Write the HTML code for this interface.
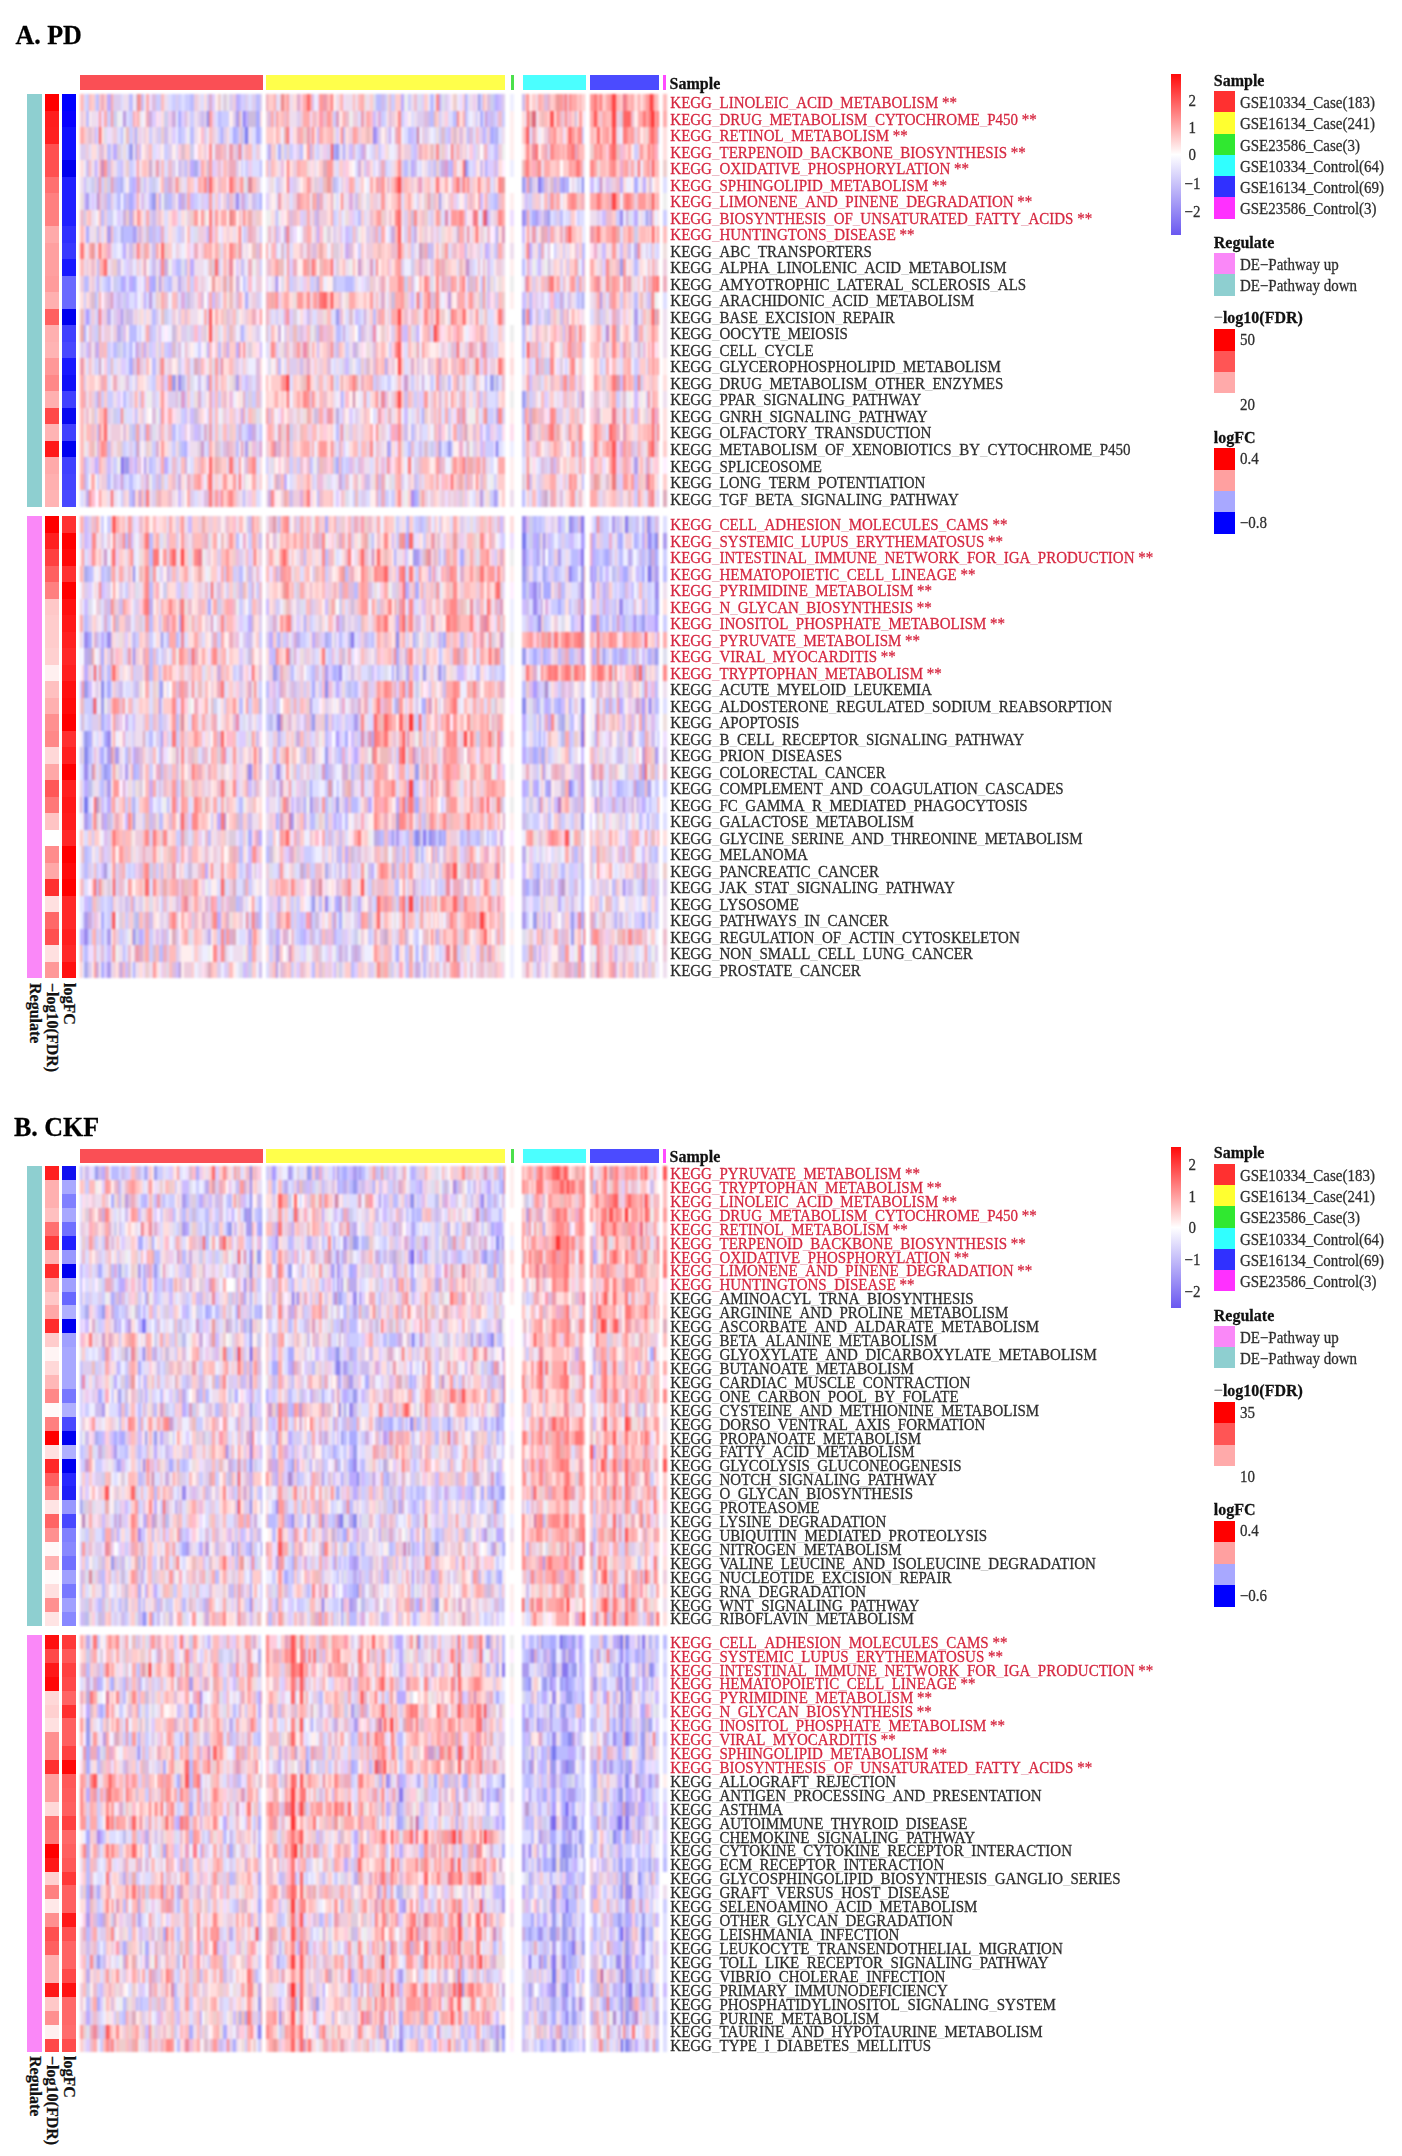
<!DOCTYPE html><html><head><meta charset="utf-8"><style>
html,body{margin:0;padding:0;background:#fff}
body{width:1402px;height:2156px;position:relative;overflow:hidden;font-family:"Liberation Serif", serif}
.a{position:absolute}
.t{position:absolute;white-space:nowrap;font-size:15px;line-height:15px;color:#2e2e2e;-webkit-text-stroke:0.25px currentColor;transform:scaleY(1.06);transform-origin:0 12.6px}
s{text-decoration:none;color:#c8c8c8;-webkit-text-stroke:0}
.r{color:#d62841}
.r s{color:#eab0bc}
.b{font-weight:bold;color:#111;font-size:16px;line-height:16px;transform-origin:0 13.4px}
.m{color:#888}
.h{position:absolute;left:80.3px;width:587px}
</style></head><body>
<div class="t" style="left:15.4px;top:22.8px;font-size:26px;line-height:26px;font-weight:bold;color:#000;transform:scaleY(1.06);transform-origin:0 21.8px">A. PD</div>
<div class="a" style="left:80.3px;top:75.3px;width:182.4px;height:15.2px;background:#fa4f55"></div>
<div class="a" style="left:266.4px;top:75.3px;width:239.1px;height:15.2px;background:#ffff4b"></div>
<div class="a" style="left:510.5px;top:75.3px;width:3.5px;height:15.2px;background:#4be04b"></div>
<div class="a" style="left:522.5px;top:75.3px;width:63.3px;height:15.2px;background:#4bffff"></div>
<div class="a" style="left:590.2px;top:75.3px;width:69.0px;height:15.2px;background:#4b4bff"></div>
<div class="a" style="left:663.4px;top:75.3px;width:3.0px;height:15.2px;background:#ff4bff"></div>
<div class="t b" style="left:669.6px;top:76.3px">Sample</div>
<div class="a" style="left:80.3px;top:94.00px;width:587px;height:413.00px;filter:blur(1.00px)">
<div class="a" style="left:0;width:587px;top:0.00px;height:16.92px;background:linear-gradient(90deg,#fbb 0 4px,#ddf 0 6px,#ccf 0 9px,#fbb 0 11px,#fcc 0 15px,#ccf 0 17px,#bbf 0 19px,#fcc 0 21px,#eab 0 24px,#fcc 0 27px,#baf 0 31px,#faa 0 33px,#dce 0 41px,#ddf 0 43px,#ede 0 49px,#bbf 0 53px,#fee 0 55px,#ddf 0 57px,#e88 0 59px,#f99 0 61px,#cbe 0 64px,#eef 0 66px,#faa 0 69px,#edf 0 72px,#dbd 0 76px,#ccf 0 81px,#fbb 0 84px,#ede 0 88px,#ddf 0 92px,#ccf 0 96px,#dce 0 98px,#ccf 0 101px,#ddf 0 105px,#ccf 0 110px,#bbf 0 114px,#ecd 0 118px,#ede 0 121px,#ddf 0 124px,#fdd 0 127px,#ccf 0 129px,#dac 0 132px,#dcf 0 135px,#fee 0 138px,#ecc 0 141px,#eef 0 143px,#dcd 0 147px,#eee 0 149px,#dce 0 153px,#ecd 0 156px,#baf 0 159px,#bbf 0 161px,#dcf 0 163px,#ccf 0 165px,#dce 0 168px,#ddf 0 172px,#dce 0 176px,#bbf 0 180px,#dce 0 182px,#fff 0 186px,#eab 0 188px,#fcc 0 194px,#faa 0 196px,#ddf 0 198px,#ede 0 201px,#e88 0 204px,#fbb 0 207px,#f99 0 209px,#ede 0 213px,#fdd 0 217px,#dac 0 220px,#fcd 0 223px,#faa 0 227px,#f66 0 230px,#faa 0 232px,#dbe 0 234px,#eef 0 237px,#edf 0 239px,#f99 0 243px,#e9a 0 247px,#fbb 0 251px,#f77 0 253px,#fee 0 256px,#ede 0 259px,#fcc 0 261px,#faa 0 263px,#edf 0 265px,#ede 0 273px,#fbb 0 275px,#ede 0 278px,#fbb 0 281px,#faa 0 284px,#edd 0 286px,#ede 0 290px,#fcc 0 293px,#dde 0 296px,#bbf 0 301px,#cbe 0 305px,#ccf 0 307px,#edd 0 309px,#ebc 0 311px,#ccf 0 315px,#fcc 0 321px,#baf 0 324px,#eee 0 328px,#ccf 0 331px,#ede 0 334px,#ebc 0 337px,#ddf 0 339px,#dde 0 342px,#dcf 0 344px,#fcc 0 348px,#eef 0 350px,#bbf 0 354px,#eef 0 356px,#f88 0 359px,#baf 0 361px,#dde 0 365px,#dce 0 368px,#edf 0 371px,#fee 0 373px,#ecc 0 377px,#eef 0 379px,#edf 0 383px,#fcc 0 385px,#aaf 0 387px,#ddf 0 389px,#ede 0 393px,#ece 0 396px,#ede 0 398px,#99e 0 400px,#ccf 0 403px,#fbb 0 405px,#fdd 0 407px,#dbd 0 410px,#cce 0 414px,#bbf 0 416px,#baf 0 418px,#cbf 0 422px,#dce 0 425px,#fff 0 430px,#eef 0 434px,#fff 0 442px,#cbe 0 445px,#fbb 0 447px,#f88 0 449px,#fee 0 452px,#fcc 0 456px,#ede 0 458px,#faa 0 461px,#fbb 0 464px,#dbd 0 468px,#eab 0 470px,#fcc 0 474px,#fbb 0 476px,#e99 0 480px,#f99 0 483px,#eab 0 485px,#f77 0 487px,#ecd 0 489px,#f88 0 491px,#faa 0 497px,#fcc 0 499px,#fbb 0 502px,#fdd 0 504px,#fbb 0 505px,#fff 0 510px,#f99 0 514px,#f77 0 517px,#faa 0 520px,#f77 0 522px,#fcc 0 526px,#faa 0 529px,#f99 0 532px,#f44 0 536px,#fbb 0 540px,#fcc 0 543px,#e78 0 546px,#f99 0 548px,#fbb 0 551px,#faa 0 554px,#fdd 0 558px,#faa 0 560px,#fdd 0 563px,#fbb 0 566px,#f99 0 570px,#f33 0 572px,#f66 0 574px,#fbb 0 578px,#fdd 0 579px,#fff 0 583px,#fbb 0 586px)"></div>
<div class="a" style="left:0;width:587px;top:16.52px;height:16.92px;background:linear-gradient(90deg,#ecd 0 4px,#fdd 0 6px,#bbf 0 9px,#fee 0 11px,#ede 0 17px,#edf 0 19px,#f99 0 21px,#edf 0 24px,#faa 0 27px,#ccf 0 31px,#f99 0 33px,#cce 0 37px,#eee 0 41px,#eef 0 43px,#b9d 0 46px,#ddf 0 49px,#ccf 0 53px,#faa 0 55px,#fcd 0 57px,#faa 0 59px,#edd 0 61px,#eef 0 64px,#fee 0 66px,#eab 0 69px,#cad 0 72px,#dcf 0 76px,#fde 0 79px,#edf 0 81px,#fdd 0 84px,#cce 0 88px,#ece 0 92px,#cad 0 96px,#eef 0 98px,#aaf 0 101px,#dcf 0 105px,#dbd 0 107px,#ede 0 110px,#ccf 0 114px,#ede 0 118px,#dce 0 121px,#cbe 0 124px,#dce 0 127px,#88e 0 129px,#f99 0 132px,#ece 0 135px,#ddf 0 138px,#bbf 0 141px,#ccf 0 149px,#fee 0 153px,#dce 0 156px,#a9e 0 159px,#ebb 0 161px,#ddf 0 163px,#87e 0 165px,#baf 0 168px,#cbd 0 176px,#aaf 0 180px,#fdd 0 182px,#fff 0 186px,#ecd 0 188px,#dbd 0 191px,#faa 0 194px,#ddf 0 196px,#f99 0 198px,#fcc 0 201px,#fbb 0 204px,#ebc 0 207px,#faa 0 209px,#ede 0 217px,#dce 0 220px,#ecd 0 223px,#faa 0 230px,#edf 0 232px,#fbb 0 234px,#ebc 0 237px,#fdd 0 239px,#f9a 0 243px,#ebc 0 247px,#f99 0 251px,#fbb 0 253px,#ccf 0 256px,#d9b 0 259px,#fee 0 261px,#fdd 0 263px,#faa 0 265px,#ebc 0 269px,#eee 0 273px,#ecd 0 278px,#ddf 0 281px,#e9a 0 284px,#ede 0 286px,#faa 0 290px,#fbc 0 293px,#cbf 0 296px,#ede 0 298px,#dad 0 301px,#ccf 0 305px,#ddf 0 307px,#fdd 0 309px,#dbd 0 311px,#ecd 0 315px,#fdd 0 318px,#f88 0 321px,#ccf 0 324px,#edf 0 328px,#fee 0 331px,#ddf 0 334px,#ede 0 337px,#dce 0 344px,#dbd 0 348px,#cbe 0 350px,#bbf 0 354px,#ebb 0 356px,#fcc 0 359px,#ccf 0 361px,#ede 0 365px,#fcd 0 368px,#ddf 0 373px,#bbf 0 377px,#f88 0 379px,#fdd 0 383px,#faa 0 385px,#bbf 0 387px,#ddf 0 389px,#eef 0 393px,#ede 0 396px,#ccf 0 398px,#fee 0 400px,#aaf 0 403px,#ddf 0 405px,#c9c 0 407px,#cbf 0 410px,#cbe 0 414px,#ccf 0 416px,#dcf 0 418px,#ebc 0 422px,#ccf 0 425px,#fff 0 430px,#fee 0 434px,#fff 0 442px,#fdd 0 445px,#ede 0 447px,#f66 0 449px,#ebb 0 452px,#d67 0 456px,#eef 0 458px,#fcc 0 461px,#ebb 0 464px,#fbb 0 468px,#fdd 0 470px,#f55 0 474px,#fee 0 476px,#f99 0 480px,#ebc 0 483px,#ecd 0 485px,#f88 0 487px,#ecd 0 489px,#fab 0 491px,#fcc 0 495px,#cbd 0 497px,#fee 0 499px,#f99 0 502px,#fee 0 504px,#edf 0 505px,#fff 0 510px,#faa 0 514px,#f55 0 517px,#fbb 0 520px,#ecd 0 522px,#faa 0 526px,#fbb 0 532px,#f44 0 536px,#ecd 0 540px,#dcd 0 543px,#f66 0 551px,#ebc 0 554px,#fee 0 558px,#faa 0 563px,#f77 0 566px,#faa 0 568px,#f88 0 570px,#f66 0 572px,#f22 0 574px,#f99 0 578px,#f66 0 579px,#fff 0 583px,#faa 0 586px)"></div>
<div class="a" style="left:0;width:587px;top:33.04px;height:16.92px;background:linear-gradient(90deg,#faa 0 4px,#fcc 0 6px,#ecd 0 9px,#dbc 0 11px,#ecd 0 15px,#cbf 0 17px,#ddf 0 19px,#f55 0 21px,#fdd 0 24px,#dde 0 27px,#edf 0 31px,#ede 0 33px,#ecd 0 37px,#ddf 0 41px,#bbf 0 43px,#eee 0 46px,#ebb 0 49px,#ccf 0 53px,#ecd 0 55px,#aaf 0 57px,#edd 0 59px,#ece 0 61px,#ede 0 64px,#ecd 0 66px,#fdd 0 69px,#ccf 0 72px,#ede 0 76px,#dce 0 79px,#ccf 0 81px,#ecc 0 84px,#cbe 0 88px,#ede 0 92px,#dcf 0 96px,#eef 0 98px,#bbf 0 101px,#ccf 0 105px,#edf 0 107px,#eee 0 110px,#bbf 0 114px,#ede 0 118px,#fee 0 121px,#fbc 0 124px,#dce 0 127px,#eef 0 129px,#fbb 0 132px,#ecd 0 135px,#ede 0 138px,#ccf 0 141px,#aaf 0 143px,#dce 0 147px,#fdd 0 149px,#ddf 0 153px,#aaf 0 156px,#bbf 0 159px,#ecd 0 161px,#cbd 0 163px,#ccf 0 165px,#77e 0 168px,#ede 0 172px,#ddf 0 176px,#aaf 0 180px,#ccf 0 182px,#fff 0 186px,#fcc 0 194px,#fee 0 196px,#faa 0 198px,#fcc 0 201px,#eef 0 204px,#eaa 0 207px,#f66 0 209px,#edf 0 213px,#fdd 0 217px,#eab 0 220px,#faa 0 223px,#ecc 0 227px,#e9a 0 230px,#ecd 0 232px,#f88 0 234px,#fdd 0 237px,#cbf 0 239px,#faa 0 243px,#fcc 0 247px,#fbb 0 251px,#faa 0 253px,#edd 0 256px,#dcf 0 259px,#fdd 0 261px,#f88 0 263px,#bbf 0 265px,#fdd 0 269px,#ecd 0 273px,#f99 0 275px,#faa 0 278px,#ecd 0 281px,#fcc 0 286px,#ebb 0 290px,#fcc 0 293px,#98e 0 296px,#baf 0 298px,#dce 0 301px,#fee 0 305px,#ecd 0 307px,#ddf 0 309px,#cae 0 311px,#eef 0 315px,#eab 0 318px,#f99 0 321px,#eef 0 324px,#ddf 0 328px,#bbf 0 331px,#cbf 0 334px,#ccf 0 337px,#c79 0 339px,#eef 0 342px,#ecd 0 344px,#dce 0 348px,#ede 0 350px,#eef 0 354px,#ddf 0 356px,#edd 0 359px,#ccf 0 361px,#dbc 0 365px,#ccf 0 368px,#cbf 0 371px,#fcc 0 373px,#dbc 0 377px,#fdd 0 379px,#dbd 0 383px,#fdd 0 385px,#ede 0 387px,#bbf 0 389px,#dbd 0 393px,#ddf 0 396px,#fbb 0 398px,#ece 0 400px,#dce 0 403px,#baf 0 405px,#ccf 0 407px,#ecd 0 410px,#aaf 0 414px,#bbf 0 416px,#aae 0 418px,#ddf 0 422px,#ede 0 425px,#fff 0 430px,#fee 0 434px,#fff 0 442px,#fcc 0 445px,#f99 0 447px,#f44 0 449px,#ddf 0 452px,#eab 0 456px,#fdd 0 458px,#eef 0 461px,#fee 0 464px,#ecd 0 468px,#eab 0 470px,#faa 0 474px,#f88 0 476px,#fcc 0 480px,#fbb 0 483px,#edf 0 485px,#fdd 0 487px,#faa 0 489px,#f55 0 491px,#f99 0 495px,#fcc 0 497px,#f99 0 499px,#f88 0 502px,#ccf 0 504px,#fff 0 505px,#fff 0 510px,#fbb 0 514px,#fcc 0 517px,#f66 0 520px,#fdd 0 522px,#faa 0 526px,#f99 0 529px,#fcc 0 532px,#f55 0 536px,#ede 0 540px,#eef 0 543px,#f77 0 546px,#f88 0 548px,#faa 0 551px,#f99 0 554px,#ecd 0 558px,#faa 0 560px,#fee 0 563px,#fcc 0 566px,#edd 0 568px,#faa 0 570px,#f77 0 572px,#f66 0 574px,#f99 0 578px,#ccf 0 579px,#fff 0 583px,#fdd 0 586px)"></div>
<div class="a" style="left:0;width:587px;top:49.56px;height:16.92px;background:linear-gradient(90deg,#dce 0 6px,#ecd 0 9px,#ddf 0 11px,#fdd 0 17px,#ddf 0 19px,#ebc 0 21px,#dbd 0 24px,#fdd 0 27px,#bbf 0 31px,#ede 0 33px,#baf 0 37px,#dcd 0 41px,#ddf 0 43px,#edd 0 46px,#ddf 0 49px,#99e 0 53px,#fee 0 55px,#aaf 0 57px,#fbb 0 59px,#cbf 0 61px,#fee 0 64px,#fdd 0 66px,#ecd 0 69px,#fbb 0 72px,#ddf 0 76px,#edf 0 79px,#ede 0 81px,#fee 0 84px,#ccf 0 88px,#dce 0 92px,#fee 0 96px,#ddf 0 98px,#fcd 0 101px,#dbc 0 105px,#fcc 0 110px,#cce 0 114px,#fef 0 118px,#fcc 0 121px,#fdd 0 124px,#ecd 0 127px,#fef 0 129px,#f88 0 132px,#eef 0 135px,#eab 0 141px,#fbb 0 143px,#ebc 0 147px,#eef 0 149px,#e9a 0 153px,#ecd 0 156px,#dbd 0 159px,#f77 0 161px,#ccf 0 163px,#fdd 0 165px,#ebc 0 168px,#fbb 0 172px,#ddf 0 176px,#ecd 0 180px,#eef 0 182px,#fff 0 186px,#ddf 0 188px,#bae 0 191px,#fcc 0 194px,#ecc 0 196px,#eef 0 198px,#aaf 0 201px,#edd 0 204px,#ccf 0 207px,#ecc 0 209px,#ccf 0 213px,#edf 0 217px,#dce 0 220px,#bbf 0 223px,#fee 0 227px,#f99 0 230px,#bbf 0 232px,#fbb 0 234px,#ddf 0 237px,#ccf 0 239px,#ede 0 243px,#ece 0 247px,#dce 0 251px,#f55 0 253px,#aaf 0 256px,#99e 0 259px,#ddf 0 261px,#ede 0 263px,#aaf 0 265px,#ede 0 269px,#cbf 0 273px,#ebc 0 275px,#ddf 0 278px,#ccf 0 281px,#cae 0 284px,#dac 0 286px,#eef 0 290px,#ddf 0 293px,#dce 0 296px,#fcc 0 298px,#ccf 0 301px,#edf 0 305px,#fdd 0 307px,#edd 0 309px,#eef 0 315px,#ede 0 318px,#eab 0 321px,#fdd 0 324px,#ecd 0 331px,#ccf 0 334px,#cbf 0 337px,#ecd 0 339px,#eab 0 342px,#fcc 0 344px,#fbb 0 348px,#fdd 0 350px,#ebb 0 354px,#ede 0 356px,#f88 0 359px,#dde 0 361px,#ecc 0 365px,#ece 0 368px,#eef 0 371px,#f77 0 373px,#ecd 0 377px,#faa 0 379px,#ecd 0 383px,#fdd 0 385px,#ecd 0 387px,#eef 0 389px,#fcd 0 393px,#dcf 0 396px,#dde 0 398px,#ecd 0 400px,#fff 0 403px,#ecd 0 405px,#faa 0 407px,#dcf 0 410px,#ddf 0 414px,#cbf 0 416px,#bbf 0 418px,#ecd 0 422px,#eee 0 425px,#fff 0 430px,#fee 0 434px,#fff 0 442px,#fee 0 445px,#fbb 0 447px,#f77 0 449px,#fcc 0 452px,#e89 0 456px,#f66 0 458px,#fee 0 461px,#fbb 0 464px,#eab 0 468px,#ddf 0 470px,#f88 0 474px,#faa 0 480px,#fbb 0 483px,#faa 0 485px,#fcc 0 487px,#f88 0 489px,#f99 0 491px,#f77 0 495px,#dac 0 497px,#f99 0 499px,#fbb 0 504px,#fdd 0 505px,#fff 0 510px,#ecc 0 514px,#f99 0 517px,#faa 0 520px,#f88 0 522px,#fbb 0 526px,#fcd 0 529px,#f88 0 532px,#f66 0 536px,#ebb 0 540px,#ebd 0 543px,#fbc 0 546px,#fdd 0 548px,#faa 0 551px,#fee 0 554px,#ccf 0 558px,#ecd 0 560px,#f99 0 563px,#fcc 0 568px,#f77 0 570px,#fbb 0 572px,#f88 0 574px,#fab 0 578px,#eef 0 579px,#fff 0 583px,#fdd 0 586px)"></div>
<div class="a" style="left:0;width:587px;top:66.08px;height:16.92px;background:linear-gradient(90deg,#fdd 0 4px,#eef 0 6px,#cbe 0 9px,#fbb 0 11px,#ede 0 15px,#baf 0 17px,#edf 0 19px,#fbb 0 21px,#c8b 0 24px,#f99 0 27px,#cbe 0 31px,#fcc 0 33px,#ede 0 37px,#ccf 0 41px,#cbf 0 43px,#ede 0 46px,#ecc 0 49px,#ccf 0 53px,#ddf 0 55px,#edf 0 57px,#f99 0 59px,#eef 0 61px,#fcc 0 64px,#fbb 0 66px,#fcc 0 69px,#cac 0 72px,#ede 0 76px,#e9a 0 79px,#ddf 0 81px,#fbb 0 84px,#ddf 0 88px,#ebc 0 92px,#dce 0 96px,#fff 0 98px,#cbe 0 101px,#dce 0 105px,#bbf 0 107px,#ecd 0 110px,#baf 0 114px,#aae 0 118px,#dcf 0 121px,#faa 0 124px,#fcc 0 127px,#cbd 0 129px,#f99 0 132px,#dcf 0 135px,#ece 0 138px,#ebc 0 141px,#edf 0 143px,#fbb 0 147px,#ecd 0 149px,#eab 0 156px,#dce 0 159px,#fee 0 161px,#ccf 0 163px,#eef 0 165px,#ccf 0 168px,#ece 0 172px,#ddf 0 180px,#bbf 0 182px,#fff 0 186px,#fbb 0 188px,#dce 0 191px,#fbb 0 194px,#fcc 0 196px,#fdd 0 198px,#ede 0 201px,#ebd 0 204px,#fee 0 207px,#f77 0 209px,#fdd 0 213px,#ecd 0 217px,#faa 0 220px,#fbb 0 227px,#edd 0 230px,#fde 0 232px,#fdd 0 234px,#ede 0 237px,#fee 0 239px,#fcc 0 243px,#dab 0 247px,#f99 0 253px,#ede 0 256px,#ddf 0 259px,#fcc 0 263px,#ece 0 265px,#fcd 0 269px,#fee 0 273px,#fff 0 275px,#ddf 0 278px,#cad 0 281px,#fdd 0 284px,#ccf 0 286px,#ebd 0 290px,#fdd 0 293px,#ddf 0 296px,#fef 0 298px,#dce 0 301px,#eab 0 305px,#ccf 0 307px,#ddf 0 311px,#ede 0 315px,#fcc 0 318px,#f88 0 321px,#dce 0 324px,#bbf 0 328px,#dde 0 331px,#baf 0 334px,#cbe 0 337px,#eef 0 339px,#ddf 0 342px,#fee 0 344px,#ede 0 348px,#ccf 0 350px,#dce 0 354px,#bbf 0 356px,#ecc 0 359px,#ccf 0 361px,#cad 0 365px,#d9c 0 368px,#bbf 0 371px,#baf 0 373px,#fbb 0 377px,#eef 0 379px,#fdd 0 383px,#f66 0 385px,#88e 0 387px,#bbf 0 389px,#ddf 0 393px,#dcf 0 396px,#fdd 0 398px,#fee 0 400px,#cbe 0 403px,#fde 0 405px,#aaf 0 407px,#dcf 0 414px,#dbd 0 416px,#cbf 0 418px,#fdd 0 422px,#fef 0 425px,#fff 0 430px,#eef 0 434px,#fff 0 442px,#ebb 0 445px,#f88 0 447px,#f77 0 449px,#fbb 0 452px,#fab 0 456px,#eaa 0 458px,#f88 0 461px,#ede 0 464px,#faa 0 470px,#fcc 0 476px,#fbb 0 480px,#fff 0 483px,#fcc 0 489px,#f99 0 491px,#faa 0 495px,#f99 0 497px,#f66 0 499px,#f99 0 502px,#ecd 0 504px,#eef 0 505px,#fff 0 510px,#f88 0 514px,#faa 0 517px,#edd 0 520px,#fbb 0 526px,#fcc 0 529px,#f99 0 532px,#f88 0 536px,#fcc 0 540px,#eac 0 543px,#faa 0 546px,#f99 0 548px,#ecd 0 551px,#faa 0 554px,#ede 0 558px,#f66 0 560px,#eef 0 563px,#fbb 0 566px,#faa 0 568px,#f99 0 570px,#ecd 0 572px,#f55 0 574px,#fbb 0 579px,#fff 0 583px,#ecc 0 586px)"></div>
<div class="a" style="left:0;width:587px;top:82.60px;height:16.92px;background:linear-gradient(90deg,#ede 0 4px,#cbf 0 6px,#dde 0 9px,#ddf 0 11px,#cce 0 15px,#ecd 0 17px,#bbf 0 19px,#f99 0 21px,#ccf 0 24px,#ecc 0 27px,#cce 0 31px,#e9a 0 33px,#cbe 0 37px,#bbf 0 41px,#aae 0 43px,#ddf 0 46px,#fee 0 49px,#bbf 0 53px,#baf 0 55px,#cbf 0 57px,#e9a 0 59px,#dbd 0 61px,#dde 0 64px,#cbf 0 66px,#ede 0 69px,#ccf 0 72px,#cce 0 76px,#ddf 0 79px,#fee 0 81px,#fbb 0 84px,#cbe 0 88px,#dac 0 92px,#ecd 0 96px,#f88 0 98px,#ecc 0 101px,#ede 0 105px,#ddf 0 107px,#fbb 0 110px,#fcc 0 114px,#edf 0 118px,#faa 0 121px,#fbb 0 124px,#f88 0 127px,#cbe 0 129px,#f66 0 132px,#fbb 0 135px,#fdd 0 138px,#ebc 0 141px,#fbb 0 147px,#fef 0 149px,#f77 0 153px,#faa 0 156px,#ecd 0 159px,#fbb 0 161px,#f88 0 163px,#edd 0 165px,#dde 0 168px,#d89 0 172px,#fbb 0 176px,#ecd 0 180px,#eef 0 182px,#fff 0 186px,#eef 0 188px,#ede 0 191px,#edd 0 194px,#eef 0 196px,#ccf 0 198px,#dce 0 201px,#ede 0 204px,#fee 0 207px,#f77 0 209px,#dcf 0 213px,#dce 0 217px,#ede 0 220px,#fee 0 223px,#fcc 0 227px,#f99 0 230px,#ebc 0 232px,#fdd 0 234px,#dcd 0 237px,#ecd 0 239px,#dce 0 243px,#ebb 0 247px,#e99 0 251px,#ebc 0 253px,#bbe 0 256px,#ccf 0 259px,#eef 0 261px,#dce 0 263px,#fdd 0 265px,#ece 0 269px,#faa 0 273px,#fbb 0 275px,#ddf 0 278px,#ede 0 281px,#fcc 0 284px,#fff 0 286px,#eef 0 290px,#faa 0 293px,#fdd 0 296px,#f99 0 298px,#eab 0 301px,#f99 0 305px,#fee 0 307px,#eab 0 309px,#ede 0 311px,#fbb 0 315px,#f88 0 318px,#f44 0 321px,#ebc 0 324px,#fbb 0 328px,#fcc 0 331px,#ecd 0 334px,#fdd 0 337px,#ebc 0 339px,#e9b 0 342px,#ede 0 344px,#fcc 0 348px,#fbb 0 350px,#ede 0 354px,#fdd 0 356px,#f77 0 359px,#fcd 0 361px,#fdd 0 365px,#faa 0 368px,#fee 0 371px,#ece 0 373px,#faa 0 377px,#f66 0 379px,#ebc 0 383px,#f77 0 385px,#fcc 0 387px,#f88 0 389px,#ecd 0 393px,#fcc 0 396px,#fdd 0 398px,#f77 0 400px,#fcc 0 403px,#fdd 0 405px,#ecd 0 407px,#faa 0 410px,#ddf 0 414px,#ecd 0 416px,#fee 0 418px,#f88 0 422px,#e99 0 425px,#fff 0 434px,#fff 0 442px,#99e 0 445px,#cbf 0 447px,#f99 0 449px,#aae 0 452px,#dce 0 456px,#ede 0 458px,#87e 0 461px,#aaf 0 464px,#dbd 0 468px,#ede 0 470px,#dbc 0 474px,#baf 0 476px,#dbd 0 480px,#aaf 0 483px,#a9e 0 485px,#bbf 0 487px,#aaf 0 489px,#fff 0 491px,#ede 0 495px,#eef 0 497px,#cce 0 499px,#ddf 0 502px,#88e 0 504px,#fff 0 505px,#fff 0 510px,#cbf 0 514px,#eef 0 517px,#ccf 0 520px,#c8b 0 522px,#ede 0 526px,#dbe 0 529px,#dce 0 532px,#ecd 0 536px,#ebc 0 540px,#baf 0 543px,#fdd 0 546px,#eef 0 551px,#fee 0 554px,#aaf 0 558px,#eef 0 560px,#ede 0 563px,#baf 0 566px,#fee 0 568px,#ecc 0 570px,#cbe 0 572px,#fff 0 574px,#fdd 0 578px,#fbb 0 579px,#fff 0 583px,#ddf 0 586px)"></div>
<div class="a" style="left:0;width:587px;top:99.12px;height:16.92px;background:linear-gradient(90deg,#edd 0 4px,#cbf 0 6px,#a9e 0 9px,#ddf 0 11px,#dcf 0 15px,#ddf 0 17px,#b8c 0 19px,#ebc 0 21px,#dce 0 24px,#dbd 0 27px,#bbf 0 31px,#ecd 0 33px,#ddf 0 37px,#bbf 0 41px,#fff 0 43px,#bbf 0 46px,#cbe 0 49px,#aaf 0 53px,#cbf 0 55px,#dcf 0 57px,#faa 0 59px,#eef 0 61px,#dbe 0 64px,#dde 0 66px,#edf 0 69px,#bbf 0 72px,#99e 0 76px,#fcc 0 79px,#baf 0 81px,#eee 0 84px,#bbe 0 88px,#bbf 0 92px,#dce 0 96px,#fee 0 98px,#baf 0 101px,#cad 0 105px,#ccf 0 107px,#faa 0 110px,#cbf 0 114px,#ccf 0 118px,#ddf 0 121px,#dce 0 124px,#dcf 0 127px,#ccf 0 129px,#f99 0 132px,#ddf 0 135px,#fcc 0 138px,#dcf 0 141px,#fee 0 143px,#ecd 0 147px,#bbf 0 149px,#ebc 0 153px,#dce 0 156px,#98e 0 159px,#ddf 0 161px,#dad 0 163px,#cad 0 165px,#ccf 0 168px,#ede 0 172px,#cbe 0 176px,#ccf 0 180px,#aaf 0 182px,#fff 0 186px,#dcf 0 188px,#ede 0 191px,#fee 0 196px,#ddf 0 198px,#e9a 0 201px,#fdd 0 204px,#ede 0 207px,#fcc 0 209px,#ddf 0 213px,#ecd 0 217px,#e9a 0 220px,#faa 0 223px,#fbb 0 227px,#faa 0 230px,#eef 0 232px,#eaa 0 234px,#faa 0 237px,#bae 0 239px,#eab 0 243px,#ede 0 247px,#fdd 0 251px,#eab 0 253px,#eee 0 256px,#ddf 0 259px,#fee 0 261px,#f88 0 263px,#ede 0 269px,#dad 0 273px,#ede 0 275px,#cbe 0 278px,#ecc 0 281px,#ede 0 284px,#fee 0 286px,#dde 0 290px,#fcc 0 293px,#ecd 0 298px,#ede 0 301px,#f99 0 305px,#ede 0 307px,#fdd 0 309px,#fee 0 311px,#fcc 0 315px,#fbb 0 318px,#f88 0 321px,#ddf 0 324px,#fcc 0 328px,#faa 0 331px,#fdd 0 334px,#eef 0 337px,#dce 0 339px,#fdd 0 342px,#eef 0 344px,#ecc 0 348px,#e9a 0 350px,#dcd 0 354px,#ebc 0 356px,#fcc 0 359px,#99e 0 361px,#ede 0 365px,#fee 0 368px,#ecd 0 371px,#fbb 0 373px,#ece 0 377px,#ddf 0 379px,#fee 0 383px,#fde 0 385px,#ccf 0 387px,#fcc 0 389px,#ebc 0 393px,#fcc 0 396px,#fff 0 398px,#f99 0 400px,#cbf 0 403px,#fde 0 405px,#faa 0 407px,#dce 0 410px,#ccf 0 414px,#bbf 0 418px,#ebc 0 422px,#fbb 0 425px,#fff 0 430px,#fee 0 434px,#fff 0 442px,#ede 0 445px,#cbf 0 447px,#dce 0 449px,#ccf 0 452px,#ecd 0 456px,#fcc 0 458px,#ecd 0 461px,#eef 0 464px,#fbb 0 468px,#ccf 0 470px,#f99 0 474px,#ecd 0 476px,#faa 0 480px,#eef 0 483px,#fdd 0 485px,#fee 0 487px,#faa 0 489px,#f99 0 491px,#f88 0 495px,#f99 0 497px,#ecc 0 499px,#fbb 0 502px,#eab 0 504px,#fcc 0 505px,#fff 0 510px,#faa 0 517px,#f77 0 520px,#f99 0 522px,#fbb 0 526px,#faa 0 529px,#eab 0 532px,#f44 0 536px,#faa 0 540px,#eef 0 543px,#f99 0 546px,#f77 0 548px,#f88 0 551px,#faa 0 554px,#ecd 0 558px,#f99 0 566px,#fcc 0 568px,#faa 0 570px,#ebb 0 572px,#f55 0 574px,#fbb 0 578px,#f99 0 579px,#fff 0 583px,#eee 0 586px)"></div>
<div class="a" style="left:0;width:587px;top:115.64px;height:16.92px;background:linear-gradient(90deg,#ebc 0 4px,#cce 0 6px,#fcc 0 9px,#fbb 0 11px,#ede 0 15px,#eef 0 17px,#fee 0 19px,#fbb 0 21px,#bbf 0 24px,#ecd 0 27px,#ccf 0 31px,#cce 0 33px,#eef 0 37px,#dcf 0 41px,#ddf 0 43px,#cad 0 46px,#ecc 0 49px,#bae 0 53px,#fbb 0 55px,#fee 0 57px,#f88 0 59px,#faa 0 61px,#fdd 0 64px,#ddf 0 66px,#faa 0 69px,#dce 0 72px,#cbe 0 76px,#ecd 0 79px,#ebc 0 81px,#fdd 0 84px,#ddf 0 88px,#fdd 0 92px,#fbc 0 96px,#fcd 0 98px,#ddf 0 101px,#fdd 0 105px,#eee 0 107px,#ecd 0 110px,#ecc 0 114px,#f99 0 118px,#fee 0 121px,#f99 0 124px,#edd 0 127px,#fff 0 129px,#f77 0 132px,#ede 0 135px,#f99 0 138px,#fdd 0 141px,#faa 0 147px,#fff 0 149px,#e88 0 153px,#f99 0 156px,#fee 0 159px,#fbb 0 161px,#ede 0 163px,#f88 0 165px,#fcc 0 168px,#eaa 0 172px,#ecd 0 176px,#ecc 0 180px,#fcc 0 182px,#fff 0 186px,#eee 0 191px,#fdd 0 194px,#ede 0 196px,#bbf 0 198px,#eee 0 201px,#fde 0 204px,#fee 0 207px,#fbb 0 209px,#dbd 0 213px,#ebc 0 217px,#fcc 0 220px,#dcf 0 223px,#dce 0 227px,#faa 0 230px,#ddf 0 232px,#fcc 0 234px,#cbe 0 237px,#cad 0 239px,#ecd 0 247px,#fdd 0 251px,#faa 0 253px,#ccf 0 256px,#ddf 0 259px,#fcc 0 261px,#ddf 0 263px,#eef 0 265px,#edd 0 269px,#ece 0 273px,#dcf 0 275px,#ddf 0 278px,#bbf 0 281px,#fcc 0 284px,#ddf 0 286px,#ede 0 290px,#ebc 0 293px,#fcc 0 296px,#faa 0 298px,#f99 0 301px,#ecc 0 305px,#ecd 0 307px,#fee 0 309px,#ebc 0 311px,#fdd 0 315px,#f88 0 318px,#f66 0 321px,#ede 0 324px,#dce 0 328px,#fbb 0 331px,#cbd 0 334px,#f88 0 337px,#ede 0 339px,#fcc 0 342px,#ebc 0 344px,#ecc 0 348px,#ddf 0 350px,#dce 0 354px,#fdd 0 356px,#f99 0 359px,#ebb 0 361px,#ddf 0 365px,#d8a 0 368px,#edf 0 371px,#f99 0 377px,#faa 0 379px,#f88 0 383px,#faa 0 385px,#dcf 0 387px,#fee 0 389px,#fde 0 393px,#e78 0 396px,#f77 0 398px,#eef 0 400px,#ddf 0 403px,#f66 0 405px,#c58 0 407px,#cbf 0 410px,#ede 0 414px,#ecd 0 418px,#f88 0 422px,#faa 0 425px,#fff 0 430px,#edf 0 434px,#fff 0 442px,#98e 0 445px,#aaf 0 447px,#faa 0 449px,#ccf 0 452px,#aaf 0 456px,#a9e 0 458px,#cbf 0 461px,#dce 0 464px,#bae 0 468px,#99e 0 470px,#ddf 0 474px,#ccf 0 476px,#dce 0 480px,#bbf 0 483px,#eef 0 485px,#ddf 0 489px,#dce 0 491px,#fcc 0 495px,#fef 0 497px,#ccf 0 499px,#ddf 0 504px,#eef 0 505px,#fff 0 510px,#ede 0 517px,#dce 0 520px,#edf 0 522px,#cbf 0 526px,#ebc 0 532px,#fcc 0 536px,#ccf 0 540px,#98e 0 543px,#eef 0 546px,#cad 0 548px,#dde 0 551px,#ddf 0 554px,#baf 0 558px,#eee 0 560px,#ede 0 563px,#ddf 0 566px,#99e 0 568px,#dce 0 570px,#a9e 0 572px,#fbb 0 574px,#eef 0 578px,#fdd 0 579px,#fff 0 583px,#ccf 0 586px)"></div>
<div class="a" style="left:0;width:587px;top:132.16px;height:16.92px;background:linear-gradient(90deg,#fbb 0 4px,#fde 0 6px,#aaf 0 9px,#ede 0 15px,#edd 0 17px,#bbf 0 19px,#fcc 0 21px,#ddf 0 24px,#fdd 0 27px,#a9e 0 31px,#fbb 0 33px,#ccf 0 37px,#ddf 0 41px,#aae 0 43px,#bbf 0 53px,#a9e 0 55px,#aaf 0 57px,#ecd 0 59px,#cad 0 61px,#ecd 0 64px,#ddf 0 66px,#dbc 0 69px,#bbf 0 72px,#cbe 0 76px,#ccf 0 79px,#cbf 0 81px,#eab 0 84px,#ddf 0 88px,#fdd 0 92px,#ede 0 96px,#ddf 0 98px,#ccf 0 101px,#dce 0 105px,#fff 0 107px,#fbb 0 110px,#ddf 0 114px,#dde 0 118px,#ecd 0 124px,#ece 0 127px,#bbf 0 129px,#f88 0 132px,#ece 0 135px,#fbb 0 138px,#eef 0 141px,#edf 0 143px,#fdd 0 147px,#ecd 0 149px,#fdd 0 153px,#ede 0 156px,#fdd 0 159px,#f77 0 161px,#eef 0 163px,#ccf 0 165px,#dce 0 168px,#eab 0 172px,#ebc 0 176px,#ede 0 180px,#ccf 0 182px,#fff 0 186px,#eee 0 188px,#ebc 0 191px,#ede 0 194px,#fbb 0 196px,#bbf 0 198px,#ece 0 201px,#eef 0 204px,#cad 0 207px,#f77 0 209px,#dce 0 213px,#edf 0 217px,#fff 0 220px,#eef 0 223px,#ebc 0 227px,#faa 0 230px,#fbb 0 232px,#eef 0 234px,#ecd 0 237px,#baf 0 239px,#fbc 0 243px,#eee 0 247px,#dcd 0 251px,#fee 0 253px,#dce 0 256px,#ede 0 259px,#ecd 0 261px,#dcf 0 263px,#eef 0 265px,#cbf 0 269px,#ccf 0 273px,#fbb 0 275px,#dce 0 278px,#eee 0 281px,#fdd 0 284px,#fee 0 286px,#dce 0 290px,#ecd 0 293px,#dbd 0 296px,#faa 0 298px,#ccf 0 301px,#faa 0 305px,#fef 0 307px,#eef 0 309px,#ddf 0 311px,#cad 0 315px,#fbb 0 318px,#f55 0 321px,#eef 0 324px,#dce 0 328px,#faa 0 331px,#ccf 0 334px,#cad 0 337px,#fee 0 339px,#fcc 0 342px,#edd 0 344px,#ecd 0 348px,#fee 0 350px,#ecd 0 354px,#edf 0 356px,#ecd 0 359px,#ddf 0 361px,#edd 0 365px,#fdd 0 368px,#fcc 0 371px,#fdd 0 373px,#ede 0 377px,#cac 0 379px,#faa 0 383px,#ebc 0 385px,#eef 0 387px,#e89 0 389px,#ede 0 393px,#fcc 0 396px,#f66 0 398px,#fdd 0 400px,#ecd 0 403px,#edd 0 405px,#eef 0 407px,#ebc 0 410px,#fef 0 414px,#edf 0 416px,#aae 0 418px,#fdd 0 422px,#d9b 0 425px,#fff 0 430px,#fee 0 434px,#fff 0 442px,#cbf 0 445px,#fee 0 447px,#f99 0 449px,#ede 0 452px,#e9a 0 456px,#ddf 0 458px,#fdd 0 461px,#dab 0 464px,#eab 0 468px,#cbf 0 470px,#faa 0 474px,#ecd 0 476px,#fdd 0 480px,#eab 0 483px,#ede 0 485px,#e9a 0 487px,#f99 0 489px,#f55 0 491px,#fbb 0 495px,#fcc 0 497px,#fdd 0 499px,#fcc 0 502px,#eef 0 504px,#ddf 0 505px,#fff 0 510px,#e9a 0 514px,#faa 0 517px,#f77 0 520px,#fbb 0 522px,#fcc 0 526px,#faa 0 532px,#f88 0 536px,#eaa 0 540px,#ddf 0 543px,#fbb 0 546px,#fcc 0 548px,#f99 0 551px,#fbb 0 554px,#cce 0 558px,#fcc 0 560px,#fbb 0 566px,#fcc 0 568px,#fbb 0 570px,#fdd 0 572px,#f55 0 574px,#fcc 0 578px,#f77 0 579px,#fff 0 583px,#fbb 0 586px)"></div>
<div class="a" style="left:0;width:587px;top:148.68px;height:16.92px;background:linear-gradient(90deg,#f77 0 4px,#fdd 0 6px,#ede 0 9px,#faa 0 11px,#e99 0 15px,#edf 0 17px,#fcc 0 19px,#f66 0 21px,#fcc 0 24px,#fbb 0 27px,#eac 0 31px,#ede 0 33px,#ddf 0 37px,#eef 0 41px,#ddf 0 43px,#baf 0 46px,#ede 0 49px,#cbe 0 53px,#ecc 0 55px,#ece 0 57px,#f77 0 59px,#fbb 0 61px,#ecd 0 64px,#eaa 0 66px,#faa 0 69px,#ede 0 72px,#cbe 0 76px,#faa 0 79px,#fee 0 81px,#f66 0 84px,#ecc 0 88px,#fcc 0 92px,#eef 0 96px,#ecd 0 98px,#ede 0 101px,#eef 0 105px,#fee 0 107px,#fcd 0 110px,#edf 0 114px,#eab 0 118px,#fde 0 121px,#ecd 0 124px,#faa 0 127px,#fbb 0 129px,#faa 0 132px,#fdd 0 135px,#faa 0 138px,#ecc 0 141px,#ddf 0 143px,#fbb 0 147px,#fee 0 149px,#f88 0 153px,#faa 0 156px,#ecc 0 159px,#f88 0 161px,#dce 0 163px,#fee 0 165px,#ede 0 168px,#fee 0 172px,#ebb 0 176px,#dbd 0 180px,#faa 0 182px,#fff 0 186px,#faa 0 188px,#eef 0 191px,#fbb 0 194px,#fab 0 196px,#ddf 0 198px,#eef 0 201px,#dbc 0 204px,#ddf 0 207px,#f99 0 209px,#ddf 0 213px,#fdd 0 220px,#ebc 0 223px,#ede 0 227px,#eab 0 230px,#ecd 0 232px,#dbd 0 237px,#fcc 0 239px,#eaa 0 243px,#fcc 0 247px,#eef 0 251px,#fbb 0 253px,#dcd 0 259px,#ede 0 261px,#fcc 0 263px,#eef 0 265px,#cae 0 269px,#dbd 0 273px,#fdd 0 275px,#fef 0 278px,#ccf 0 281px,#fcc 0 284px,#fef 0 286px,#ecd 0 293px,#fcc 0 298px,#ebb 0 301px,#fcc 0 305px,#fdd 0 307px,#fcc 0 311px,#ebc 0 318px,#f66 0 321px,#fbb 0 324px,#ede 0 328px,#fcc 0 331px,#ccf 0 334px,#ede 0 337px,#eef 0 339px,#c9b 0 342px,#dbc 0 344px,#eab 0 348px,#bbf 0 350px,#cbe 0 354px,#fee 0 356px,#fbb 0 359px,#eef 0 361px,#ecc 0 365px,#f99 0 368px,#ddf 0 371px,#ecd 0 373px,#ebc 0 377px,#fdd 0 379px,#fbc 0 385px,#bbf 0 387px,#fdd 0 389px,#ecd 0 393px,#fde 0 396px,#ede 0 398px,#ecd 0 400px,#ddf 0 403px,#fdd 0 405px,#baf 0 407px,#cbf 0 410px,#ede 0 414px,#ccf 0 416px,#cbe 0 418px,#faa 0 422px,#ecd 0 425px,#fff 0 430px,#ede 0 434px,#fff 0 442px,#ddf 0 445px,#fcc 0 447px,#f77 0 449px,#baf 0 452px,#ede 0 456px,#fdd 0 458px,#bbf 0 461px,#eab 0 464px,#eef 0 468px,#dbd 0 470px,#fff 0 474px,#ccf 0 476px,#ede 0 480px,#fdd 0 483px,#ccf 0 485px,#fdd 0 487px,#ddf 0 489px,#fdd 0 491px,#fee 0 495px,#ebc 0 497px,#dcf 0 499px,#fcc 0 502px,#bbf 0 505px,#fff 0 510px,#fde 0 514px,#eac 0 517px,#ede 0 522px,#cbf 0 526px,#fdd 0 529px,#ede 0 532px,#f99 0 536px,#ede 0 540px,#cbf 0 543px,#fcc 0 546px,#ecd 0 548px,#cbe 0 551px,#eef 0 554px,#bae 0 558px,#f88 0 560px,#ede 0 563px,#eef 0 566px,#dce 0 568px,#eef 0 570px,#ccf 0 572px,#fcc 0 574px,#ddf 0 578px,#cbf 0 579px,#fff 0 583px,#edd 0 586px)"></div>
<div class="a" style="left:0;width:587px;top:165.20px;height:16.92px;background:linear-gradient(90deg,#fbb 0 4px,#ede 0 6px,#ecd 0 9px,#fdd 0 11px,#ebc 0 15px,#fdd 0 17px,#bbf 0 19px,#fbb 0 21px,#faa 0 24px,#f66 0 27px,#ede 0 31px,#ecd 0 33px,#ecc 0 37px,#cbe 0 41px,#fee 0 43px,#ddf 0 46px,#dcf 0 49px,#dce 0 53px,#eef 0 55px,#ddf 0 57px,#fcc 0 59px,#ddf 0 61px,#fdd 0 64px,#d9b 0 66px,#fee 0 69px,#ddf 0 72px,#cbe 0 76px,#ede 0 79px,#cbf 0 81px,#f88 0 84px,#cad 0 88px,#eee 0 92px,#dcf 0 96px,#bbf 0 101px,#dde 0 105px,#bbf 0 107px,#fcc 0 110px,#baf 0 114px,#ede 0 124px,#eef 0 127px,#ede 0 129px,#ebb 0 132px,#dcd 0 135px,#f66 0 138px,#dce 0 141px,#eef 0 143px,#fbb 0 147px,#ede 0 149px,#e89 0 153px,#fee 0 156px,#dcf 0 159px,#fdd 0 161px,#bbf 0 163px,#dce 0 165px,#eef 0 168px,#eab 0 172px,#eee 0 176px,#ecd 0 180px,#ccf 0 182px,#fff 0 186px,#ecd 0 188px,#ebc 0 191px,#fcc 0 194px,#fbb 0 196px,#f99 0 198px,#ebb 0 204px,#eef 0 207px,#f99 0 209px,#dcf 0 213px,#eab 0 217px,#fee 0 223px,#f99 0 227px,#eaa 0 230px,#ecd 0 232px,#f66 0 234px,#faa 0 237px,#fff 0 239px,#ebb 0 243px,#faa 0 247px,#fbb 0 251px,#f66 0 253px,#edf 0 256px,#dcd 0 259px,#fdd 0 263px,#fbb 0 265px,#ede 0 269px,#eee 0 273px,#fbb 0 275px,#fee 0 278px,#c9c 0 281px,#ecd 0 284px,#fee 0 286px,#ede 0 290px,#d9b 0 293px,#ddf 0 296px,#f88 0 298px,#fee 0 301px,#fcc 0 305px,#fdd 0 307px,#fbb 0 309px,#ece 0 311px,#fdd 0 315px,#faa 0 318px,#f99 0 321px,#dce 0 324px,#eef 0 331px,#cce 0 334px,#ecd 0 337px,#fcc 0 339px,#dac 0 342px,#ece 0 344px,#ecd 0 348px,#fee 0 350px,#dce 0 354px,#fcc 0 356px,#f99 0 359px,#ebb 0 361px,#eab 0 365px,#ecc 0 368px,#fcc 0 371px,#fdd 0 377px,#ddf 0 379px,#ebb 0 383px,#fdd 0 385px,#dac 0 387px,#b8c 0 389px,#dce 0 393px,#ddf 0 396px,#eef 0 398px,#ebc 0 400px,#eef 0 403px,#ebc 0 405px,#eee 0 407px,#dbe 0 410px,#ddf 0 414px,#fee 0 416px,#ecd 0 422px,#ede 0 425px,#fff 0 430px,#fee 0 434px,#fff 0 442px,#bbf 0 445px,#eef 0 447px,#eab 0 449px,#dcf 0 452px,#eee 0 456px,#ddf 0 458px,#cbf 0 461px,#ede 0 464px,#eee 0 468px,#cbd 0 470px,#ede 0 474px,#fcc 0 476px,#fdd 0 480px,#dce 0 483px,#fee 0 485px,#fcc 0 487px,#ccf 0 489px,#fcc 0 495px,#f99 0 497px,#dcd 0 499px,#eef 0 502px,#baf 0 504px,#fbb 0 505px,#fff 0 510px,#faa 0 514px,#fdd 0 517px,#ede 0 520px,#ecc 0 522px,#dcf 0 526px,#f88 0 529px,#ecc 0 532px,#fcc 0 536px,#ebc 0 540px,#99e 0 543px,#f99 0 546px,#eef 0 548px,#fdd 0 551px,#ede 0 554px,#bbf 0 558px,#ede 0 560px,#fdd 0 563px,#fee 0 566px,#eef 0 568px,#fbb 0 570px,#eef 0 572px,#faa 0 574px,#ecd 0 578px,#fee 0 579px,#fff 0 583px,#ecd 0 586px)"></div>
<div class="a" style="left:0;width:587px;top:181.72px;height:16.92px;background:linear-gradient(90deg,#ecd 0 4px,#bbf 0 9px,#fdd 0 11px,#ecd 0 15px,#ddf 0 17px,#baf 0 19px,#edd 0 21px,#ddf 0 24px,#ccf 0 27px,#bbf 0 31px,#fef 0 33px,#cce 0 37px,#ccf 0 41px,#aaf 0 43px,#baf 0 46px,#ddf 0 49px,#baf 0 53px,#aaf 0 55px,#bbf 0 57px,#eef 0 59px,#edf 0 61px,#eef 0 64px,#cbf 0 66px,#fbb 0 69px,#baf 0 72px,#aaf 0 76px,#edd 0 79px,#a9e 0 81px,#ecd 0 84px,#ccf 0 88px,#bbf 0 92px,#ede 0 98px,#bae 0 101px,#dce 0 105px,#ddf 0 107px,#fbb 0 110px,#ccf 0 114px,#fbc 0 118px,#ede 0 121px,#ecd 0 124px,#ede 0 127px,#eef 0 129px,#fee 0 132px,#e99 0 135px,#fdd 0 138px,#fcc 0 141px,#ede 0 143px,#eaa 0 147px,#ddf 0 149px,#eaa 0 153px,#fee 0 156px,#cad 0 159px,#ede 0 161px,#fff 0 163px,#bbf 0 165px,#ddf 0 168px,#fbc 0 172px,#eef 0 176px,#ecd 0 182px,#fff 0 186px,#ece 0 188px,#eef 0 191px,#ede 0 194px,#dce 0 196px,#98e 0 198px,#fef 0 201px,#dde 0 204px,#fdd 0 207px,#faa 0 209px,#ccf 0 213px,#dce 0 217px,#ede 0 220px,#ddf 0 223px,#ece 0 227px,#fcc 0 230px,#ccf 0 234px,#dce 0 237px,#aae 0 239px,#fbb 0 243px,#eef 0 247px,#fee 0 253px,#bbe 0 256px,#ccf 0 265px,#bbf 0 273px,#ccf 0 275px,#ede 0 278px,#eef 0 281px,#edf 0 284px,#ddf 0 286px,#dce 0 290px,#ecc 0 293px,#ecd 0 296px,#fee 0 298px,#ecd 0 301px,#eab 0 305px,#fdd 0 307px,#eef 0 309px,#fbb 0 318px,#f88 0 321px,#f99 0 324px,#cce 0 328px,#fbb 0 331px,#dbd 0 334px,#eef 0 337px,#fff 0 339px,#fbb 0 342px,#fee 0 344px,#f88 0 348px,#fab 0 350px,#dde 0 354px,#fee 0 356px,#f88 0 359px,#eef 0 361px,#eab 0 365px,#ebc 0 368px,#dbd 0 371px,#f99 0 373px,#faa 0 377px,#eef 0 379px,#faa 0 383px,#f77 0 385px,#fef 0 387px,#cbe 0 389px,#dbc 0 393px,#dbd 0 396px,#faa 0 398px,#fee 0 400px,#ccf 0 403px,#f88 0 405px,#eee 0 407px,#cbe 0 410px,#edd 0 414px,#ddf 0 416px,#fee 0 418px,#edd 0 422px,#fdd 0 425px,#fff 0 430px,#eee 0 434px,#fff 0 442px,#eef 0 445px,#d9b 0 447px,#f88 0 449px,#fcc 0 452px,#dce 0 456px,#fcc 0 458px,#ede 0 461px,#fbb 0 464px,#ebc 0 468px,#e99 0 470px,#f77 0 474px,#fdd 0 476px,#faa 0 480px,#ddf 0 483px,#ebc 0 485px,#fdd 0 487px,#eef 0 489px,#fbb 0 491px,#f99 0 495px,#ecd 0 497px,#bbf 0 499px,#faa 0 502px,#ddf 0 504px,#f99 0 505px,#fff 0 510px,#fbb 0 514px,#f99 0 517px,#e89 0 520px,#fcc 0 522px,#ede 0 526px,#f88 0 529px,#ebb 0 532px,#f99 0 536px,#faa 0 540px,#eef 0 543px,#f99 0 546px,#ebc 0 548px,#e9a 0 551px,#edd 0 554px,#ede 0 558px,#fcc 0 560px,#eef 0 563px,#faa 0 566px,#ddf 0 568px,#faa 0 570px,#ebc 0 572px,#f88 0 578px,#f44 0 579px,#fff 0 583px,#eab 0 586px)"></div>
<div class="a" style="left:0;width:587px;top:198.24px;height:16.92px;background:linear-gradient(90deg,#fdd 0 4px,#ccf 0 6px,#fdd 0 9px,#ecd 0 11px,#dbc 0 15px,#bbf 0 17px,#dde 0 19px,#faa 0 21px,#fef 0 24px,#ecd 0 27px,#dbd 0 31px,#d9b 0 33px,#dcf 0 37px,#cbe 0 41px,#dcf 0 43px,#cce 0 46px,#cbf 0 49px,#ddf 0 55px,#cbf 0 57px,#eef 0 61px,#ede 0 64px,#baf 0 66px,#ddf 0 69px,#b9d 0 72px,#ddf 0 76px,#ecc 0 79px,#edd 0 81px,#faa 0 84px,#ebc 0 88px,#eef 0 92px,#fbb 0 96px,#ebc 0 98px,#ddf 0 101px,#dad 0 105px,#ccf 0 107px,#cbd 0 110px,#dce 0 114px,#ede 0 118px,#fbc 0 121px,#dbd 0 124px,#fff 0 127px,#dcf 0 129px,#faa 0 132px,#cbf 0 135px,#ebc 0 138px,#dce 0 141px,#eef 0 143px,#fbb 0 147px,#eee 0 149px,#ebb 0 153px,#ede 0 156px,#dbd 0 159px,#faa 0 161px,#fcd 0 163px,#fee 0 165px,#aaf 0 168px,#ede 0 172px,#ecd 0 176px,#dce 0 180px,#ddf 0 182px,#fff 0 186px,#eab 0 188px,#faa 0 191px,#eaa 0 194px,#faa 0 196px,#f88 0 198px,#ece 0 201px,#fcc 0 204px,#faa 0 209px,#fdd 0 213px,#edd 0 217px,#f99 0 223px,#fcc 0 227px,#f88 0 230px,#ede 0 232px,#fbb 0 234px,#f99 0 237px,#ebc 0 239px,#f77 0 243px,#f66 0 247px,#fbb 0 251px,#f44 0 253px,#fcc 0 259px,#ebc 0 261px,#ede 0 263px,#fee 0 265px,#edd 0 269px,#faa 0 275px,#fcc 0 278px,#fdd 0 284px,#fbb 0 286px,#fdd 0 290px,#f99 0 293px,#ede 0 296px,#fbb 0 298px,#ede 0 301px,#dac 0 305px,#fee 0 307px,#ddf 0 309px,#fcc 0 311px,#cbd 0 315px,#faa 0 321px,#f99 0 324px,#ecc 0 328px,#ece 0 331px,#cbf 0 334px,#ede 0 337px,#f66 0 339px,#ccf 0 342px,#fdd 0 344px,#faa 0 348px,#f77 0 350px,#dbd 0 354px,#dbc 0 356px,#f88 0 359px,#ede 0 361px,#eef 0 365px,#fde 0 368px,#b9d 0 371px,#fdd 0 373px,#fee 0 377px,#eab 0 379px,#faa 0 385px,#edf 0 387px,#fcc 0 389px,#f99 0 393px,#ecd 0 396px,#fdd 0 398px,#ecc 0 400px,#cce 0 403px,#f99 0 405px,#dde 0 407px,#dbe 0 410px,#fde 0 414px,#ecd 0 416px,#ccf 0 418px,#fbb 0 422px,#ecc 0 425px,#fff 0 430px,#fee 0 434px,#fff 0 442px,#cbf 0 445px,#ccf 0 447px,#fcc 0 449px,#bbf 0 452px,#ece 0 456px,#dce 0 458px,#edf 0 461px,#dce 0 464px,#eef 0 468px,#dcf 0 470px,#fbc 0 474px,#cbf 0 476px,#ccf 0 480px,#cad 0 483px,#ccf 0 485px,#fee 0 487px,#ccf 0 489px,#dbd 0 491px,#ede 0 495px,#ddf 0 497px,#bbf 0 499px,#ccf 0 502px,#aae 0 504px,#ddf 0 505px,#fff 0 510px,#ede 0 514px,#ecd 0 517px,#faa 0 520px,#a9e 0 522px,#ecd 0 526px,#ddf 0 529px,#eab 0 532px,#f99 0 536px,#fcc 0 540px,#ccf 0 543px,#fbb 0 546px,#fdd 0 548px,#ecd 0 551px,#ede 0 554px,#bbf 0 558px,#fdd 0 560px,#ebb 0 563px,#ede 0 566px,#dce 0 568px,#cbf 0 570px,#dbc 0 572px,#f77 0 574px,#eee 0 578px,#fff 0 579px,#fff 0 583px,#ddf 0 586px)"></div>
<div class="a" style="left:0;width:587px;top:214.76px;height:16.92px;background:linear-gradient(90deg,#ebb 0 4px,#dcf 0 6px,#a9f 0 9px,#ccf 0 11px,#ecd 0 15px,#ddf 0 17px,#cbe 0 19px,#f77 0 21px,#ece 0 24px,#ecd 0 27px,#bae 0 31px,#eef 0 33px,#dce 0 37px,#dbe 0 41px,#a9e 0 43px,#dce 0 46px,#cbd 0 49px,#cbe 0 53px,#ede 0 55px,#ecd 0 57px,#ede 0 59px,#edd 0 61px,#fdd 0 64px,#ddf 0 66px,#fdd 0 69px,#ede 0 72px,#bbf 0 76px,#dce 0 79px,#eef 0 81px,#ebb 0 84px,#cce 0 88px,#ddf 0 92px,#ecd 0 96px,#fee 0 98px,#dce 0 101px,#fcc 0 105px,#dbd 0 107px,#fcc 0 110px,#ede 0 118px,#fee 0 121px,#eef 0 124px,#faa 0 127px,#ddf 0 129px,#f55 0 132px,#fee 0 135px,#faa 0 138px,#fdd 0 141px,#fbb 0 143px,#ecc 0 147px,#dbd 0 149px,#ecd 0 153px,#fbb 0 156px,#dde 0 159px,#fee 0 161px,#fdd 0 163px,#ede 0 165px,#ecd 0 168px,#fcc 0 172px,#eab 0 176px,#fde 0 180px,#f99 0 182px,#fff 0 186px,#eab 0 188px,#ecd 0 191px,#ddf 0 194px,#ede 0 196px,#ccf 0 198px,#ede 0 201px,#ddf 0 204px,#eac 0 207px,#f88 0 209px,#dcf 0 213px,#dcd 0 217px,#eef 0 220px,#fdd 0 223px,#edf 0 227px,#cbe 0 230px,#ecd 0 232px,#ddf 0 237px,#ecd 0 243px,#edd 0 247px,#fbb 0 251px,#ddf 0 256px,#99e 0 259px,#dbe 0 261px,#ebc 0 263px,#fee 0 265px,#ddf 0 269px,#dbc 0 273px,#eef 0 275px,#cbf 0 278px,#ccf 0 281px,#ddf 0 284px,#cad 0 286px,#ede 0 290px,#fcc 0 293px,#bbf 0 296px,#fcc 0 298px,#eab 0 301px,#faa 0 305px,#eef 0 307px,#fcc 0 309px,#ddf 0 311px,#faa 0 318px,#f44 0 321px,#fcc 0 324px,#ebc 0 328px,#fde 0 331px,#ebc 0 334px,#fbb 0 337px,#ecc 0 339px,#ede 0 342px,#fde 0 344px,#f88 0 348px,#fcc 0 350px,#ebc 0 354px,#fdd 0 356px,#f66 0 359px,#fcc 0 361px,#ecc 0 365px,#fee 0 368px,#dde 0 371px,#f77 0 373px,#f99 0 377px,#fcc 0 379px,#fbb 0 383px,#f55 0 385px,#fbb 0 387px,#fee 0 389px,#ecd 0 393px,#fdd 0 396px,#f88 0 398px,#ede 0 400px,#dde 0 403px,#fdd 0 405px,#ebb 0 407px,#ddf 0 414px,#fde 0 416px,#fdd 0 418px,#f77 0 422px,#ebc 0 425px,#fff 0 434px,#fff 0 442px,#99e 0 445px,#ebc 0 447px,#f77 0 449px,#aaf 0 452px,#edf 0 456px,#dbc 0 458px,#ccf 0 461px,#edf 0 464px,#cce 0 468px,#bbf 0 470px,#ecd 0 474px,#fbb 0 476px,#edd 0 480px,#cbe 0 483px,#ebc 0 485px,#fcc 0 487px,#dac 0 489px,#fff 0 491px,#fbb 0 495px,#fee 0 497px,#fcc 0 499px,#fde 0 502px,#ede 0 504px,#fee 0 505px,#fff 0 510px,#ddf 0 514px,#ecd 0 517px,#dbc 0 520px,#ccf 0 522px,#dce 0 526px,#edd 0 529px,#edf 0 532px,#eab 0 536px,#dbd 0 540px,#edf 0 543px,#fcc 0 546px,#edf 0 548px,#fdd 0 551px,#eee 0 554px,#a9e 0 558px,#eef 0 560px,#dce 0 563px,#fbb 0 566px,#edd 0 568px,#ecc 0 570px,#fbb 0 572px,#f55 0 574px,#dab 0 578px,#f88 0 579px,#fff 0 583px,#ede 0 586px)"></div>
<div class="a" style="left:0;width:587px;top:231.28px;height:16.92px;background:linear-gradient(90deg,#eaa 0 4px,#aaf 0 6px,#eef 0 9px,#ebc 0 11px,#dce 0 15px,#ccf 0 17px,#cce 0 19px,#eaa 0 21px,#edf 0 24px,#ecd 0 31px,#eef 0 33px,#ecd 0 37px,#bae 0 41px,#cce 0 43px,#dbe 0 46px,#fee 0 49px,#bbf 0 57px,#eef 0 59px,#ccf 0 61px,#eef 0 64px,#ede 0 66px,#faa 0 69px,#cbe 0 72px,#ccf 0 76px,#ede 0 79px,#dbe 0 81px,#eef 0 84px,#fef 0 88px,#eef 0 92px,#cbd 0 96px,#ecd 0 98px,#fdd 0 101px,#dce 0 107px,#dde 0 110px,#dce 0 114px,#fbc 0 118px,#dcf 0 121px,#ecd 0 124px,#dcd 0 127px,#fee 0 129px,#f55 0 132px,#ede 0 135px,#fcc 0 138px,#dde 0 141px,#eef 0 143px,#fcc 0 147px,#ccf 0 149px,#ebb 0 153px,#ecd 0 156px,#eef 0 159px,#ede 0 161px,#aaf 0 163px,#ccf 0 165px,#ede 0 168px,#fdd 0 172px,#ede 0 176px,#dce 0 180px,#eef 0 182px,#fff 0 186px,#dbc 0 188px,#ddf 0 191px,#fbb 0 194px,#fdd 0 196px,#fee 0 198px,#cad 0 201px,#fff 0 204px,#dce 0 207px,#fcc 0 209px,#dce 0 213px,#ebb 0 217px,#dce 0 220px,#dbd 0 223px,#ece 0 227px,#fbb 0 230px,#dde 0 232px,#eee 0 234px,#dcd 0 237px,#bbf 0 239px,#eab 0 243px,#ebd 0 247px,#ebc 0 251px,#fbb 0 253px,#ede 0 256px,#bbf 0 261px,#ddf 0 263px,#cad 0 265px,#ddf 0 269px,#ede 0 273px,#fdd 0 275px,#fff 0 278px,#bbf 0 281px,#dbd 0 284px,#dce 0 286px,#ede 0 290px,#dce 0 293px,#e8a 0 296px,#eef 0 298px,#fee 0 301px,#ecc 0 305px,#ede 0 307px,#fcc 0 309px,#fef 0 311px,#dce 0 315px,#fbb 0 318px,#f77 0 321px,#dbe 0 324px,#cbf 0 328px,#fbb 0 331px,#dde 0 334px,#dce 0 337px,#baf 0 339px,#fef 0 342px,#fcc 0 344px,#fbb 0 348px,#eab 0 350px,#dce 0 354px,#f33 0 356px,#f88 0 359px,#fcd 0 361px,#fde 0 365px,#fdd 0 368px,#fbb 0 371px,#fdd 0 373px,#fbc 0 377px,#f99 0 379px,#fbb 0 383px,#fee 0 385px,#eef 0 389px,#fde 0 393px,#fcd 0 396px,#fbb 0 398px,#fcc 0 400px,#eab 0 403px,#fbb 0 405px,#fdd 0 407px,#dce 0 410px,#ddf 0 414px,#ede 0 416px,#ddf 0 418px,#fcc 0 422px,#ede 0 425px,#fff 0 430px,#eee 0 434px,#fff 0 442px,#bbf 0 445px,#ecd 0 447px,#fee 0 449px,#ddf 0 452px,#fdd 0 456px,#dac 0 458px,#fcd 0 461px,#fdd 0 464px,#ecc 0 468px,#fef 0 470px,#fcc 0 474px,#faa 0 476px,#fcd 0 480px,#ecc 0 483px,#cbf 0 485px,#fbb 0 487px,#ecd 0 489px,#e78 0 491px,#faa 0 495px,#dbd 0 497px,#fdd 0 499px,#f88 0 502px,#ede 0 504px,#f88 0 505px,#fff 0 510px,#fdd 0 514px,#fcc 0 517px,#faa 0 520px,#fcc 0 522px,#ddf 0 526px,#b8c 0 529px,#fdd 0 532px,#f88 0 536px,#cbd 0 540px,#fee 0 543px,#fcc 0 546px,#faa 0 548px,#fdd 0 551px,#eef 0 554px,#bae 0 558px,#ebc 0 560px,#faa 0 563px,#ede 0 566px,#edd 0 568px,#fcc 0 572px,#f88 0 574px,#fbb 0 578px,#fdd 0 579px,#fff 0 583px,#ede 0 586px)"></div>
<div class="a" style="left:0;width:587px;top:247.80px;height:16.92px;background:linear-gradient(90deg,#dce 0 4px,#ede 0 6px,#cbf 0 9px,#dac 0 11px,#ede 0 15px,#cad 0 17px,#baf 0 19px,#fbb 0 21px,#ebc 0 24px,#fbb 0 27px,#ccf 0 31px,#edf 0 33px,#bbf 0 37px,#cce 0 41px,#dde 0 43px,#bbf 0 46px,#ddf 0 49px,#bbf 0 53px,#fff 0 55px,#baf 0 57px,#dac 0 59px,#ccf 0 61px,#ebc 0 64px,#baf 0 66px,#ecd 0 69px,#ccf 0 72px,#dcf 0 76px,#edd 0 79px,#ccf 0 81px,#fcc 0 84px,#ccf 0 88px,#cbf 0 92px,#dbc 0 96px,#ddf 0 98px,#dbd 0 101px,#eef 0 105px,#ebc 0 107px,#ede 0 110px,#fee 0 114px,#eef 0 118px,#ccf 0 121px,#fef 0 124px,#eee 0 127px,#baf 0 129px,#fbb 0 132px,#fef 0 135px,#fcc 0 138px,#bbf 0 141px,#fdd 0 143px,#ebc 0 147px,#baf 0 149px,#fcc 0 156px,#baf 0 159px,#f99 0 161px,#fef 0 163px,#f88 0 165px,#ede 0 168px,#dcd 0 172px,#fdd 0 176px,#fde 0 180px,#cbf 0 182px,#fff 0 186px,#ddf 0 188px,#ede 0 191px,#f88 0 194px,#faa 0 196px,#dcf 0 198px,#ede 0 201px,#edd 0 204px,#dbd 0 207px,#fbb 0 209px,#ede 0 213px,#ebc 0 217px,#f99 0 220px,#ecd 0 223px,#e8a 0 227px,#ebb 0 230px,#eef 0 232px,#faa 0 234px,#fdd 0 237px,#cbf 0 239px,#fdd 0 243px,#fcc 0 247px,#ebc 0 251px,#f88 0 253px,#dce 0 256px,#cbe 0 259px,#fbb 0 261px,#fcc 0 263px,#fdd 0 265px,#ccf 0 269px,#ede 0 273px,#cae 0 275px,#cbd 0 278px,#ede 0 281px,#fde 0 284px,#fef 0 286px,#edd 0 290px,#ede 0 293px,#dbd 0 296px,#fbb 0 298px,#fdd 0 301px,#fbb 0 305px,#fdd 0 307px,#fee 0 309px,#ccf 0 311px,#fcd 0 315px,#f88 0 318px,#f55 0 321px,#fde 0 324px,#ddf 0 328px,#fbb 0 331px,#fdd 0 334px,#edd 0 337px,#e9a 0 339px,#eef 0 342px,#f99 0 344px,#fcc 0 348px,#fdd 0 350px,#fee 0 356px,#fdd 0 359px,#eef 0 361px,#ecd 0 365px,#fde 0 368px,#dde 0 371px,#ebc 0 373px,#dbd 0 377px,#f66 0 379px,#ede 0 383px,#fdd 0 385px,#dce 0 387px,#ecd 0 389px,#e9a 0 393px,#ebc 0 396px,#ecd 0 398px,#fee 0 400px,#dad 0 403px,#f88 0 405px,#dac 0 407px,#dce 0 414px,#ddf 0 416px,#ccf 0 418px,#fdd 0 425px,#fff 0 430px,#fee 0 434px,#fff 0 442px,#bbf 0 445px,#eef 0 447px,#f44 0 449px,#ebc 0 456px,#faa 0 458px,#ccf 0 461px,#fcc 0 464px,#ede 0 468px,#eef 0 470px,#f99 0 474px,#fdd 0 476px,#fee 0 480px,#dde 0 483px,#fbb 0 485px,#ece 0 487px,#faa 0 489px,#f88 0 491px,#eab 0 495px,#ebc 0 497px,#fbb 0 499px,#faa 0 502px,#ccf 0 504px,#dcf 0 505px,#fff 0 510px,#fcc 0 514px,#fbb 0 520px,#eef 0 522px,#dbd 0 526px,#fcc 0 529px,#ede 0 532px,#f88 0 536px,#fcc 0 540px,#dcf 0 543px,#e9a 0 546px,#fcc 0 548px,#ebb 0 551px,#ddf 0 554px,#ede 0 558px,#dac 0 560px,#dde 0 563px,#ebd 0 566px,#fee 0 568px,#faa 0 570px,#fde 0 572px,#f88 0 574px,#fde 0 578px,#fdd 0 579px,#fff 0 583px,#ede 0 586px)"></div>
<div class="a" style="left:0;width:587px;top:264.32px;height:16.92px;background:linear-gradient(90deg,#e9a 0 4px,#fdd 0 6px,#ddf 0 9px,#fbb 0 11px,#ede 0 15px,#ccf 0 17px,#ddf 0 19px,#c9b 0 21px,#eef 0 24px,#fcd 0 27px,#ccf 0 31px,#ebb 0 33px,#ddf 0 37px,#ede 0 41px,#dcf 0 46px,#ddf 0 49px,#aaf 0 53px,#ebc 0 55px,#ccf 0 57px,#f88 0 59px,#dbd 0 61px,#ecd 0 64px,#ddf 0 66px,#fbb 0 69px,#fee 0 72px,#bbf 0 76px,#ede 0 79px,#dbc 0 81px,#f88 0 84px,#ede 0 88px,#ecd 0 92px,#fee 0 96px,#fdd 0 98px,#cce 0 101px,#edf 0 105px,#fcc 0 107px,#ebc 0 110px,#ddf 0 114px,#dab 0 118px,#dbd 0 121px,#fbb 0 124px,#fde 0 127px,#eee 0 129px,#fbb 0 132px,#dde 0 135px,#f99 0 138px,#dce 0 141px,#e89 0 143px,#fdd 0 149px,#fbb 0 153px,#ecd 0 156px,#dce 0 159px,#fde 0 161px,#ddf 0 163px,#fcc 0 165px,#ede 0 168px,#eef 0 176px,#dbd 0 180px,#fdd 0 182px,#fff 0 186px,#fef 0 188px,#dde 0 191px,#fee 0 194px,#eef 0 196px,#fbb 0 198px,#bbf 0 201px,#fee 0 204px,#ddf 0 207px,#fbb 0 209px,#dce 0 217px,#ecd 0 220px,#cbe 0 223px,#ecd 0 227px,#dac 0 230px,#fdd 0 232px,#edf 0 234px,#fcc 0 237px,#ede 0 239px,#ecd 0 243px,#fcc 0 247px,#dbd 0 251px,#eef 0 253px,#ddf 0 256px,#ede 0 259px,#ddf 0 261px,#dde 0 263px,#dce 0 265px,#cbf 0 269px,#dde 0 273px,#fee 0 275px,#ddf 0 278px,#ccf 0 281px,#ecc 0 284px,#dcf 0 286px,#dbc 0 290px,#fdd 0 293px,#dbd 0 296px,#faa 0 298px,#fcc 0 301px,#fbb 0 305px,#aaf 0 307px,#ebc 0 309px,#fde 0 311px,#ecd 0 315px,#fee 0 318px,#f44 0 321px,#fcc 0 324px,#ddf 0 328px,#ede 0 331px,#dac 0 334px,#fdd 0 337px,#dbd 0 339px,#ede 0 342px,#ecd 0 344px,#fee 0 348px,#dbd 0 350px,#ecd 0 354px,#fdd 0 356px,#faa 0 359px,#c9c 0 361px,#fcc 0 365px,#fbb 0 368px,#fee 0 371px,#fbb 0 373px,#ebc 0 377px,#fcc 0 379px,#faa 0 383px,#f88 0 385px,#dce 0 387px,#fbb 0 389px,#ede 0 393px,#ecc 0 396px,#f66 0 398px,#fbb 0 400px,#dcf 0 403px,#fbb 0 405px,#e9a 0 407px,#edf 0 410px,#ecd 0 416px,#fee 0 418px,#f77 0 422px,#fbb 0 425px,#fff 0 430px,#fdd 0 434px,#fff 0 442px,#ddf 0 445px,#fee 0 447px,#fbb 0 449px,#dcf 0 452px,#ddf 0 456px,#f88 0 458px,#dbd 0 461px,#ebc 0 464px,#cce 0 468px,#ccf 0 470px,#f88 0 474px,#fee 0 476px,#edf 0 480px,#dcd 0 483px,#fef 0 485px,#ccf 0 487px,#eef 0 489px,#fbb 0 491px,#f88 0 495px,#eef 0 497px,#fee 0 499px,#fcc 0 502px,#dde 0 504px,#eef 0 505px,#fff 0 510px,#fee 0 514px,#fbb 0 517px,#fdd 0 520px,#ccf 0 522px,#ddf 0 526px,#faa 0 529px,#fef 0 532px,#fbb 0 536px,#ede 0 540px,#ddf 0 543px,#fbb 0 548px,#faa 0 551px,#eef 0 554px,#ccf 0 558px,#ece 0 560px,#fcc 0 566px,#ddf 0 568px,#faa 0 570px,#fcc 0 572px,#f99 0 574px,#fbb 0 578px,#f99 0 579px,#fff 0 583px,#fee 0 586px)"></div>
<div class="a" style="left:0;width:587px;top:280.84px;height:16.92px;background:linear-gradient(90deg,#faa 0 4px,#dce 0 6px,#fdd 0 9px,#fcc 0 15px,#fee 0 17px,#fdd 0 19px,#fcc 0 21px,#eab 0 24px,#faa 0 27px,#ddf 0 31px,#fee 0 33px,#eab 0 37px,#ede 0 41px,#eee 0 43px,#ede 0 46px,#dbd 0 49px,#ddf 0 53px,#fee 0 55px,#ccf 0 57px,#fcc 0 59px,#fdd 0 64px,#fee 0 66px,#ede 0 69px,#ddf 0 72px,#ccf 0 76px,#fcc 0 79px,#fcd 0 81px,#eab 0 84px,#dcf 0 88px,#f99 0 92px,#99e 0 96px,#fdd 0 98px,#98e 0 101px,#bbe 0 105px,#ddf 0 107px,#ebc 0 110px,#dde 0 114px,#eef 0 118px,#cbe 0 121px,#eef 0 124px,#ede 0 127px,#aaf 0 129px,#f99 0 132px,#ddf 0 135px,#faa 0 138px,#ede 0 141px,#fbb 0 143px,#fcc 0 147px,#eef 0 149px,#edd 0 153px,#dcd 0 156px,#a9e 0 159px,#fcc 0 161px,#dcf 0 163px,#ddf 0 165px,#cbf 0 168px,#dce 0 172px,#ddf 0 176px,#dbd 0 180px,#fcd 0 182px,#fff 0 186px,#fbb 0 188px,#fee 0 191px,#fcc 0 201px,#f99 0 204px,#f88 0 207px,#f22 0 209px,#ddf 0 213px,#fcc 0 217px,#fdd 0 220px,#ecc 0 223px,#ebb 0 227px,#f77 0 230px,#fcc 0 232px,#fdd 0 234px,#ede 0 237px,#dcd 0 239px,#fbb 0 243px,#ede 0 247px,#fcc 0 251px,#f88 0 253px,#dde 0 256px,#ccf 0 259px,#fdd 0 261px,#eaa 0 263px,#fdd 0 265px,#fcc 0 269px,#faa 0 273px,#f77 0 275px,#eaa 0 278px,#ede 0 281px,#eab 0 284px,#fcc 0 286px,#fbb 0 290px,#faa 0 293px,#ccf 0 296px,#dbd 0 298px,#dce 0 301px,#ddf 0 305px,#eef 0 307px,#ccf 0 311px,#eef 0 315px,#ede 0 318px,#fbb 0 321px,#edf 0 324px,#c9c 0 328px,#ede 0 331px,#ccf 0 334px,#ede 0 337px,#ecd 0 339px,#eef 0 342px,#cad 0 344px,#eef 0 348px,#fee 0 350px,#ccf 0 354px,#eef 0 356px,#f99 0 359px,#cbf 0 361px,#dcd 0 365px,#ede 0 368px,#bbf 0 371px,#fef 0 373px,#fbb 0 377px,#cac 0 379px,#ede 0 383px,#fbb 0 385px,#dde 0 387px,#eef 0 389px,#ddf 0 393px,#cbd 0 396px,#fcc 0 398px,#fdd 0 400px,#eef 0 403px,#fee 0 405px,#aaf 0 407px,#eef 0 410px,#99e 0 414px,#dde 0 416px,#aae 0 418px,#ddf 0 422px,#ebc 0 425px,#fff 0 430px,#fee 0 434px,#fff 0 442px,#ede 0 445px,#fdd 0 447px,#f99 0 449px,#cbf 0 452px,#ecd 0 458px,#dcd 0 461px,#ddf 0 464px,#fcc 0 468px,#eee 0 470px,#ebc 0 474px,#fcc 0 480px,#dbd 0 483px,#f99 0 485px,#f88 0 487px,#ccf 0 489px,#faa 0 495px,#dcf 0 497px,#fdd 0 499px,#ebc 0 502px,#edf 0 504px,#fcc 0 505px,#fff 0 510px,#fee 0 514px,#f99 0 517px,#fbb 0 520px,#fdd 0 522px,#dcd 0 526px,#fcc 0 529px,#fbb 0 532px,#f77 0 536px,#d9a 0 540px,#cbf 0 543px,#f88 0 546px,#fcc 0 548px,#faa 0 551px,#fbb 0 554px,#bbf 0 558px,#f77 0 560px,#cce 0 563px,#fcd 0 566px,#fdd 0 568px,#fcc 0 570px,#ecd 0 572px,#fbb 0 574px,#fcc 0 578px,#eef 0 579px,#fff 0 583px,#fdd 0 586px)"></div>
<div class="a" style="left:0;width:587px;top:297.36px;height:16.92px;background:linear-gradient(90deg,#faa 0 4px,#eab 0 6px,#ede 0 9px,#fbb 0 11px,#ecd 0 15px,#ccf 0 17px,#cad 0 19px,#faa 0 21px,#ccf 0 24px,#fcc 0 27px,#ccf 0 33px,#ede 0 37px,#dcf 0 41px,#fef 0 43px,#bbf 0 46px,#ddf 0 49px,#dce 0 53px,#ede 0 55px,#faa 0 57px,#fdd 0 59px,#ccf 0 61px,#faa 0 64px,#edf 0 66px,#eee 0 72px,#dce 0 76px,#ddf 0 79px,#fdd 0 81px,#f99 0 84px,#fde 0 88px,#dce 0 96px,#dbd 0 98px,#dde 0 101px,#d9c 0 105px,#ccf 0 107px,#fcc 0 110px,#ddf 0 114px,#edd 0 118px,#dac 0 121px,#ddf 0 124px,#ede 0 127px,#fee 0 129px,#eab 0 132px,#dcf 0 135px,#fbb 0 138px,#ccf 0 141px,#fcc 0 143px,#ebc 0 147px,#fee 0 149px,#ebd 0 153px,#eef 0 156px,#fee 0 159px,#fdd 0 161px,#eee 0 163px,#eab 0 165px,#ccf 0 168px,#dcd 0 172px,#ccf 0 176px,#ebc 0 180px,#dce 0 182px,#fff 0 186px,#fcc 0 188px,#fdd 0 194px,#fbb 0 196px,#faa 0 198px,#fdd 0 201px,#fcc 0 204px,#fdd 0 207px,#f66 0 209px,#eef 0 213px,#fcc 0 217px,#faa 0 220px,#fcc 0 223px,#f88 0 227px,#f99 0 230px,#dce 0 232px,#f88 0 234px,#fcc 0 237px,#eef 0 239px,#fbb 0 243px,#ebc 0 247px,#fdd 0 251px,#fcc 0 253px,#ede 0 256px,#eef 0 259px,#fde 0 261px,#aaf 0 263px,#ddf 0 265px,#fbc 0 269px,#fee 0 273px,#c8a 0 275px,#fee 0 278px,#eef 0 281px,#ede 0 284px,#f99 0 286px,#ddf 0 290px,#fdd 0 293px,#fcc 0 296px,#f88 0 298px,#ede 0 301px,#e89 0 305px,#dbe 0 307px,#fcc 0 309px,#eef 0 311px,#ecd 0 315px,#faa 0 318px,#f44 0 321px,#fcc 0 324px,#cbe 0 328px,#fbb 0 331px,#ecd 0 334px,#ccf 0 337px,#ecd 0 339px,#dcf 0 344px,#f99 0 348px,#eef 0 350px,#ecd 0 354px,#faa 0 356px,#fdd 0 359px,#dac 0 361px,#ede 0 365px,#fbb 0 368px,#eef 0 371px,#f99 0 373px,#fcc 0 377px,#eef 0 379px,#ebc 0 383px,#f99 0 385px,#ede 0 387px,#ddf 0 389px,#fdd 0 393px,#ddf 0 396px,#fcc 0 398px,#eac 0 400px,#ccf 0 403px,#fcc 0 405px,#dbd 0 407px,#ddf 0 416px,#ccf 0 418px,#fdd 0 422px,#fcc 0 425px,#fff 0 430px,#eee 0 434px,#fff 0 442px,#99e 0 445px,#bbf 0 447px,#ebb 0 449px,#ccf 0 452px,#dce 0 456px,#fdd 0 458px,#eef 0 461px,#fbb 0 464px,#dcf 0 468px,#ede 0 470px,#fcc 0 474px,#eef 0 476px,#ede 0 480px,#edf 0 483px,#ebc 0 485px,#fbb 0 487px,#dce 0 489px,#fcc 0 491px,#ecd 0 495px,#fee 0 497px,#ccf 0 499px,#ebc 0 502px,#a9e 0 504px,#fdd 0 505px,#fff 0 510px,#ede 0 514px,#ebc 0 517px,#ecd 0 520px,#fef 0 522px,#ede 0 526px,#dcd 0 529px,#fcc 0 532px,#faa 0 536px,#ccf 0 540px,#ede 0 543px,#dbc 0 546px,#eef 0 548px,#eee 0 551px,#fee 0 554px,#cbf 0 558px,#fde 0 560px,#eee 0 563px,#fee 0 566px,#ccf 0 568px,#f88 0 570px,#eef 0 572px,#faa 0 574px,#fbb 0 578px,#fee 0 579px,#fff 0 583px,#ede 0 586px)"></div>
<div class="a" style="left:0;width:587px;top:313.88px;height:16.92px;background:linear-gradient(90deg,#fbb 0 4px,#ede 0 6px,#ebc 0 9px,#fee 0 11px,#ecc 0 15px,#ccf 0 17px,#fdd 0 19px,#fbb 0 24px,#f77 0 27px,#dce 0 31px,#ede 0 33px,#cce 0 37px,#ccf 0 41px,#f88 0 43px,#dde 0 46px,#ddf 0 53px,#fde 0 55px,#bbf 0 57px,#ede 0 59px,#fdd 0 61px,#ecd 0 64px,#ddf 0 66px,#fee 0 69px,#fff 0 72px,#dbd 0 76px,#eee 0 79px,#ccf 0 81px,#f99 0 84px,#fde 0 88px,#faa 0 92px,#fde 0 96px,#ede 0 101px,#ccf 0 105px,#cbf 0 107px,#ede 0 110px,#cbf 0 114px,#cbd 0 118px,#ecd 0 121px,#fdd 0 124px,#fef 0 127px,#ddf 0 129px,#faa 0 132px,#ddf 0 135px,#fbb 0 138px,#eef 0 141px,#eee 0 143px,#ecd 0 147px,#edf 0 149px,#fcc 0 153px,#ecd 0 156px,#edf 0 159px,#fcc 0 161px,#baf 0 163px,#faa 0 165px,#ddf 0 168px,#fbb 0 172px,#ecc 0 176px,#dde 0 180px,#edd 0 182px,#fff 0 186px,#f99 0 188px,#dbd 0 191px,#fbb 0 194px,#eef 0 196px,#fee 0 198px,#edf 0 201px,#fbc 0 204px,#fee 0 207px,#fcc 0 209px,#ecd 0 213px,#ede 0 217px,#ecc 0 220px,#ede 0 223px,#edd 0 227px,#eaa 0 230px,#fbb 0 232px,#ede 0 234px,#cbd 0 237px,#dbd 0 239px,#faa 0 243px,#ece 0 247px,#e9a 0 251px,#f99 0 253px,#ede 0 256px,#bad 0 259px,#ddf 0 261px,#dcf 0 263px,#ecd 0 265px,#fee 0 269px,#dcf 0 273px,#eef 0 275px,#dce 0 278px,#ede 0 281px,#fdd 0 284px,#ebc 0 286px,#fcc 0 290px,#fff 0 293px,#ddf 0 296px,#ede 0 298px,#e9a 0 301px,#fcd 0 305px,#ddf 0 307px,#fcc 0 309px,#dab 0 311px,#ede 0 315px,#fdd 0 318px,#f99 0 321px,#eef 0 324px,#cbf 0 328px,#eee 0 331px,#ddf 0 334px,#ede 0 337px,#ebc 0 339px,#ddf 0 342px,#aaf 0 344px,#ecc 0 348px,#fee 0 350px,#ecd 0 354px,#fbb 0 356px,#ecd 0 359px,#faa 0 361px,#ddf 0 365px,#faa 0 368px,#ccf 0 371px,#fdd 0 373px,#edf 0 377px,#f99 0 379px,#dac 0 383px,#f88 0 385px,#dce 0 387px,#fee 0 389px,#eee 0 396px,#faa 0 398px,#ede 0 400px,#ddf 0 403px,#faa 0 405px,#e88 0 407px,#ccf 0 414px,#ede 0 416px,#aaf 0 418px,#f88 0 422px,#dce 0 425px,#fff 0 430px,#fee 0 434px,#fff 0 442px,#bbf 0 445px,#f99 0 447px,#fbb 0 449px,#cad 0 452px,#eaa 0 456px,#fbb 0 458px,#ebc 0 464px,#fde 0 468px,#edf 0 470px,#f88 0 474px,#f99 0 476px,#dce 0 483px,#fdd 0 485px,#ede 0 487px,#ddf 0 489px,#fcc 0 491px,#fbb 0 495px,#dcd 0 497px,#fbb 0 499px,#ede 0 502px,#ddf 0 504px,#faa 0 505px,#fff 0 510px,#fcd 0 514px,#ebc 0 517px,#dac 0 520px,#eee 0 522px,#fdd 0 532px,#e78 0 536px,#ecd 0 540px,#ede 0 543px,#f99 0 546px,#ddf 0 548px,#ede 0 551px,#fbb 0 554px,#cbf 0 558px,#fbb 0 560px,#fee 0 563px,#edd 0 566px,#dce 0 568px,#fcc 0 570px,#ecd 0 572px,#f66 0 574px,#eac 0 578px,#faa 0 579px,#fff 0 583px,#fdd 0 586px)"></div>
<div class="a" style="left:0;width:587px;top:330.40px;height:16.92px;background:linear-gradient(90deg,#fbb 0 4px,#eee 0 6px,#fbb 0 11px,#ebc 0 15px,#fcc 0 17px,#bbf 0 19px,#f88 0 21px,#fcc 0 24px,#f66 0 27px,#ede 0 31px,#ecd 0 41px,#fee 0 43px,#dbd 0 46px,#fdd 0 49px,#cce 0 53px,#bbf 0 55px,#dbc 0 57px,#f99 0 59px,#ccf 0 61px,#ede 0 64px,#bbf 0 66px,#f99 0 69px,#dbd 0 72px,#dde 0 76px,#ede 0 79px,#dbd 0 81px,#fbb 0 84px,#ede 0 88px,#ebc 0 92px,#bbf 0 96px,#eef 0 98px,#ccf 0 101px,#dcf 0 105px,#ecd 0 107px,#fef 0 110px,#dce 0 114px,#cbf 0 118px,#cbe 0 121px,#ddf 0 124px,#dac 0 127px,#dde 0 129px,#e9a 0 132px,#ddf 0 135px,#fbb 0 138px,#dde 0 141px,#ede 0 143px,#fbb 0 147px,#dcf 0 149px,#ecc 0 153px,#fcc 0 156px,#ccf 0 159px,#dac 0 161px,#ccf 0 163px,#ddf 0 165px,#ccf 0 168px,#baf 0 172px,#cad 0 176px,#ddf 0 180px,#bbf 0 182px,#fff 0 186px,#fcd 0 188px,#faa 0 191px,#fbb 0 194px,#ede 0 196px,#eef 0 198px,#e9a 0 201px,#ecc 0 204px,#ecd 0 207px,#f77 0 209px,#cce 0 213px,#ecd 0 217px,#ede 0 220px,#ebb 0 223px,#fbb 0 227px,#ecd 0 230px,#ece 0 232px,#fbb 0 237px,#eef 0 239px,#fcc 0 243px,#fcd 0 247px,#fdd 0 251px,#fcc 0 253px,#eef 0 256px,#bbf 0 259px,#ecd 0 261px,#e89 0 263px,#ddf 0 265px,#edd 0 269px,#dce 0 273px,#fcc 0 275px,#ecd 0 278px,#ede 0 281px,#ecd 0 284px,#fcc 0 290px,#faa 0 293px,#fef 0 296px,#f88 0 298px,#edd 0 301px,#ecd 0 305px,#ede 0 307px,#eef 0 309px,#dcf 0 311px,#fab 0 315px,#eac 0 318px,#f88 0 321px,#ecd 0 324px,#cbe 0 328px,#fee 0 331px,#bbf 0 334px,#dce 0 337px,#fee 0 339px,#dce 0 342px,#ddf 0 348px,#fdd 0 350px,#eef 0 354px,#ebb 0 356px,#fbc 0 359px,#cad 0 361px,#fcd 0 365px,#fee 0 368px,#cce 0 371px,#fef 0 373px,#faa 0 377px,#ccf 0 379px,#dbd 0 383px,#fbb 0 385px,#c9b 0 387px,#edd 0 389px,#fdd 0 393px,#dbd 0 396px,#fcc 0 400px,#cbf 0 403px,#fef 0 405px,#ccf 0 407px,#bbf 0 410px,#ece 0 414px,#ede 0 416px,#dcf 0 418px,#ccf 0 422px,#fde 0 425px,#fff 0 430px,#fde 0 434px,#fff 0 442px,#ccf 0 445px,#fdd 0 447px,#f66 0 449px,#cad 0 452px,#ecd 0 456px,#fdd 0 458px,#dcd 0 461px,#fbb 0 464px,#ebc 0 468px,#f99 0 470px,#f77 0 474px,#ebc 0 476px,#eaa 0 480px,#fdd 0 483px,#eef 0 485px,#ecd 0 487px,#dcd 0 489px,#f88 0 491px,#fcc 0 497px,#dbc 0 499px,#f88 0 502px,#fdd 0 504px,#fff 0 505px,#fff 0 510px,#fcc 0 514px,#f88 0 517px,#faa 0 520px,#fbb 0 522px,#ecd 0 526px,#ddf 0 529px,#f66 0 532px,#f88 0 536px,#eab 0 540px,#fee 0 543px,#d9b 0 546px,#fbb 0 548px,#fcc 0 551px,#fdd 0 554px,#ede 0 558px,#fbb 0 560px,#fcc 0 563px,#fbb 0 568px,#faa 0 570px,#fbb 0 572px,#f66 0 574px,#ebc 0 578px,#f44 0 579px,#fff 0 583px,#fdd 0 586px)"></div>
<div class="a" style="left:0;width:587px;top:346.92px;height:16.92px;background:linear-gradient(90deg,#fbb 0 4px,#eee 0 6px,#ede 0 9px,#fbb 0 11px,#ebb 0 15px,#eee 0 17px,#dad 0 19px,#fbb 0 21px,#f88 0 24px,#f99 0 27px,#cbe 0 31px,#fcc 0 33px,#ede 0 37px,#ecc 0 41px,#dcd 0 43px,#ccf 0 46px,#ddf 0 49px,#dce 0 53px,#ddf 0 55px,#bbf 0 57px,#d9a 0 59px,#ddf 0 61px,#fee 0 64px,#ddf 0 66px,#ecc 0 69px,#edd 0 72px,#ccf 0 76px,#dac 0 79px,#fee 0 81px,#f99 0 84px,#fdd 0 88px,#ede 0 92px,#ccf 0 96px,#fdd 0 98px,#cce 0 101px,#bbf 0 105px,#aaf 0 107px,#edf 0 110px,#ede 0 118px,#dcd 0 121px,#c9c 0 124px,#ddf 0 127px,#ccf 0 129px,#faa 0 132px,#fdd 0 135px,#dbc 0 138px,#dcd 0 141px,#ddf 0 143px,#dbd 0 147px,#dac 0 149px,#ebc 0 153px,#ecd 0 156px,#bbf 0 159px,#fee 0 161px,#d9b 0 163px,#ede 0 165px,#a9e 0 168px,#edd 0 172px,#ebd 0 176px,#dce 0 180px,#d9c 0 182px,#fff 0 186px,#ecd 0 188px,#fcc 0 191px,#f99 0 194px,#d8a 0 196px,#dbd 0 198px,#dac 0 201px,#fcc 0 204px,#ecd 0 207px,#f88 0 209px,#dce 0 213px,#fcc 0 217px,#fdd 0 220px,#fbb 0 223px,#faa 0 230px,#ede 0 232px,#faa 0 234px,#eef 0 237px,#fcc 0 239px,#f99 0 247px,#fdd 0 251px,#f88 0 253px,#ecd 0 256px,#ddf 0 259px,#dac 0 261px,#fcc 0 263px,#dcf 0 265px,#eef 0 269px,#fdd 0 273px,#fbb 0 278px,#ddf 0 281px,#fbb 0 286px,#ecd 0 290px,#f88 0 293px,#eef 0 296px,#ebc 0 298px,#ecd 0 301px,#ede 0 305px,#fee 0 307px,#a9e 0 309px,#aaf 0 311px,#fdd 0 315px,#edf 0 318px,#f99 0 321px,#edd 0 324px,#ddf 0 328px,#bbf 0 331px,#ebc 0 334px,#ddf 0 339px,#cbe 0 342px,#ddf 0 344px,#dbc 0 348px,#ddf 0 350px,#cce 0 354px,#dcf 0 356px,#ebc 0 359px,#99e 0 361px,#ddf 0 365px,#ccf 0 368px,#99e 0 371px,#ccf 0 373px,#fee 0 379px,#eac 0 383px,#fee 0 385px,#ddf 0 387px,#dab 0 389px,#eee 0 393px,#dce 0 396px,#ecd 0 398px,#fdd 0 400px,#cbf 0 403px,#ebd 0 405px,#ccf 0 414px,#edf 0 416px,#77e 0 418px,#ddf 0 422px,#eef 0 425px,#fff 0 430px,#eef 0 434px,#fff 0 442px,#ccf 0 445px,#ecd 0 447px,#faa 0 449px,#ede 0 452px,#ece 0 456px,#eab 0 458px,#fbb 0 461px,#fee 0 464px,#ede 0 468px,#ecd 0 470px,#fcc 0 474px,#f99 0 476px,#fbb 0 480px,#ecd 0 483px,#fee 0 487px,#ddf 0 489px,#fee 0 491px,#f99 0 495px,#dce 0 497px,#ecd 0 499px,#f99 0 502px,#ccf 0 505px,#fff 0 510px,#ecd 0 514px,#f77 0 517px,#fbb 0 520px,#eef 0 522px,#fbb 0 526px,#f99 0 529px,#faa 0 532px,#f55 0 536px,#ece 0 540px,#dad 0 543px,#f99 0 546px,#ebc 0 548px,#faa 0 551px,#dbd 0 554px,#dce 0 558px,#faa 0 560px,#ecd 0 563px,#ede 0 566px,#edd 0 568px,#f88 0 572px,#f55 0 574px,#ebc 0 578px,#fcc 0 579px,#fff 0 583px,#fcc 0 586px)"></div>
<div class="a" style="left:0;width:587px;top:363.44px;height:16.92px;background:linear-gradient(90deg,#fbb 0 4px,#cae 0 6px,#ccf 0 9px,#ede 0 11px,#ece 0 15px,#baf 0 17px,#cbf 0 19px,#faa 0 21px,#fcc 0 24px,#ecd 0 27px,#cbf 0 31px,#ede 0 33px,#ccf 0 37px,#eee 0 41px,#76e 0 43px,#a9e 0 46px,#99e 0 49px,#dbe 0 53px,#dcf 0 55px,#baf 0 57px,#ecd 0 59px,#dbd 0 61px,#fef 0 64px,#a9e 0 66px,#ede 0 69px,#bbf 0 72px,#ccf 0 76px,#ede 0 79px,#dcf 0 81px,#faa 0 84px,#baf 0 88px,#ddf 0 92px,#ebc 0 96px,#dce 0 98px,#ddf 0 101px,#fbb 0 105px,#cad 0 107px,#eef 0 110px,#ddf 0 114px,#fcc 0 118px,#ebc 0 121px,#faa 0 124px,#fcc 0 127px,#fef 0 129px,#f66 0 132px,#fcc 0 135px,#eaa 0 138px,#ebb 0 141px,#fcc 0 147px,#ddf 0 149px,#f77 0 153px,#ecd 0 156px,#ddf 0 159px,#f99 0 161px,#fff 0 163px,#ede 0 165px,#dbd 0 168px,#faa 0 172px,#f88 0 176px,#ddf 0 180px,#fdd 0 182px,#fff 0 186px,#ccf 0 188px,#ede 0 191px,#dde 0 194px,#fdd 0 196px,#fff 0 198px,#fcd 0 201px,#fee 0 204px,#ecd 0 207px,#fbb 0 209px,#ccf 0 213px,#ecd 0 217px,#ccf 0 220px,#ebc 0 223px,#fde 0 227px,#ebc 0 230px,#bbf 0 232px,#ddf 0 234px,#eee 0 237px,#cbe 0 239px,#ebb 0 243px,#ebc 0 247px,#fcd 0 251px,#fbb 0 253px,#cce 0 256px,#aaf 0 259px,#fbb 0 261px,#bbf 0 263px,#ddf 0 265px,#ccf 0 269px,#dbe 0 273px,#ecd 0 275px,#ddf 0 278px,#dbd 0 281px,#ebd 0 284px,#ede 0 290px,#ddf 0 293px,#ede 0 296px,#faa 0 298px,#ede 0 301px,#ebd 0 305px,#ddf 0 307px,#f88 0 309px,#ebd 0 311px,#fde 0 315px,#fbb 0 318px,#f99 0 321px,#fdd 0 324px,#eef 0 328px,#f77 0 331px,#eef 0 334px,#dce 0 337px,#dcd 0 339px,#ebc 0 342px,#fbb 0 348px,#fcc 0 350px,#fee 0 354px,#fdd 0 356px,#f99 0 359px,#dac 0 361px,#ebc 0 365px,#eef 0 371px,#ecc 0 373px,#f99 0 377px,#fcc 0 379px,#faa 0 383px,#f77 0 385px,#dbd 0 387px,#faa 0 389px,#eaa 0 393px,#ebc 0 396px,#faa 0 398px,#f99 0 400px,#ecd 0 403px,#f99 0 405px,#dce 0 407px,#ede 0 410px,#ddf 0 414px,#fff 0 416px,#eef 0 418px,#faa 0 425px,#fff 0 430px,#fee 0 434px,#fff 0 442px,#ddf 0 445px,#ede 0 447px,#f88 0 449px,#eee 0 452px,#fde 0 456px,#eef 0 458px,#ddf 0 461px,#dbd 0 464px,#dce 0 468px,#ddf 0 470px,#dac 0 474px,#cbf 0 476px,#ebc 0 480px,#fee 0 483px,#fcc 0 487px,#eee 0 489px,#fcc 0 495px,#ede 0 499px,#faa 0 502px,#ddf 0 504px,#f88 0 505px,#fff 0 510px,#fab 0 514px,#ecd 0 517px,#fcc 0 520px,#fbb 0 522px,#edf 0 526px,#fee 0 529px,#faa 0 532px,#f66 0 536px,#ece 0 540px,#ecd 0 543px,#faa 0 546px,#eab 0 548px,#fbc 0 551px,#ede 0 554px,#a9e 0 558px,#fdd 0 560px,#fbb 0 563px,#ede 0 566px,#cad 0 568px,#faa 0 570px,#ddf 0 572px,#fdd 0 574px,#fcd 0 578px,#fcc 0 579px,#fff 0 583px,#fef 0 586px)"></div>
<div class="a" style="left:0;width:587px;top:379.96px;height:16.92px;background:linear-gradient(90deg,#faa 0 4px,#cad 0 6px,#ccf 0 9px,#fff 0 11px,#faa 0 15px,#fff 0 17px,#ccf 0 19px,#fdd 0 21px,#ecd 0 27px,#bbf 0 31px,#eef 0 33px,#cbe 0 37px,#dcf 0 41px,#c9c 0 43px,#ccf 0 46px,#ddf 0 49px,#bbf 0 53px,#ddf 0 57px,#eef 0 59px,#ddf 0 61px,#ecd 0 64px,#dcf 0 66px,#dac 0 69px,#eee 0 72px,#ccf 0 76px,#dbd 0 79px,#bbf 0 81px,#ecc 0 84px,#ddf 0 88px,#fcc 0 92px,#ebc 0 96px,#ddf 0 98px,#cad 0 101px,#fdd 0 105px,#eef 0 107px,#eab 0 110px,#ecd 0 114px,#faa 0 118px,#f99 0 121px,#fcd 0 124px,#eef 0 127px,#faa 0 129px,#f66 0 132px,#ede 0 135px,#fcc 0 138px,#ede 0 141px,#fdd 0 143px,#f99 0 147px,#fdd 0 153px,#f99 0 156px,#ede 0 159px,#f66 0 161px,#fef 0 163px,#ecd 0 165px,#eee 0 168px,#fee 0 172px,#faa 0 176px,#ede 0 180px,#fcc 0 182px,#fff 0 186px,#fdd 0 188px,#ddf 0 191px,#eef 0 194px,#fbb 0 196px,#cac 0 198px,#dbd 0 201px,#fbb 0 204px,#baf 0 207px,#fff 0 209px,#ddf 0 213px,#ede 0 217px,#fcc 0 220px,#ecd 0 223px,#fcc 0 227px,#faa 0 230px,#fdd 0 232px,#dce 0 234px,#ddf 0 237px,#ebc 0 239px,#ebd 0 243px,#ede 0 247px,#dde 0 251px,#edf 0 253px,#eef 0 256px,#ede 0 259px,#c9c 0 261px,#cbe 0 263px,#ccf 0 265px,#ebc 0 269px,#eef 0 273px,#fcc 0 275px,#ebc 0 278px,#eee 0 281px,#fcd 0 284px,#dbd 0 286px,#cbe 0 290px,#ede 0 293px,#edd 0 296px,#f99 0 298px,#cbe 0 301px,#eab 0 305px,#eee 0 307px,#eef 0 309px,#edd 0 311px,#dde 0 315px,#fbb 0 318px,#faa 0 321px,#dce 0 324px,#eef 0 328px,#ecd 0 331px,#fdd 0 334px,#cbe 0 337px,#ccf 0 339px,#ecd 0 342px,#ddf 0 344px,#fcc 0 350px,#fbb 0 354px,#ede 0 356px,#faa 0 359px,#eef 0 361px,#fbc 0 365px,#fbb 0 368px,#fcd 0 371px,#f66 0 373px,#fcc 0 377px,#ebc 0 379px,#eaa 0 383px,#fcc 0 385px,#cbe 0 387px,#faa 0 389px,#ebc 0 393px,#fee 0 396px,#f88 0 398px,#fdd 0 400px,#dbd 0 403px,#fbb 0 405px,#ecc 0 407px,#eef 0 410px,#eee 0 414px,#ccf 0 416px,#ede 0 418px,#fcc 0 425px,#fff 0 430px,#fee 0 434px,#fff 0 442px,#dcd 0 445px,#ede 0 447px,#f77 0 449px,#cbe 0 452px,#fdd 0 456px,#ddf 0 458px,#dce 0 461px,#ecd 0 464px,#fcc 0 470px,#faa 0 476px,#ede 0 480px,#edf 0 483px,#fcc 0 485px,#dce 0 487px,#ede 0 489px,#f88 0 491px,#faa 0 495px,#f99 0 497px,#eef 0 499px,#fdd 0 502px,#bbf 0 504px,#fff 0 505px,#fff 0 510px,#ebc 0 514px,#e99 0 517px,#eaa 0 520px,#edd 0 522px,#ede 0 526px,#dbc 0 529px,#fcc 0 532px,#e77 0 536px,#dce 0 540px,#dcf 0 543px,#f99 0 548px,#fcc 0 551px,#f99 0 554px,#cbf 0 558px,#fbb 0 560px,#ecc 0 563px,#fcc 0 566px,#c8b 0 568px,#f77 0 570px,#fbb 0 572px,#f99 0 574px,#fdd 0 578px,#ddf 0 579px,#fff 0 583px,#fcc 0 586px)"></div>
<div class="a" style="left:0;width:587px;top:396.48px;height:16.52px;background:linear-gradient(90deg,#ddf 0 4px,#ede 0 6px,#bae 0 9px,#f88 0 11px,#fbc 0 15px,#fef 0 19px,#f99 0 21px,#fdd 0 27px,#ede 0 31px,#f66 0 33px,#ede 0 37px,#eef 0 41px,#ccf 0 43px,#ecd 0 46px,#fdd 0 49px,#bbf 0 53px,#a9e 0 55px,#fdd 0 57px,#fcc 0 59px,#b9d 0 61px,#fbb 0 64px,#ccf 0 66px,#f77 0 69px,#ede 0 72px,#dce 0 76px,#ebb 0 79px,#eab 0 81px,#fcc 0 88px,#ebc 0 92px,#ede 0 96px,#fee 0 98px,#cbf 0 101px,#ede 0 105px,#fff 0 107px,#faa 0 110px,#dce 0 114px,#ddf 0 118px,#ede 0 121px,#edf 0 124px,#dbd 0 129px,#f77 0 132px,#ecd 0 135px,#f99 0 138px,#ebd 0 141px,#f88 0 143px,#fcc 0 147px,#faa 0 149px,#f88 0 153px,#fbb 0 156px,#ecd 0 159px,#ede 0 163px,#bbf 0 165px,#ede 0 168px,#ece 0 172px,#fcc 0 176px,#ddf 0 180px,#eef 0 182px,#fff 0 186px,#ede 0 188px,#cad 0 191px,#f88 0 194px,#fde 0 196px,#fee 0 201px,#ecd 0 204px,#eaa 0 207px,#fbb 0 209px,#cbe 0 213px,#ecd 0 220px,#dad 0 223px,#fbb 0 227px,#f77 0 230px,#edf 0 232px,#fdd 0 234px,#fee 0 237px,#bbf 0 239px,#ebc 0 243px,#fcc 0 251px,#fbb 0 253px,#eef 0 256px,#dcf 0 259px,#fef 0 261px,#ebc 0 263px,#fcc 0 265px,#dde 0 269px,#eef 0 273px,#ccf 0 275px,#ebb 0 278px,#ddf 0 281px,#dce 0 286px,#ddf 0 290px,#fee 0 296px,#eab 0 298px,#ccf 0 301px,#eab 0 305px,#ccf 0 309px,#eef 0 311px,#ccf 0 315px,#fcc 0 318px,#f88 0 321px,#ede 0 324px,#eee 0 328px,#fcc 0 331px,#a8e 0 334px,#aaf 0 337px,#bbf 0 339px,#ecc 0 342px,#f99 0 344px,#ecd 0 348px,#eef 0 350px,#ecd 0 354px,#fcc 0 356px,#fdd 0 359px,#ede 0 361px,#ecd 0 365px,#edf 0 368px,#ecd 0 371px,#ede 0 373px,#ecd 0 377px,#ece 0 379px,#dcd 0 383px,#fcc 0 385px,#dcf 0 387px,#fdd 0 389px,#eef 0 393px,#ddf 0 396px,#fcc 0 398px,#ede 0 400px,#b9d 0 403px,#ddf 0 405px,#fdd 0 407px,#edd 0 410px,#ccf 0 414px,#a9e 0 416px,#aaf 0 418px,#fee 0 422px,#fcc 0 425px,#fff 0 430px,#ede 0 434px,#fff 0 442px,#bbf 0 445px,#eef 0 447px,#fcc 0 449px,#ddf 0 452px,#fbb 0 456px,#edf 0 458px,#ccf 0 461px,#dbd 0 464px,#cac 0 468px,#eef 0 470px,#eab 0 474px,#faa 0 476px,#ede 0 480px,#dbd 0 483px,#eef 0 485px,#fdd 0 489px,#fbb 0 491px,#f99 0 495px,#ddf 0 497px,#edd 0 499px,#ebc 0 502px,#fee 0 504px,#eef 0 505px,#fff 0 510px,#faa 0 517px,#ecd 0 520px,#ddf 0 522px,#ecd 0 526px,#fdd 0 529px,#fcc 0 532px,#fbb 0 536px,#ecd 0 540px,#dce 0 543px,#fdd 0 546px,#ede 0 548px,#ebb 0 551px,#fcd 0 554px,#ccf 0 558px,#f99 0 560px,#fcc 0 563px,#ede 0 566px,#ddf 0 568px,#f99 0 570px,#e9a 0 572px,#f77 0 574px,#ede 0 578px,#cbf 0 579px,#fff 0 583px,#dab 0 586px)"></div>
</div>
<div class="a" style="left:27.4px;top:94.00px;width:14.3px;height:16.82px;background:#8ecfd0"></div>
<div class="a" style="left:44.5px;top:94.00px;width:14.4px;height:16.82px;background:#ff0000"></div>
<div class="a" style="left:61.8px;top:94.00px;width:14.5px;height:16.82px;background:#0000ff"></div>
<div class="t r" style="left:670.3px;top:96.06px">KEGG<s>_</s>LINOLEIC<s>_</s>ACID<s>_</s>METABOLISM **</div>
<div class="a" style="left:27.4px;top:110.52px;width:14.3px;height:16.82px;background:#8ecfd0"></div>
<div class="a" style="left:44.5px;top:110.52px;width:14.4px;height:16.82px;background:#ff1e1e"></div>
<div class="a" style="left:61.8px;top:110.52px;width:14.5px;height:16.82px;background:#0800ff"></div>
<div class="t r" style="left:670.3px;top:112.58px">KEGG<s>_</s>DRUG<s>_</s>METABOLISM<s>_</s>CYTOCHROME<s>_</s>P450 **</div>
<div class="a" style="left:27.4px;top:127.04px;width:14.3px;height:16.82px;background:#8ecfd0"></div>
<div class="a" style="left:44.5px;top:127.04px;width:14.4px;height:16.82px;background:#ff2020"></div>
<div class="a" style="left:61.8px;top:127.04px;width:14.5px;height:16.82px;background:#1010ff"></div>
<div class="t r" style="left:670.3px;top:129.10px">KEGG<s>_</s>RETINOL<s>_</s>METABOLISM **</div>
<div class="a" style="left:27.4px;top:143.56px;width:14.3px;height:16.82px;background:#8ecfd0"></div>
<div class="a" style="left:44.5px;top:143.56px;width:14.4px;height:16.82px;background:#ff5050"></div>
<div class="a" style="left:61.8px;top:143.56px;width:14.5px;height:16.82px;background:#1010ff"></div>
<div class="t r" style="left:670.3px;top:145.62px">KEGG<s>_</s>TERPENOID<s>_</s>BACKBONE<s>_</s>BIOSYNTHESIS **</div>
<div class="a" style="left:27.4px;top:160.08px;width:14.3px;height:16.82px;background:#8ecfd0"></div>
<div class="a" style="left:44.5px;top:160.08px;width:14.4px;height:16.82px;background:#ff5050"></div>
<div class="a" style="left:61.8px;top:160.08px;width:14.5px;height:16.82px;background:#0000ee"></div>
<div class="t r" style="left:670.3px;top:162.14px">KEGG<s>_</s>OXIDATIVE<s>_</s>PHOSPHORYLATION **</div>
<div class="a" style="left:27.4px;top:176.60px;width:14.3px;height:16.82px;background:#8ecfd0"></div>
<div class="a" style="left:44.5px;top:176.60px;width:14.4px;height:16.82px;background:#ff7070"></div>
<div class="a" style="left:61.8px;top:176.60px;width:14.5px;height:16.82px;background:#2020ff"></div>
<div class="t r" style="left:670.3px;top:178.66px">KEGG<s>_</s>SPHINGOLIPID<s>_</s>METABOLISM **</div>
<div class="a" style="left:27.4px;top:193.12px;width:14.3px;height:16.82px;background:#8ecfd0"></div>
<div class="a" style="left:44.5px;top:193.12px;width:14.4px;height:16.82px;background:#ff8080"></div>
<div class="a" style="left:61.8px;top:193.12px;width:14.5px;height:16.82px;background:#2020ff"></div>
<div class="t r" style="left:670.3px;top:195.18px">KEGG<s>_</s>LIMONENE<s>_</s>AND<s>_</s>PINENE<s>_</s>DEGRADATION **</div>
<div class="a" style="left:27.4px;top:209.64px;width:14.3px;height:16.82px;background:#8ecfd0"></div>
<div class="a" style="left:44.5px;top:209.64px;width:14.4px;height:16.82px;background:#ff8080"></div>
<div class="a" style="left:61.8px;top:209.64px;width:14.5px;height:16.82px;background:#2020ff"></div>
<div class="t r" style="left:670.3px;top:211.70px">KEGG<s>_</s>BIOSYNTHESIS<s>_</s>OF<s>_</s>UNSATURATED<s>_</s>FATTY<s>_</s>ACIDS **</div>
<div class="a" style="left:27.4px;top:226.16px;width:14.3px;height:16.82px;background:#8ecfd0"></div>
<div class="a" style="left:44.5px;top:226.16px;width:14.4px;height:16.82px;background:#ffaaaa"></div>
<div class="a" style="left:61.8px;top:226.16px;width:14.5px;height:16.82px;background:#3030ff"></div>
<div class="t r" style="left:670.3px;top:228.22px">KEGG<s>_</s>HUNTINGTONS<s>_</s>DISEASE **</div>
<div class="a" style="left:27.4px;top:242.68px;width:14.3px;height:16.82px;background:#8ecfd0"></div>
<div class="a" style="left:44.5px;top:242.68px;width:14.4px;height:16.82px;background:#ffa0a0"></div>
<div class="a" style="left:61.8px;top:242.68px;width:14.5px;height:16.82px;background:#3838ff"></div>
<div class="t" style="left:670.3px;top:244.74px">KEGG<s>_</s>ABC<s>_</s>TRANSPORTERS</div>
<div class="a" style="left:27.4px;top:259.20px;width:14.3px;height:16.82px;background:#8ecfd0"></div>
<div class="a" style="left:44.5px;top:259.20px;width:14.4px;height:16.82px;background:#ffa0a0"></div>
<div class="a" style="left:61.8px;top:259.20px;width:14.5px;height:16.82px;background:#1818ff"></div>
<div class="t" style="left:670.3px;top:261.26px">KEGG<s>_</s>ALPHA<s>_</s>LINOLENIC<s>_</s>ACID<s>_</s>METABOLISM</div>
<div class="a" style="left:27.4px;top:275.72px;width:14.3px;height:16.82px;background:#8ecfd0"></div>
<div class="a" style="left:44.5px;top:275.72px;width:14.4px;height:16.82px;background:#ff9c9c"></div>
<div class="a" style="left:61.8px;top:275.72px;width:14.5px;height:16.82px;background:#6a6aff"></div>
<div class="t" style="left:670.3px;top:277.78px">KEGG<s>_</s>AMYOTROPHIC<s>_</s>LATERAL<s>_</s>SCLEROSIS<s>_</s>ALS</div>
<div class="a" style="left:27.4px;top:292.24px;width:14.3px;height:16.82px;background:#8ecfd0"></div>
<div class="a" style="left:44.5px;top:292.24px;width:14.4px;height:16.82px;background:#ffb0b0"></div>
<div class="a" style="left:61.8px;top:292.24px;width:14.5px;height:16.82px;background:#6a6aff"></div>
<div class="t" style="left:670.3px;top:294.30px">KEGG<s>_</s>ARACHIDONIC<s>_</s>ACID<s>_</s>METABOLISM</div>
<div class="a" style="left:27.4px;top:308.76px;width:14.3px;height:16.82px;background:#8ecfd0"></div>
<div class="a" style="left:44.5px;top:308.76px;width:14.4px;height:16.82px;background:#ff6060"></div>
<div class="a" style="left:61.8px;top:308.76px;width:14.5px;height:16.82px;background:#0000ee"></div>
<div class="t" style="left:670.3px;top:310.82px">KEGG<s>_</s>BASE<s>_</s>EXCISION<s>_</s>REPAIR</div>
<div class="a" style="left:27.4px;top:325.28px;width:14.3px;height:16.82px;background:#8ecfd0"></div>
<div class="a" style="left:44.5px;top:325.28px;width:14.4px;height:16.82px;background:#ffb0b0"></div>
<div class="a" style="left:61.8px;top:325.28px;width:14.5px;height:16.82px;background:#4040ff"></div>
<div class="t" style="left:670.3px;top:327.34px">KEGG<s>_</s>OOCYTE<s>_</s>MEIOSIS</div>
<div class="a" style="left:27.4px;top:341.80px;width:14.3px;height:16.82px;background:#8ecfd0"></div>
<div class="a" style="left:44.5px;top:341.80px;width:14.4px;height:16.82px;background:#ffb4b4"></div>
<div class="a" style="left:61.8px;top:341.80px;width:14.5px;height:16.82px;background:#4848ff"></div>
<div class="t" style="left:670.3px;top:343.86px">KEGG<s>_</s>CELL<s>_</s>CYCLE</div>
<div class="a" style="left:27.4px;top:358.32px;width:14.3px;height:16.82px;background:#8ecfd0"></div>
<div class="a" style="left:44.5px;top:358.32px;width:14.4px;height:16.82px;background:#ff9898"></div>
<div class="a" style="left:61.8px;top:358.32px;width:14.5px;height:16.82px;background:#1818ff"></div>
<div class="t" style="left:670.3px;top:360.38px">KEGG<s>_</s>GLYCEROPHOSPHOLIPID<s>_</s>METABOLISM</div>
<div class="a" style="left:27.4px;top:374.84px;width:14.3px;height:16.82px;background:#8ecfd0"></div>
<div class="a" style="left:44.5px;top:374.84px;width:14.4px;height:16.82px;background:#ff8888"></div>
<div class="a" style="left:61.8px;top:374.84px;width:14.5px;height:16.82px;background:#1010f8"></div>
<div class="t" style="left:670.3px;top:376.90px">KEGG<s>_</s>DRUG<s>_</s>METABOLISM<s>_</s>OTHER<s>_</s>ENZYMES</div>
<div class="a" style="left:27.4px;top:391.36px;width:14.3px;height:16.82px;background:#8ecfd0"></div>
<div class="a" style="left:44.5px;top:391.36px;width:14.4px;height:16.82px;background:#ffb0b0"></div>
<div class="a" style="left:61.8px;top:391.36px;width:14.5px;height:16.82px;background:#4040ff"></div>
<div class="t" style="left:670.3px;top:393.42px">KEGG<s>_</s>PPAR<s>_</s>SIGNALING<s>_</s>PATHWAY</div>
<div class="a" style="left:27.4px;top:407.88px;width:14.3px;height:16.82px;background:#8ecfd0"></div>
<div class="a" style="left:44.5px;top:407.88px;width:14.4px;height:16.82px;background:#ff4848"></div>
<div class="a" style="left:61.8px;top:407.88px;width:14.5px;height:16.82px;background:#0808f0"></div>
<div class="t" style="left:670.3px;top:409.94px">KEGG<s>_</s>GNRH<s>_</s>SIGNALING<s>_</s>PATHWAY</div>
<div class="a" style="left:27.4px;top:424.40px;width:14.3px;height:16.82px;background:#8ecfd0"></div>
<div class="a" style="left:44.5px;top:424.40px;width:14.4px;height:16.82px;background:#ffb4b4"></div>
<div class="a" style="left:61.8px;top:424.40px;width:14.5px;height:16.82px;background:#4040ff"></div>
<div class="t" style="left:670.3px;top:426.46px">KEGG<s>_</s>OLFACTORY<s>_</s>TRANSDUCTION</div>
<div class="a" style="left:27.4px;top:440.92px;width:14.3px;height:16.82px;background:#8ecfd0"></div>
<div class="a" style="left:44.5px;top:440.92px;width:14.4px;height:16.82px;background:#ff1818"></div>
<div class="a" style="left:61.8px;top:440.92px;width:14.5px;height:16.82px;background:#0000f0"></div>
<div class="t" style="left:670.3px;top:442.98px">KEGG<s>_</s>METABOLISM<s>_</s>OF<s>_</s>XENOBIOTICS<s>_</s>BY<s>_</s>CYTOCHROME<s>_</s>P450</div>
<div class="a" style="left:27.4px;top:457.44px;width:14.3px;height:16.82px;background:#8ecfd0"></div>
<div class="a" style="left:44.5px;top:457.44px;width:14.4px;height:16.82px;background:#ffaaaa"></div>
<div class="a" style="left:61.8px;top:457.44px;width:14.5px;height:16.82px;background:#4040ff"></div>
<div class="t" style="left:670.3px;top:459.50px">KEGG<s>_</s>SPLICEOSOME</div>
<div class="a" style="left:27.4px;top:473.96px;width:14.3px;height:16.82px;background:#8ecfd0"></div>
<div class="a" style="left:44.5px;top:473.96px;width:14.4px;height:16.82px;background:#ffb0b0"></div>
<div class="a" style="left:61.8px;top:473.96px;width:14.5px;height:16.82px;background:#4444ff"></div>
<div class="t" style="left:670.3px;top:476.02px">KEGG<s>_</s>LONG<s>_</s>TERM<s>_</s>POTENTIATION</div>
<div class="a" style="left:27.4px;top:490.48px;width:14.3px;height:16.52px;background:#8ecfd0"></div>
<div class="a" style="left:44.5px;top:490.48px;width:14.4px;height:16.52px;background:#ffb4b4"></div>
<div class="a" style="left:61.8px;top:490.48px;width:14.5px;height:16.52px;background:#4848ff"></div>
<div class="t" style="left:670.3px;top:492.54px">KEGG<s>_</s>TGF<s>_</s>BETA<s>_</s>SIGNALING<s>_</s>PATHWAY</div>
<div class="a" style="left:80.3px;top:516.40px;width:587px;height:462.00px;filter:blur(1.00px)">
<div class="a" style="left:0;width:587px;top:0.00px;height:16.90px;background:linear-gradient(90deg,#faa 0 2px,#fbb 0 4px,#cbf 0 8px,#dce 0 12px,#fbb 0 14px,#dbd 0 16px,#faa 0 19px,#fee 0 21px,#ccf 0 24px,#fff 0 27px,#ccf 0 31px,#fbb 0 33px,#f33 0 35px,#faa 0 39px,#fcc 0 43px,#fbb 0 45px,#ede 0 48px,#f99 0 51px,#ebc 0 53px,#ddf 0 55px,#edf 0 59px,#ebc 0 63px,#fdd 0 65px,#faa 0 69px,#fee 0 73px,#fbb 0 76px,#fde 0 79px,#fdd 0 83px,#fcc 0 87px,#ddf 0 89px,#faa 0 92px,#fdd 0 96px,#dce 0 99px,#fcc 0 101px,#f99 0 104px,#ede 0 108px,#cbf 0 112px,#fcc 0 118px,#ecd 0 122px,#eaa 0 125px,#fcc 0 128px,#ecd 0 133px,#fcc 0 137px,#ecd 0 141px,#fee 0 144px,#ede 0 146px,#ebc 0 149px,#fcc 0 153px,#fbc 0 156px,#ede 0 159px,#fbb 0 163px,#fee 0 166px,#dde 0 168px,#cbe 0 172px,#f99 0 174px,#fcc 0 176px,#fbb 0 179px,#edd 0 182px,#fff 0 186px,#ede 0 189px,#ebc 0 193px,#d9a 0 196px,#ecd 0 198px,#bbf 0 200px,#fbb 0 203px,#f99 0 206px,#f88 0 209px,#ddf 0 211px,#fee 0 214px,#ebc 0 216px,#dce 0 220px,#faa 0 224px,#ede 0 226px,#fbb 0 230px,#ece 0 232px,#eee 0 235px,#faa 0 239px,#ecd 0 242px,#fcc 0 245px,#aaf 0 248px,#fcc 0 252px,#fdd 0 254px,#faa 0 256px,#dce 0 259px,#ecd 0 262px,#ecc 0 265px,#fde 0 268px,#fbb 0 271px,#dce 0 274px,#eab 0 278px,#ecd 0 281px,#f9a 0 284px,#ecc 0 288px,#ebc 0 292px,#fdd 0 294px,#ede 0 297px,#faa 0 300px,#eef 0 304px,#fbb 0 308px,#fcc 0 314px,#eee 0 316px,#ccf 0 319px,#ede 0 323px,#fdd 0 325px,#ddf 0 327px,#aaf 0 329px,#fcc 0 333px,#ddf 0 335px,#ccf 0 339px,#cbe 0 341px,#bbf 0 343px,#ccf 0 346px,#dcd 0 349px,#fbc 0 351px,#eef 0 353px,#ddf 0 355px,#fcc 0 357px,#fee 0 359px,#ccf 0 361px,#fcc 0 363px,#fee 0 366px,#fdd 0 370px,#ddf 0 373px,#faa 0 377px,#fdd 0 380px,#dce 0 384px,#ede 0 387px,#ddf 0 390px,#edd 0 393px,#ddf 0 396px,#ecd 0 400px,#fbb 0 404px,#ecc 0 407px,#fcd 0 409px,#faa 0 411px,#ecd 0 415px,#ddf 0 417px,#ebc 0 420px,#cbf 0 423px,#ecd 0 425px,#fff 0 430px,#fdd 0 434px,#fff 0 442px,#98e 0 446px,#dbe 0 449px,#cce 0 453px,#bbf 0 457px,#ccf 0 459px,#bbf 0 461px,#ccf 0 465px,#ede 0 468px,#edf 0 471px,#dce 0 474px,#ede 0 478px,#baf 0 481px,#ccf 0 485px,#eee 0 489px,#88e 0 491px,#a9e 0 494px,#bbf 0 498px,#dbd 0 501px,#87e 0 504px,#ddf 0 505px,#fff 0 510px,#fef 0 512px,#ddf 0 515px,#bbf 0 517px,#f88 0 519px,#cbe 0 523px,#ccf 0 529px,#eef 0 532px,#a9e 0 535px,#dce 0 537px,#bbf 0 539px,#dce 0 543px,#eee 0 545px,#87e 0 548px,#cce 0 552px,#ccf 0 556px,#cbe 0 559px,#eef 0 562px,#bbf 0 565px,#fcc 0 567px,#88e 0 569px,#a9e 0 571px,#ccf 0 575px,#dbd 0 578px,#cbf 0 579px,#fff 0 583px,#ddf 0 586px)"></div>
<div class="a" style="left:0;width:587px;top:16.50px;height:16.90px;background:linear-gradient(90deg,#ccf 0 2px,#fcc 0 4px,#cbf 0 8px,#dcf 0 12px,#f88 0 16px,#ede 0 19px,#fdd 0 21px,#dce 0 24px,#eef 0 27px,#ecd 0 31px,#fff 0 33px,#f77 0 35px,#ecd 0 39px,#ebc 0 43px,#f88 0 45px,#bbf 0 48px,#e9a 0 51px,#cbf 0 53px,#ede 0 55px,#eef 0 59px,#ecd 0 63px,#fbb 0 65px,#f77 0 69px,#bbf 0 73px,#fcc 0 76px,#faa 0 79px,#dde 0 81px,#ddf 0 83px,#edd 0 87px,#dbe 0 89px,#fbb 0 96px,#dce 0 99px,#fee 0 101px,#f99 0 104px,#ecd 0 108px,#ede 0 112px,#ebc 0 114px,#fbb 0 122px,#ebc 0 125px,#eab 0 128px,#dde 0 131px,#fdd 0 133px,#faa 0 137px,#eef 0 141px,#ebb 0 144px,#fee 0 146px,#ecd 0 149px,#f99 0 153px,#fcc 0 156px,#bbf 0 159px,#eef 0 163px,#eac 0 166px,#fee 0 168px,#ccf 0 172px,#faa 0 176px,#ecd 0 179px,#cbe 0 182px,#fff 0 186px,#eab 0 189px,#fee 0 193px,#dbd 0 196px,#ede 0 198px,#eee 0 200px,#fbb 0 203px,#fcc 0 206px,#faa 0 209px,#fcc 0 214px,#f99 0 216px,#fcc 0 220px,#faa 0 224px,#dce 0 226px,#faa 0 230px,#eef 0 232px,#ebc 0 235px,#eab 0 239px,#dbd 0 242px,#f88 0 245px,#eee 0 248px,#fde 0 252px,#fcc 0 254px,#edf 0 256px,#ecc 0 259px,#dac 0 262px,#faa 0 265px,#ede 0 268px,#f99 0 271px,#dce 0 274px,#fdd 0 278px,#eee 0 281px,#fbb 0 284px,#eaa 0 288px,#dde 0 292px,#bbf 0 294px,#fee 0 297px,#ebc 0 300px,#fdd 0 304px,#f88 0 308px,#fdd 0 312px,#cbf 0 314px,#fdd 0 316px,#ccf 0 319px,#e99 0 323px,#f88 0 325px,#baf 0 327px,#aaf 0 329px,#f66 0 333px,#ddf 0 335px,#edf 0 339px,#fdd 0 341px,#fee 0 343px,#ccf 0 346px,#fcc 0 349px,#ede 0 351px,#f99 0 353px,#d9b 0 355px,#fdd 0 357px,#dbc 0 359px,#ecd 0 361px,#eef 0 363px,#ece 0 366px,#fcc 0 370px,#ecd 0 373px,#e99 0 377px,#ecd 0 380px,#ece 0 384px,#ede 0 387px,#fbb 0 393px,#ecc 0 396px,#edd 0 400px,#f88 0 404px,#fcd 0 407px,#fee 0 409px,#faa 0 411px,#ebc 0 415px,#fee 0 417px,#eef 0 420px,#dcf 0 423px,#ccf 0 425px,#fff 0 430px,#edf 0 434px,#fff 0 442px,#77e 0 446px,#ccf 0 449px,#cce 0 453px,#baf 0 457px,#aaf 0 459px,#cbd 0 461px,#ede 0 463px,#98e 0 465px,#dce 0 468px,#cbf 0 471px,#ccf 0 474px,#eef 0 478px,#ccf 0 481px,#dce 0 485px,#ccf 0 489px,#cbf 0 494px,#ddf 0 498px,#eef 0 501px,#a9f 0 504px,#bbf 0 505px,#fff 0 510px,#eab 0 512px,#baf 0 515px,#ccf 0 517px,#fcc 0 519px,#dce 0 523px,#ccf 0 529px,#eac 0 532px,#ddf 0 535px,#fdd 0 537px,#bbf 0 539px,#aaf 0 543px,#eef 0 545px,#ecd 0 552px,#eef 0 554px,#aaf 0 556px,#bbf 0 559px,#ddf 0 562px,#baf 0 565px,#fcc 0 567px,#aaf 0 569px,#87e 0 571px,#bbf 0 575px,#88e 0 578px,#fbb 0 579px,#fff 0 583px,#a9e 0 586px)"></div>
<div class="a" style="left:0;width:587px;top:33.00px;height:16.90px;background:linear-gradient(90deg,#fdd 0 2px,#f99 0 4px,#ddf 0 8px,#ece 0 12px,#f88 0 14px,#faa 0 16px,#fdd 0 19px,#fbb 0 21px,#ede 0 24px,#c9c 0 27px,#eef 0 31px,#faa 0 33px,#f55 0 35px,#ece 0 39px,#fcc 0 43px,#fdd 0 45px,#ede 0 48px,#fbb 0 51px,#f88 0 53px,#ddf 0 55px,#eef 0 59px,#edd 0 63px,#fcc 0 65px,#faa 0 69px,#bbf 0 73px,#f77 0 79px,#eef 0 81px,#fee 0 83px,#f99 0 87px,#ddf 0 89px,#f99 0 92px,#f66 0 96px,#ede 0 99px,#fdd 0 101px,#f44 0 104px,#fcc 0 108px,#dde 0 112px,#fcc 0 114px,#f88 0 118px,#e78 0 122px,#eee 0 125px,#ede 0 128px,#ecd 0 131px,#fee 0 133px,#fcc 0 137px,#dce 0 141px,#fbb 0 146px,#f99 0 149px,#fcc 0 153px,#ecc 0 156px,#ebd 0 159px,#dce 0 163px,#ede 0 166px,#fbb 0 168px,#dcf 0 172px,#ecd 0 174px,#f77 0 176px,#fdd 0 179px,#ecd 0 182px,#fff 0 186px,#ecd 0 189px,#faa 0 193px,#fdd 0 196px,#eee 0 198px,#fdd 0 200px,#f99 0 203px,#f66 0 206px,#faa 0 209px,#eef 0 211px,#fcc 0 214px,#fee 0 216px,#ede 0 220px,#ebc 0 224px,#bbf 0 226px,#fcc 0 232px,#ede 0 235px,#fdd 0 239px,#ede 0 242px,#f88 0 245px,#bbf 0 248px,#ebc 0 252px,#fbb 0 254px,#eee 0 256px,#ddf 0 259px,#eef 0 262px,#fdd 0 265px,#ebc 0 268px,#f77 0 271px,#fef 0 274px,#ede 0 278px,#fbb 0 281px,#f66 0 284px,#ebc 0 288px,#ede 0 292px,#c8b 0 294px,#fdd 0 297px,#f66 0 300px,#fcc 0 304px,#ebb 0 308px,#fcc 0 312px,#fee 0 314px,#aaf 0 316px,#ede 0 323px,#fcd 0 325px,#cbf 0 327px,#ddf 0 329px,#fee 0 333px,#99e 0 335px,#a9e 0 339px,#cbf 0 341px,#dce 0 343px,#dbc 0 346px,#e99 0 349px,#d8a 0 351px,#fdd 0 353px,#dbd 0 355px,#ebb 0 357px,#ecd 0 359px,#bbf 0 361px,#eef 0 363px,#cbe 0 366px,#faa 0 370px,#ecc 0 373px,#faa 0 377px,#edf 0 380px,#aaf 0 384px,#ecd 0 387px,#edd 0 390px,#faa 0 393px,#ecd 0 396px,#dde 0 400px,#faa 0 407px,#f88 0 409px,#fdd 0 411px,#ece 0 415px,#ccf 0 417px,#fcc 0 420px,#dac 0 423px,#fbb 0 425px,#fff 0 430px,#eee 0 434px,#fff 0 442px,#98e 0 446px,#bbf 0 449px,#dcf 0 453px,#bbf 0 457px,#a9e 0 459px,#ccf 0 461px,#ede 0 463px,#a9e 0 465px,#fff 0 468px,#bbf 0 471px,#ccf 0 474px,#ecd 0 478px,#a9e 0 481px,#ddf 0 485px,#ede 0 489px,#ddf 0 491px,#bbf 0 498px,#cbf 0 501px,#87e 0 504px,#fff 0 505px,#fff 0 510px,#eac 0 512px,#baf 0 515px,#bbf 0 519px,#ccf 0 523px,#bbf 0 525px,#aaf 0 529px,#cbe 0 532px,#ddf 0 535px,#ecd 0 537px,#ddf 0 539px,#bbf 0 543px,#eef 0 548px,#bae 0 552px,#ddf 0 554px,#fff 0 556px,#ddf 0 559px,#cbe 0 562px,#bbf 0 565px,#dce 0 567px,#ccf 0 569px,#99e 0 571px,#cad 0 575px,#aaf 0 578px,#ddf 0 579px,#fff 0 583px,#ccf 0 586px)"></div>
<div class="a" style="left:0;width:587px;top:49.50px;height:16.90px;background:linear-gradient(90deg,#faa 0 2px,#fcc 0 4px,#aae 0 8px,#bbf 0 12px,#ccf 0 14px,#fee 0 16px,#eef 0 19px,#fdd 0 21px,#bbf 0 24px,#ccf 0 27px,#bbe 0 31px,#fbb 0 33px,#f99 0 35px,#ede 0 39px,#faa 0 43px,#ecd 0 45px,#ede 0 48px,#ebc 0 51px,#fdd 0 53px,#88e 0 55px,#eef 0 59px,#ebb 0 63px,#fcc 0 65px,#f88 0 69px,#cce 0 73px,#f99 0 76px,#eef 0 79px,#dde 0 81px,#dcf 0 83px,#fee 0 87px,#cad 0 89px,#dce 0 92px,#fbb 0 96px,#dce 0 99px,#fdd 0 101px,#fcc 0 104px,#faa 0 108px,#ede 0 112px,#fee 0 114px,#fcc 0 118px,#eaa 0 122px,#fdd 0 125px,#eef 0 128px,#eee 0 131px,#fcc 0 137px,#edf 0 141px,#faa 0 144px,#ccf 0 146px,#f99 0 149px,#fbb 0 153px,#ccf 0 156px,#dce 0 159px,#bbf 0 163px,#eef 0 166px,#ecc 0 168px,#cbe 0 172px,#ecd 0 174px,#eef 0 176px,#ebc 0 179px,#edf 0 182px,#fff 0 186px,#fbb 0 189px,#edf 0 193px,#fbb 0 196px,#cad 0 198px,#dce 0 200px,#e9a 0 203px,#f99 0 206px,#faa 0 209px,#f99 0 211px,#ede 0 214px,#ecc 0 216px,#fcc 0 220px,#ddf 0 224px,#fcc 0 226px,#fbb 0 230px,#fff 0 232px,#dce 0 235px,#ebb 0 239px,#fcc 0 242px,#faa 0 245px,#ccf 0 248px,#ecd 0 252px,#fee 0 256px,#fdd 0 259px,#faa 0 262px,#e99 0 265px,#bbf 0 268px,#ebc 0 271px,#eab 0 274px,#fdd 0 278px,#fee 0 281px,#f88 0 284px,#faa 0 288px,#ecc 0 292px,#fdd 0 294px,#f88 0 297px,#f99 0 304px,#f66 0 308px,#ecd 0 312px,#fdd 0 314px,#fcc 0 316px,#dcf 0 319px,#f88 0 323px,#f66 0 325px,#ccf 0 327px,#ddf 0 329px,#f77 0 333px,#fdd 0 335px,#ccf 0 339px,#f99 0 341px,#fdd 0 346px,#fcd 0 349px,#aaf 0 351px,#fcc 0 353px,#e9b 0 355px,#dce 0 357px,#ede 0 359px,#eef 0 361px,#fab 0 363px,#fbb 0 366px,#eab 0 370px,#f88 0 373px,#f99 0 377px,#eef 0 380px,#dac 0 384px,#fcc 0 390px,#f99 0 393px,#fcc 0 396px,#ebb 0 400px,#f77 0 404px,#fcc 0 407px,#faa 0 409px,#f99 0 415px,#edf 0 417px,#f88 0 420px,#fcc 0 423px,#ebc 0 425px,#fff 0 430px,#fee 0 434px,#fff 0 442px,#99e 0 446px,#cbe 0 449px,#ede 0 453px,#bbf 0 457px,#ddf 0 459px,#edf 0 461px,#ddf 0 463px,#99e 0 465px,#bbf 0 468px,#dcf 0 471px,#dce 0 474px,#bbf 0 478px,#ccf 0 481px,#ddf 0 485px,#ecd 0 489px,#87e 0 491px,#aaf 0 494px,#bbf 0 498px,#eef 0 501px,#99e 0 504px,#faa 0 505px,#fff 0 510px,#a9e 0 512px,#baf 0 515px,#aaf 0 517px,#edd 0 519px,#bbf 0 523px,#eef 0 525px,#cbf 0 529px,#eef 0 532px,#bbe 0 535px,#ccf 0 537px,#dcd 0 539px,#cbf 0 543px,#aaf 0 548px,#dce 0 552px,#fee 0 554px,#eef 0 556px,#cbf 0 559px,#ccf 0 562px,#aaf 0 565px,#fff 0 567px,#a9e 0 569px,#66e 0 571px,#cbe 0 575px,#a9e 0 578px,#baf 0 579px,#fff 0 583px,#bbf 0 586px)"></div>
<div class="a" style="left:0;width:587px;top:66.00px;height:16.90px;background:linear-gradient(90deg,#eef 0 2px,#fcc 0 4px,#dce 0 8px,#dcf 0 12px,#eef 0 14px,#fdd 0 16px,#ede 0 19px,#f88 0 21px,#cbf 0 24px,#dcf 0 27px,#dce 0 31px,#fff 0 33px,#f99 0 35px,#fee 0 39px,#dce 0 43px,#eef 0 45px,#ccf 0 48px,#ecd 0 51px,#fde 0 53px,#ecd 0 55px,#dde 0 59px,#ede 0 63px,#fbb 0 65px,#f88 0 69px,#bbf 0 73px,#fcc 0 76px,#fab 0 79px,#eee 0 81px,#fef 0 83px,#cce 0 87px,#fcc 0 89px,#fdd 0 96px,#dcf 0 99px,#ccf 0 101px,#ecc 0 104px,#ece 0 108px,#ddf 0 112px,#ede 0 114px,#fdd 0 118px,#ecd 0 122px,#ede 0 125px,#ebc 0 128px,#ddf 0 131px,#f66 0 133px,#ede 0 137px,#dbd 0 141px,#fcc 0 144px,#eef 0 146px,#dce 0 149px,#fcc 0 153px,#dde 0 156px,#ecd 0 159px,#cbe 0 163px,#ebb 0 166px,#fdd 0 168px,#ccf 0 172px,#dac 0 174px,#fee 0 176px,#ccf 0 179px,#ebc 0 182px,#fff 0 186px,#ede 0 189px,#fdd 0 193px,#fcc 0 198px,#fee 0 200px,#fcc 0 203px,#e99 0 206px,#f88 0 209px,#fcc 0 211px,#fbb 0 214px,#ddf 0 216px,#dcd 0 220px,#faa 0 224px,#ecd 0 226px,#fdd 0 230px,#ebc 0 232px,#fdd 0 235px,#fcc 0 239px,#fdd 0 242px,#fbb 0 245px,#ece 0 248px,#ecd 0 252px,#fcc 0 254px,#eab 0 256px,#fcc 0 259px,#cbe 0 262px,#eab 0 265px,#faa 0 268px,#dbd 0 274px,#bbf 0 278px,#fbb 0 281px,#f99 0 284px,#faa 0 288px,#dbd 0 292px,#ddf 0 294px,#edd 0 297px,#eef 0 300px,#fcd 0 304px,#faa 0 308px,#eee 0 312px,#dce 0 316px,#dcd 0 319px,#fbc 0 323px,#f66 0 325px,#aaf 0 327px,#baf 0 329px,#ecd 0 333px,#fbb 0 335px,#aaf 0 339px,#fdd 0 341px,#faa 0 343px,#dce 0 346px,#fcc 0 349px,#ecd 0 351px,#fbb 0 353px,#ecd 0 355px,#dbc 0 357px,#f88 0 359px,#ddf 0 361px,#eee 0 363px,#fdd 0 366px,#fbb 0 370px,#ecc 0 373px,#f88 0 377px,#fdd 0 380px,#ecd 0 384px,#fbb 0 390px,#fcc 0 396px,#ecd 0 400px,#faa 0 404px,#fee 0 407px,#f99 0 409px,#fcc 0 411px,#fdd 0 415px,#f88 0 417px,#f66 0 420px,#dcd 0 423px,#edf 0 425px,#fff 0 430px,#fef 0 434px,#fff 0 442px,#aaf 0 446px,#cce 0 449px,#baf 0 453px,#98e 0 457px,#ccf 0 459px,#a9e 0 461px,#fee 0 463px,#aaf 0 471px,#fdd 0 474px,#dce 0 478px,#dac 0 481px,#bbf 0 485px,#ede 0 491px,#ddf 0 498px,#cbe 0 501px,#98e 0 504px,#fcc 0 505px,#fff 0 510px,#ddf 0 512px,#a9e 0 515px,#edf 0 517px,#fbb 0 519px,#dce 0 523px,#baf 0 525px,#cbe 0 529px,#fcc 0 532px,#ddf 0 535px,#ccf 0 537px,#edf 0 539px,#ccf 0 543px,#bbf 0 545px,#dbd 0 548px,#dcf 0 552px,#bbf 0 554px,#fff 0 556px,#ddf 0 559px,#fbb 0 562px,#ccf 0 565px,#ede 0 567px,#ccf 0 571px,#ddf 0 575px,#98e 0 578px,#a9e 0 579px,#fff 0 583px,#ede 0 586px)"></div>
<div class="a" style="left:0;width:587px;top:82.50px;height:16.90px;background:linear-gradient(90deg,#ecd 0 2px,#eef 0 4px,#cbf 0 8px,#dde 0 12px,#eef 0 14px,#fff 0 16px,#ecd 0 19px,#dcd 0 21px,#ddf 0 24px,#dbd 0 27px,#cbe 0 31px,#f88 0 33px,#ebb 0 35px,#ecd 0 39px,#cbe 0 43px,#f99 0 45px,#fbb 0 48px,#fcd 0 51px,#fee 0 53px,#ddf 0 55px,#dce 0 59px,#fcd 0 63px,#f99 0 65px,#f77 0 69px,#bae 0 73px,#fee 0 76px,#fcc 0 79px,#ddf 0 81px,#faa 0 83px,#fcc 0 87px,#fbb 0 89px,#f88 0 92px,#fbb 0 96px,#fdd 0 99px,#dab 0 101px,#f77 0 104px,#edd 0 108px,#ebc 0 112px,#fee 0 114px,#fdd 0 118px,#ebc 0 122px,#fbb 0 125px,#ecd 0 128px,#aaf 0 131px,#fee 0 133px,#faa 0 137px,#cce 0 141px,#ecd 0 144px,#fbb 0 146px,#faa 0 149px,#fab 0 153px,#ebc 0 156px,#eee 0 159px,#ccf 0 163px,#ede 0 166px,#fff 0 168px,#ccf 0 172px,#fbb 0 176px,#ecd 0 179px,#dbd 0 182px,#fff 0 186px,#cbf 0 189px,#fdd 0 193px,#ecd 0 196px,#ccf 0 198px,#dce 0 200px,#eef 0 203px,#edd 0 206px,#ebb 0 209px,#ebc 0 211px,#ede 0 214px,#fee 0 216px,#dce 0 220px,#dde 0 224px,#ddf 0 226px,#fbb 0 230px,#dbd 0 232px,#dce 0 235px,#ecd 0 239px,#fcc 0 242px,#fee 0 245px,#cbf 0 248px,#ecc 0 252px,#f99 0 254px,#ecc 0 256px,#fff 0 259px,#cce 0 262px,#fcc 0 265px,#ddf 0 268px,#ecd 0 271px,#cbd 0 274px,#ecd 0 278px,#fbb 0 281px,#f99 0 288px,#eef 0 292px,#f99 0 294px,#fcc 0 297px,#cce 0 300px,#ebc 0 304px,#fcc 0 308px,#f88 0 312px,#fff 0 314px,#faa 0 316px,#dcd 0 319px,#e9a 0 323px,#f77 0 325px,#eef 0 327px,#dcf 0 329px,#f88 0 333px,#dcf 0 335px,#ddf 0 339px,#fdd 0 341px,#dcf 0 343px,#dbe 0 346px,#fcc 0 349px,#ebc 0 351px,#fcc 0 353px,#eef 0 355px,#fcc 0 357px,#fbb 0 359px,#ecd 0 361px,#fee 0 363px,#eab 0 366px,#faa 0 370px,#f88 0 377px,#ebc 0 380px,#ebb 0 384px,#ecc 0 387px,#eee 0 390px,#e89 0 393px,#ede 0 396px,#dbd 0 400px,#fbb 0 404px,#eef 0 407px,#f66 0 409px,#f99 0 411px,#ede 0 415px,#eab 0 417px,#dbd 0 420px,#d9b 0 423px,#fee 0 425px,#fff 0 430px,#eef 0 434px,#fff 0 442px,#cbf 0 446px,#cbe 0 449px,#ddf 0 453px,#98e 0 457px,#cbf 0 459px,#ccf 0 461px,#cad 0 463px,#fff 0 465px,#dad 0 468px,#edf 0 471px,#ccf 0 478px,#aaf 0 481px,#ccf 0 485px,#fdd 0 489px,#bbf 0 491px,#ddf 0 494px,#dce 0 498px,#dac 0 501px,#aaf 0 504px,#f77 0 505px,#fff 0 510px,#ecc 0 512px,#dcf 0 517px,#fcc 0 519px,#ccf 0 523px,#dac 0 525px,#cbf 0 529px,#dce 0 532px,#ccf 0 535px,#cbe 0 537px,#fee 0 539px,#98e 0 543px,#ddf 0 545px,#ccf 0 548px,#ddf 0 552px,#ccf 0 554px,#ebc 0 556px,#eef 0 559px,#fde 0 562px,#bbf 0 565px,#fcc 0 567px,#ccf 0 571px,#ddf 0 575px,#99e 0 578px,#a9f 0 579px,#fff 0 583px,#fdd 0 586px)"></div>
<div class="a" style="left:0;width:587px;top:99.00px;height:16.90px;background:linear-gradient(90deg,#f99 0 2px,#ecd 0 4px,#bbf 0 8px,#dce 0 12px,#fdd 0 14px,#fcc 0 16px,#ede 0 19px,#fee 0 21px,#ddf 0 24px,#dac 0 27px,#ccf 0 31px,#fee 0 33px,#f99 0 35px,#cbd 0 39px,#fcc 0 45px,#dbd 0 51px,#eef 0 53px,#ddf 0 55px,#ecd 0 59px,#dcd 0 63px,#ddf 0 65px,#f99 0 69px,#bbf 0 73px,#fcc 0 76px,#fdd 0 79px,#cbf 0 81px,#edd 0 83px,#faa 0 87px,#d9b 0 89px,#fbc 0 92px,#f99 0 96px,#fdd 0 99px,#aaf 0 101px,#f66 0 104px,#fcc 0 108px,#edd 0 112px,#faa 0 114px,#ecd 0 118px,#fbb 0 122px,#fee 0 125px,#ecd 0 128px,#ede 0 131px,#d9b 0 133px,#eef 0 137px,#ecd 0 141px,#f88 0 144px,#dce 0 146px,#fbb 0 153px,#fcd 0 156px,#ede 0 159px,#dcf 0 163px,#ddf 0 168px,#baf 0 172px,#dbc 0 174px,#fdd 0 179px,#dce 0 182px,#fff 0 186px,#ede 0 189px,#dce 0 193px,#dac 0 196px,#dce 0 198px,#fee 0 200px,#f99 0 203px,#fbb 0 206px,#f88 0 209px,#f77 0 211px,#dce 0 214px,#fee 0 216px,#dcf 0 220px,#ede 0 224px,#aaf 0 226px,#ecd 0 230px,#ccf 0 232px,#ddf 0 235px,#ede 0 239px,#dcd 0 242px,#fdd 0 245px,#eef 0 248px,#fbb 0 252px,#fcd 0 254px,#eef 0 256px,#d9c 0 259px,#cbf 0 262px,#cbd 0 265px,#ede 0 268px,#dce 0 271px,#ede 0 274px,#dce 0 278px,#ccf 0 281px,#ebb 0 284px,#fcc 0 288px,#ede 0 292px,#ecd 0 294px,#fbb 0 297px,#f88 0 300px,#faa 0 304px,#f77 0 308px,#fdd 0 314px,#ecd 0 316px,#baf 0 319px,#f99 0 323px,#f55 0 325px,#cce 0 327px,#fbb 0 329px,#f88 0 333px,#ede 0 335px,#dbd 0 339px,#dbe 0 341px,#fee 0 343px,#ddf 0 346px,#fcc 0 349px,#ede 0 351px,#f88 0 353px,#cad 0 355px,#fdd 0 359px,#ede 0 361px,#fdd 0 363px,#fee 0 366px,#f77 0 370px,#f99 0 373px,#f88 0 377px,#eaa 0 380px,#fbb 0 390px,#f77 0 393px,#fcd 0 396px,#ede 0 400px,#e9a 0 404px,#d8a 0 407px,#f88 0 409px,#fcc 0 411px,#fde 0 415px,#ddf 0 417px,#faa 0 420px,#dcd 0 423px,#fbb 0 425px,#fff 0 430px,#eef 0 434px,#fff 0 442px,#ddf 0 446px,#dce 0 449px,#cbf 0 453px,#ccf 0 457px,#aae 0 459px,#87e 0 461px,#fcc 0 463px,#cce 0 465px,#ccf 0 468px,#ddf 0 471px,#fee 0 474px,#ecd 0 478px,#eef 0 481px,#dde 0 485px,#fee 0 489px,#eef 0 491px,#bbf 0 494px,#dcf 0 498px,#ece 0 501px,#87e 0 504px,#fee 0 505px,#fff 0 510px,#cbe 0 512px,#a9f 0 515px,#a9e 0 517px,#f99 0 519px,#bbf 0 523px,#ddf 0 525px,#bbf 0 529px,#ede 0 532px,#bbf 0 535px,#ccf 0 537px,#d9b 0 539px,#cbf 0 543px,#aaf 0 545px,#cce 0 548px,#ccf 0 552px,#cbf 0 554px,#98e 0 556px,#ccf 0 559px,#bbf 0 562px,#99e 0 565px,#dcf 0 567px,#cbf 0 575px,#a9f 0 578px,#ddf 0 579px,#fff 0 583px,#ccf 0 586px)"></div>
<div class="a" style="left:0;width:587px;top:115.50px;height:16.90px;background:linear-gradient(90deg,#ecd 0 2px,#eef 0 4px,#98e 0 8px,#aaf 0 12px,#fee 0 14px,#dac 0 16px,#cbe 0 19px,#ddf 0 21px,#baf 0 24px,#ccf 0 27px,#98e 0 31px,#ecd 0 33px,#fdd 0 35px,#ede 0 39px,#edd 0 43px,#ecd 0 45px,#dcf 0 48px,#fdd 0 51px,#ddf 0 53px,#bae 0 55px,#ccf 0 59px,#fcc 0 63px,#fdd 0 65px,#ebc 0 69px,#ccf 0 73px,#eef 0 76px,#fdd 0 79px,#ede 0 81px,#99e 0 83px,#ddf 0 87px,#bbf 0 89px,#faa 0 96px,#bbf 0 99px,#ddf 0 101px,#e89 0 104px,#ddf 0 108px,#fdd 0 114px,#faa 0 118px,#ecd 0 122px,#ddf 0 125px,#fdd 0 128px,#fee 0 131px,#dce 0 133px,#eab 0 137px,#ccf 0 141px,#faa 0 144px,#fee 0 149px,#eab 0 153px,#ecd 0 156px,#ebd 0 159px,#eef 0 163px,#dce 0 166px,#cbf 0 168px,#cbe 0 172px,#ede 0 174px,#fee 0 176px,#fcc 0 179px,#ccf 0 182px,#fff 0 186px,#dce 0 189px,#baf 0 193px,#fcc 0 196px,#ccf 0 198px,#aaf 0 200px,#ecd 0 203px,#ccf 0 206px,#dbe 0 209px,#eee 0 211px,#dcf 0 214px,#dac 0 216px,#bae 0 220px,#ccf 0 226px,#ddf 0 230px,#fdd 0 232px,#baf 0 235px,#dbd 0 239px,#dce 0 242px,#dcf 0 245px,#aae 0 248px,#bbf 0 252px,#fee 0 254px,#cce 0 256px,#edf 0 259px,#bbf 0 262px,#ddf 0 265px,#edf 0 268px,#bbe 0 271px,#87e 0 274px,#ddf 0 278px,#dcf 0 281px,#ecd 0 284px,#cbe 0 288px,#ccf 0 292px,#bbf 0 294px,#ede 0 297px,#faa 0 300px,#fcc 0 304px,#ebc 0 308px,#fcc 0 312px,#fee 0 314px,#fcc 0 316px,#88e 0 319px,#fcc 0 323px,#faa 0 325px,#ddf 0 327px,#dce 0 329px,#fdd 0 333px,#aaf 0 335px,#cce 0 339px,#fee 0 341px,#fdd 0 343px,#dde 0 346px,#dce 0 349px,#ccf 0 351px,#eee 0 353px,#ede 0 355px,#ddf 0 357px,#ecd 0 359px,#baf 0 361px,#cce 0 363px,#aaf 0 366px,#fbb 0 370px,#ecd 0 373px,#fbb 0 377px,#fcd 0 380px,#bbf 0 384px,#ecc 0 387px,#ece 0 390px,#ede 0 393px,#faa 0 396px,#fcd 0 400px,#e9a 0 404px,#fdd 0 407px,#ddf 0 409px,#f88 0 411px,#dcd 0 415px,#ede 0 417px,#fdd 0 420px,#c9c 0 423px,#dce 0 425px,#fff 0 430px,#eee 0 434px,#fff 0 442px,#fbb 0 446px,#faa 0 449px,#f99 0 453px,#fcd 0 457px,#f99 0 459px,#ecd 0 461px,#f99 0 465px,#eaa 0 468px,#f88 0 471px,#ecd 0 474px,#f77 0 478px,#fcc 0 481px,#f99 0 485px,#f77 0 489px,#f99 0 491px,#faa 0 494px,#f88 0 498px,#f77 0 501px,#d89 0 504px,#fbb 0 505px,#fff 0 510px,#faa 0 512px,#fbb 0 515px,#ede 0 517px,#f66 0 519px,#ebc 0 523px,#faa 0 525px,#fbb 0 529px,#f88 0 532px,#f99 0 537px,#fdd 0 539px,#fde 0 543px,#f88 0 545px,#faa 0 548px,#fbb 0 552px,#f99 0 556px,#faa 0 559px,#fbb 0 562px,#ece 0 565px,#f44 0 567px,#fdd 0 571px,#fcc 0 575px,#dcf 0 578px,#f66 0 579px,#fff 0 583px,#faa 0 586px)"></div>
<div class="a" style="left:0;width:587px;top:132.00px;height:16.90px;background:linear-gradient(90deg,#eef 0 2px,#fff 0 4px,#bae 0 8px,#bad 0 12px,#eaa 0 14px,#fee 0 16px,#eef 0 19px,#ecd 0 21px,#aaf 0 24px,#fdd 0 27px,#dce 0 31px,#d9a 0 33px,#ede 0 35px,#fbc 0 39px,#fcc 0 43px,#ddf 0 45px,#dce 0 48px,#e9a 0 51px,#ede 0 53px,#98e 0 55px,#ecd 0 59px,#fdd 0 63px,#dac 0 65px,#faa 0 69px,#bbf 0 73px,#ebc 0 76px,#ccf 0 79px,#eef 0 81px,#ccf 0 83px,#dce 0 87px,#fee 0 89px,#ddf 0 92px,#faa 0 96px,#eee 0 99px,#f88 0 101px,#f99 0 104px,#fbb 0 108px,#dbd 0 112px,#f66 0 114px,#eab 0 118px,#fdd 0 122px,#faa 0 125px,#fdd 0 128px,#edf 0 131px,#faa 0 133px,#f88 0 137px,#ecd 0 141px,#fbb 0 144px,#faa 0 146px,#eef 0 149px,#fcc 0 153px,#fdd 0 159px,#dcf 0 163px,#ede 0 166px,#ddf 0 168px,#cbd 0 172px,#fbb 0 174px,#fee 0 179px,#ecd 0 182px,#fff 0 186px,#fdd 0 189px,#cbf 0 193px,#bbf 0 196px,#f88 0 198px,#fbb 0 200px,#fcc 0 203px,#fdd 0 206px,#f77 0 209px,#cad 0 211px,#dde 0 214px,#dac 0 216px,#edf 0 220px,#edd 0 224px,#dce 0 226px,#ecd 0 230px,#ede 0 232px,#dce 0 235px,#ddf 0 239px,#fdd 0 242px,#f77 0 245px,#ddf 0 248px,#ccf 0 252px,#ebd 0 254px,#ede 0 256px,#ddf 0 259px,#ebc 0 262px,#cbd 0 265px,#ede 0 268px,#eab 0 271px,#ddf 0 274px,#fef 0 278px,#ede 0 281px,#fbb 0 284px,#ecd 0 288px,#ede 0 292px,#fee 0 294px,#dce 0 297px,#fbb 0 300px,#fcd 0 304px,#fcc 0 308px,#fbb 0 312px,#dce 0 314px,#f88 0 316px,#aaf 0 319px,#ecd 0 323px,#ede 0 325px,#cad 0 327px,#faa 0 329px,#f88 0 333px,#fef 0 335px,#ecd 0 339px,#fcc 0 341px,#edd 0 343px,#ccf 0 346px,#fbb 0 349px,#fdd 0 353px,#fcc 0 357px,#fef 0 359px,#bbf 0 361px,#ddf 0 363px,#fdd 0 366px,#fcc 0 370px,#dce 0 373px,#f99 0 377px,#d9a 0 380px,#dbd 0 384px,#faa 0 387px,#fdd 0 390px,#eef 0 393px,#faa 0 396px,#ddf 0 400px,#faa 0 404px,#fcc 0 409px,#f66 0 411px,#fbb 0 415px,#d89 0 417px,#f99 0 420px,#ccf 0 423px,#dcd 0 425px,#fff 0 430px,#eef 0 434px,#fff 0 442px,#99e 0 446px,#edf 0 449px,#ccf 0 453px,#aaf 0 457px,#ccf 0 459px,#cbf 0 461px,#ecd 0 463px,#aaf 0 465px,#bbf 0 468px,#cbf 0 471px,#ede 0 474px,#ecd 0 478px,#bbf 0 481px,#dbd 0 485px,#eab 0 489px,#bbf 0 494px,#dce 0 498px,#ebd 0 501px,#a9e 0 504px,#dcf 0 505px,#fff 0 510px,#fcc 0 512px,#baf 0 515px,#bbe 0 517px,#f88 0 519px,#dce 0 523px,#99e 0 525px,#ccf 0 529px,#ede 0 532px,#bbf 0 535px,#aaf 0 537px,#ccf 0 539px,#bae 0 543px,#baf 0 545px,#bbf 0 548px,#dde 0 552px,#baf 0 554px,#ccf 0 556px,#dbd 0 559px,#eef 0 562px,#cbf 0 565px,#ede 0 567px,#bbf 0 569px,#aaf 0 571px,#cbe 0 575px,#99e 0 578px,#ccf 0 579px,#fff 0 583px,#dde 0 586px)"></div>
<div class="a" style="left:0;width:587px;top:148.50px;height:16.90px;background:linear-gradient(90deg,#fef 0 2px,#fdd 0 4px,#baf 0 8px,#ecd 0 12px,#ddf 0 14px,#f55 0 16px,#ddf 0 19px,#f99 0 21px,#bbf 0 24px,#ede 0 27px,#bbf 0 31px,#faa 0 33px,#f55 0 35px,#fbb 0 39px,#ede 0 43px,#fdd 0 45px,#fee 0 48px,#ede 0 51px,#fbb 0 53px,#ccf 0 55px,#dce 0 63px,#fdd 0 65px,#e9a 0 69px,#bbf 0 73px,#fbb 0 76px,#fcc 0 79px,#bbf 0 81px,#ede 0 83px,#faa 0 87px,#fcc 0 89px,#faa 0 92px,#fdd 0 96px,#fde 0 99px,#ecc 0 101px,#fbb 0 104px,#ede 0 108px,#ecd 0 112px,#faa 0 114px,#fcc 0 118px,#fbb 0 122px,#ddf 0 125px,#edd 0 128px,#fcc 0 131px,#ddf 0 133px,#fdd 0 137px,#cad 0 141px,#fbb 0 144px,#ecd 0 146px,#fbb 0 149px,#fdd 0 153px,#ccf 0 156px,#ddf 0 159px,#cbe 0 163px,#fde 0 166px,#fcc 0 168px,#edf 0 172px,#f66 0 174px,#fcc 0 176px,#fdd 0 179px,#dbd 0 182px,#fff 0 186px,#ede 0 189px,#ecd 0 193px,#99e 0 196px,#bae 0 198px,#ccf 0 200px,#eab 0 203px,#ecc 0 206px,#ecd 0 209px,#dce 0 211px,#bbf 0 214px,#eef 0 216px,#ede 0 220px,#ecd 0 224px,#fff 0 226px,#ddf 0 230px,#ccf 0 232px,#bbf 0 235px,#dbd 0 239px,#ddf 0 242px,#ebc 0 245px,#a9e 0 248px,#dcf 0 252px,#bbf 0 254px,#aaf 0 256px,#bbf 0 259px,#98e 0 262px,#eef 0 265px,#ddf 0 268px,#ede 0 271px,#cbe 0 274px,#ede 0 278px,#ecd 0 281px,#ddf 0 288px,#cce 0 292px,#cbf 0 294px,#edf 0 297px,#ccf 0 300px,#ddf 0 304px,#dde 0 308px,#eef 0 312px,#aaf 0 314px,#fee 0 316px,#aae 0 319px,#dce 0 323px,#eee 0 325px,#ccf 0 327px,#a9e 0 329px,#fbb 0 333px,#ccf 0 335px,#cbf 0 339px,#eef 0 341px,#edd 0 343px,#99e 0 346px,#ede 0 351px,#fcc 0 353px,#ede 0 355px,#eef 0 357px,#dbd 0 359px,#88e 0 361px,#dcf 0 363px,#bbe 0 366px,#fdd 0 370px,#edd 0 373px,#ede 0 377px,#cbf 0 384px,#ece 0 387px,#eef 0 390px,#ede 0 393px,#eef 0 396px,#bbf 0 400px,#fdd 0 404px,#edf 0 407px,#eef 0 409px,#ccf 0 411px,#dce 0 415px,#ccf 0 417px,#ddf 0 420px,#ccf 0 423px,#bbf 0 425px,#fff 0 430px,#fee 0 434px,#fff 0 442px,#ede 0 446px,#f77 0 449px,#fbb 0 453px,#dac 0 457px,#eef 0 461px,#f88 0 463px,#fcc 0 465px,#faa 0 468px,#f77 0 471px,#f88 0 474px,#f77 0 478px,#fcc 0 481px,#f99 0 485px,#f77 0 489px,#f88 0 491px,#ecc 0 494px,#f77 0 498px,#f99 0 501px,#faa 0 504px,#f33 0 505px,#fff 0 510px,#fcc 0 512px,#f99 0 515px,#fbb 0 517px,#f77 0 523px,#f99 0 525px,#fcc 0 529px,#f77 0 532px,#dcd 0 535px,#f88 0 537px,#fff 0 539px,#fcd 0 543px,#eef 0 545px,#fbb 0 548px,#fbc 0 552px,#fbb 0 554px,#f88 0 556px,#cac 0 559px,#f66 0 562px,#bbf 0 565px,#fbb 0 567px,#eee 0 569px,#ecd 0 571px,#fdd 0 575px,#dce 0 578px,#ddf 0 579px,#fff 0 583px,#f88 0 586px)"></div>
<div class="a" style="left:0;width:587px;top:165.00px;height:16.90px;background:linear-gradient(90deg,#cbf 0 2px,#f99 0 4px,#99e 0 8px,#cbf 0 12px,#fef 0 14px,#ede 0 16px,#dce 0 19px,#fee 0 21px,#88e 0 24px,#ddf 0 27px,#aaf 0 31px,#ddf 0 33px,#fcc 0 35px,#dce 0 39px,#cbe 0 43px,#eef 0 45px,#ddf 0 51px,#ede 0 53px,#ccf 0 55px,#cbe 0 59px,#edd 0 63px,#fff 0 65px,#faa 0 69px,#ddf 0 73px,#ecc 0 76px,#edd 0 79px,#aaf 0 81px,#99e 0 83px,#fee 0 87px,#ddf 0 89px,#fff 0 92px,#faa 0 96px,#dbd 0 99px,#e9a 0 101px,#f99 0 104px,#eab 0 108px,#ede 0 112px,#f88 0 114px,#ede 0 118px,#ebb 0 122px,#ede 0 125px,#fbb 0 128px,#fee 0 131px,#ecd 0 133px,#fdd 0 137px,#eab 0 141px,#f77 0 144px,#ddf 0 146px,#ede 0 149px,#fcc 0 153px,#ede 0 156px,#fcd 0 159px,#dce 0 163px,#ede 0 166px,#fcc 0 168px,#dac 0 172px,#eee 0 174px,#f88 0 176px,#ede 0 179px,#ccf 0 182px,#fff 0 186px,#bbf 0 189px,#ece 0 193px,#dbe 0 196px,#ddf 0 198px,#cbf 0 200px,#dac 0 203px,#ebc 0 206px,#ede 0 209px,#dce 0 211px,#dbd 0 214px,#cbe 0 216px,#dce 0 220px,#ecd 0 224px,#ccf 0 226px,#ecd 0 230px,#ddf 0 232px,#aaf 0 235px,#ede 0 239px,#ccf 0 242px,#fbc 0 245px,#88e 0 248px,#ebd 0 252px,#ede 0 254px,#ddf 0 256px,#baf 0 259px,#dcf 0 262px,#edd 0 265px,#ccf 0 268px,#bbe 0 271px,#ccf 0 274px,#bbf 0 278px,#edf 0 281px,#ecd 0 284px,#eab 0 288px,#dce 0 292px,#dcf 0 294px,#ecd 0 297px,#f99 0 300px,#fbb 0 304px,#f88 0 308px,#f99 0 312px,#ecd 0 314px,#eab 0 316px,#dcf 0 319px,#faa 0 323px,#f77 0 325px,#ccf 0 327px,#dbd 0 329px,#f88 0 333px,#eef 0 335px,#cce 0 339px,#eee 0 341px,#fcc 0 343px,#fef 0 346px,#fde 0 349px,#ccf 0 351px,#fcc 0 355px,#edd 0 357px,#fef 0 359px,#fdd 0 361px,#ecd 0 363px,#cbe 0 366px,#faa 0 373px,#f88 0 377px,#f99 0 380px,#eef 0 387px,#faa 0 390px,#ebb 0 393px,#f88 0 396px,#ebc 0 400px,#fee 0 404px,#fbb 0 409px,#faa 0 411px,#fbb 0 415px,#ede 0 417px,#fbb 0 420px,#dac 0 423px,#ebc 0 425px,#fff 0 430px,#fee 0 434px,#fff 0 442px,#bbf 0 446px,#ecc 0 449px,#dbe 0 453px,#a9f 0 457px,#cbe 0 459px,#ccf 0 461px,#dcf 0 463px,#cce 0 465px,#a8c 0 468px,#ddf 0 471px,#fdd 0 474px,#ece 0 478px,#ccf 0 481px,#dbd 0 485px,#ece 0 489px,#dbd 0 491px,#dce 0 494px,#fee 0 498px,#ede 0 501px,#ccf 0 504px,#fdd 0 505px,#fff 0 510px,#ede 0 512px,#bbf 0 515px,#eef 0 517px,#dbc 0 519px,#ebc 0 523px,#fef 0 525px,#ecd 0 529px,#dbd 0 532px,#eee 0 535px,#fdd 0 537px,#cac 0 539px,#dcf 0 543px,#ede 0 545px,#edd 0 548px,#dbd 0 552px,#fcc 0 554px,#fee 0 556px,#fcc 0 559px,#eee 0 562px,#ccf 0 565px,#f88 0 567px,#dcf 0 571px,#ebd 0 575px,#bbf 0 578px,#fee 0 579px,#fff 0 583px,#ede 0 586px)"></div>
<div class="a" style="left:0;width:587px;top:181.50px;height:16.90px;background:linear-gradient(90deg,#ebc 0 2px,#ebb 0 4px,#ccf 0 12px,#cad 0 14px,#f44 0 16px,#ddf 0 19px,#fee 0 21px,#99e 0 24px,#eee 0 27px,#dce 0 31px,#fbb 0 33px,#f88 0 35px,#f99 0 39px,#ebc 0 43px,#f99 0 45px,#eef 0 48px,#fbb 0 51px,#ebc 0 53px,#ddf 0 55px,#ede 0 59px,#fcc 0 63px,#fdd 0 65px,#fcc 0 69px,#ddf 0 73px,#ecc 0 76px,#fcc 0 79px,#a9e 0 81px,#ddf 0 83px,#fcc 0 92px,#f88 0 96px,#dcf 0 99px,#edf 0 101px,#f88 0 104px,#fcd 0 108px,#eee 0 112px,#fff 0 114px,#eab 0 118px,#fde 0 122px,#fdd 0 125px,#faa 0 128px,#eef 0 131px,#ebb 0 133px,#cce 0 137px,#eef 0 141px,#fdd 0 144px,#ccf 0 146px,#fbb 0 149px,#fcc 0 153px,#f99 0 156px,#fdd 0 159px,#bbf 0 163px,#fee 0 166px,#f99 0 168px,#ccf 0 172px,#fcc 0 174px,#fbb 0 179px,#bbe 0 182px,#fff 0 186px,#dce 0 189px,#dcf 0 193px,#dbd 0 196px,#ccf 0 200px,#fff 0 203px,#fcc 0 206px,#fbb 0 209px,#ecc 0 211px,#dce 0 214px,#faa 0 216px,#dce 0 220px,#fbb 0 224px,#fcd 0 226px,#ecc 0 230px,#a9e 0 232px,#ddf 0 239px,#fef 0 242px,#fdd 0 245px,#dce 0 248px,#ede 0 252px,#fee 0 254px,#eef 0 256px,#fee 0 259px,#dce 0 262px,#eac 0 265px,#eef 0 268px,#ede 0 271px,#dbd 0 274px,#dce 0 278px,#dac 0 281px,#fdd 0 284px,#eab 0 288px,#ddf 0 292px,#fdd 0 294px,#fbb 0 297px,#f77 0 300px,#ebd 0 304px,#eab 0 308px,#faa 0 312px,#eef 0 314px,#bbf 0 316px,#bad 0 319px,#f99 0 323px,#fee 0 325px,#dce 0 327px,#fde 0 329px,#fbb 0 333px,#eef 0 335px,#dce 0 339px,#fff 0 341px,#bbf 0 343px,#aaf 0 346px,#fbb 0 349px,#c8b 0 351px,#ecd 0 353px,#fee 0 355px,#f99 0 357px,#eee 0 359px,#dce 0 361px,#fff 0 363px,#ebc 0 366px,#fbb 0 370px,#f99 0 373px,#f77 0 377px,#ede 0 380px,#eef 0 384px,#fbb 0 387px,#fdd 0 390px,#ede 0 393px,#faa 0 396px,#ecd 0 400px,#fbb 0 404px,#ddf 0 407px,#fbb 0 411px,#dde 0 415px,#dbc 0 417px,#fdd 0 420px,#edd 0 423px,#ede 0 425px,#fff 0 430px,#fef 0 434px,#fff 0 442px,#88e 0 446px,#ede 0 449px,#dde 0 453px,#cbe 0 457px,#aaf 0 459px,#ccf 0 461px,#eee 0 463px,#ccf 0 465px,#baf 0 468px,#bbf 0 471px,#ede 0 474px,#bbf 0 478px,#aaf 0 481px,#cbf 0 485px,#fdd 0 489px,#aaf 0 491px,#ddf 0 494px,#ecd 0 498px,#eef 0 501px,#98e 0 504px,#99e 0 505px,#fff 0 510px,#fee 0 512px,#eef 0 515px,#ddf 0 517px,#e99 0 519px,#ddf 0 523px,#fbb 0 525px,#bbf 0 529px,#dac 0 532px,#ccf 0 535px,#ddf 0 537px,#f99 0 539px,#baf 0 543px,#ddf 0 545px,#fee 0 548px,#ece 0 552px,#ede 0 554px,#dce 0 556px,#c9c 0 559px,#dbd 0 562px,#a9f 0 565px,#fcc 0 567px,#ddf 0 569px,#87e 0 571px,#dce 0 575px,#bbf 0 579px,#fff 0 583px,#ddf 0 586px)"></div>
<div class="a" style="left:0;width:587px;top:198.00px;height:16.90px;background:linear-gradient(90deg,#ccf 0 2px,#dbc 0 4px,#ddf 0 8px,#ccf 0 12px,#dce 0 19px,#ecc 0 21px,#aaf 0 24px,#ccf 0 27px,#cbf 0 31px,#fee 0 33px,#f99 0 35px,#dbd 0 39px,#ece 0 43px,#fff 0 45px,#cae 0 48px,#ddf 0 53px,#cbf 0 55px,#ede 0 63px,#dce 0 65px,#fbb 0 69px,#ccf 0 73px,#ebc 0 76px,#ecd 0 79px,#bbf 0 81px,#ccf 0 83px,#dce 0 87px,#edf 0 89px,#fdd 0 92px,#f99 0 96px,#bbf 0 99px,#ecc 0 101px,#d89 0 104px,#fdd 0 108px,#ddf 0 112px,#f88 0 114px,#faa 0 118px,#ede 0 122px,#faa 0 125px,#ecd 0 128px,#ede 0 131px,#fbb 0 133px,#eab 0 137px,#eef 0 141px,#fdd 0 144px,#ecd 0 146px,#fbb 0 149px,#fdd 0 153px,#dbd 0 156px,#e8a 0 159px,#ddf 0 163px,#dde 0 166px,#eef 0 168px,#dce 0 172px,#eef 0 174px,#fdd 0 176px,#ddf 0 179px,#dcf 0 182px,#fff 0 186px,#ccf 0 189px,#bbe 0 193px,#ddf 0 196px,#bae 0 198px,#77e 0 200px,#d9b 0 203px,#edd 0 206px,#ecd 0 209px,#dac 0 211px,#ede 0 214px,#fdd 0 216px,#dce 0 220px,#edf 0 224px,#cbe 0 226px,#ebc 0 230px,#cbe 0 232px,#99e 0 235px,#ecd 0 242px,#ecc 0 245px,#aaf 0 248px,#ecd 0 252px,#cbf 0 254px,#ddf 0 256px,#ccf 0 259px,#dcf 0 262px,#ede 0 265px,#ccf 0 268px,#dcf 0 271px,#ccf 0 274px,#a9e 0 278px,#dce 0 281px,#f88 0 284px,#ede 0 288px,#ddf 0 292px,#dcf 0 294px,#f66 0 297px,#faa 0 300px,#ebb 0 304px,#f66 0 308px,#f99 0 312px,#fbb 0 314px,#faa 0 316px,#fee 0 319px,#f66 0 323px,#fcc 0 325px,#eab 0 327px,#ede 0 329px,#f33 0 333px,#ecd 0 335px,#ccf 0 339px,#f55 0 341px,#ece 0 343px,#ccf 0 346px,#fbb 0 349px,#fcc 0 351px,#fee 0 353px,#fde 0 355px,#faa 0 357px,#ecd 0 359px,#ece 0 361px,#faa 0 363px,#fbb 0 366px,#f88 0 370px,#fef 0 373px,#f99 0 377px,#fdd 0 380px,#fbb 0 384px,#fee 0 387px,#f88 0 390px,#ecc 0 393px,#fbb 0 396px,#fcc 0 400px,#faa 0 404px,#fbb 0 407px,#f99 0 409px,#eee 0 411px,#ebc 0 415px,#ecc 0 417px,#eab 0 420px,#faa 0 423px,#fee 0 425px,#fff 0 430px,#fee 0 434px,#fff 0 442px,#baf 0 446px,#ddf 0 449px,#dde 0 453px,#ccf 0 457px,#fdd 0 459px,#aaf 0 461px,#eee 0 463px,#dcf 0 465px,#eab 0 468px,#baf 0 471px,#f88 0 474px,#ede 0 478px,#bbe 0 481px,#aae 0 485px,#edd 0 489px,#ccf 0 491px,#bbf 0 494px,#fef 0 498px,#dde 0 501px,#98e 0 504px,#f99 0 505px,#fff 0 510px,#eef 0 512px,#fee 0 515px,#bae 0 517px,#f88 0 519px,#ecd 0 523px,#eab 0 525px,#ede 0 529px,#fcc 0 532px,#ebb 0 535px,#fdd 0 537px,#fbb 0 539px,#ece 0 543px,#bbf 0 545px,#fdd 0 548px,#ebc 0 552px,#cbf 0 554px,#fcc 0 556px,#eef 0 559px,#faa 0 562px,#aaf 0 565px,#fbb 0 567px,#ddf 0 569px,#ede 0 571px,#dbe 0 575px,#ddf 0 579px,#fff 0 583px,#edd 0 586px)"></div>
<div class="a" style="left:0;width:587px;top:214.50px;height:16.90px;background:linear-gradient(90deg,#fee 0 2px,#ddf 0 4px,#99e 0 8px,#aaf 0 12px,#ede 0 14px,#eef 0 16px,#ddf 0 19px,#fde 0 21px,#ddf 0 24px,#aaf 0 27px,#98e 0 31px,#fee 0 33px,#faa 0 35px,#eef 0 39px,#fee 0 43px,#eac 0 45px,#ddf 0 48px,#ede 0 51px,#ddf 0 53px,#dce 0 55px,#ede 0 63px,#dab 0 65px,#ddf 0 69px,#bbf 0 73px,#eef 0 76px,#dce 0 79px,#ccf 0 81px,#a9e 0 83px,#fcd 0 87px,#dce 0 89px,#ddf 0 92px,#f77 0 96px,#ccf 0 99px,#ecd 0 101px,#faa 0 104px,#ecd 0 108px,#fcc 0 114px,#f99 0 118px,#fbb 0 122px,#edf 0 125px,#fdd 0 128px,#ede 0 131px,#fff 0 133px,#faa 0 137px,#dbd 0 141px,#f66 0 144px,#fee 0 146px,#fbc 0 153px,#fbb 0 156px,#ddf 0 159px,#dcf 0 166px,#edd 0 168px,#dde 0 172px,#f99 0 174px,#fcc 0 176px,#cbe 0 179px,#fde 0 182px,#fff 0 186px,#ede 0 189px,#ddf 0 193px,#ecd 0 198px,#aaf 0 200px,#dce 0 203px,#ddf 0 206px,#fcc 0 209px,#ede 0 211px,#fcc 0 214px,#dde 0 216px,#cad 0 220px,#fbb 0 224px,#ccf 0 226px,#ecd 0 230px,#dcf 0 232px,#ddf 0 235px,#ecd 0 239px,#eee 0 242px,#fdd 0 245px,#bbf 0 248px,#dcf 0 252px,#fff 0 254px,#eef 0 256px,#a9f 0 259px,#dcf 0 262px,#ddf 0 265px,#aaf 0 268px,#fef 0 271px,#cbf 0 274px,#dce 0 278px,#ccf 0 281px,#d8a 0 284px,#dce 0 288px,#d9b 0 292px,#aaf 0 294px,#f77 0 297px,#f88 0 300px,#faa 0 304px,#f77 0 308px,#fcc 0 312px,#ecd 0 314px,#ebc 0 316px,#ede 0 319px,#faa 0 323px,#f44 0 325px,#ede 0 327px,#d8a 0 329px,#fcc 0 333px,#ecd 0 335px,#eee 0 339px,#eaa 0 341px,#fcc 0 343px,#ccf 0 346px,#fcc 0 349px,#ddf 0 351px,#fbb 0 353px,#ccf 0 355px,#faa 0 357px,#edd 0 359px,#fee 0 361px,#eef 0 363px,#fcc 0 366px,#f88 0 370px,#f99 0 373px,#f88 0 377px,#ede 0 380px,#ecd 0 384px,#f44 0 387px,#fdd 0 390px,#f77 0 393px,#fbb 0 396px,#cce 0 400px,#faa 0 404px,#fbb 0 407px,#faa 0 409px,#f66 0 411px,#ebb 0 415px,#eef 0 417px,#f88 0 420px,#dad 0 423px,#eef 0 425px,#fff 0 430px,#fdd 0 434px,#fff 0 442px,#bbf 0 446px,#eef 0 449px,#ede 0 453px,#ccf 0 457px,#ddf 0 459px,#aaf 0 461px,#eef 0 463px,#bbf 0 465px,#edf 0 468px,#ebb 0 471px,#fdd 0 478px,#ddf 0 481px,#bbe 0 485px,#faa 0 489px,#cbf 0 491px,#ccf 0 494px,#ecc 0 498px,#ede 0 501px,#87e 0 504px,#f99 0 505px,#fff 0 510px,#eef 0 512px,#dde 0 515px,#baf 0 517px,#faa 0 519px,#ede 0 523px,#eef 0 525px,#edf 0 529px,#dbd 0 532px,#fee 0 537px,#ccf 0 539px,#dcd 0 543px,#ddf 0 545px,#fde 0 548px,#bae 0 552px,#ebc 0 554px,#fee 0 556px,#eef 0 559px,#ccf 0 562px,#bbf 0 565px,#faa 0 567px,#dbc 0 569px,#fde 0 571px,#cbe 0 575px,#eef 0 578px,#aaf 0 579px,#fff 0 583px,#edf 0 586px)"></div>
<div class="a" style="left:0;width:587px;top:231.00px;height:16.90px;background:linear-gradient(90deg,#cbe 0 2px,#edd 0 4px,#88e 0 8px,#bbf 0 12px,#ddf 0 14px,#ebd 0 16px,#ede 0 19px,#cbf 0 21px,#aaf 0 24px,#ddf 0 27px,#a9e 0 31px,#d9a 0 33px,#ebc 0 35px,#a9e 0 39px,#ede 0 43px,#eef 0 45px,#bbf 0 48px,#dbc 0 51px,#edf 0 53px,#baf 0 55px,#cad 0 59px,#dbd 0 63px,#fcc 0 65px,#ede 0 69px,#dce 0 73px,#fbb 0 76px,#eef 0 79px,#bbf 0 81px,#dac 0 83px,#edf 0 87px,#eef 0 89px,#fee 0 92px,#edd 0 96px,#dac 0 99px,#eef 0 101px,#f88 0 104px,#ede 0 108px,#ebc 0 112px,#dbc 0 114px,#ecc 0 118px,#ddf 0 122px,#dbd 0 125px,#ebc 0 128px,#eef 0 131px,#faa 0 133px,#fbb 0 137px,#dcd 0 141px,#f99 0 144px,#e8a 0 146px,#ddf 0 149px,#ede 0 153px,#f99 0 156px,#ede 0 159px,#dce 0 163px,#fdd 0 166px,#fee 0 168px,#ecd 0 172px,#fdd 0 174px,#f77 0 176px,#fcc 0 179px,#cad 0 182px,#fff 0 186px,#fee 0 189px,#ddf 0 193px,#faa 0 196px,#cbf 0 198px,#ddf 0 200px,#fcc 0 203px,#ebb 0 206px,#f88 0 209px,#fee 0 211px,#ecc 0 214px,#fbb 0 216px,#fee 0 220px,#dce 0 224px,#bbf 0 226px,#ebb 0 230px,#fcc 0 232px,#cad 0 235px,#ede 0 239px,#fee 0 242px,#eef 0 245px,#99e 0 248px,#ece 0 252px,#eef 0 254px,#dce 0 256px,#ccf 0 259px,#bbf 0 262px,#eac 0 265px,#ccf 0 268px,#fde 0 271px,#dcf 0 274px,#baf 0 278px,#ece 0 281px,#fcc 0 284px,#ecd 0 288px,#eee 0 292px,#d89 0 294px,#f88 0 297px,#fdd 0 300px,#ebb 0 308px,#ebc 0 312px,#ddf 0 314px,#fcc 0 316px,#ccf 0 319px,#f77 0 323px,#f44 0 325px,#ede 0 327px,#dcd 0 329px,#faa 0 333px,#c8b 0 335px,#dbd 0 339px,#ddf 0 341px,#faa 0 343px,#ebc 0 349px,#fde 0 351px,#fbb 0 353px,#ecc 0 355px,#fcc 0 357px,#dce 0 359px,#dde 0 361px,#fde 0 363px,#e9a 0 366px,#faa 0 370px,#f99 0 377px,#ebc 0 380px,#ecd 0 384px,#fff 0 387px,#eab 0 390px,#fbb 0 393px,#fcc 0 396px,#edf 0 400px,#faa 0 404px,#fcc 0 409px,#fbb 0 411px,#fcd 0 415px,#eee 0 417px,#f88 0 420px,#ede 0 423px,#fff 0 425px,#fff 0 430px,#fee 0 434px,#fff 0 442px,#baf 0 446px,#ccf 0 449px,#cbe 0 453px,#aaf 0 457px,#bbf 0 459px,#dbd 0 461px,#aaf 0 463px,#aae 0 465px,#ecd 0 468px,#ccf 0 471px,#ddf 0 474px,#ede 0 478px,#eee 0 481px,#fdd 0 485px,#fbb 0 489px,#bbf 0 491px,#ddf 0 494px,#ede 0 498px,#fff 0 501px,#cbf 0 504px,#fff 0 505px,#fff 0 510px,#fbb 0 512px,#ebc 0 515px,#dcf 0 517px,#fcc 0 519px,#dde 0 523px,#fdd 0 525px,#dce 0 529px,#ede 0 532px,#eef 0 535px,#ddf 0 537px,#cbe 0 543px,#ede 0 545px,#ddf 0 548px,#edd 0 552px,#dde 0 554px,#eef 0 556px,#fcd 0 559px,#fff 0 562px,#b9d 0 565px,#f99 0 567px,#ebc 0 569px,#fbb 0 571px,#ecc 0 575px,#a9e 0 578px,#dcf 0 579px,#fff 0 583px,#dce 0 586px)"></div>
<div class="a" style="left:0;width:587px;top:247.50px;height:16.90px;background:linear-gradient(90deg,#ddf 0 4px,#98e 0 8px,#ccf 0 12px,#c8a 0 14px,#fbb 0 16px,#ddf 0 19px,#ecc 0 21px,#bbf 0 24px,#99e 0 27px,#aaf 0 31px,#ede 0 33px,#f99 0 35px,#edd 0 39px,#dce 0 43px,#fef 0 45px,#a9e 0 48px,#ede 0 51px,#fbb 0 53px,#aaf 0 55px,#bbf 0 59px,#dbd 0 63px,#fee 0 65px,#fbb 0 69px,#ccf 0 73px,#fee 0 76px,#eac 0 79px,#dab 0 81px,#bbf 0 83px,#ebc 0 87px,#ecd 0 89px,#dce 0 92px,#fbb 0 96px,#dbd 0 99px,#eee 0 101px,#faa 0 104px,#fee 0 108px,#ecd 0 112px,#f77 0 114px,#faa 0 118px,#eab 0 122px,#fcc 0 125px,#ede 0 128px,#eab 0 131px,#fcc 0 133px,#fbb 0 137px,#ede 0 141px,#ecc 0 144px,#ede 0 146px,#fee 0 149px,#ede 0 153px,#fbb 0 156px,#ece 0 159px,#ede 0 163px,#fdd 0 166px,#dbc 0 168px,#98e 0 172px,#ecd 0 174px,#f99 0 176px,#fcc 0 179px,#dbd 0 182px,#fff 0 186px,#ccf 0 189px,#ecd 0 193px,#ddf 0 196px,#a9e 0 198px,#98e 0 200px,#dce 0 203px,#eef 0 206px,#f99 0 209px,#fee 0 211px,#dde 0 214px,#fbb 0 216px,#ccf 0 220px,#ecd 0 224px,#eef 0 226px,#ecd 0 230px,#ddf 0 232px,#dce 0 235px,#dde 0 239px,#ddf 0 242px,#d9b 0 245px,#aaf 0 248px,#cbe 0 252px,#dce 0 254px,#ddf 0 256px,#eef 0 262px,#dac 0 265px,#cad 0 268px,#edd 0 271px,#bbf 0 274px,#dce 0 278px,#dcd 0 281px,#f99 0 284px,#ccf 0 288px,#cbd 0 292px,#dcf 0 294px,#fbb 0 297px,#f99 0 300px,#faa 0 304px,#eab 0 308px,#fee 0 312px,#fcc 0 314px,#ede 0 316px,#dcf 0 319px,#faa 0 325px,#ddf 0 327px,#ccf 0 329px,#fcc 0 333px,#ecd 0 335px,#99e 0 339px,#fdd 0 341px,#fbb 0 343px,#dbc 0 346px,#f99 0 349px,#eef 0 351px,#fbb 0 353px,#d9b 0 355px,#f99 0 357px,#fcd 0 359px,#edf 0 361px,#ecd 0 363px,#faa 0 366px,#f88 0 370px,#faa 0 373px,#fab 0 377px,#faa 0 380px,#edd 0 384px,#fdd 0 387px,#eee 0 390px,#f99 0 393px,#faa 0 396px,#fdd 0 400px,#ecc 0 404px,#f99 0 407px,#faa 0 409px,#f88 0 411px,#eee 0 415px,#ddf 0 417px,#fab 0 420px,#fcd 0 423px,#dcf 0 425px,#fff 0 430px,#eee 0 434px,#fff 0 442px,#ede 0 446px,#eab 0 449px,#ede 0 453px,#dce 0 457px,#ccf 0 459px,#eee 0 461px,#fbb 0 463px,#a9e 0 465px,#ede 0 468px,#eef 0 471px,#ebc 0 474px,#eab 0 478px,#ebc 0 481px,#dbd 0 485px,#fdd 0 489px,#fde 0 491px,#dde 0 494px,#dbe 0 498px,#dbd 0 501px,#a9e 0 504px,#fbb 0 505px,#fff 0 510px,#dcf 0 512px,#d9b 0 515px,#fbb 0 517px,#ecd 0 519px,#e9a 0 523px,#ecd 0 525px,#ddf 0 529px,#ebc 0 532px,#dcd 0 535px,#ebc 0 537px,#fdd 0 539px,#eee 0 543px,#eef 0 545px,#cce 0 548px,#ecd 0 554px,#dcf 0 556px,#ddf 0 559px,#eab 0 562px,#a9e 0 565px,#f66 0 567px,#eee 0 569px,#ecd 0 571px,#ebb 0 575px,#ccf 0 578px,#faa 0 579px,#fff 0 583px,#ebc 0 586px)"></div>
<div class="a" style="left:0;width:587px;top:264.00px;height:16.90px;background:linear-gradient(90deg,#ecd 0 2px,#ddf 0 4px,#baf 0 8px,#bbe 0 12px,#dde 0 14px,#ede 0 19px,#ccf 0 21px,#bbf 0 24px,#dce 0 27px,#a9e 0 31px,#fee 0 33px,#f99 0 39px,#fef 0 43px,#dac 0 45px,#edf 0 48px,#edd 0 51px,#ede 0 53px,#ccf 0 55px,#edd 0 59px,#dcd 0 63px,#fff 0 65px,#fbb 0 69px,#cae 0 73px,#faa 0 76px,#ddf 0 79px,#dbd 0 81px,#ddf 0 83px,#ebc 0 87px,#fcc 0 89px,#ecd 0 92px,#f99 0 96px,#cbe 0 99px,#ddf 0 101px,#f99 0 104px,#ecc 0 108px,#edd 0 112px,#fbb 0 114px,#ebc 0 118px,#fcc 0 122px,#ecd 0 125px,#ede 0 128px,#ecd 0 131px,#fee 0 133px,#fdd 0 137px,#ebc 0 141px,#f77 0 144px,#ebc 0 146px,#edd 0 149px,#fdd 0 153px,#f88 0 156px,#dcf 0 159px,#ede 0 163px,#fcc 0 166px,#eab 0 168px,#cbf 0 172px,#ede 0 174px,#cbe 0 176px,#ebc 0 179px,#ede 0 182px,#fff 0 186px,#ecd 0 189px,#dce 0 193px,#dbd 0 196px,#eef 0 198px,#ccf 0 200px,#c9c 0 203px,#fdd 0 206px,#ede 0 209px,#f99 0 211px,#ddf 0 214px,#eee 0 216px,#ece 0 220px,#dce 0 224px,#dbd 0 226px,#dde 0 230px,#aaf 0 232px,#ddf 0 239px,#eef 0 245px,#ccf 0 248px,#d9a 0 252px,#ccf 0 254px,#fff 0 256px,#ccf 0 259px,#eef 0 262px,#dbd 0 265px,#ebb 0 268px,#eaa 0 271px,#cbe 0 274px,#ede 0 278px,#edf 0 281px,#e9a 0 284px,#ddf 0 288px,#ede 0 292px,#dcf 0 294px,#f99 0 300px,#fcc 0 304px,#faa 0 312px,#f77 0 314px,#faa 0 316px,#ddf 0 319px,#fcc 0 323px,#fbb 0 325px,#faa 0 327px,#cbf 0 329px,#f44 0 333px,#bbf 0 335px,#ccf 0 339px,#fdd 0 341px,#fde 0 343px,#dcf 0 346px,#fbb 0 349px,#ddf 0 351px,#f66 0 353px,#ede 0 355px,#faa 0 357px,#fbb 0 359px,#fee 0 361px,#fdd 0 363px,#ebc 0 366px,#e88 0 370px,#fbc 0 373px,#fcc 0 377px,#edd 0 380px,#ddf 0 384px,#fbb 0 387px,#fde 0 390px,#eaa 0 393px,#ede 0 396px,#fcc 0 400px,#ecd 0 404px,#fbb 0 407px,#f99 0 409px,#faa 0 411px,#f99 0 415px,#faa 0 417px,#fbb 0 423px,#faa 0 425px,#fff 0 430px,#fee 0 434px,#fff 0 442px,#baf 0 446px,#bbf 0 449px,#edd 0 453px,#baf 0 457px,#aaf 0 459px,#eef 0 461px,#ecd 0 463px,#fee 0 465px,#aaf 0 468px,#a9e 0 471px,#fee 0 474px,#ede 0 481px,#cbd 0 485px,#faa 0 489px,#87e 0 491px,#aaf 0 494px,#ddf 0 498px,#dbd 0 501px,#a9f 0 504px,#faa 0 505px,#fff 0 510px,#eef 0 512px,#cce 0 515px,#ccf 0 517px,#fff 0 519px,#bae 0 523px,#eee 0 525px,#ddf 0 529px,#ebd 0 532px,#ddf 0 535px,#dcf 0 537px,#aaf 0 539px,#bbf 0 543px,#ccf 0 548px,#ddf 0 552px,#ccf 0 554px,#d9b 0 556px,#aaf 0 559px,#bbe 0 562px,#bbf 0 565px,#fbb 0 567px,#aae 0 569px,#a9e 0 571px,#eef 0 575px,#ccf 0 579px,#fff 0 583px,#ccf 0 586px)"></div>
<div class="a" style="left:0;width:587px;top:280.50px;height:16.90px;background:linear-gradient(90deg,#dac 0 2px,#eef 0 4px,#77e 0 8px,#ddf 0 12px,#fef 0 14px,#f66 0 16px,#b9c 0 19px,#ecc 0 21px,#cbf 0 24px,#ddf 0 27px,#baf 0 31px,#fbb 0 33px,#f99 0 35px,#ede 0 39px,#fcc 0 43px,#faa 0 45px,#ccf 0 48px,#fbb 0 51px,#ccf 0 53px,#aae 0 55px,#ddf 0 59px,#fcc 0 63px,#fbb 0 65px,#faa 0 69px,#cbf 0 73px,#eef 0 76px,#ddf 0 79px,#ccf 0 81px,#eef 0 83px,#eee 0 87px,#bbf 0 89px,#ede 0 92px,#f88 0 96px,#dbe 0 99px,#eef 0 101px,#f99 0 104px,#faa 0 108px,#ddf 0 112px,#ede 0 114px,#f88 0 118px,#faa 0 122px,#edd 0 125px,#eaa 0 128px,#fcc 0 131px,#eef 0 133px,#faa 0 137px,#ddf 0 141px,#faa 0 144px,#eee 0 146px,#ebc 0 149px,#fcc 0 153px,#fdd 0 156px,#ddf 0 159px,#bbf 0 163px,#eee 0 166px,#fdd 0 168px,#ecd 0 172px,#ecc 0 174px,#fbb 0 176px,#fee 0 179px,#fdd 0 182px,#fff 0 186px,#dcf 0 189px,#ede 0 196px,#eef 0 198px,#ccf 0 200px,#ecc 0 203px,#f88 0 206px,#d9b 0 209px,#fdd 0 211px,#cbf 0 214px,#edf 0 216px,#cbe 0 220px,#dce 0 224px,#aaf 0 226px,#eee 0 230px,#98e 0 232px,#cbe 0 235px,#dbd 0 239px,#ddf 0 242px,#f99 0 245px,#bbf 0 248px,#dde 0 252px,#ccf 0 254px,#ece 0 256px,#99e 0 259px,#ede 0 262px,#dce 0 265px,#baf 0 268px,#ebc 0 271px,#bbf 0 278px,#ddf 0 281px,#fdd 0 284px,#ebc 0 288px,#baf 0 292px,#fef 0 294px,#f99 0 297px,#faa 0 300px,#fab 0 304px,#f99 0 308px,#fcc 0 312px,#fee 0 316px,#baf 0 319px,#faa 0 323px,#f66 0 325px,#bbf 0 327px,#e9a 0 329px,#f77 0 333px,#dac 0 335px,#aaf 0 339px,#fbb 0 341px,#ecd 0 343px,#dce 0 346px,#fbb 0 349px,#fdd 0 351px,#f99 0 353px,#fcc 0 355px,#fbb 0 357px,#fee 0 359px,#fff 0 361px,#ccf 0 363px,#edf 0 366px,#eaa 0 370px,#f99 0 377px,#fdd 0 380px,#ede 0 384px,#fcc 0 387px,#fdd 0 390px,#f99 0 393px,#ecd 0 396px,#ebc 0 400px,#f88 0 404px,#fcd 0 407px,#f55 0 409px,#fde 0 411px,#ecd 0 415px,#ecc 0 417px,#f77 0 420px,#dbc 0 423px,#ddf 0 425px,#fff 0 430px,#eee 0 434px,#fff 0 442px,#ccf 0 446px,#ede 0 449px,#cce 0 453px,#ede 0 457px,#ccf 0 459px,#b9d 0 461px,#faa 0 463px,#ddf 0 465px,#fdd 0 468px,#ccf 0 471px,#fdd 0 474px,#cbf 0 478px,#b7b 0 481px,#fcc 0 485px,#faa 0 489px,#ede 0 491px,#dce 0 494px,#cbe 0 498px,#dbd 0 501px,#bbf 0 504px,#f88 0 505px,#fff 0 510px,#fee 0 512px,#fde 0 515px,#a9e 0 517px,#fbb 0 519px,#cbe 0 523px,#edf 0 525px,#dcf 0 529px,#ccf 0 532px,#dac 0 535px,#cbf 0 537px,#ccf 0 539px,#dce 0 543px,#b9d 0 545px,#dcf 0 548px,#dce 0 552px,#cad 0 554px,#fee 0 556px,#cbe 0 559px,#dcf 0 562px,#baf 0 565px,#ccf 0 567px,#eef 0 569px,#bbf 0 571px,#ddf 0 578px,#f88 0 579px,#fff 0 583px,#eef 0 586px)"></div>
<div class="a" style="left:0;width:587px;top:297.00px;height:16.90px;background:linear-gradient(90deg,#eef 0 2px,#fee 0 4px,#a9e 0 8px,#bbf 0 12px,#fcc 0 14px,#f77 0 16px,#dcd 0 19px,#fee 0 21px,#cad 0 24px,#baf 0 27px,#cbd 0 31px,#ccf 0 33px,#fcc 0 35px,#eab 0 39px,#fcc 0 43px,#fef 0 45px,#cbf 0 48px,#f88 0 51px,#fbb 0 53px,#99e 0 55px,#ede 0 63px,#ccf 0 65px,#ebb 0 69px,#cbe 0 73px,#dbd 0 76px,#edd 0 79px,#bbf 0 83px,#fdd 0 87px,#fcc 0 89px,#dbd 0 92px,#faa 0 96px,#fee 0 99px,#dce 0 101px,#f66 0 104px,#ebc 0 108px,#dcf 0 112px,#f88 0 118px,#fcc 0 122px,#fbb 0 125px,#fcc 0 128px,#fee 0 131px,#ccf 0 133px,#fdd 0 137px,#baf 0 141px,#f77 0 144px,#b8c 0 146px,#fee 0 149px,#fcc 0 153px,#fbb 0 156px,#dbc 0 159px,#cbe 0 163px,#fcc 0 166px,#ecd 0 168px,#cbe 0 172px,#ede 0 179px,#fcc 0 182px,#fff 0 186px,#ede 0 189px,#ecd 0 193px,#fcd 0 196px,#aaf 0 198px,#ccf 0 200px,#d9b 0 203px,#ecd 0 206px,#fcc 0 209px,#c7a 0 211px,#a9e 0 214px,#fee 0 216px,#ecd 0 220px,#fbb 0 224px,#baf 0 226px,#ede 0 230px,#bbf 0 235px,#dde 0 239px,#ecc 0 242px,#edd 0 245px,#bbf 0 248px,#ecd 0 252px,#dcf 0 254px,#baf 0 256px,#ccf 0 259px,#cbf 0 262px,#eef 0 265px,#bbf 0 268px,#fee 0 271px,#eef 0 274px,#ecd 0 278px,#ede 0 281px,#fab 0 284px,#ede 0 288px,#fee 0 294px,#f88 0 297px,#faa 0 300px,#fcc 0 304px,#eab 0 308px,#fdd 0 312px,#ebc 0 314px,#fcc 0 316px,#a9d 0 319px,#f88 0 325px,#faa 0 327px,#ecd 0 329px,#f99 0 333px,#fee 0 335px,#dce 0 339px,#faa 0 341px,#ccf 0 343px,#cbe 0 346px,#ecc 0 349px,#eab 0 351px,#f88 0 353px,#faa 0 355px,#fbb 0 357px,#ede 0 359px,#fbb 0 363px,#f88 0 366px,#ebc 0 370px,#ebb 0 373px,#fbb 0 380px,#ecd 0 384px,#fbb 0 387px,#f77 0 390px,#fcc 0 393px,#fbb 0 396px,#fcc 0 400px,#faa 0 404px,#ede 0 407px,#fbb 0 409px,#f99 0 411px,#fbb 0 415px,#edf 0 417px,#fbb 0 420px,#fee 0 423px,#dac 0 425px,#fff 0 430px,#fee 0 434px,#fff 0 442px,#cbe 0 446px,#cce 0 449px,#ddf 0 453px,#ccf 0 459px,#edf 0 461px,#fee 0 463px,#dcf 0 465px,#ecd 0 468px,#bbf 0 471px,#eef 0 474px,#fcc 0 478px,#dbd 0 481px,#ccf 0 485px,#ede 0 489px,#ddf 0 491px,#ccf 0 494px,#ecd 0 498px,#ede 0 501px,#99e 0 504px,#eef 0 505px,#fff 0 510px,#dcf 0 512px,#fff 0 515px,#ddf 0 517px,#ecc 0 519px,#eee 0 523px,#fbb 0 525px,#ddf 0 529px,#fde 0 532px,#eee 0 535px,#ede 0 537px,#edd 0 539px,#dce 0 543px,#fdd 0 545px,#ccf 0 548px,#eef 0 552px,#fcc 0 554px,#ede 0 556px,#eee 0 559px,#bbf 0 562px,#edf 0 565px,#eef 0 567px,#aaf 0 569px,#eef 0 571px,#dce 0 575px,#ccf 0 578px,#bbf 0 579px,#fff 0 583px,#ddf 0 586px)"></div>
<div class="a" style="left:0;width:587px;top:313.50px;height:16.90px;background:linear-gradient(90deg,#fbb 0 2px,#fdd 0 4px,#ddf 0 8px,#fcc 0 12px,#ccf 0 14px,#fcc 0 19px,#fee 0 21px,#eef 0 24px,#dbe 0 27px,#dce 0 31px,#fbb 0 33px,#f66 0 35px,#faa 0 39px,#fbb 0 43px,#ebc 0 45px,#fbb 0 51px,#edd 0 53px,#fee 0 55px,#ecd 0 63px,#fbb 0 65px,#f88 0 69px,#dce 0 73px,#f77 0 76px,#fbb 0 79px,#fcc 0 81px,#dcd 0 83px,#f88 0 87px,#ede 0 89px,#fdd 0 92px,#fcc 0 96px,#ccf 0 101px,#e9a 0 104px,#dcd 0 108px,#ddf 0 112px,#dcd 0 114px,#fbb 0 118px,#ece 0 122px,#eef 0 125px,#ebc 0 128px,#bbf 0 131px,#fdd 0 133px,#ede 0 137px,#ecd 0 141px,#fcc 0 144px,#ecc 0 146px,#ede 0 149px,#dcd 0 156px,#edf 0 159px,#ccf 0 163px,#ecd 0 166px,#eee 0 168px,#aaf 0 172px,#fde 0 174px,#fbc 0 176px,#dac 0 179px,#baf 0 182px,#fff 0 186px,#dce 0 189px,#ccf 0 193px,#fcc 0 196px,#fff 0 198px,#ddf 0 200px,#f99 0 203px,#faa 0 206px,#f66 0 209px,#fcc 0 211px,#edf 0 214px,#faa 0 216px,#dbd 0 220px,#fcc 0 224px,#eef 0 230px,#ebc 0 232px,#fdd 0 235px,#fbc 0 239px,#fef 0 242px,#faa 0 245px,#ccf 0 248px,#dbd 0 252px,#ccf 0 254px,#ede 0 256px,#ecd 0 259px,#cbe 0 262px,#ecd 0 265px,#ddf 0 268px,#fee 0 271px,#fde 0 274px,#faa 0 278px,#f77 0 281px,#fdd 0 284px,#fcc 0 288px,#eee 0 292px,#eef 0 294px,#bad 0 297px,#bae 0 300px,#bbf 0 304px,#ebc 0 308px,#cbf 0 312px,#99e 0 314px,#dcf 0 316px,#a9e 0 319px,#dcf 0 323px,#ddf 0 325px,#ccf 0 327px,#bbf 0 329px,#ebc 0 333px,#bbf 0 335px,#88e 0 339px,#bad 0 341px,#ddf 0 343px,#87e 0 346px,#ccf 0 349px,#88e 0 351px,#a9e 0 355px,#bbf 0 357px,#ccf 0 359px,#99e 0 361px,#bbf 0 363px,#aaf 0 366px,#fcc 0 370px,#ecd 0 377px,#ede 0 380px,#bbf 0 384px,#ccf 0 387px,#cad 0 390px,#ccf 0 396px,#bbf 0 400px,#dcd 0 404px,#eef 0 407px,#bbf 0 409px,#eef 0 411px,#ccf 0 415px,#cbf 0 417px,#fee 0 420px,#cae 0 423px,#eef 0 425px,#fff 0 430px,#fef 0 434px,#fff 0 442px,#eef 0 446px,#faa 0 449px,#f99 0 453px,#edd 0 457px,#ede 0 459px,#dbd 0 461px,#ecc 0 463px,#ede 0 465px,#fcc 0 468px,#f9a 0 471px,#f88 0 474px,#f99 0 478px,#fbb 0 481px,#fcd 0 485px,#f55 0 489px,#ddf 0 491px,#eee 0 494px,#faa 0 498px,#ebb 0 501px,#ddf 0 504px,#fbb 0 505px,#fff 0 510px,#fbb 0 512px,#ede 0 515px,#fcc 0 517px,#fbb 0 519px,#ecd 0 523px,#fdd 0 525px,#ede 0 529px,#faa 0 532px,#fdd 0 535px,#fbb 0 537px,#fdd 0 539px,#edf 0 543px,#fee 0 545px,#ccf 0 548px,#ebd 0 552px,#fbb 0 556px,#faa 0 559px,#edf 0 562px,#eef 0 565px,#f99 0 567px,#ede 0 569px,#dcf 0 571px,#ebb 0 575px,#fde 0 578px,#f88 0 579px,#fff 0 583px,#fdd 0 586px)"></div>
<div class="a" style="left:0;width:587px;top:330.00px;height:16.90px;background:linear-gradient(90deg,#ede 0 2px,#ebb 0 4px,#bbf 0 8px,#ccf 0 12px,#fee 0 14px,#ede 0 16px,#ddf 0 19px,#fcc 0 21px,#dbd 0 24px,#dcf 0 27px,#dce 0 31px,#fcc 0 33px,#f88 0 35px,#fee 0 39px,#f99 0 43px,#fbb 0 45px,#ebc 0 48px,#fbb 0 51px,#dde 0 53px,#fdd 0 55px,#ede 0 59px,#ecd 0 63px,#eab 0 65px,#ecd 0 73px,#f99 0 76px,#fdd 0 79px,#edd 0 81px,#eef 0 83px,#fcc 0 87px,#ecc 0 89px,#ebb 0 92px,#faa 0 96px,#dbe 0 99px,#ddf 0 101px,#faa 0 104px,#fde 0 108px,#dbd 0 112px,#fbb 0 118px,#fdd 0 122px,#ede 0 125px,#ebc 0 128px,#ede 0 131px,#fee 0 133px,#ecd 0 137px,#ede 0 141px,#fbb 0 144px,#fff 0 146px,#fee 0 149px,#ebb 0 153px,#eab 0 156px,#ebc 0 159px,#bbf 0 163px,#fdd 0 166px,#eef 0 168px,#cbf 0 172px,#f99 0 174px,#f88 0 176px,#ebd 0 179px,#fcc 0 182px,#fff 0 186px,#bbf 0 189px,#cbd 0 193px,#edd 0 196px,#fee 0 198px,#ede 0 200px,#fbb 0 203px,#ece 0 206px,#dcf 0 209px,#dad 0 211px,#dac 0 214px,#fcc 0 216px,#dcd 0 220px,#ece 0 224px,#ccf 0 232px,#ddf 0 235px,#eef 0 242px,#ecd 0 245px,#ddf 0 248px,#fdd 0 252px,#ccf 0 254px,#fee 0 256px,#cbe 0 259px,#bbf 0 262px,#fcc 0 265px,#baf 0 268px,#ebc 0 271px,#cbd 0 274px,#dce 0 278px,#dbd 0 281px,#ede 0 284px,#ecd 0 288px,#ede 0 292px,#fee 0 294px,#ebc 0 297px,#fbb 0 300px,#ecd 0 304px,#ebb 0 308px,#eef 0 312px,#ecc 0 314px,#ebc 0 316px,#cbe 0 319px,#dce 0 323px,#faa 0 325px,#ddf 0 327px,#bbf 0 329px,#fbc 0 333px,#fcc 0 335px,#bbe 0 339px,#eee 0 341px,#aaf 0 343px,#ddf 0 346px,#fdd 0 349px,#fff 0 351px,#faa 0 353px,#bbf 0 355px,#fbb 0 357px,#bbf 0 359px,#ede 0 361px,#eef 0 363px,#dbd 0 366px,#fcc 0 370px,#ebc 0 373px,#faa 0 377px,#edd 0 380px,#dcf 0 384px,#dbd 0 387px,#ebc 0 390px,#f99 0 393px,#fcc 0 396px,#eef 0 400px,#fcc 0 404px,#eac 0 407px,#eab 0 409px,#fef 0 411px,#fdd 0 415px,#ebd 0 417px,#faa 0 420px,#ede 0 423px,#dbc 0 425px,#fff 0 430px,#fdd 0 434px,#fff 0 442px,#bae 0 446px,#eee 0 449px,#ece 0 453px,#ddf 0 457px,#eee 0 459px,#dcf 0 461px,#dde 0 463px,#eef 0 465px,#ede 0 468px,#fef 0 471px,#ddf 0 474px,#ede 0 478px,#dde 0 481px,#eef 0 485px,#faa 0 489px,#eef 0 491px,#dbd 0 494px,#bbf 0 498px,#ecd 0 501px,#cbe 0 504px,#fff 0 505px,#fff 0 510px,#ebc 0 512px,#ccf 0 515px,#dce 0 517px,#f99 0 519px,#ecc 0 523px,#fbb 0 525px,#ecd 0 529px,#dcd 0 532px,#edf 0 535px,#fee 0 537px,#ecd 0 539px,#dbe 0 543px,#eab 0 545px,#ddf 0 548px,#dbd 0 552px,#faa 0 554px,#fdd 0 556px,#eef 0 562px,#cbf 0 565px,#fdd 0 567px,#edf 0 569px,#cbd 0 571px,#ccf 0 575px,#bbf 0 578px,#fdd 0 579px,#fff 0 583px,#ddf 0 586px)"></div>
<div class="a" style="left:0;width:587px;top:346.50px;height:16.90px;background:linear-gradient(90deg,#ddf 0 2px,#dce 0 4px,#bbf 0 8px,#dce 0 12px,#ddf 0 14px,#fbb 0 16px,#ccf 0 19px,#edf 0 21px,#cbf 0 24px,#a9d 0 27px,#ddf 0 31px,#fdd 0 33px,#f88 0 35px,#dce 0 39px,#ebc 0 43px,#faa 0 45px,#ddf 0 48px,#ccf 0 51px,#ddf 0 53px,#ccf 0 55px,#ece 0 59px,#dbd 0 63px,#faa 0 65px,#f88 0 69px,#cce 0 73px,#ebc 0 76px,#ccf 0 79px,#fcc 0 81px,#bbf 0 83px,#fcc 0 87px,#dcd 0 89px,#ecd 0 92px,#e9a 0 96px,#eef 0 99px,#ecd 0 101px,#fdd 0 104px,#ddf 0 108px,#cbd 0 112px,#ede 0 118px,#ebc 0 122px,#faa 0 125px,#baf 0 128px,#fdd 0 131px,#f88 0 133px,#ede 0 141px,#f99 0 144px,#eef 0 146px,#fcc 0 149px,#fbb 0 153px,#faa 0 156px,#ede 0 159px,#ccf 0 163px,#ddf 0 166px,#dac 0 168px,#cbf 0 172px,#fee 0 174px,#dcd 0 176px,#edf 0 179px,#ece 0 182px,#fff 0 186px,#ecd 0 189px,#dde 0 193px,#ddf 0 198px,#cbe 0 200px,#f99 0 203px,#ede 0 206px,#eef 0 209px,#fdd 0 211px,#ecd 0 214px,#dde 0 216px,#ddf 0 220px,#cac 0 224px,#bbf 0 226px,#ebc 0 230px,#ccf 0 235px,#ebc 0 242px,#fdd 0 245px,#aae 0 248px,#dce 0 252px,#eef 0 254px,#ccf 0 256px,#ede 0 259px,#cbe 0 262px,#eef 0 265px,#cbe 0 268px,#fcc 0 271px,#dcf 0 274px,#dce 0 278px,#ddf 0 281px,#f99 0 284px,#eee 0 288px,#cbe 0 292px,#baf 0 294px,#eef 0 297px,#fbb 0 300px,#f88 0 304px,#f99 0 308px,#fcc 0 312px,#aae 0 314px,#faa 0 316px,#ccf 0 319px,#fbb 0 323px,#f99 0 325px,#ccf 0 327px,#fcc 0 329px,#f99 0 333px,#fee 0 335px,#ede 0 339px,#edf 0 341px,#ecc 0 343px,#dce 0 346px,#ddf 0 349px,#ecd 0 353px,#cce 0 355px,#fdd 0 359px,#ccf 0 361px,#ecd 0 363px,#fbb 0 366px,#e89 0 370px,#faa 0 373px,#f55 0 377px,#eee 0 380px,#ecd 0 384px,#ebc 0 387px,#f88 0 390px,#dbd 0 393px,#f99 0 396px,#dbd 0 400px,#eab 0 404px,#fbb 0 407px,#fcc 0 415px,#c9c 0 417px,#f88 0 420px,#eef 0 423px,#fbb 0 425px,#fff 0 430px,#edf 0 434px,#fff 0 442px,#cbf 0 446px,#fee 0 449px,#ecd 0 453px,#ccf 0 457px,#aaf 0 459px,#ccf 0 461px,#fcc 0 463px,#ccf 0 465px,#ede 0 468px,#ccf 0 471px,#edd 0 474px,#ecd 0 478px,#ddf 0 481px,#bbf 0 485px,#ede 0 489px,#ccf 0 494px,#dcf 0 498px,#dde 0 501px,#bbf 0 504px,#fdd 0 505px,#fff 0 510px,#ebc 0 512px,#dde 0 515px,#fff 0 517px,#f88 0 519px,#fde 0 523px,#fef 0 525px,#fdd 0 529px,#faa 0 532px,#eef 0 535px,#ddf 0 537px,#eef 0 539px,#ede 0 543px,#eef 0 545px,#fcc 0 548px,#fdd 0 552px,#fcc 0 554px,#ccf 0 556px,#ebc 0 559px,#ecd 0 562px,#cae 0 565px,#faa 0 567px,#ddf 0 569px,#ede 0 571px,#dce 0 575px,#ede 0 578px,#ddf 0 579px,#fff 0 583px,#ecc 0 586px)"></div>
<div class="a" style="left:0;width:587px;top:363.00px;height:16.90px;background:linear-gradient(90deg,#fbb 0 2px,#ebc 0 4px,#ddf 0 8px,#fef 0 12px,#fbb 0 14px,#f66 0 16px,#cbe 0 19px,#f88 0 21px,#ecc 0 24px,#ede 0 27px,#dcd 0 31px,#ede 0 33px,#f55 0 35px,#dce 0 39px,#ebc 0 43px,#ecd 0 45px,#eef 0 48px,#f99 0 51px,#fcc 0 53px,#fff 0 55px,#fcc 0 59px,#fbb 0 63px,#edd 0 65px,#f66 0 69px,#ddf 0 73px,#f88 0 76px,#fcc 0 79px,#ecd 0 81px,#dbd 0 83px,#eaa 0 87px,#ecd 0 89px,#fbb 0 92px,#faa 0 96px,#eab 0 99px,#ece 0 101px,#eab 0 104px,#ebb 0 108px,#ebc 0 112px,#fbb 0 114px,#f99 0 118px,#fdd 0 122px,#ece 0 125px,#eee 0 128px,#ddf 0 131px,#fee 0 137px,#ddf 0 141px,#f66 0 144px,#dcd 0 146px,#ddf 0 149px,#ecd 0 153px,#dab 0 156px,#ddf 0 163px,#cbd 0 166px,#faa 0 168px,#ccf 0 172px,#ede 0 174px,#eef 0 176px,#fee 0 179px,#ede 0 182px,#fff 0 186px,#dce 0 189px,#fcc 0 193px,#ecd 0 196px,#faa 0 198px,#fcd 0 200px,#faa 0 206px,#fbb 0 209px,#ede 0 211px,#f88 0 214px,#fbb 0 216px,#ecd 0 220px,#fcd 0 224px,#edf 0 226px,#fee 0 230px,#ebc 0 232px,#cad 0 235px,#ebc 0 239px,#d89 0 242px,#fde 0 245px,#ede 0 248px,#fee 0 252px,#fdd 0 254px,#fef 0 256px,#dbd 0 259px,#ecd 0 262px,#fbb 0 265px,#eab 0 268px,#f88 0 271px,#ede 0 278px,#fdd 0 281px,#f55 0 284px,#ede 0 288px,#ccf 0 292px,#ebb 0 294px,#ecd 0 297px,#ebc 0 304px,#fbb 0 308px,#ecd 0 312px,#fcc 0 314px,#ccf 0 316px,#bbf 0 319px,#fee 0 323px,#f99 0 325px,#eef 0 327px,#dce 0 329px,#fcc 0 333px,#c9c 0 335px,#dce 0 339px,#ede 0 341px,#ccf 0 343px,#dcf 0 346px,#ddf 0 349px,#ccf 0 351px,#fee 0 353px,#eef 0 355px,#dbd 0 357px,#ddf 0 359px,#ccf 0 363px,#dce 0 366px,#e89 0 370px,#edf 0 373px,#eab 0 380px,#dbd 0 384px,#fee 0 387px,#dce 0 390px,#ebb 0 393px,#eef 0 396px,#dcf 0 400px,#fdd 0 404px,#f88 0 407px,#faa 0 409px,#fcc 0 411px,#ddf 0 415px,#dde 0 417px,#fcc 0 420px,#dce 0 423px,#fee 0 425px,#fff 0 430px,#fee 0 434px,#fff 0 442px,#bae 0 446px,#aaf 0 449px,#ccf 0 453px,#bae 0 457px,#99e 0 459px,#dbd 0 461px,#fee 0 463px,#cbf 0 465px,#dce 0 468px,#cbe 0 471px,#ebc 0 474px,#ddf 0 478px,#cae 0 481px,#b9c 0 485px,#ede 0 489px,#ccf 0 494px,#dbd 0 498px,#eef 0 501px,#bbf 0 504px,#ddf 0 505px,#fff 0 510px,#ddf 0 512px,#dce 0 515px,#edf 0 517px,#fdd 0 519px,#dce 0 523px,#ecd 0 525px,#dce 0 529px,#fee 0 532px,#bbf 0 535px,#dbd 0 537px,#fcc 0 539px,#ede 0 543px,#98e 0 545px,#dcf 0 548px,#cbe 0 552px,#dce 0 554px,#eee 0 556px,#ddf 0 559px,#ccf 0 562px,#bad 0 565px,#fbb 0 567px,#ccf 0 571px,#dbe 0 575px,#dce 0 578px,#bbf 0 579px,#fff 0 583px,#dce 0 586px)"></div>
<div class="a" style="left:0;width:587px;top:379.50px;height:16.90px;background:linear-gradient(90deg,#ddf 0 2px,#eef 0 4px,#cbf 0 8px,#bbf 0 12px,#ebc 0 14px,#fbb 0 16px,#dcd 0 19px,#dce 0 21px,#ccf 0 24px,#ddf 0 27px,#ccf 0 31px,#bbf 0 33px,#fcc 0 35px,#ede 0 39px,#dce 0 43px,#ede 0 45px,#cbe 0 48px,#dce 0 51px,#faa 0 53px,#bbf 0 55px,#ede 0 59px,#dce 0 63px,#eee 0 65px,#fcc 0 69px,#dde 0 73px,#fdd 0 76px,#ecd 0 79px,#eef 0 81px,#ccf 0 83px,#ebc 0 87px,#ddf 0 89px,#fdd 0 92px,#ede 0 96px,#dbd 0 99px,#dcf 0 101px,#faa 0 104px,#e89 0 108px,#ecd 0 112px,#fdd 0 114px,#faa 0 118px,#ecd 0 122px,#fdd 0 125px,#dac 0 128px,#dce 0 131px,#f99 0 133px,#fab 0 137px,#ccf 0 141px,#ebc 0 144px,#ede 0 146px,#ebd 0 149px,#dbc 0 156px,#bbf 0 159px,#cbe 0 163px,#ede 0 166px,#ddf 0 168px,#fee 0 172px,#f99 0 174px,#ede 0 176px,#ddf 0 179px,#bbf 0 182px,#fff 0 186px,#edf 0 189px,#dce 0 193px,#ece 0 198px,#aaf 0 200px,#ecd 0 203px,#eef 0 206px,#fcc 0 209px,#ecd 0 211px,#ccf 0 214px,#edd 0 216px,#ccf 0 220px,#fdd 0 224px,#fef 0 226px,#eef 0 230px,#ccf 0 232px,#99e 0 235px,#ede 0 239px,#bbf 0 242px,#fdd 0 245px,#98e 0 248px,#ddf 0 252px,#fee 0 254px,#cbf 0 256px,#aaf 0 259px,#b9d 0 262px,#eee 0 265px,#cbe 0 268px,#eab 0 271px,#ddf 0 274px,#cce 0 278px,#baf 0 281px,#ede 0 284px,#fee 0 288px,#dbd 0 292px,#ddf 0 294px,#ccf 0 297px,#f66 0 300px,#faa 0 304px,#e9a 0 308px,#faa 0 312px,#dbd 0 314px,#ecc 0 316px,#ccf 0 319px,#f99 0 323px,#f66 0 325px,#ccf 0 327px,#dbd 0 329px,#f44 0 333px,#dce 0 335px,#cbe 0 339px,#ede 0 341px,#f88 0 343px,#dce 0 346px,#faa 0 349px,#dce 0 351px,#fbb 0 353px,#fcc 0 355px,#f99 0 357px,#eee 0 359px,#ecc 0 361px,#f88 0 363px,#f99 0 366px,#fbb 0 373px,#f66 0 377px,#eab 0 380px,#dbd 0 384px,#f88 0 387px,#fbb 0 396px,#ecd 0 400px,#fbb 0 404px,#fdd 0 407px,#fbb 0 409px,#f88 0 411px,#ebc 0 415px,#fde 0 417px,#e9a 0 420px,#fcd 0 423px,#fcc 0 425px,#fff 0 430px,#fef 0 434px,#fff 0 442px,#cbe 0 446px,#ddf 0 449px,#edf 0 453px,#ccf 0 459px,#ddf 0 461px,#fcc 0 463px,#ccf 0 465px,#edd 0 468px,#ede 0 474px,#edd 0 478px,#baf 0 481px,#ddf 0 485px,#ecd 0 489px,#ddf 0 491px,#cbe 0 494px,#ede 0 498px,#eef 0 501px,#bbf 0 504px,#fee 0 505px,#fff 0 510px,#fbb 0 512px,#fdd 0 515px,#ebd 0 517px,#fcc 0 519px,#ccf 0 523px,#fff 0 525px,#ebb 0 529px,#ebc 0 532px,#ddf 0 535px,#ccf 0 537px,#dce 0 539px,#fee 0 545px,#ddf 0 548px,#ede 0 554px,#edf 0 556px,#eef 0 559px,#ddf 0 562px,#fee 0 565px,#fdd 0 567px,#ddf 0 569px,#ccf 0 571px,#fcc 0 575px,#cbf 0 578px,#ddf 0 579px,#fff 0 583px,#ede 0 586px)"></div>
<div class="a" style="left:0;width:587px;top:396.00px;height:16.90px;background:linear-gradient(90deg,#eef 0 2px,#ddf 0 4px,#a9e 0 8px,#cad 0 12px,#dcf 0 14px,#ebc 0 16px,#ece 0 19px,#fee 0 21px,#aaf 0 24px,#ddf 0 27px,#ccf 0 31px,#eab 0 33px,#f33 0 35px,#eef 0 39px,#dcd 0 43px,#fcc 0 45px,#ccf 0 48px,#ecd 0 51px,#fcc 0 53px,#cce 0 55px,#bbe 0 59px,#fbb 0 63px,#dce 0 65px,#eab 0 69px,#cbe 0 73px,#fdd 0 76px,#fee 0 79px,#ede 0 81px,#dce 0 83px,#ede 0 87px,#dce 0 89px,#faa 0 92px,#f88 0 96px,#ecd 0 99px,#fff 0 101px,#faa 0 104px,#fdd 0 108px,#fbc 0 112px,#cce 0 114px,#ebc 0 118px,#fdd 0 122px,#dac 0 125px,#ecd 0 128px,#ece 0 131px,#ebb 0 133px,#f88 0 137px,#baf 0 141px,#fcc 0 144px,#fbb 0 146px,#dac 0 149px,#edd 0 153px,#fcc 0 156px,#fdd 0 159px,#ecd 0 163px,#eef 0 166px,#e89 0 168px,#dce 0 172px,#f77 0 174px,#dac 0 176px,#cad 0 179px,#bbf 0 182px,#fff 0 186px,#ecd 0 189px,#ccf 0 193px,#ddf 0 196px,#ebc 0 198px,#d9b 0 200px,#fbb 0 203px,#fcc 0 206px,#f88 0 209px,#faa 0 211px,#ccf 0 214px,#ecd 0 216px,#ccf 0 220px,#cbf 0 224px,#ccf 0 226px,#f9a 0 230px,#c9c 0 232px,#ccf 0 235px,#cbd 0 239px,#edf 0 242px,#fdd 0 245px,#eef 0 248px,#fcc 0 252px,#bbf 0 254px,#d9b 0 256px,#ddf 0 259px,#aaf 0 262px,#eee 0 265px,#ede 0 271px,#eef 0 274px,#dce 0 278px,#cbf 0 281px,#f99 0 284px,#faa 0 288px,#cbd 0 292px,#ede 0 294px,#fcc 0 297px,#f66 0 300px,#ede 0 304px,#fbb 0 308px,#fdd 0 312px,#eef 0 314px,#edd 0 316px,#eef 0 319px,#fcc 0 323px,#f66 0 325px,#ddf 0 327px,#ebc 0 329px,#fbb 0 333px,#fcc 0 335px,#ddf 0 339px,#ecc 0 341px,#f99 0 343px,#ede 0 346px,#fdd 0 349px,#fcc 0 351px,#eef 0 353px,#fcc 0 355px,#fee 0 357px,#fcc 0 359px,#eef 0 361px,#fdd 0 363px,#eef 0 366px,#ebc 0 370px,#f88 0 373px,#faa 0 377px,#ede 0 380px,#fcc 0 384px,#faa 0 387px,#f99 0 390px,#faa 0 393px,#f99 0 396px,#ebc 0 400px,#f44 0 404px,#faa 0 407px,#fee 0 409px,#faa 0 411px,#fbb 0 415px,#fde 0 417px,#fbb 0 420px,#dcd 0 423px,#fbb 0 425px,#fff 0 430px,#eef 0 434px,#fff 0 442px,#a9e 0 446px,#ccf 0 449px,#eef 0 453px,#99e 0 457px,#fcc 0 459px,#ccf 0 461px,#fdd 0 463px,#baf 0 465px,#ede 0 468px,#baf 0 471px,#fdd 0 474px,#ede 0 478px,#fff 0 481px,#dce 0 485px,#fcc 0 489px,#dcf 0 491px,#99e 0 494px,#dcf 0 498px,#e89 0 501px,#aaf 0 504px,#f99 0 505px,#fff 0 510px,#eab 0 512px,#dac 0 515px,#ccf 0 517px,#eee 0 519px,#ecd 0 523px,#eaa 0 525px,#ede 0 532px,#dce 0 535px,#aaf 0 537px,#ede 0 539px,#cbe 0 543px,#eef 0 545px,#ecd 0 548px,#ddf 0 552px,#fee 0 554px,#ccf 0 556px,#dcf 0 559px,#ccf 0 562px,#aaf 0 565px,#fdd 0 567px,#dcf 0 569px,#aae 0 571px,#ede 0 575px,#ccf 0 578px,#ddf 0 579px,#fff 0 583px,#ede 0 586px)"></div>
<div class="a" style="left:0;width:587px;top:412.50px;height:16.90px;background:linear-gradient(90deg,#baf 0 2px,#cbf 0 4px,#98e 0 8px,#ccf 0 12px,#fbb 0 14px,#faa 0 16px,#ccf 0 19px,#ecd 0 21px,#bbf 0 24px,#ddf 0 27px,#a9e 0 31px,#fee 0 33px,#faa 0 35px,#ecd 0 39px,#ccf 0 43px,#dce 0 45px,#ddf 0 48px,#eee 0 51px,#fcc 0 53px,#88e 0 55px,#cce 0 59px,#baf 0 63px,#ccf 0 65px,#faa 0 69px,#ccf 0 73px,#ede 0 76px,#dbe 0 79px,#ede 0 81px,#cbf 0 83px,#dbd 0 87px,#ccf 0 89px,#fee 0 92px,#dab 0 96px,#dce 0 99px,#fef 0 101px,#fcc 0 104px,#faa 0 108px,#dde 0 112px,#ede 0 114px,#fbb 0 118px,#fcc 0 122px,#ede 0 125px,#dce 0 128px,#bae 0 131px,#fee 0 133px,#fcc 0 137px,#ccf 0 141px,#f88 0 144px,#bbf 0 146px,#f99 0 149px,#dac 0 153px,#dab 0 156px,#eef 0 159px,#ddf 0 166px,#fde 0 168px,#bae 0 172px,#fbb 0 174px,#f88 0 176px,#fcc 0 179px,#ede 0 182px,#fff 0 186px,#ddf 0 189px,#cbe 0 193px,#cce 0 196px,#baf 0 198px,#bbf 0 200px,#fde 0 203px,#dac 0 206px,#dbd 0 209px,#fff 0 211px,#ebc 0 214px,#ddf 0 216px,#ccf 0 220px,#bbf 0 224px,#baf 0 226px,#dcf 0 230px,#dbc 0 232px,#cbe 0 235px,#ddf 0 239px,#cbe 0 242px,#fbb 0 245px,#dbd 0 248px,#ebd 0 252px,#dbc 0 254px,#baf 0 256px,#ccf 0 262px,#dce 0 265px,#dcf 0 268px,#ede 0 271px,#ddf 0 274px,#cce 0 278px,#eee 0 281px,#ecd 0 284px,#fee 0 288px,#ccf 0 292px,#ddf 0 294px,#eab 0 297px,#fdd 0 300px,#dbd 0 304px,#cac 0 308px,#fcc 0 312px,#ddf 0 314px,#ede 0 316px,#dce 0 319px,#faa 0 323px,#fbb 0 325px,#cac 0 327px,#dce 0 329px,#fee 0 333px,#ddf 0 335px,#ccf 0 339px,#fff 0 341px,#eef 0 343px,#ebc 0 346px,#ebb 0 349px,#fee 0 351px,#f88 0 353px,#fdd 0 355px,#dac 0 357px,#bbf 0 359px,#fbb 0 361px,#ede 0 363px,#faa 0 366px,#fcc 0 373px,#f99 0 377px,#ecd 0 380px,#dcd 0 384px,#f99 0 387px,#fbb 0 390px,#fee 0 393px,#ede 0 396px,#fcc 0 400px,#faa 0 404px,#f66 0 407px,#fee 0 409px,#fbb 0 411px,#fee 0 415px,#dce 0 417px,#faa 0 420px,#dce 0 423px,#fbb 0 425px,#fff 0 430px,#fee 0 434px,#fff 0 442px,#dde 0 446px,#ede 0 449px,#ecc 0 453px,#edf 0 457px,#faa 0 459px,#fcc 0 461px,#dab 0 463px,#ccf 0 465px,#ecd 0 468px,#ede 0 474px,#faa 0 478px,#dce 0 481px,#dbd 0 485px,#ebc 0 489px,#eef 0 491px,#99e 0 494px,#fdd 0 498px,#fbb 0 501px,#ddf 0 504px,#f33 0 505px,#fff 0 510px,#dbd 0 512px,#f99 0 515px,#f88 0 517px,#f99 0 519px,#ebc 0 523px,#fcd 0 525px,#ece 0 529px,#ecd 0 532px,#fcc 0 535px,#eef 0 537px,#ebb 0 543px,#f99 0 545px,#ecd 0 548px,#f88 0 552px,#dbd 0 554px,#fbb 0 556px,#eab 0 559px,#faa 0 562px,#ecd 0 565px,#ebc 0 567px,#fef 0 569px,#eee 0 571px,#fcc 0 575px,#eef 0 578px,#fff 0 579px,#fff 0 583px,#ebc 0 586px)"></div>
<div class="a" style="left:0;width:587px;top:429.00px;height:16.90px;background:linear-gradient(90deg,#faa 0 2px,#ddf 0 4px,#bbf 0 8px,#edf 0 14px,#faa 0 16px,#ddf 0 19px,#ede 0 21px,#dbd 0 24px,#ddf 0 27px,#cbf 0 31px,#ecd 0 33px,#f88 0 35px,#eee 0 39px,#ede 0 43px,#bbf 0 45px,#ddf 0 48px,#ebc 0 51px,#fee 0 53px,#ede 0 55px,#e9a 0 59px,#dac 0 63px,#ecc 0 65px,#faa 0 69px,#ccf 0 73px,#dbc 0 76px,#fbb 0 79px,#bbf 0 83px,#eab 0 87px,#dce 0 89px,#fbb 0 96px,#dce 0 99px,#ede 0 101px,#fee 0 112px,#eef 0 114px,#fcc 0 118px,#ede 0 122px,#eef 0 128px,#eee 0 131px,#fff 0 133px,#f88 0 137px,#ece 0 141px,#f88 0 144px,#dbc 0 146px,#ede 0 149px,#eef 0 153px,#ede 0 163px,#eee 0 166px,#fcc 0 168px,#bbf 0 172px,#faa 0 176px,#ede 0 182px,#fff 0 186px,#fdd 0 189px,#ccf 0 193px,#ecd 0 196px,#a9e 0 198px,#cad 0 200px,#fcc 0 203px,#fff 0 206px,#ede 0 209px,#c8b 0 211px,#fbb 0 214px,#ede 0 220px,#ddf 0 224px,#dcf 0 226px,#eee 0 230px,#eef 0 232px,#ecd 0 235px,#ebc 0 239px,#dcd 0 242px,#eef 0 245px,#ddf 0 248px,#ece 0 252px,#eef 0 254px,#eee 0 256px,#ccf 0 259px,#cad 0 262px,#dce 0 265px,#cbe 0 268px,#eef 0 271px,#cbe 0 274px,#cad 0 278px,#cbe 0 281px,#ede 0 284px,#eef 0 292px,#fee 0 294px,#f99 0 297px,#fbb 0 300px,#ecd 0 304px,#fbb 0 308px,#ebc 0 312px,#eef 0 314px,#ddf 0 316px,#aaf 0 319px,#fdd 0 323px,#fee 0 325px,#bbf 0 327px,#ccf 0 329px,#eaa 0 333px,#fff 0 335px,#bbf 0 339px,#fff 0 341px,#ebc 0 343px,#bbf 0 346px,#dce 0 349px,#fff 0 351px,#fcc 0 353px,#fdd 0 355px,#ddf 0 357px,#eef 0 359px,#ccf 0 361px,#ddf 0 363px,#ece 0 366px,#e78 0 370px,#fdd 0 373px,#e88 0 377px,#ccf 0 380px,#ecd 0 384px,#edd 0 387px,#ddf 0 390px,#fdd 0 396px,#dcf 0 400px,#eaa 0 404px,#dce 0 407px,#faa 0 409px,#c9c 0 411px,#fbb 0 415px,#ede 0 417px,#fdd 0 420px,#eee 0 425px,#fff 0 430px,#eef 0 434px,#fff 0 442px,#ccf 0 446px,#dce 0 449px,#eaa 0 453px,#cbe 0 457px,#fde 0 459px,#baf 0 461px,#fdd 0 463px,#ece 0 465px,#ecd 0 468px,#edf 0 471px,#fee 0 478px,#dbd 0 481px,#cbe 0 485px,#f99 0 489px,#eef 0 491px,#edf 0 494px,#eee 0 498px,#f99 0 501px,#a9f 0 504px,#fee 0 505px,#fff 0 510px,#ede 0 512px,#eee 0 515px,#ddf 0 517px,#f88 0 519px,#ebc 0 523px,#fdd 0 525px,#ede 0 529px,#fab 0 532px,#ecd 0 535px,#baf 0 537px,#ede 0 543px,#dbd 0 545px,#ecd 0 548px,#ede 0 552px,#fdd 0 554px,#dde 0 556px,#ddf 0 559px,#eef 0 562px,#ede 0 565px,#f99 0 567px,#ddf 0 569px,#ccf 0 571px,#eee 0 575px,#dce 0 578px,#fff 0 579px,#fff 0 583px,#ecd 0 586px)"></div>
<div class="a" style="left:0;width:587px;top:445.50px;height:16.50px;background:linear-gradient(90deg,#fcc 0 2px,#eef 0 4px,#aae 0 8px,#dce 0 12px,#fee 0 14px,#f99 0 16px,#cad 0 19px,#fee 0 21px,#aaf 0 24px,#dcf 0 27px,#a9e 0 31px,#ede 0 33px,#ecd 0 35px,#fdd 0 39px,#cad 0 43px,#fbb 0 45px,#cbf 0 48px,#dbc 0 51px,#eef 0 53px,#aaf 0 55px,#ede 0 59px,#fdd 0 63px,#edf 0 65px,#ecc 0 69px,#ede 0 73px,#f99 0 76px,#fdd 0 79px,#eef 0 81px,#ece 0 83px,#ecd 0 87px,#dde 0 89px,#fbb 0 92px,#dbd 0 96px,#cbf 0 99px,#b9c 0 101px,#fee 0 104px,#ecd 0 112px,#fcc 0 114px,#eef 0 118px,#ede 0 122px,#fde 0 125px,#ecd 0 128px,#dab 0 131px,#fbb 0 133px,#fcc 0 137px,#dce 0 141px,#eef 0 144px,#dcf 0 146px,#dce 0 149px,#fbb 0 153px,#fee 0 156px,#eef 0 159px,#dde 0 163px,#cbf 0 166px,#dbe 0 168px,#cce 0 172px,#fcc 0 176px,#eef 0 179px,#cbe 0 182px,#fff 0 186px,#ddf 0 189px,#ecd 0 193px,#fbb 0 196px,#a9e 0 198px,#fee 0 200px,#dbd 0 203px,#ebc 0 206px,#fcc 0 209px,#fbb 0 211px,#ccf 0 214px,#fdd 0 216px,#dcf 0 220px,#ebc 0 224px,#ecd 0 226px,#fdd 0 230px,#edf 0 232px,#bbf 0 235px,#fcc 0 239px,#dbd 0 242px,#ecc 0 245px,#ece 0 248px,#ecd 0 252px,#edf 0 254px,#cbf 0 256px,#edd 0 259px,#cce 0 262px,#ede 0 265px,#fcc 0 271px,#bbf 0 274px,#dcf 0 278px,#fcc 0 281px,#ecd 0 284px,#fdd 0 288px,#dce 0 292px,#dcf 0 294px,#edd 0 297px,#f88 0 300px,#ebb 0 304px,#faa 0 308px,#dcd 0 312px,#ccf 0 314px,#fdd 0 316px,#ddf 0 319px,#fab 0 323px,#fee 0 325px,#ccf 0 327px,#bbf 0 329px,#faa 0 333px,#ddf 0 335px,#cad 0 339px,#cbe 0 341px,#fee 0 343px,#bbf 0 346px,#ede 0 349px,#dbd 0 351px,#fcc 0 353px,#ede 0 355px,#dbd 0 357px,#fbb 0 359px,#ddf 0 361px,#eef 0 363px,#ebc 0 366px,#ede 0 370px,#faa 0 373px,#f99 0 377px,#e9a 0 380px,#edf 0 384px,#fcc 0 387px,#eef 0 390px,#ebc 0 393px,#eef 0 396px,#ecd 0 400px,#ebc 0 404px,#ede 0 407px,#ecd 0 409px,#ecc 0 411px,#ecd 0 415px,#ebc 0 417px,#fcc 0 420px,#fcd 0 423px,#ede 0 425px,#fff 0 430px,#eef 0 434px,#fff 0 442px,#ede 0 446px,#eab 0 449px,#fdd 0 453px,#ddf 0 457px,#dac 0 459px,#dcf 0 461px,#fdd 0 463px,#fee 0 465px,#dce 0 468px,#eef 0 471px,#fdd 0 474px,#ebb 0 478px,#ecd 0 485px,#eab 0 489px,#dac 0 491px,#ebd 0 494px,#cbd 0 498px,#f99 0 501px,#cbe 0 504px,#f99 0 505px,#fff 0 510px,#dcd 0 512px,#fcc 0 515px,#cbe 0 517px,#e78 0 519px,#ebc 0 523px,#fdd 0 529px,#faa 0 532px,#e9a 0 535px,#dad 0 537px,#eef 0 539px,#fcc 0 543px,#cad 0 545px,#fdd 0 548px,#fbb 0 554px,#ddf 0 556px,#cbd 0 559px,#fee 0 562px,#dbd 0 565px,#fcc 0 567px,#ecd 0 569px,#dcf 0 571px,#ecc 0 575px,#eef 0 578px,#edf 0 579px,#fff 0 583px,#ede 0 586px)"></div>
</div>
<div class="a" style="left:27.4px;top:516.40px;width:14.3px;height:16.80px;background:#fa88f8"></div>
<div class="a" style="left:44.5px;top:516.40px;width:14.4px;height:16.80px;background:#ff0000"></div>
<div class="a" style="left:61.8px;top:516.40px;width:14.5px;height:16.80px;background:#ff3030"></div>
<div class="t r" style="left:670.3px;top:518.45px">KEGG<s>_</s>CELL<s>_</s>ADHESION<s>_</s>MOLECULES<s>_</s>CAMS **</div>
<div class="a" style="left:27.4px;top:532.90px;width:14.3px;height:16.80px;background:#fa88f8"></div>
<div class="a" style="left:44.5px;top:532.90px;width:14.4px;height:16.80px;background:#ff2020"></div>
<div class="a" style="left:61.8px;top:532.90px;width:14.5px;height:16.80px;background:#ff0000"></div>
<div class="t r" style="left:670.3px;top:534.95px">KEGG<s>_</s>SYSTEMIC<s>_</s>LUPUS<s>_</s>ERYTHEMATOSUS **</div>
<div class="a" style="left:27.4px;top:549.40px;width:14.3px;height:16.80px;background:#fa88f8"></div>
<div class="a" style="left:44.5px;top:549.40px;width:14.4px;height:16.80px;background:#ff4040"></div>
<div class="a" style="left:61.8px;top:549.40px;width:14.5px;height:16.80px;background:#ff0808"></div>
<div class="t r" style="left:670.3px;top:551.45px">KEGG<s>_</s>INTESTINAL<s>_</s>IMMUNE<s>_</s>NETWORK<s>_</s>FOR<s>_</s>IGA<s>_</s>PRODUCTION **</div>
<div class="a" style="left:27.4px;top:565.90px;width:14.3px;height:16.80px;background:#fa88f8"></div>
<div class="a" style="left:44.5px;top:565.90px;width:14.4px;height:16.80px;background:#ff6060"></div>
<div class="a" style="left:61.8px;top:565.90px;width:14.5px;height:16.80px;background:#ff3030"></div>
<div class="t r" style="left:670.3px;top:567.95px">KEGG<s>_</s>HEMATOPOIETIC<s>_</s>CELL<s>_</s>LINEAGE **</div>
<div class="a" style="left:27.4px;top:582.40px;width:14.3px;height:16.80px;background:#fa88f8"></div>
<div class="a" style="left:44.5px;top:582.40px;width:14.4px;height:16.80px;background:#ff8080"></div>
<div class="a" style="left:61.8px;top:582.40px;width:14.5px;height:16.80px;background:#ff0000"></div>
<div class="t r" style="left:670.3px;top:584.45px">KEGG<s>_</s>PYRIMIDINE<s>_</s>METABOLISM **</div>
<div class="a" style="left:27.4px;top:598.90px;width:14.3px;height:16.80px;background:#fa88f8"></div>
<div class="a" style="left:44.5px;top:598.90px;width:14.4px;height:16.80px;background:#ffc8c8"></div>
<div class="a" style="left:61.8px;top:598.90px;width:14.5px;height:16.80px;background:#ff1010"></div>
<div class="t r" style="left:670.3px;top:600.95px">KEGG<s>_</s>N<s>_</s>GLYCAN<s>_</s>BIOSYNTHESIS **</div>
<div class="a" style="left:27.4px;top:615.40px;width:14.3px;height:16.80px;background:#fa88f8"></div>
<div class="a" style="left:44.5px;top:615.40px;width:14.4px;height:16.80px;background:#ffcccc"></div>
<div class="a" style="left:61.8px;top:615.40px;width:14.5px;height:16.80px;background:#ff1818"></div>
<div class="t r" style="left:670.3px;top:617.45px">KEGG<s>_</s>INOSITOL<s>_</s>PHOSPHATE<s>_</s>METABOLISM **</div>
<div class="a" style="left:27.4px;top:631.90px;width:14.3px;height:16.80px;background:#fa88f8"></div>
<div class="a" style="left:44.5px;top:631.90px;width:14.4px;height:16.80px;background:#ffcccc"></div>
<div class="a" style="left:61.8px;top:631.90px;width:14.5px;height:16.80px;background:#ff2020"></div>
<div class="t r" style="left:670.3px;top:633.95px">KEGG<s>_</s>PYRUVATE<s>_</s>METABOLISM **</div>
<div class="a" style="left:27.4px;top:648.40px;width:14.3px;height:16.80px;background:#fa88f8"></div>
<div class="a" style="left:44.5px;top:648.40px;width:14.4px;height:16.80px;background:#ffd0d0"></div>
<div class="a" style="left:61.8px;top:648.40px;width:14.5px;height:16.80px;background:#ff2828"></div>
<div class="t r" style="left:670.3px;top:650.45px">KEGG<s>_</s>VIRAL<s>_</s>MYOCARDITIS **</div>
<div class="a" style="left:27.4px;top:664.90px;width:14.3px;height:16.80px;background:#fa88f8"></div>
<div class="a" style="left:44.5px;top:664.90px;width:14.4px;height:16.80px;background:#fff0f0"></div>
<div class="a" style="left:61.8px;top:664.90px;width:14.5px;height:16.80px;background:#ff2020"></div>
<div class="t r" style="left:670.3px;top:666.95px">KEGG<s>_</s>TRYPTOPHAN<s>_</s>METABOLISM **</div>
<div class="a" style="left:27.4px;top:681.40px;width:14.3px;height:16.80px;background:#fa88f8"></div>
<div class="a" style="left:44.5px;top:681.40px;width:14.4px;height:16.80px;background:#ffc0c0"></div>
<div class="a" style="left:61.8px;top:681.40px;width:14.5px;height:16.80px;background:#ff1010"></div>
<div class="t" style="left:670.3px;top:683.45px">KEGG<s>_</s>ACUTE<s>_</s>MYELOID<s>_</s>LEUKEMIA</div>
<div class="a" style="left:27.4px;top:697.90px;width:14.3px;height:16.80px;background:#fa88f8"></div>
<div class="a" style="left:44.5px;top:697.90px;width:14.4px;height:16.80px;background:#ffb0b0"></div>
<div class="a" style="left:61.8px;top:697.90px;width:14.5px;height:16.80px;background:#ff0a0a"></div>
<div class="t" style="left:670.3px;top:699.95px">KEGG<s>_</s>ALDOSTERONE<s>_</s>REGULATED<s>_</s>SODIUM<s>_</s>REABSORPTION</div>
<div class="a" style="left:27.4px;top:714.40px;width:14.3px;height:16.80px;background:#fa88f8"></div>
<div class="a" style="left:44.5px;top:714.40px;width:14.4px;height:16.80px;background:#ff9090"></div>
<div class="a" style="left:61.8px;top:714.40px;width:14.5px;height:16.80px;background:#ff0000"></div>
<div class="t" style="left:670.3px;top:716.45px">KEGG<s>_</s>APOPTOSIS</div>
<div class="a" style="left:27.4px;top:730.90px;width:14.3px;height:16.80px;background:#fa88f8"></div>
<div class="a" style="left:44.5px;top:730.90px;width:14.4px;height:16.80px;background:#ff8888"></div>
<div class="a" style="left:61.8px;top:730.90px;width:14.5px;height:16.80px;background:#ff3030"></div>
<div class="t" style="left:670.3px;top:732.95px">KEGG<s>_</s>B<s>_</s>CELL<s>_</s>RECEPTOR<s>_</s>SIGNALING<s>_</s>PATHWAY</div>
<div class="a" style="left:27.4px;top:747.40px;width:14.3px;height:16.80px;background:#fa88f8"></div>
<div class="a" style="left:44.5px;top:747.40px;width:14.4px;height:16.80px;background:#ffd8d8"></div>
<div class="a" style="left:61.8px;top:747.40px;width:14.5px;height:16.80px;background:#ff2020"></div>
<div class="t" style="left:670.3px;top:749.45px">KEGG<s>_</s>PRION<s>_</s>DISEASES</div>
<div class="a" style="left:27.4px;top:763.90px;width:14.3px;height:16.80px;background:#fa88f8"></div>
<div class="a" style="left:44.5px;top:763.90px;width:14.4px;height:16.80px;background:#ffa8a8"></div>
<div class="a" style="left:61.8px;top:763.90px;width:14.5px;height:16.80px;background:#ff0000"></div>
<div class="t" style="left:670.3px;top:765.95px">KEGG<s>_</s>COLORECTAL<s>_</s>CANCER</div>
<div class="a" style="left:27.4px;top:780.40px;width:14.3px;height:16.80px;background:#fa88f8"></div>
<div class="a" style="left:44.5px;top:780.40px;width:14.4px;height:16.80px;background:#ff5858"></div>
<div class="a" style="left:61.8px;top:780.40px;width:14.5px;height:16.80px;background:#ff2020"></div>
<div class="t" style="left:670.3px;top:782.45px">KEGG<s>_</s>COMPLEMENT<s>_</s>AND<s>_</s>COAGULATION<s>_</s>CASCADES</div>
<div class="a" style="left:27.4px;top:796.90px;width:14.3px;height:16.80px;background:#fa88f8"></div>
<div class="a" style="left:44.5px;top:796.90px;width:14.4px;height:16.80px;background:#ff7878"></div>
<div class="a" style="left:61.8px;top:796.90px;width:14.5px;height:16.80px;background:#ff1818"></div>
<div class="t" style="left:670.3px;top:798.95px">KEGG<s>_</s>FC<s>_</s>GAMMA<s>_</s>R<s>_</s>MEDIATED<s>_</s>PHAGOCYTOSIS</div>
<div class="a" style="left:27.4px;top:813.40px;width:14.3px;height:16.80px;background:#fa88f8"></div>
<div class="a" style="left:44.5px;top:813.40px;width:14.4px;height:16.80px;background:#ffc4c4"></div>
<div class="a" style="left:61.8px;top:813.40px;width:14.5px;height:16.80px;background:#ff1c1c"></div>
<div class="t" style="left:670.3px;top:815.45px">KEGG<s>_</s>GALACTOSE<s>_</s>METABOLISM</div>
<div class="a" style="left:27.4px;top:829.90px;width:14.3px;height:16.80px;background:#fa88f8"></div>
<div class="a" style="left:44.5px;top:829.90px;width:14.4px;height:16.80px;background:#ffffff"></div>
<div class="a" style="left:61.8px;top:829.90px;width:14.5px;height:16.80px;background:#ff2828"></div>
<div class="t" style="left:670.3px;top:831.95px">KEGG<s>_</s>GLYCINE<s>_</s>SERINE<s>_</s>AND<s>_</s>THREONINE<s>_</s>METABOLISM</div>
<div class="a" style="left:27.4px;top:846.40px;width:14.3px;height:16.80px;background:#fa88f8"></div>
<div class="a" style="left:44.5px;top:846.40px;width:14.4px;height:16.80px;background:#ff8c8c"></div>
<div class="a" style="left:61.8px;top:846.40px;width:14.5px;height:16.80px;background:#ff0000"></div>
<div class="t" style="left:670.3px;top:848.45px">KEGG<s>_</s>MELANOMA</div>
<div class="a" style="left:27.4px;top:862.90px;width:14.3px;height:16.80px;background:#fa88f8"></div>
<div class="a" style="left:44.5px;top:862.90px;width:14.4px;height:16.80px;background:#ffa8a8"></div>
<div class="a" style="left:61.8px;top:862.90px;width:14.5px;height:16.80px;background:#ff0a0a"></div>
<div class="t" style="left:670.3px;top:864.95px">KEGG<s>_</s>PANCREATIC<s>_</s>CANCER</div>
<div class="a" style="left:27.4px;top:879.40px;width:14.3px;height:16.80px;background:#fa88f8"></div>
<div class="a" style="left:44.5px;top:879.40px;width:14.4px;height:16.80px;background:#ff3030"></div>
<div class="a" style="left:61.8px;top:879.40px;width:14.5px;height:16.80px;background:#ff0000"></div>
<div class="t" style="left:670.3px;top:881.45px">KEGG<s>_</s>JAK<s>_</s>STAT<s>_</s>SIGNALING<s>_</s>PATHWAY</div>
<div class="a" style="left:27.4px;top:895.90px;width:14.3px;height:16.80px;background:#fa88f8"></div>
<div class="a" style="left:44.5px;top:895.90px;width:14.4px;height:16.80px;background:#ffe0e0"></div>
<div class="a" style="left:61.8px;top:895.90px;width:14.5px;height:16.80px;background:#ff2828"></div>
<div class="t" style="left:670.3px;top:897.95px">KEGG<s>_</s>LYSOSOME</div>
<div class="a" style="left:27.4px;top:912.40px;width:14.3px;height:16.80px;background:#fa88f8"></div>
<div class="a" style="left:44.5px;top:912.40px;width:14.4px;height:16.80px;background:#ff6868"></div>
<div class="a" style="left:61.8px;top:912.40px;width:14.5px;height:16.80px;background:#ff2828"></div>
<div class="t" style="left:670.3px;top:914.45px">KEGG<s>_</s>PATHWAYS<s>_</s>IN<s>_</s>CANCER</div>
<div class="a" style="left:27.4px;top:928.90px;width:14.3px;height:16.80px;background:#fa88f8"></div>
<div class="a" style="left:44.5px;top:928.90px;width:14.4px;height:16.80px;background:#ff5050"></div>
<div class="a" style="left:61.8px;top:928.90px;width:14.5px;height:16.80px;background:#ff2020"></div>
<div class="t" style="left:670.3px;top:930.95px">KEGG<s>_</s>REGULATION<s>_</s>OF<s>_</s>ACTIN<s>_</s>CYTOSKELETON</div>
<div class="a" style="left:27.4px;top:945.40px;width:14.3px;height:16.80px;background:#fa88f8"></div>
<div class="a" style="left:44.5px;top:945.40px;width:14.4px;height:16.80px;background:#ffe0e0"></div>
<div class="a" style="left:61.8px;top:945.40px;width:14.5px;height:16.80px;background:#ff2828"></div>
<div class="t" style="left:670.3px;top:947.45px">KEGG<s>_</s>NON<s>_</s>SMALL<s>_</s>CELL<s>_</s>LUNG<s>_</s>CANCER</div>
<div class="a" style="left:27.4px;top:961.90px;width:14.3px;height:16.50px;background:#fa88f8"></div>
<div class="a" style="left:44.5px;top:961.90px;width:14.4px;height:16.50px;background:#ff9898"></div>
<div class="a" style="left:61.8px;top:961.90px;width:14.5px;height:16.50px;background:#ff1010"></div>
<div class="t" style="left:670.3px;top:963.95px">KEGG<s>_</s>PROSTATE<s>_</s>CANCER</div>
<div class="t b" style="left:42.5px;top:982.8px;transform-origin:0 0;transform:rotate(90deg)">Regulate</div>
<div class="t b" style="left:59.7px;top:982.8px;transform-origin:0 0;transform:rotate(90deg)">−log10(FDR)</div>
<div class="t b" style="left:77.0px;top:982.8px;transform-origin:0 0;transform:rotate(90deg)">logFC</div>
<div class="a" style="left:1170.7px;top:74.4px;width:10.8px;height:160.9px;background:linear-gradient(180deg,#ff0a0a 0%,#ffffff 50%,#6a58f0 100%)"></div>
<div class="t" style="left:1188.5px;top:93.5px">2</div>
<div class="t" style="left:1188.5px;top:120.8px">1</div>
<div class="t" style="left:1188.5px;top:147.8px">0</div>
<div class="t" style="left:1184.5px;top:176.5px">−1</div>
<div class="t" style="left:1184.5px;top:204.5px">−2</div>
<div class="t b" style="left:1213.8px;top:72.6px">Sample</div>
<div class="a" style="left:1213.8px;top:90.9px;width:21.6px;height:21.4px;background:#ff3030"></div>
<div class="t" style="left:1239.9px;top:95.9px">GSE10334_Case(183)</div>
<div class="a" style="left:1213.8px;top:112.2px;width:21.6px;height:21.4px;background:#ffff30"></div>
<div class="t" style="left:1239.9px;top:117.2px">GSE16134_Case(241)</div>
<div class="a" style="left:1213.8px;top:133.5px;width:21.6px;height:21.4px;background:#30e830"></div>
<div class="t" style="left:1239.9px;top:138.5px">GSE23586_Case(3)</div>
<div class="a" style="left:1213.8px;top:154.8px;width:21.6px;height:21.4px;background:#30ffff"></div>
<div class="t" style="left:1239.9px;top:159.8px">GSE10334_Control(64)</div>
<div class="a" style="left:1213.8px;top:176.1px;width:21.6px;height:21.4px;background:#3030ff"></div>
<div class="t" style="left:1239.9px;top:181.1px">GSE16134_Control(69)</div>
<div class="a" style="left:1213.8px;top:197.4px;width:21.6px;height:21.4px;background:#ff30ff"></div>
<div class="t" style="left:1239.9px;top:202.4px">GSE23586_Control(3)</div>
<div class="t b" style="left:1213.8px;top:234.8px">Regulate</div>
<div class="a" style="left:1213.8px;top:253.2px;width:21.6px;height:21.4px;background:#fa88f8"></div>
<div class="t" style="left:1239.9px;top:258.1px">DE−Pathway up</div>
<div class="a" style="left:1213.8px;top:274.4px;width:21.6px;height:21.4px;background:#8ecfd0"></div>
<div class="t" style="left:1239.9px;top:279.3px">DE−Pathway down</div>
<div class="t b" style="left:1213.8px;top:310.2px"><span class="m">−</span>log10(FDR)</div>
<div class="a" style="left:1213.8px;top:329.2px;width:21.6px;height:21.4px;background:#ff0000"></div>
<div class="a" style="left:1213.8px;top:350.5px;width:21.6px;height:21.4px;background:#ff5555"></div>
<div class="a" style="left:1213.8px;top:371.8px;width:21.6px;height:21.4px;background:#ffaaaa"></div>
<div class="t" style="left:1239.9px;top:332.8px">50</div>
<div class="t" style="left:1239.9px;top:397.5px">20</div>
<div class="t b" style="left:1213.8px;top:429.7px">logFC</div>
<div class="a" style="left:1213.8px;top:448.2px;width:21.6px;height:21.6px;background:#ff0000"></div>
<div class="a" style="left:1213.8px;top:469.6px;width:21.6px;height:21.6px;background:#ffa0a0"></div>
<div class="a" style="left:1213.8px;top:491.0px;width:21.6px;height:21.6px;background:#a8a8ff"></div>
<div class="a" style="left:1213.8px;top:512.4px;width:21.6px;height:21.6px;background:#0000ff"></div>
<div class="t" style="left:1239.9px;top:451.5px">0.4</div>
<div class="t" style="left:1239.9px;top:516.2px">−0.8</div>
<div class="t" style="left:14.0px;top:1115.4px;font-size:26px;line-height:26px;font-weight:bold;color:#000;transform:scaleY(1.06);transform-origin:0 21.8px">B. CKF</div>
<div class="a" style="left:80.3px;top:1148.5px;width:182.4px;height:14.3px;background:#fa4f55"></div>
<div class="a" style="left:266.4px;top:1148.5px;width:239.1px;height:14.3px;background:#ffff4b"></div>
<div class="a" style="left:510.5px;top:1148.5px;width:3.5px;height:14.3px;background:#4be04b"></div>
<div class="a" style="left:522.5px;top:1148.5px;width:63.3px;height:14.3px;background:#4bffff"></div>
<div class="a" style="left:590.2px;top:1148.5px;width:69.0px;height:14.3px;background:#4b4bff"></div>
<div class="a" style="left:663.4px;top:1148.5px;width:3.0px;height:14.3px;background:#ff4bff"></div>
<div class="t b" style="left:669.6px;top:1149.1px">Sample</div>
<div class="a" style="left:80.3px;top:1166.30px;width:587px;height:459.29px;filter:blur(1.00px)">
<div class="a" style="left:0;width:587px;top:0.00px;height:14.32px;background:linear-gradient(90deg,#bbf 0 2px,#ede 0 5px,#cbe 0 9px,#edf 0 12px,#ddf 0 15px,#99e 0 18px,#cbe 0 22px,#baf 0 25px,#eab 0 29px,#eef 0 31px,#bbf 0 39px,#ddf 0 41px,#cbe 0 45px,#ccf 0 48px,#dcf 0 51px,#fbb 0 55px,#dbd 0 58px,#cbe 0 61px,#ddf 0 63px,#ccf 0 65px,#99e 0 67px,#dcf 0 69px,#fcc 0 72px,#fee 0 74px,#99e 0 77px,#ccf 0 83px,#ede 0 85px,#ddf 0 89px,#dcf 0 93px,#fdd 0 95px,#fee 0 97px,#f99 0 99px,#ddf 0 102px,#eef 0 106px,#edf 0 109px,#dbc 0 112px,#fbc 0 116px,#aaf 0 119px,#ece 0 123px,#fdd 0 125px,#ede 0 129px,#fcc 0 132px,#f66 0 135px,#dcf 0 139px,#fcc 0 143px,#f88 0 146px,#ebc 0 148px,#fdd 0 152px,#ddf 0 154px,#f99 0 156px,#dcd 0 158px,#faa 0 160px,#ddf 0 164px,#fdd 0 166px,#ebc 0 170px,#88e 0 172px,#fbb 0 174px,#ebc 0 177px,#fcd 0 181px,#eef 0 182px,#fff 0 186px,#ccf 0 188px,#dce 0 192px,#a9f 0 196px,#ddf 0 198px,#ede 0 202px,#eef 0 208px,#a9e 0 212px,#ccf 0 214px,#eef 0 217px,#dcd 0 219px,#ddf 0 224px,#ede 0 227px,#99e 0 230px,#aaf 0 232px,#fcc 0 235px,#bae 0 239px,#eac 0 242px,#ccf 0 244px,#ede 0 248px,#ddf 0 253px,#baf 0 255px,#ede 0 257px,#a9e 0 259px,#ccf 0 261px,#bbf 0 263px,#aaf 0 267px,#ccf 0 269px,#cbf 0 273px,#a9e 0 277px,#bbf 0 279px,#a9e 0 281px,#bbf 0 285px,#ddf 0 289px,#ecd 0 293px,#f99 0 295px,#cbe 0 299px,#ccf 0 301px,#f99 0 303px,#cce 0 307px,#cbe 0 309px,#ece 0 313px,#cbe 0 316px,#ddf 0 318px,#ede 0 322px,#dbd 0 324px,#faa 0 326px,#eef 0 330px,#bbf 0 332px,#baf 0 334px,#bbf 0 336px,#dce 0 340px,#ecd 0 342px,#dce 0 345px,#faa 0 347px,#fdd 0 351px,#ede 0 355px,#dde 0 359px,#eef 0 362px,#fbb 0 364px,#ede 0 368px,#fff 0 370px,#fcc 0 373px,#ecd 0 378px,#fcc 0 382px,#f88 0 385px,#dce 0 387px,#ebc 0 391px,#ecc 0 393px,#ede 0 396px,#fcc 0 399px,#ede 0 401px,#dce 0 404px,#d9b 0 407px,#dce 0 411px,#ddf 0 414px,#fbb 0 416px,#dbd 0 419px,#bbf 0 422px,#ccf 0 424px,#f55 0 425px,#fff 0 430px,#fee 0 434px,#fff 0 442px,#faa 0 444px,#fdd 0 446px,#fbb 0 449px,#f99 0 451px,#fbb 0 454px,#dce 0 456px,#f99 0 459px,#f77 0 463px,#fcc 0 465px,#faa 0 468px,#f99 0 472px,#f66 0 476px,#f55 0 480px,#f99 0 484px,#f55 0 487px,#f99 0 489px,#fee 0 491px,#fcc 0 495px,#eaa 0 499px,#fbb 0 503px,#f88 0 505px,#fff 0 510px,#f88 0 513px,#ede 0 518px,#ecd 0 521px,#fbb 0 524px,#f66 0 527px,#fdd 0 529px,#d9a 0 533px,#f99 0 536px,#f77 0 538px,#fbc 0 542px,#ebc 0 545px,#f99 0 548px,#faa 0 551px,#f99 0 555px,#faa 0 558px,#eef 0 560px,#f88 0 563px,#faa 0 565px,#f55 0 567px,#fcc 0 570px,#ede 0 574px,#faa 0 576px,#fef 0 578px,#edf 0 579px,#fff 0 583px,#f55 0 586px)"></div>
<div class="a" style="left:0;width:587px;top:13.92px;height:14.32px;background:linear-gradient(90deg,#fbb 0 2px,#fcc 0 5px,#ccf 0 9px,#fbb 0 15px,#eee 0 18px,#fee 0 22px,#dcf 0 25px,#f99 0 29px,#faa 0 31px,#fee 0 34px,#ebc 0 37px,#dac 0 39px,#bbf 0 41px,#ede 0 45px,#ebc 0 48px,#faa 0 51px,#f99 0 55px,#fbb 0 58px,#fcc 0 61px,#fdd 0 63px,#ddf 0 65px,#eef 0 67px,#ecd 0 69px,#f99 0 72px,#fee 0 74px,#edf 0 77px,#ede 0 80px,#ecc 0 83px,#eef 0 85px,#fbb 0 89px,#ecc 0 93px,#fcc 0 95px,#ccf 0 97px,#fee 0 99px,#ede 0 102px,#cbf 0 109px,#dde 0 112px,#eef 0 116px,#ccf 0 119px,#eef 0 123px,#ddf 0 125px,#bae 0 129px,#fbb 0 132px,#d9a 0 135px,#dce 0 139px,#eab 0 143px,#fbb 0 146px,#fff 0 148px,#ece 0 152px,#eef 0 154px,#ede 0 156px,#bbf 0 158px,#dbd 0 160px,#f99 0 164px,#cad 0 166px,#ecd 0 170px,#98e 0 172px,#fdd 0 174px,#fcc 0 177px,#ede 0 181px,#ddf 0 182px,#fff 0 186px,#ddf 0 188px,#fcc 0 192px,#bbf 0 196px,#eef 0 198px,#fbb 0 202px,#ccf 0 204px,#bae 0 208px,#ddf 0 212px,#ccf 0 214px,#ecd 0 217px,#baf 0 219px,#ebb 0 222px,#cbd 0 224px,#cbe 0 227px,#cbf 0 230px,#dbd 0 232px,#ccf 0 235px,#dde 0 239px,#ecd 0 242px,#bbf 0 244px,#dce 0 248px,#ede 0 251px,#dce 0 253px,#dbd 0 255px,#fee 0 257px,#baf 0 259px,#bbf 0 263px,#bae 0 267px,#dce 0 269px,#bbf 0 273px,#99e 0 277px,#cbf 0 279px,#dce 0 281px,#cbe 0 285px,#ece 0 289px,#dce 0 293px,#aaf 0 295px,#fdd 0 299px,#cbf 0 301px,#dce 0 303px,#fde 0 307px,#dce 0 309px,#ccf 0 313px,#dbd 0 316px,#ddf 0 318px,#dac 0 322px,#ebc 0 324px,#fcc 0 326px,#eef 0 328px,#ede 0 330px,#ccf 0 336px,#cbf 0 340px,#aaf 0 342px,#ece 0 345px,#ecd 0 347px,#ede 0 351px,#dde 0 355px,#ecd 0 359px,#eee 0 362px,#ccf 0 364px,#cbd 0 368px,#ddf 0 370px,#fee 0 373px,#a8d 0 376px,#bbf 0 378px,#dbd 0 382px,#edd 0 385px,#fff 0 387px,#ccf 0 391px,#eef 0 393px,#cbe 0 396px,#fde 0 399px,#dbd 0 401px,#ddf 0 404px,#dcf 0 407px,#baf 0 411px,#ede 0 414px,#ccf 0 416px,#ddf 0 419px,#bbf 0 422px,#aaf 0 424px,#f77 0 425px,#fff 0 430px,#fee 0 434px,#fff 0 442px,#f88 0 444px,#faa 0 449px,#fdd 0 451px,#fbb 0 454px,#fdd 0 456px,#f77 0 463px,#fcc 0 465px,#fcd 0 468px,#fbb 0 472px,#f99 0 480px,#f66 0 484px,#f99 0 487px,#f44 0 489px,#f99 0 491px,#f77 0 495px,#fbb 0 499px,#f88 0 503px,#e88 0 505px,#fff 0 510px,#eaa 0 513px,#bbf 0 516px,#f99 0 518px,#fdd 0 521px,#faa 0 524px,#f88 0 527px,#edf 0 529px,#ecc 0 533px,#f99 0 536px,#f88 0 538px,#ecd 0 542px,#dcf 0 545px,#faa 0 548px,#ede 0 551px,#ebc 0 555px,#ecd 0 558px,#eef 0 560px,#fcc 0 563px,#fbb 0 565px,#fcc 0 567px,#fef 0 570px,#cbe 0 574px,#fdd 0 576px,#fee 0 578px,#fff 0 579px,#fff 0 583px,#fbb 0 586px)"></div>
<div class="a" style="left:0;width:587px;top:27.84px;height:14.32px;background:linear-gradient(90deg,#ddf 0 2px,#fde 0 5px,#ede 0 9px,#fde 0 12px,#ecd 0 15px,#ede 0 22px,#fbb 0 25px,#ecd 0 29px,#fff 0 31px,#aaf 0 34px,#edd 0 37px,#ebc 0 39px,#bbf 0 41px,#edd 0 45px,#b9d 0 48px,#dbd 0 51px,#eab 0 55px,#ecd 0 58px,#ddf 0 61px,#bbf 0 65px,#baf 0 67px,#ddf 0 69px,#fbb 0 72px,#dde 0 74px,#cbf 0 77px,#e9a 0 80px,#dce 0 83px,#bbf 0 85px,#ddf 0 89px,#ccf 0 95px,#fee 0 97px,#ecd 0 99px,#ede 0 102px,#a9e 0 106px,#bbf 0 109px,#dce 0 112px,#dcd 0 116px,#ccf 0 119px,#baf 0 123px,#dbd 0 125px,#dce 0 129px,#cbf 0 132px,#ede 0 135px,#cbe 0 139px,#dbd 0 143px,#eef 0 146px,#ccf 0 148px,#bbf 0 152px,#fdd 0 154px,#f99 0 156px,#dde 0 158px,#ebb 0 160px,#dbe 0 164px,#cbf 0 166px,#ddf 0 170px,#88e 0 172px,#fef 0 174px,#fee 0 177px,#cbe 0 181px,#bbf 0 182px,#fff 0 186px,#fdd 0 192px,#dce 0 196px,#fee 0 198px,#f66 0 202px,#faa 0 208px,#cce 0 212px,#fff 0 214px,#f66 0 217px,#fff 0 219px,#ddf 0 222px,#fff 0 224px,#fcd 0 227px,#dce 0 230px,#ebb 0 232px,#faa 0 235px,#edd 0 239px,#f99 0 242px,#ccf 0 244px,#f99 0 248px,#fcc 0 253px,#edf 0 255px,#c79 0 257px,#dab 0 259px,#fef 0 261px,#fdd 0 263px,#ddf 0 267px,#ede 0 269px,#ddf 0 277px,#ecd 0 279px,#d8a 0 281px,#eef 0 285px,#eaa 0 289px,#f9a 0 293px,#fee 0 295px,#edf 0 299px,#a9e 0 301px,#eef 0 303px,#cbf 0 307px,#ccf 0 309px,#ecd 0 313px,#bbf 0 318px,#ede 0 322px,#fcc 0 324px,#ccf 0 326px,#cbf 0 328px,#ece 0 330px,#99e 0 332px,#88e 0 334px,#ede 0 336px,#ccf 0 340px,#dcf 0 342px,#dbe 0 345px,#fdd 0 347px,#ddf 0 355px,#bbe 0 359px,#fdd 0 362px,#cbe 0 364px,#dad 0 368px,#fde 0 370px,#dcf 0 376px,#dcd 0 378px,#eef 0 382px,#fdd 0 385px,#dcd 0 387px,#ddf 0 391px,#cbe 0 393px,#ede 0 396px,#ecd 0 399px,#cbf 0 401px,#98e 0 404px,#ede 0 407px,#bbf 0 411px,#ccf 0 414px,#cad 0 416px,#ccf 0 419px,#eef 0 422px,#dbd 0 424px,#ccf 0 425px,#fff 0 430px,#fee 0 434px,#fff 0 442px,#fee 0 444px,#dcd 0 446px,#cce 0 449px,#eef 0 451px,#dce 0 454px,#faa 0 456px,#f99 0 459px,#fbc 0 463px,#cbd 0 465px,#fee 0 468px,#f99 0 472px,#fbb 0 480px,#ebb 0 484px,#faa 0 487px,#fbb 0 489px,#f99 0 491px,#fcc 0 495px,#ecd 0 499px,#faa 0 503px,#f77 0 505px,#fff 0 510px,#fcc 0 513px,#fbb 0 516px,#f66 0 518px,#fbb 0 524px,#f99 0 527px,#e9a 0 529px,#f88 0 533px,#f66 0 536px,#f55 0 538px,#ecd 0 542px,#ece 0 545px,#f99 0 548px,#f66 0 551px,#f99 0 555px,#faa 0 558px,#fbb 0 560px,#f99 0 563px,#ecd 0 565px,#f33 0 567px,#faa 0 570px,#ede 0 574px,#faa 0 576px,#ecd 0 578px,#f88 0 579px,#fff 0 583px,#fbb 0 586px)"></div>
<div class="a" style="left:0;width:587px;top:41.75px;height:14.32px;background:linear-gradient(90deg,#ddf 0 2px,#fdd 0 5px,#dcd 0 9px,#eab 0 12px,#fcc 0 15px,#fee 0 18px,#eab 0 22px,#cad 0 25px,#f88 0 29px,#fcc 0 31px,#ede 0 34px,#ddf 0 37px,#eee 0 39px,#dce 0 41px,#eef 0 45px,#cbe 0 48px,#fde 0 51px,#f99 0 55px,#faa 0 58px,#cbf 0 61px,#ede 0 65px,#ecd 0 67px,#faa 0 69px,#f99 0 72px,#ede 0 74px,#dcf 0 77px,#fef 0 80px,#ccf 0 83px,#fdd 0 85px,#ecd 0 89px,#ebd 0 93px,#bbf 0 95px,#ddf 0 97px,#fee 0 99px,#dce 0 102px,#bbf 0 106px,#ecd 0 109px,#ccf 0 112px,#cbd 0 116px,#ccf 0 119px,#ddf 0 125px,#bbf 0 129px,#ecd 0 132px,#edf 0 135px,#ccf 0 139px,#dbd 0 143px,#eef 0 146px,#ccf 0 148px,#edf 0 152px,#baf 0 154px,#eef 0 158px,#fcc 0 160px,#ddf 0 164px,#99e 0 166px,#a9e 0 170px,#99e 0 172px,#fee 0 174px,#ccf 0 177px,#bbf 0 181px,#99e 0 182px,#fff 0 186px,#ddf 0 188px,#ecd 0 192px,#ede 0 196px,#dde 0 198px,#f99 0 202px,#ddf 0 204px,#fcc 0 208px,#ddf 0 212px,#cce 0 214px,#f66 0 217px,#dac 0 219px,#fdd 0 222px,#ede 0 224px,#fab 0 227px,#ede 0 230px,#fee 0 232px,#faa 0 235px,#ebc 0 239px,#fcc 0 242px,#baf 0 244px,#ede 0 248px,#eee 0 251px,#eef 0 253px,#dce 0 255px,#cbf 0 257px,#edf 0 259px,#ddf 0 261px,#bbf 0 263px,#eab 0 267px,#dad 0 269px,#cce 0 273px,#ddf 0 277px,#ede 0 279px,#eef 0 281px,#ede 0 285px,#dce 0 289px,#fdd 0 293px,#fcc 0 295px,#cbe 0 299px,#eef 0 301px,#edf 0 303px,#cbf 0 307px,#ddf 0 309px,#dce 0 313px,#edf 0 316px,#fbb 0 318px,#dbd 0 322px,#dcf 0 324px,#fee 0 326px,#bbf 0 328px,#ddf 0 332px,#aaf 0 334px,#ccf 0 336px,#bbf 0 342px,#fcc 0 345px,#ebc 0 347px,#fbb 0 351px,#dce 0 355px,#cbe 0 359px,#dce 0 362px,#fef 0 364px,#ddf 0 368px,#fbc 0 370px,#edd 0 373px,#fcd 0 376px,#eef 0 378px,#ecd 0 382px,#eee 0 385px,#ddf 0 387px,#fee 0 391px,#ede 0 393px,#dcf 0 396px,#d8a 0 399px,#dce 0 401px,#bbf 0 404px,#cac 0 407px,#cbf 0 411px,#ddf 0 419px,#bbf 0 422px,#eef 0 424px,#faa 0 425px,#fff 0 434px,#fff 0 442px,#fbb 0 444px,#fdd 0 446px,#b9d 0 449px,#f99 0 451px,#ecd 0 456px,#eab 0 459px,#dac 0 463px,#eef 0 465px,#fdd 0 468px,#fbb 0 472px,#e9a 0 476px,#f77 0 480px,#f99 0 484px,#f77 0 487px,#fcc 0 489px,#ecd 0 491px,#fbb 0 495px,#eac 0 499px,#f88 0 503px,#fbb 0 505px,#fff 0 510px,#f99 0 513px,#fdd 0 516px,#faa 0 518px,#fcc 0 521px,#f88 0 524px,#f77 0 527px,#ecc 0 529px,#f55 0 533px,#faa 0 536px,#f77 0 538px,#f99 0 542px,#fdd 0 545px,#f33 0 548px,#fdd 0 551px,#f99 0 558px,#fcc 0 560px,#f99 0 563px,#fdd 0 565px,#f55 0 567px,#f88 0 570px,#eee 0 574px,#faa 0 576px,#fbb 0 578px,#faa 0 579px,#fff 0 583px,#f99 0 586px)"></div>
<div class="a" style="left:0;width:587px;top:55.67px;height:14.32px;background:linear-gradient(90deg,#dce 0 2px,#ecd 0 5px,#ede 0 9px,#fab 0 12px,#fbb 0 15px,#ebc 0 18px,#fdd 0 22px,#ecd 0 25px,#faa 0 29px,#dac 0 31px,#ede 0 34px,#cce 0 37px,#fee 0 39px,#cbe 0 41px,#ddf 0 45px,#fee 0 48px,#fcc 0 51px,#fee 0 55px,#ede 0 58px,#eef 0 61px,#e78 0 63px,#fbb 0 65px,#fde 0 67px,#fcc 0 69px,#e89 0 72px,#ede 0 74px,#dac 0 77px,#ece 0 80px,#ddf 0 83px,#fdd 0 89px,#ede 0 93px,#dde 0 95px,#ddf 0 97px,#ccf 0 99px,#dcd 0 102px,#a9e 0 106px,#baf 0 109px,#dde 0 112px,#ecc 0 116px,#dce 0 119px,#ccf 0 123px,#eef 0 125px,#bbe 0 129px,#ddf 0 132px,#dce 0 135px,#bbf 0 139px,#fcc 0 143px,#ddf 0 146px,#bbf 0 148px,#99e 0 152px,#fee 0 154px,#cae 0 156px,#ddf 0 158px,#fdd 0 160px,#ecd 0 164px,#eef 0 166px,#a9e 0 170px,#99e 0 172px,#fbb 0 174px,#fde 0 177px,#aaf 0 181px,#87e 0 182px,#fff 0 186px,#fbb 0 192px,#dbd 0 196px,#baf 0 198px,#f77 0 202px,#ede 0 204px,#ecd 0 208px,#dbd 0 212px,#baf 0 214px,#fcc 0 217px,#fbb 0 219px,#ecd 0 224px,#ede 0 227px,#ebb 0 230px,#fee 0 232px,#faa 0 235px,#fbb 0 239px,#ecd 0 242px,#ccf 0 244px,#fbc 0 248px,#fdd 0 251px,#ccf 0 253px,#ddf 0 255px,#eef 0 259px,#dac 0 261px,#fbb 0 263px,#ecd 0 267px,#f88 0 269px,#cbe 0 273px,#bae 0 277px,#fef 0 279px,#eee 0 281px,#ddf 0 285px,#ecd 0 289px,#fcd 0 293px,#dcd 0 295px,#ddf 0 299px,#ccf 0 301px,#ede 0 303px,#ecd 0 307px,#ede 0 309px,#dcf 0 313px,#cad 0 316px,#ccf 0 318px,#dbd 0 322px,#fee 0 324px,#fff 0 326px,#dcf 0 328px,#edf 0 330px,#ccf 0 332px,#a9e 0 334px,#bbf 0 336px,#ddf 0 340px,#fee 0 342px,#ddf 0 345px,#eef 0 347px,#ddf 0 351px,#ede 0 355px,#ccf 0 359px,#dde 0 362px,#fdd 0 364px,#dbd 0 368px,#aaf 0 370px,#fee 0 373px,#ede 0 376px,#bbf 0 378px,#ddf 0 382px,#fbb 0 385px,#ecd 0 387px,#cac 0 391px,#dcf 0 393px,#dbd 0 396px,#ece 0 399px,#fee 0 401px,#ccf 0 404px,#eee 0 407px,#dce 0 411px,#aaf 0 414px,#cbf 0 416px,#baf 0 422px,#ccf 0 424px,#fee 0 425px,#fff 0 430px,#fee 0 434px,#fff 0 442px,#f99 0 444px,#fbb 0 446px,#dbd 0 449px,#f99 0 451px,#eef 0 454px,#f99 0 456px,#edd 0 459px,#fbb 0 463px,#aaf 0 465px,#fdd 0 468px,#fcc 0 472px,#faa 0 476px,#f88 0 484px,#faa 0 487px,#f88 0 489px,#dce 0 491px,#fef 0 495px,#faa 0 499px,#f88 0 503px,#faa 0 505px,#fff 0 510px,#fee 0 513px,#ddf 0 516px,#faa 0 518px,#fcd 0 521px,#f66 0 524px,#f99 0 527px,#fbb 0 529px,#faa 0 533px,#f66 0 536px,#faa 0 538px,#fbb 0 542px,#eab 0 545px,#eaa 0 548px,#f99 0 551px,#f9a 0 555px,#fbb 0 558px,#ebd 0 560px,#e67 0 563px,#fee 0 565px,#e9a 0 567px,#ecd 0 574px,#f99 0 576px,#fdd 0 578px,#ddf 0 579px,#fff 0 583px,#fcc 0 586px)"></div>
<div class="a" style="left:0;width:587px;top:69.59px;height:14.32px;background:linear-gradient(90deg,#ddf 0 2px,#ecc 0 5px,#dce 0 9px,#f99 0 12px,#ebc 0 15px,#ccf 0 18px,#ede 0 22px,#ccf 0 25px,#e9a 0 29px,#ede 0 31px,#dbd 0 34px,#ede 0 37px,#fbb 0 39px,#eef 0 41px,#dcf 0 45px,#ede 0 51px,#fcc 0 55px,#fde 0 58px,#aaf 0 63px,#eef 0 65px,#dcf 0 67px,#ede 0 69px,#ecc 0 72px,#aaf 0 74px,#eef 0 77px,#fdd 0 80px,#ddf 0 83px,#fdd 0 85px,#fbc 0 89px,#eef 0 93px,#ddf 0 95px,#ebc 0 97px,#faa 0 99px,#ecd 0 102px,#ddf 0 106px,#fee 0 109px,#fbb 0 112px,#ebc 0 116px,#ecd 0 119px,#dbd 0 123px,#f66 0 125px,#bbf 0 129px,#eee 0 132px,#faa 0 135px,#eef 0 139px,#e9a 0 143px,#f66 0 146px,#edd 0 148px,#fbb 0 152px,#dcf 0 154px,#fee 0 156px,#dce 0 158px,#fbb 0 164px,#edf 0 166px,#ccf 0 170px,#bbf 0 172px,#fcc 0 174px,#eef 0 177px,#ebd 0 181px,#aaf 0 182px,#fff 0 186px,#ede 0 188px,#ccf 0 192px,#cbf 0 196px,#98e 0 198px,#fdd 0 202px,#ede 0 208px,#bbf 0 212px,#cbf 0 214px,#ede 0 217px,#dde 0 219px,#ede 0 222px,#fcd 0 224px,#ddf 0 227px,#bae 0 230px,#bbf 0 232px,#ece 0 235px,#dce 0 239px,#fee 0 242px,#bbf 0 244px,#ddf 0 248px,#f88 0 251px,#eef 0 253px,#aaf 0 255px,#ede 0 257px,#ddf 0 261px,#fff 0 263px,#a9e 0 267px,#dcf 0 269px,#cbd 0 273px,#99e 0 277px,#aaf 0 279px,#eef 0 281px,#bbf 0 285px,#bbe 0 289px,#ecc 0 293px,#ede 0 295px,#eef 0 299px,#ddf 0 303px,#ccf 0 307px,#eef 0 309px,#ecd 0 313px,#dce 0 316px,#ccf 0 318px,#ece 0 322px,#fee 0 324px,#dad 0 326px,#dac 0 328px,#dce 0 330px,#cbf 0 332px,#baf 0 334px,#ccf 0 336px,#dcd 0 340px,#dce 0 342px,#cbf 0 345px,#d8b 0 347px,#dce 0 351px,#ede 0 355px,#ccf 0 359px,#eee 0 362px,#dbc 0 364px,#ecd 0 368px,#bbf 0 370px,#cbd 0 373px,#e9a 0 376px,#ccf 0 378px,#ecd 0 382px,#fbb 0 385px,#ccf 0 387px,#eef 0 391px,#dbd 0 393px,#dcd 0 396px,#ede 0 399px,#dac 0 401px,#dce 0 404px,#dac 0 407px,#eef 0 411px,#dcf 0 414px,#eef 0 416px,#88e 0 419px,#ccf 0 422px,#a9e 0 424px,#fee 0 425px,#fff 0 430px,#eef 0 434px,#fff 0 442px,#f88 0 444px,#fff 0 446px,#fbb 0 449px,#ede 0 451px,#f99 0 456px,#fcc 0 459px,#fbc 0 463px,#faa 0 465px,#eab 0 468px,#fbb 0 472px,#f99 0 476px,#f33 0 480px,#f88 0 487px,#f66 0 489px,#fbb 0 491px,#f88 0 495px,#ecd 0 499px,#faa 0 503px,#fcc 0 505px,#fff 0 510px,#eab 0 513px,#cbf 0 516px,#fbb 0 518px,#fdd 0 521px,#ecc 0 524px,#f77 0 527px,#ecc 0 529px,#dde 0 533px,#fcc 0 536px,#f77 0 538px,#fcc 0 545px,#ebb 0 548px,#ecd 0 551px,#f77 0 555px,#fbb 0 558px,#ecd 0 560px,#e99 0 563px,#dbd 0 565px,#fbb 0 567px,#faa 0 570px,#ddf 0 574px,#fcc 0 576px,#dac 0 578px,#f44 0 579px,#fff 0 583px,#faa 0 586px)"></div>
<div class="a" style="left:0;width:587px;top:83.51px;height:14.32px;background:linear-gradient(90deg,#ddf 0 2px,#ebc 0 5px,#ddf 0 9px,#fcc 0 12px,#fee 0 15px,#ecd 0 18px,#dce 0 22px,#ddf 0 25px,#ecd 0 29px,#fbb 0 31px,#eef 0 34px,#fdd 0 37px,#ccf 0 39px,#ecd 0 41px,#ede 0 45px,#eee 0 48px,#eef 0 51px,#fcc 0 55px,#ecc 0 58px,#ddf 0 61px,#fbb 0 63px,#fef 0 65px,#edf 0 67px,#faa 0 69px,#fbb 0 72px,#eaa 0 74px,#bbf 0 80px,#ede 0 83px,#fdd 0 85px,#ecd 0 89px,#ece 0 93px,#ede 0 95px,#eef 0 97px,#c9c 0 99px,#ebc 0 102px,#bbf 0 106px,#ede 0 109px,#cad 0 112px,#ede 0 119px,#cce 0 123px,#fcc 0 125px,#ddf 0 129px,#dcf 0 132px,#dcd 0 135px,#ccf 0 139px,#dde 0 143px,#fcc 0 146px,#ebc 0 148px,#eee 0 152px,#ddf 0 154px,#fdd 0 156px,#ccf 0 158px,#f55 0 160px,#ede 0 164px,#d8a 0 166px,#ddf 0 170px,#87e 0 172px,#fbb 0 174px,#eee 0 177px,#99e 0 181px,#ddf 0 182px,#fff 0 186px,#fbb 0 188px,#fcc 0 192px,#bbf 0 196px,#ede 0 198px,#f99 0 202px,#fdd 0 204px,#ebc 0 208px,#dce 0 212px,#cbf 0 214px,#fbc 0 217px,#cbe 0 219px,#eef 0 222px,#fbb 0 224px,#ede 0 227px,#eef 0 230px,#fbb 0 232px,#eab 0 235px,#dce 0 239px,#ede 0 242px,#ddf 0 244px,#eab 0 248px,#c9b 0 251px,#dce 0 253px,#ddf 0 255px,#bbf 0 257px,#b8c 0 259px,#ddf 0 261px,#bbf 0 263px,#cad 0 267px,#fdd 0 269px,#dcd 0 273px,#eef 0 277px,#ddf 0 279px,#edf 0 281px,#dbd 0 285px,#ecd 0 289px,#fbb 0 293px,#eef 0 295px,#cad 0 299px,#bbf 0 301px,#ddf 0 303px,#cbe 0 307px,#ede 0 309px,#cbe 0 313px,#bad 0 316px,#dbd 0 318px,#dcd 0 322px,#ddf 0 324px,#ecd 0 326px,#fdd 0 328px,#baf 0 330px,#98e 0 332px,#65e 0 334px,#fee 0 336px,#cbf 0 340px,#d9b 0 342px,#ccf 0 345px,#aaf 0 347px,#ddf 0 351px,#ede 0 355px,#cce 0 359px,#ede 0 362px,#ccf 0 364px,#cbe 0 368px,#eef 0 370px,#dcf 0 373px,#dbe 0 376px,#cbe 0 378px,#bbf 0 382px,#ddf 0 387px,#dce 0 391px,#ddf 0 393px,#dac 0 396px,#ebc 0 399px,#ede 0 401px,#baf 0 404px,#99e 0 407px,#ccf 0 411px,#bbf 0 414px,#dac 0 416px,#baf 0 419px,#cce 0 422px,#cbe 0 424px,#fbb 0 425px,#fff 0 430px,#fdd 0 434px,#fff 0 442px,#dbc 0 444px,#f99 0 446px,#fcc 0 449px,#f77 0 451px,#fbb 0 454px,#f99 0 456px,#e99 0 459px,#f88 0 463px,#eef 0 465px,#faa 0 468px,#f99 0 472px,#f77 0 476px,#e9a 0 480px,#f99 0 484px,#f88 0 487px,#f66 0 489px,#ecd 0 491px,#faa 0 495px,#eef 0 499px,#f77 0 503px,#fbb 0 505px,#fff 0 510px,#faa 0 513px,#aaf 0 516px,#dbe 0 518px,#eee 0 521px,#fcc 0 524px,#f88 0 527px,#eef 0 529px,#f99 0 533px,#f66 0 536px,#f88 0 538px,#fbb 0 542px,#fee 0 545px,#f77 0 548px,#fbb 0 551px,#faa 0 555px,#eab 0 558px,#ddf 0 560px,#ebb 0 563px,#f99 0 565px,#f77 0 567px,#edd 0 574px,#e9a 0 576px,#fcc 0 578px,#f33 0 579px,#fff 0 583px,#f88 0 586px)"></div>
<div class="a" style="left:0;width:587px;top:97.43px;height:14.32px;background:linear-gradient(90deg,#baf 0 2px,#ddf 0 5px,#dcf 0 9px,#ecd 0 12px,#ddf 0 15px,#dce 0 18px,#aaf 0 22px,#ddf 0 25px,#ede 0 29px,#ebb 0 31px,#bbf 0 34px,#dad 0 37px,#ccf 0 39px,#99e 0 41px,#dde 0 45px,#ccf 0 48px,#eef 0 51px,#ecc 0 55px,#edd 0 58px,#a9e 0 61px,#eef 0 63px,#aaf 0 65px,#dbd 0 67px,#cae 0 69px,#eab 0 72px,#dcf 0 74px,#99e 0 77px,#ccf 0 80px,#eee 0 83px,#e9b 0 85px,#ede 0 89px,#eef 0 93px,#ddf 0 95px,#fdd 0 97px,#ede 0 99px,#dcf 0 102px,#dce 0 106px,#bbf 0 109px,#cbe 0 112px,#fcc 0 116px,#ede 0 119px,#edd 0 123px,#dac 0 125px,#edf 0 129px,#ede 0 132px,#ecd 0 135px,#edf 0 139px,#edd 0 143px,#eef 0 146px,#ccf 0 148px,#edf 0 152px,#dbd 0 154px,#cad 0 156px,#ccf 0 158px,#ecd 0 160px,#ede 0 164px,#ddf 0 166px,#dcd 0 170px,#77e 0 172px,#fcc 0 174px,#ddf 0 177px,#ecd 0 181px,#ddf 0 182px,#fff 0 186px,#fbb 0 188px,#faa 0 192px,#eef 0 196px,#bae 0 198px,#f88 0 202px,#fbb 0 204px,#edf 0 208px,#99e 0 212px,#fff 0 214px,#fef 0 217px,#ddf 0 219px,#ecd 0 222px,#bbf 0 224px,#eef 0 227px,#ecd 0 230px,#fee 0 232px,#fcc 0 235px,#eee 0 239px,#f99 0 242px,#ddf 0 244px,#edd 0 248px,#ece 0 251px,#a9e 0 253px,#aaf 0 255px,#fee 0 257px,#98e 0 259px,#cbf 0 261px,#ccf 0 263px,#ede 0 267px,#edf 0 269px,#aaf 0 273px,#baf 0 277px,#fdd 0 279px,#ede 0 281px,#dce 0 285px,#dde 0 289px,#dce 0 293px,#fcc 0 295px,#ece 0 299px,#cce 0 301px,#faa 0 303px,#eef 0 307px,#ddf 0 309px,#ede 0 313px,#baf 0 316px,#dbd 0 318px,#ecd 0 322px,#ddf 0 324px,#fbb 0 326px,#ecc 0 328px,#eef 0 330px,#cbf 0 332px,#aaf 0 334px,#fff 0 336px,#ede 0 340px,#dde 0 342px,#ede 0 345px,#faa 0 347px,#ecd 0 351px,#fdd 0 355px,#cbf 0 359px,#dcf 0 362px,#fff 0 364px,#e9b 0 368px,#edf 0 370px,#eaa 0 373px,#dcd 0 376px,#ecd 0 378px,#ede 0 382px,#e78 0 385px,#ecd 0 387px,#ebc 0 391px,#fdd 0 393px,#fcc 0 396px,#ddf 0 399px,#fcc 0 401px,#eef 0 404px,#fdd 0 407px,#bbe 0 411px,#bbf 0 414px,#f99 0 416px,#dde 0 419px,#bbf 0 422px,#ccf 0 424px,#fbb 0 425px,#fff 0 430px,#fee 0 434px,#fff 0 442px,#f77 0 444px,#fcc 0 446px,#fee 0 449px,#f99 0 451px,#fbb 0 454px,#faa 0 456px,#e78 0 459px,#fbb 0 463px,#d8a 0 465px,#eab 0 468px,#faa 0 472px,#f88 0 476px,#f99 0 484px,#f77 0 489px,#fdd 0 491px,#fcc 0 495px,#ede 0 499px,#faa 0 503px,#ebb 0 505px,#fff 0 510px,#f99 0 513px,#ede 0 516px,#faa 0 518px,#fbb 0 521px,#f88 0 524px,#f99 0 527px,#d9b 0 529px,#faa 0 533px,#fbb 0 536px,#ecd 0 545px,#f99 0 548px,#fdd 0 551px,#fcc 0 555px,#f88 0 558px,#e9a 0 560px,#f88 0 563px,#faa 0 567px,#fdd 0 570px,#ecc 0 576px,#fcc 0 578px,#faa 0 579px,#fff 0 583px,#f77 0 586px)"></div>
<div class="a" style="left:0;width:587px;top:111.34px;height:14.32px;background:linear-gradient(90deg,#bbf 0 2px,#fef 0 5px,#ddf 0 9px,#ede 0 12px,#ddf 0 15px,#fef 0 18px,#dde 0 22px,#ccf 0 25px,#eab 0 31px,#dbd 0 34px,#ddf 0 37px,#ccf 0 39px,#baf 0 45px,#ebd 0 48px,#ede 0 51px,#fbc 0 55px,#ede 0 58px,#dbd 0 61px,#edf 0 63px,#aaf 0 65px,#cbf 0 67px,#fdd 0 69px,#fbb 0 72px,#eef 0 74px,#baf 0 77px,#ccf 0 83px,#dac 0 85px,#dcf 0 89px,#bbf 0 93px,#fcc 0 95px,#eaa 0 97px,#fdd 0 99px,#ebc 0 102px,#dce 0 106px,#fee 0 109px,#dac 0 112px,#ede 0 116px,#fee 0 119px,#dcd 0 123px,#ecd 0 125px,#dcf 0 129px,#d9b 0 132px,#f99 0 135px,#ecd 0 139px,#eef 0 143px,#faa 0 146px,#fff 0 154px,#eee 0 156px,#cbe 0 158px,#fbb 0 160px,#edf 0 164px,#98e 0 166px,#ecd 0 170px,#a9e 0 172px,#faa 0 174px,#ecd 0 177px,#ccf 0 181px,#eef 0 182px,#fff 0 186px,#dce 0 188px,#ece 0 192px,#dbd 0 196px,#ccf 0 198px,#faa 0 202px,#fef 0 204px,#fcc 0 208px,#ccf 0 212px,#baf 0 214px,#fdd 0 217px,#ede 0 219px,#ddf 0 222px,#fdd 0 227px,#ddf 0 230px,#ecd 0 232px,#ede 0 235px,#fcc 0 239px,#ddf 0 242px,#bbf 0 244px,#ece 0 248px,#ebd 0 251px,#edf 0 253px,#bbf 0 255px,#eef 0 257px,#a9e 0 259px,#dcf 0 261px,#a9e 0 263px,#eee 0 267px,#dbc 0 269px,#bae 0 277px,#fee 0 279px,#dcf 0 281px,#ddf 0 285px,#eef 0 289px,#fdd 0 293px,#eef 0 295px,#dcd 0 299px,#ddf 0 301px,#ccf 0 303px,#ece 0 307px,#ddf 0 309px,#ebc 0 313px,#ede 0 316px,#baf 0 318px,#faa 0 322px,#f99 0 324px,#ddf 0 326px,#fbb 0 328px,#fdd 0 330px,#cad 0 332px,#aaf 0 334px,#bbf 0 336px,#ede 0 342px,#fdd 0 347px,#fbb 0 351px,#ecd 0 355px,#bae 0 359px,#eab 0 362px,#eef 0 364px,#dce 0 368px,#ecc 0 370px,#fab 0 373px,#dbd 0 376px,#fbb 0 378px,#fdd 0 382px,#fbb 0 385px,#fee 0 387px,#ebc 0 391px,#fdd 0 393px,#dbc 0 396px,#edd 0 399px,#fdd 0 401px,#ede 0 404px,#ecd 0 407px,#ede 0 414px,#ecd 0 416px,#bbf 0 419px,#cce 0 422px,#bbf 0 424px,#faa 0 425px,#fff 0 430px,#fde 0 434px,#fff 0 442px,#fdd 0 444px,#fbb 0 446px,#dce 0 449px,#fff 0 451px,#fdd 0 454px,#eee 0 456px,#e89 0 459px,#fcc 0 463px,#dbd 0 465px,#ede 0 468px,#fee 0 472px,#f88 0 476px,#faa 0 484px,#f77 0 487px,#f99 0 489px,#eee 0 491px,#fcd 0 495px,#ede 0 499px,#fbb 0 503px,#fcd 0 505px,#fff 0 510px,#fcc 0 513px,#dce 0 516px,#fcc 0 518px,#ecd 0 521px,#fcd 0 524px,#f88 0 529px,#fdd 0 533px,#f77 0 536px,#fbb 0 538px,#fcc 0 542px,#dac 0 545px,#f88 0 548px,#f99 0 555px,#fcc 0 558px,#faa 0 560px,#ede 0 563px,#dac 0 565px,#faa 0 567px,#fcc 0 576px,#faa 0 578px,#fcc 0 579px,#fff 0 583px,#fde 0 586px)"></div>
<div class="a" style="left:0;width:587px;top:125.26px;height:14.32px;background:linear-gradient(90deg,#bbf 0 2px,#ede 0 5px,#ccf 0 9px,#dce 0 12px,#ddf 0 18px,#dce 0 22px,#ccf 0 25px,#eee 0 29px,#ede 0 31px,#aaf 0 34px,#cbe 0 37px,#dbc 0 39px,#baf 0 41px,#dbd 0 45px,#ddf 0 48px,#ecd 0 51px,#fcd 0 55px,#ecc 0 58px,#ccf 0 61px,#ede 0 63px,#eef 0 65px,#aaf 0 67px,#dab 0 69px,#eee 0 72px,#ede 0 74px,#cbf 0 77px,#ccf 0 80px,#ddf 0 83px,#ede 0 89px,#cbf 0 93px,#fdd 0 95px,#ddf 0 97px,#eef 0 99px,#ede 0 102px,#dce 0 106px,#ccf 0 109px,#ddf 0 112px,#fcc 0 116px,#cbf 0 119px,#cbe 0 123px,#fcc 0 125px,#dce 0 129px,#ede 0 132px,#e89 0 135px,#dcf 0 139px,#ede 0 143px,#fdd 0 146px,#fcc 0 148px,#cce 0 152px,#dbd 0 154px,#ecd 0 156px,#bbf 0 158px,#fcc 0 160px,#dac 0 164px,#aaf 0 166px,#ede 0 170px,#aaf 0 172px,#eee 0 174px,#ecd 0 177px,#ddf 0 182px,#fff 0 186px,#dbd 0 188px,#edd 0 192px,#cbf 0 196px,#fdd 0 198px,#eaa 0 202px,#ede 0 204px,#fef 0 208px,#ede 0 212px,#87e 0 214px,#dce 0 217px,#98e 0 219px,#fcc 0 222px,#ddf 0 224px,#eab 0 227px,#fde 0 230px,#ccf 0 232px,#fcc 0 235px,#dce 0 239px,#f99 0 242px,#fee 0 244px,#dce 0 248px,#fdd 0 251px,#ede 0 253px,#aaf 0 255px,#c8b 0 257px,#bbe 0 259px,#99e 0 261px,#bbf 0 263px,#ccf 0 267px,#fdd 0 269px,#edf 0 273px,#98e 0 277px,#fff 0 279px,#a9e 0 281px,#dcf 0 285px,#fee 0 289px,#eab 0 293px,#faa 0 295px,#ddf 0 299px,#bbf 0 301px,#fcc 0 303px,#dce 0 307px,#ede 0 309px,#ecd 0 313px,#edd 0 316px,#edf 0 318px,#dce 0 322px,#faa 0 324px,#eab 0 326px,#f88 0 328px,#ede 0 332px,#bbf 0 334px,#ece 0 336px,#edf 0 340px,#fcc 0 342px,#edd 0 345px,#f88 0 347px,#fcc 0 351px,#dce 0 355px,#ddf 0 359px,#ecc 0 362px,#dcd 0 364px,#eee 0 368px,#eef 0 370px,#f77 0 373px,#faa 0 378px,#dbd 0 382px,#f99 0 385px,#ecd 0 387px,#fee 0 391px,#eac 0 393px,#fbb 0 396px,#dde 0 399px,#fcc 0 401px,#dbd 0 404px,#ede 0 407px,#dcf 0 411px,#ddf 0 414px,#fbb 0 416px,#ddf 0 419px,#ebc 0 422px,#eef 0 424px,#fff 0 425px,#fff 0 430px,#fee 0 434px,#fff 0 442px,#dcd 0 444px,#ede 0 446px,#ccf 0 449px,#ddf 0 451px,#dce 0 454px,#faa 0 456px,#eab 0 459px,#fdd 0 463px,#fef 0 465px,#f9a 0 468px,#dbd 0 472px,#e9a 0 476px,#fdd 0 484px,#fbb 0 487px,#fcc 0 489px,#fff 0 491px,#ecc 0 495px,#dbd 0 499px,#fab 0 503px,#d68 0 505px,#fff 0 510px,#faa 0 513px,#ddf 0 516px,#f88 0 518px,#fde 0 521px,#faa 0 524px,#f55 0 527px,#ebb 0 529px,#fdd 0 533px,#f66 0 536px,#fbb 0 538px,#fcc 0 545px,#f77 0 548px,#ddf 0 551px,#faa 0 555px,#ede 0 558px,#fcc 0 560px,#ecd 0 563px,#fcc 0 565px,#faa 0 567px,#f99 0 570px,#dce 0 574px,#faa 0 576px,#fbb 0 578px,#fdd 0 579px,#fff 0 583px,#fdd 0 586px)"></div>
<div class="a" style="left:0;width:587px;top:139.18px;height:14.32px;background:linear-gradient(90deg,#ccf 0 5px,#aae 0 9px,#fcd 0 12px,#ede 0 15px,#dcf 0 18px,#bbf 0 22px,#99e 0 25px,#fbc 0 29px,#fdd 0 31px,#cad 0 34px,#bbf 0 39px,#ddf 0 41px,#ccf 0 45px,#cbe 0 48px,#ede 0 51px,#eee 0 55px,#cbd 0 58px,#bbf 0 61px,#eef 0 63px,#baf 0 65px,#ddf 0 69px,#fbb 0 72px,#dbe 0 74px,#ccf 0 77px,#fdd 0 80px,#ddf 0 83px,#dce 0 85px,#dcd 0 89px,#dcf 0 93px,#ecd 0 95px,#fcc 0 97px,#fdd 0 99px,#eef 0 102px,#cbf 0 106px,#bbf 0 109px,#ddf 0 112px,#fee 0 116px,#cce 0 119px,#ccf 0 123px,#eef 0 125px,#aaf 0 129px,#bbf 0 132px,#eef 0 135px,#bbf 0 139px,#dce 0 143px,#fbb 0 146px,#ddf 0 148px,#dcd 0 152px,#eef 0 154px,#ddf 0 156px,#aaf 0 158px,#f88 0 160px,#dce 0 164px,#ece 0 166px,#dce 0 170px,#bbf 0 172px,#eee 0 174px,#bbf 0 181px,#88e 0 182px,#fff 0 186px,#dab 0 188px,#ebc 0 192px,#ddf 0 196px,#eef 0 198px,#f88 0 202px,#dce 0 204px,#fde 0 208px,#cad 0 212px,#baf 0 214px,#eab 0 217px,#ede 0 219px,#fdd 0 222px,#dbd 0 224px,#ccf 0 227px,#dce 0 230px,#ece 0 232px,#faa 0 235px,#fbb 0 239px,#f99 0 242px,#ccf 0 244px,#ebc 0 248px,#eee 0 251px,#dce 0 253px,#eef 0 255px,#eee 0 257px,#dbd 0 259px,#ddf 0 261px,#fff 0 263px,#bbf 0 267px,#ecc 0 269px,#ccf 0 273px,#bae 0 277px,#ccf 0 279px,#faa 0 281px,#cce 0 285px,#cbe 0 289px,#fdd 0 293px,#f88 0 295px,#dcd 0 299px,#cbf 0 301px,#fdd 0 303px,#ede 0 307px,#fbb 0 309px,#dce 0 313px,#fcc 0 316px,#f99 0 318px,#dbd 0 322px,#faa 0 324px,#fee 0 326px,#ecd 0 328px,#f77 0 330px,#fdd 0 332px,#fee 0 334px,#fef 0 336px,#ebc 0 340px,#dbc 0 342px,#ede 0 345px,#f88 0 347px,#edd 0 351px,#ebb 0 355px,#dce 0 359px,#fee 0 362px,#fcc 0 364px,#dab 0 368px,#fcc 0 370px,#ecd 0 373px,#fde 0 376px,#dce 0 378px,#fbc 0 382px,#fcc 0 385px,#fdd 0 387px,#ede 0 391px,#fbc 0 393px,#fcc 0 396px,#ebc 0 399px,#faa 0 401px,#fee 0 404px,#fdd 0 407px,#ddf 0 414px,#ebc 0 416px,#ecc 0 419px,#dde 0 422px,#dcf 0 424px,#fdd 0 425px,#fff 0 434px,#fff 0 442px,#fbb 0 444px,#fdd 0 446px,#eef 0 449px,#fee 0 451px,#fbb 0 454px,#ecd 0 456px,#fef 0 459px,#faa 0 463px,#cbd 0 465px,#ebc 0 468px,#fdd 0 472px,#fbb 0 476px,#eac 0 480px,#eab 0 484px,#f99 0 487px,#f66 0 489px,#ddf 0 491px,#fcc 0 495px,#fdd 0 499px,#dce 0 503px,#faa 0 505px,#fff 0 510px,#faa 0 513px,#cad 0 516px,#faa 0 518px,#f66 0 521px,#faa 0 527px,#fbb 0 533px,#f99 0 536px,#fee 0 538px,#ecd 0 542px,#fee 0 545px,#f77 0 551px,#faa 0 555px,#fcc 0 558px,#fbb 0 560px,#faa 0 565px,#f66 0 567px,#fbb 0 570px,#ecd 0 574px,#f99 0 576px,#fee 0 578px,#f77 0 579px,#fff 0 583px,#fcc 0 586px)"></div>
<div class="a" style="left:0;width:587px;top:153.10px;height:14.32px;background:linear-gradient(90deg,#dcf 0 2px,#edf 0 5px,#cbf 0 9px,#fee 0 12px,#dac 0 15px,#dde 0 18px,#ccf 0 22px,#dcf 0 25px,#fcc 0 29px,#ecd 0 31px,#ede 0 34px,#bae 0 37px,#ccf 0 39px,#baf 0 41px,#eef 0 45px,#cbf 0 48px,#b9d 0 51px,#fdd 0 55px,#eef 0 58px,#cbf 0 61px,#aaf 0 63px,#65e 0 65px,#bbf 0 67px,#ede 0 69px,#ddf 0 72px,#fff 0 74px,#ccf 0 77px,#dbd 0 80px,#eef 0 83px,#ddf 0 85px,#ede 0 89px,#eef 0 93px,#cce 0 95px,#fbb 0 97px,#ccf 0 99px,#cbd 0 102px,#ddf 0 106px,#dce 0 109px,#ddf 0 112px,#eef 0 116px,#c9c 0 119px,#ccf 0 123px,#ece 0 125px,#dcf 0 129px,#ede 0 132px,#e99 0 135px,#dce 0 139px,#ddf 0 143px,#edd 0 146px,#c9c 0 148px,#cbd 0 152px,#edf 0 154px,#dde 0 156px,#bbf 0 158px,#fee 0 160px,#dbd 0 164px,#aaf 0 166px,#cce 0 170px,#88e 0 172px,#fcc 0 174px,#ecd 0 177px,#edd 0 181px,#ccf 0 182px,#fff 0 186px,#fde 0 188px,#ccf 0 192px,#eef 0 196px,#ddf 0 198px,#fbb 0 202px,#ddf 0 204px,#fcc 0 208px,#bbf 0 212px,#ddf 0 214px,#fbb 0 217px,#eef 0 219px,#ddf 0 224px,#cbe 0 227px,#dbd 0 230px,#fdd 0 232px,#d9b 0 235px,#ede 0 239px,#fbb 0 242px,#eef 0 244px,#ede 0 248px,#dde 0 251px,#ecc 0 253px,#ccf 0 257px,#cbf 0 259px,#cce 0 261px,#b9c 0 263px,#cbf 0 267px,#ecd 0 269px,#bbf 0 277px,#edf 0 279px,#fff 0 281px,#ecd 0 285px,#ede 0 289px,#dbd 0 293px,#ddf 0 295px,#cbd 0 299px,#eef 0 301px,#f77 0 303px,#fcd 0 307px,#dce 0 309px,#dbc 0 313px,#dde 0 316px,#faa 0 318px,#dce 0 322px,#eef 0 324px,#dbc 0 326px,#fcc 0 328px,#fdd 0 330px,#eee 0 332px,#edf 0 334px,#fcd 0 336px,#fde 0 340px,#f99 0 342px,#ede 0 345px,#f99 0 347px,#ebc 0 351px,#edf 0 355px,#ede 0 359px,#eab 0 362px,#ece 0 364px,#dce 0 368px,#fdd 0 373px,#fee 0 376px,#fdd 0 378px,#edf 0 382px,#faa 0 385px,#fff 0 387px,#ecd 0 391px,#ccf 0 393px,#dce 0 396px,#fee 0 399px,#eef 0 401px,#ddf 0 404px,#ccf 0 407px,#dce 0 411px,#edf 0 414px,#fdd 0 416px,#dbe 0 419px,#bad 0 422px,#eee 0 424px,#fee 0 425px,#fff 0 430px,#fef 0 434px,#fff 0 442px,#fdd 0 444px,#dab 0 446px,#fee 0 449px,#dce 0 451px,#fcc 0 454px,#faa 0 459px,#f99 0 463px,#fff 0 465px,#ecc 0 468px,#fcc 0 472px,#f88 0 476px,#faa 0 480px,#f99 0 487px,#f77 0 489px,#dab 0 491px,#fee 0 495px,#ecd 0 499px,#f88 0 503px,#e9a 0 505px,#fff 0 510px,#f99 0 513px,#ccf 0 516px,#eaa 0 518px,#fbb 0 521px,#f44 0 524px,#f66 0 527px,#eef 0 529px,#fbb 0 533px,#f66 0 536px,#f55 0 538px,#ebc 0 542px,#fee 0 545px,#f88 0 548px,#e9a 0 551px,#fcc 0 555px,#eab 0 558px,#ebc 0 560px,#fcd 0 563px,#fcc 0 565px,#f99 0 567px,#fcc 0 570px,#eee 0 574px,#fbb 0 576px,#fdd 0 578px,#fbb 0 579px,#fff 0 583px,#dab 0 586px)"></div>
<div class="a" style="left:0;width:587px;top:167.02px;height:14.32px;background:linear-gradient(90deg,#ebd 0 2px,#fbc 0 5px,#fdd 0 9px,#f77 0 12px,#ede 0 15px,#ecd 0 18px,#ede 0 22px,#c9c 0 25px,#fcc 0 29px,#d9b 0 31px,#ebc 0 34px,#fdd 0 37px,#fcc 0 39px,#ccf 0 41px,#fdd 0 45px,#fbb 0 48px,#eaa 0 51px,#f99 0 55px,#fcc 0 58px,#eef 0 61px,#fdd 0 63px,#eef 0 65px,#ebc 0 67px,#faa 0 69px,#fbb 0 72px,#fff 0 74px,#cce 0 77px,#ede 0 80px,#faa 0 83px,#ccf 0 85px,#fcc 0 89px,#dce 0 93px,#ccf 0 95px,#fbb 0 97px,#dde 0 102px,#bbe 0 106px,#eef 0 109px,#eee 0 112px,#fcc 0 116px,#fde 0 119px,#cad 0 123px,#fff 0 125px,#edf 0 129px,#dbd 0 132px,#e99 0 135px,#cbf 0 139px,#ede 0 143px,#ecc 0 146px,#fff 0 148px,#eee 0 152px,#dce 0 154px,#ecd 0 156px,#ebc 0 158px,#fcc 0 160px,#fdd 0 164px,#dcf 0 166px,#ddf 0 170px,#88e 0 172px,#fee 0 177px,#cce 0 181px,#edf 0 182px,#fff 0 186px,#fbb 0 188px,#ede 0 192px,#cbe 0 196px,#dce 0 198px,#faa 0 202px,#f99 0 204px,#eef 0 208px,#ede 0 212px,#dce 0 214px,#fcc 0 217px,#dbc 0 219px,#fdd 0 222px,#eef 0 224px,#edd 0 227px,#cbe 0 230px,#fff 0 232px,#ebc 0 235px,#dbd 0 239px,#fdd 0 242px,#ede 0 244px,#edd 0 248px,#dac 0 251px,#ddf 0 257px,#eee 0 259px,#cad 0 261px,#fff 0 263px,#dce 0 267px,#cbf 0 269px,#ccf 0 279px,#ddf 0 281px,#dcf 0 285px,#fcd 0 289px,#faa 0 293px,#ddf 0 295px,#dce 0 299px,#ddf 0 301px,#edf 0 303px,#bbf 0 307px,#dde 0 309px,#bbf 0 316px,#cbf 0 318px,#cad 0 322px,#ede 0 324px,#fff 0 326px,#ecd 0 328px,#cbd 0 330px,#dcf 0 332px,#77e 0 334px,#ccf 0 336px,#ddf 0 340px,#c8c 0 342px,#ccf 0 345px,#fdd 0 347px,#ecd 0 351px,#ddf 0 355px,#ede 0 359px,#eee 0 362px,#ede 0 364px,#cce 0 368px,#dbd 0 370px,#eef 0 373px,#fdd 0 376px,#ccf 0 378px,#ede 0 382px,#ecd 0 385px,#ccf 0 387px,#dcd 0 391px,#a9e 0 393px,#ddf 0 396px,#dbd 0 399px,#a9e 0 401px,#dce 0 404px,#ccf 0 407px,#baf 0 411px,#88e 0 414px,#fdd 0 416px,#ccf 0 419px,#bbf 0 422px,#ddf 0 424px,#fdd 0 425px,#fff 0 430px,#fef 0 434px,#fff 0 442px,#eef 0 444px,#dbd 0 446px,#fef 0 449px,#fde 0 451px,#fcc 0 454px,#f55 0 456px,#fbb 0 459px,#faa 0 463px,#fcc 0 465px,#ecd 0 468px,#fbb 0 472px,#f88 0 476px,#fcc 0 480px,#ece 0 484px,#f99 0 487px,#f77 0 489px,#fbb 0 495px,#ede 0 499px,#faa 0 503px,#fee 0 505px,#fff 0 510px,#ede 0 513px,#eef 0 516px,#f66 0 518px,#fbb 0 527px,#ccf 0 529px,#dcd 0 533px,#fcc 0 536px,#ecd 0 538px,#ede 0 542px,#fbb 0 545px,#f99 0 548px,#fdd 0 551px,#ecd 0 555px,#eee 0 558px,#ecd 0 560px,#eaa 0 563px,#fdd 0 565px,#ebc 0 567px,#fcc 0 570px,#ecd 0 576px,#ece 0 578px,#fff 0 579px,#fff 0 583px,#fbb 0 586px)"></div>
<div class="a" style="left:0;width:587px;top:180.93px;height:14.32px;background:linear-gradient(90deg,#dde 0 2px,#fcc 0 5px,#ddf 0 9px,#eef 0 12px,#ddf 0 15px,#eef 0 18px,#dce 0 22px,#bbf 0 25px,#e9a 0 29px,#fcc 0 31px,#dcf 0 34px,#eef 0 37px,#ede 0 39px,#ddf 0 41px,#dcd 0 45px,#bad 0 48px,#ddf 0 51px,#e89 0 55px,#ecc 0 58px,#ddf 0 61px,#dcf 0 63px,#88e 0 65px,#ecd 0 67px,#eab 0 69px,#fbb 0 72px,#bbf 0 74px,#cad 0 77px,#ddf 0 80px,#dce 0 83px,#fdd 0 85px,#cbd 0 89px,#ede 0 95px,#ccf 0 97px,#fcc 0 99px,#fdd 0 102px,#dbd 0 106px,#eef 0 109px,#fee 0 112px,#fbb 0 116px,#faa 0 119px,#dce 0 123px,#eef 0 125px,#ece 0 129px,#ede 0 132px,#dce 0 135px,#dbe 0 139px,#edd 0 143px,#f77 0 146px,#cbd 0 148px,#ccf 0 152px,#dde 0 154px,#fbb 0 156px,#bbf 0 158px,#f33 0 160px,#ebc 0 164px,#ccf 0 166px,#ede 0 170px,#65e 0 172px,#ebc 0 174px,#fbb 0 177px,#dbd 0 181px,#fff 0 182px,#fff 0 186px,#fcc 0 188px,#ede 0 192px,#cbf 0 196px,#ddf 0 198px,#fbb 0 202px,#ede 0 204px,#ddf 0 208px,#aaf 0 214px,#fdd 0 219px,#ede 0 222px,#fdd 0 224px,#dce 0 227px,#eef 0 230px,#dde 0 232px,#fee 0 235px,#cbf 0 239px,#edf 0 242px,#eef 0 244px,#dce 0 248px,#bbf 0 251px,#cbf 0 255px,#aae 0 257px,#88e 0 259px,#cce 0 261px,#ddf 0 263px,#dcf 0 267px,#ecd 0 269px,#bae 0 273px,#bbf 0 277px,#ede 0 279px,#ecd 0 281px,#dce 0 285px,#fee 0 289px,#cbe 0 293px,#fdd 0 299px,#dcf 0 301px,#edf 0 303px,#ede 0 307px,#dbc 0 309px,#dac 0 313px,#ede 0 316px,#fff 0 318px,#ede 0 322px,#f77 0 324px,#edd 0 326px,#edf 0 328px,#fcc 0 332px,#ccf 0 334px,#ede 0 336px,#dce 0 340px,#fdd 0 342px,#ede 0 345px,#f99 0 347px,#ebb 0 351px,#ede 0 355px,#dcf 0 359px,#dbc 0 362px,#fee 0 364px,#ecd 0 370px,#eee 0 373px,#fdd 0 376px,#fee 0 378px,#fcd 0 382px,#fab 0 385px,#fcc 0 387px,#ede 0 391px,#dde 0 393px,#f88 0 396px,#fbb 0 399px,#fee 0 401px,#fdd 0 404px,#e89 0 407px,#ede 0 411px,#dce 0 414px,#eef 0 416px,#fee 0 419px,#fef 0 422px,#a9e 0 424px,#fbb 0 425px,#fff 0 430px,#fee 0 434px,#fff 0 442px,#fee 0 444px,#ecd 0 446px,#ccf 0 449px,#fcc 0 451px,#ecd 0 454px,#eef 0 456px,#ede 0 459px,#e89 0 463px,#fcc 0 465px,#fdd 0 472px,#fbb 0 484px,#fdd 0 487px,#faa 0 489px,#fee 0 491px,#ecd 0 495px,#cae 0 499px,#eaa 0 503px,#fde 0 505px,#fff 0 510px,#eef 0 513px,#cad 0 516px,#fbb 0 518px,#ebc 0 521px,#f99 0 524px,#faa 0 527px,#ccf 0 529px,#fbb 0 533px,#f99 0 536px,#fdd 0 538px,#fee 0 542px,#ecd 0 545px,#faa 0 548px,#fcc 0 551px,#fbb 0 555px,#fab 0 558px,#fbb 0 560px,#ebb 0 563px,#fee 0 565px,#faa 0 567px,#eef 0 570px,#aaf 0 574px,#f88 0 576px,#eef 0 578px,#fdd 0 579px,#fff 0 583px,#fee 0 586px)"></div>
<div class="a" style="left:0;width:587px;top:194.85px;height:14.32px;background:linear-gradient(90deg,#bbf 0 2px,#dce 0 12px,#ebb 0 15px,#ccf 0 18px,#dce 0 22px,#ddf 0 25px,#faa 0 29px,#ece 0 31px,#fdd 0 34px,#ede 0 37px,#baf 0 39px,#ccf 0 41px,#eef 0 45px,#ccf 0 48px,#ebc 0 51px,#faa 0 55px,#fcc 0 58px,#aaf 0 61px,#ddf 0 65px,#ede 0 67px,#ddf 0 69px,#fcd 0 72px,#fee 0 74px,#ede 0 77px,#cbe 0 80px,#ddf 0 83px,#ccf 0 85px,#dcd 0 89px,#ebc 0 93px,#fcc 0 95px,#fdd 0 97px,#ebb 0 99px,#ebc 0 102px,#ede 0 106px,#ecd 0 109px,#edd 0 112px,#e9a 0 116px,#ede 0 119px,#ccf 0 123px,#fbb 0 125px,#fcc 0 129px,#fbb 0 135px,#eef 0 139px,#ede 0 143px,#fbb 0 146px,#f99 0 148px,#ede 0 152px,#fcc 0 154px,#ede 0 156px,#ecd 0 158px,#f66 0 160px,#fbb 0 164px,#bbf 0 166px,#ebc 0 170px,#aaf 0 172px,#fcc 0 174px,#f99 0 177px,#dbd 0 181px,#ddf 0 182px,#fff 0 186px,#fcc 0 188px,#ddf 0 192px,#aaf 0 198px,#faa 0 202px,#eef 0 204px,#ddf 0 208px,#baf 0 212px,#b9d 0 214px,#eab 0 217px,#dbd 0 219px,#ecd 0 222px,#fff 0 224px,#dcf 0 227px,#dce 0 232px,#bbf 0 235px,#edd 0 239px,#ecd 0 242px,#ddf 0 244px,#ecd 0 248px,#ece 0 251px,#ede 0 253px,#ddf 0 255px,#a9e 0 257px,#77e 0 259px,#a9e 0 261px,#ddf 0 263px,#a9e 0 267px,#bbf 0 269px,#cce 0 273px,#cbf 0 277px,#ddf 0 279px,#dce 0 281px,#cbe 0 289px,#ede 0 293px,#fdd 0 295px,#dad 0 299px,#dcf 0 301px,#fdd 0 307px,#ccf 0 309px,#ede 0 313px,#e9a 0 316px,#fee 0 318px,#ede 0 324px,#fcc 0 326px,#edf 0 328px,#eef 0 330px,#baf 0 332px,#fee 0 334px,#eef 0 336px,#ddf 0 340px,#fff 0 342px,#cad 0 345px,#fff 0 347px,#f99 0 351px,#ede 0 355px,#ccf 0 359px,#fee 0 362px,#eee 0 364px,#ecd 0 368px,#f88 0 370px,#ede 0 373px,#fbb 0 376px,#dbc 0 378px,#eef 0 382px,#fee 0 385px,#bbf 0 387px,#fde 0 391px,#d9b 0 393px,#fcc 0 396px,#edd 0 399px,#eee 0 401px,#ccf 0 404px,#dcd 0 407px,#ccf 0 411px,#bae 0 414px,#f99 0 416px,#d9b 0 419px,#eef 0 422px,#edf 0 424px,#f88 0 425px,#fff 0 430px,#fee 0 434px,#fff 0 442px,#fbb 0 444px,#faa 0 446px,#fdd 0 449px,#fee 0 451px,#f99 0 454px,#fef 0 456px,#faa 0 459px,#f66 0 463px,#ddf 0 465px,#f77 0 468px,#edd 0 472px,#faa 0 484px,#f66 0 487px,#fee 0 489px,#dce 0 491px,#ebc 0 495px,#ebd 0 499px,#f99 0 503px,#f77 0 505px,#fff 0 510px,#fee 0 513px,#bbf 0 516px,#fdd 0 518px,#cbe 0 521px,#f99 0 524px,#f77 0 527px,#ddf 0 529px,#ecd 0 533px,#f77 0 536px,#fcc 0 538px,#dce 0 542px,#dcd 0 545px,#f9a 0 548px,#fdd 0 551px,#fbb 0 555px,#fee 0 558px,#baf 0 560px,#ecd 0 563px,#fdd 0 565px,#faa 0 567px,#eac 0 570px,#ddf 0 574px,#fbb 0 576px,#fcc 0 578px,#f99 0 579px,#fff 0 583px,#faa 0 586px)"></div>
<div class="a" style="left:0;width:587px;top:208.77px;height:14.32px;background:linear-gradient(90deg,#bbf 0 2px,#e8a 0 5px,#ddf 0 9px,#fdd 0 12px,#ddf 0 15px,#dbd 0 18px,#ece 0 22px,#ede 0 25px,#fcc 0 29px,#eee 0 31px,#dde 0 34px,#baf 0 37px,#eef 0 39px,#ddf 0 41px,#dcd 0 45px,#bbf 0 48px,#dbd 0 51px,#e99 0 55px,#fef 0 58px,#ccf 0 61px,#fee 0 63px,#cbf 0 65px,#bbf 0 67px,#fcc 0 69px,#edd 0 72px,#fbb 0 74px,#ddf 0 77px,#ebc 0 80px,#ddf 0 85px,#ecd 0 89px,#ede 0 93px,#eef 0 95px,#dab 0 97px,#fcc 0 99px,#ede 0 102px,#ccf 0 106px,#cbe 0 109px,#dce 0 112px,#fcc 0 116px,#ecd 0 119px,#cbe 0 123px,#ebc 0 125px,#ede 0 129px,#eef 0 132px,#ebb 0 135px,#bbf 0 139px,#ebc 0 143px,#f88 0 146px,#eef 0 148px,#dce 0 154px,#dcf 0 156px,#dce 0 158px,#fcc 0 160px,#cbe 0 164px,#cbf 0 166px,#ecd 0 170px,#98e 0 172px,#fcc 0 174px,#fbb 0 177px,#dce 0 181px,#ddf 0 182px,#fff 0 186px,#eee 0 188px,#ecd 0 192px,#cbe 0 196px,#ccf 0 198px,#faa 0 202px,#ebd 0 204px,#fdd 0 208px,#dce 0 212px,#bbf 0 214px,#fdd 0 217px,#fcd 0 219px,#ecd 0 222px,#dce 0 224px,#eef 0 227px,#ebc 0 230px,#faa 0 232px,#fdd 0 239px,#ebb 0 242px,#ccf 0 244px,#eab 0 248px,#eef 0 251px,#fdd 0 253px,#fff 0 255px,#fdd 0 257px,#cad 0 259px,#aaf 0 261px,#edf 0 263px,#dbd 0 267px,#cac 0 269px,#a9e 0 273px,#dce 0 279px,#fcd 0 281px,#eef 0 285px,#aaf 0 289px,#ecd 0 293px,#dbd 0 295px,#eef 0 301px,#dcf 0 303px,#ede 0 307px,#edd 0 309px,#dbe 0 313px,#ece 0 316px,#faa 0 318px,#dab 0 322px,#ede 0 324px,#dcd 0 326px,#ebc 0 328px,#ccf 0 330px,#aaf 0 332px,#ccf 0 334px,#baf 0 336px,#ede 0 340px,#fee 0 342px,#ebc 0 345px,#fbb 0 347px,#f99 0 351px,#fee 0 355px,#ccf 0 359px,#ebb 0 362px,#b8c 0 364px,#ede 0 368px,#fdd 0 370px,#f99 0 373px,#ccf 0 376px,#fdd 0 378px,#ccf 0 382px,#eab 0 385px,#eef 0 387px,#ecd 0 391px,#eef 0 393px,#fcc 0 401px,#dcf 0 404px,#ede 0 407px,#dbd 0 411px,#cbe 0 414px,#ccf 0 416px,#dce 0 419px,#dbd 0 422px,#aaf 0 424px,#f66 0 425px,#fff 0 430px,#fee 0 434px,#fff 0 442px,#f77 0 444px,#ebb 0 446px,#ecd 0 449px,#fdd 0 451px,#faa 0 454px,#fdd 0 456px,#f99 0 459px,#f77 0 463px,#dce 0 465px,#fdd 0 468px,#fcc 0 472px,#faa 0 480px,#f88 0 484px,#f77 0 489px,#fee 0 491px,#edd 0 495px,#ede 0 499px,#ebc 0 503px,#f77 0 505px,#fff 0 510px,#f88 0 513px,#dcf 0 516px,#fdd 0 518px,#ede 0 521px,#f99 0 524px,#f77 0 527px,#fcc 0 533px,#f88 0 536px,#fcc 0 542px,#ebc 0 548px,#fcc 0 551px,#fbb 0 555px,#f99 0 558px,#eef 0 560px,#faa 0 567px,#eee 0 570px,#ecc 0 574px,#faa 0 576px,#fcc 0 578px,#f88 0 579px,#fff 0 583px,#fde 0 586px)"></div>
<div class="a" style="left:0;width:587px;top:222.69px;height:14.32px;background:linear-gradient(90deg,#ccf 0 2px,#ede 0 5px,#ece 0 9px,#edf 0 12px,#dce 0 15px,#ece 0 18px,#aaf 0 22px,#ddf 0 25px,#fab 0 29px,#fff 0 31px,#ccf 0 34px,#fee 0 37px,#cbe 0 39px,#99e 0 41px,#ddf 0 45px,#cbd 0 48px,#fee 0 51px,#ebc 0 55px,#ecd 0 58px,#cce 0 61px,#cbe 0 63px,#ede 0 65px,#baf 0 67px,#ddf 0 69px,#edd 0 72px,#dcf 0 74px,#ddf 0 77px,#eef 0 80px,#bbf 0 83px,#fde 0 85px,#eef 0 89px,#dcf 0 93px,#edd 0 95px,#ccf 0 97px,#cbe 0 99px,#ebc 0 102px,#bae 0 106px,#ddf 0 109px,#fff 0 112px,#fdd 0 116px,#cad 0 119px,#bbf 0 123px,#fbb 0 125px,#bbf 0 129px,#eef 0 132px,#ede 0 139px,#fcc 0 143px,#fbb 0 146px,#fef 0 148px,#cce 0 152px,#eee 0 154px,#cbf 0 156px,#aaf 0 158px,#fff 0 160px,#fde 0 164px,#eef 0 166px,#dcf 0 170px,#baf 0 172px,#ebc 0 174px,#ddf 0 177px,#ccf 0 181px,#fdd 0 182px,#fff 0 186px,#aaf 0 188px,#dcf 0 192px,#ccf 0 196px,#ddf 0 198px,#fcc 0 202px,#eef 0 204px,#ecd 0 208px,#bbf 0 212px,#ddf 0 217px,#fdd 0 219px,#cce 0 222px,#cbe 0 224px,#dcf 0 227px,#eef 0 230px,#baf 0 232px,#dbd 0 235px,#dce 0 239px,#dde 0 242px,#aaf 0 244px,#ddf 0 248px,#eef 0 251px,#cbf 0 253px,#dbd 0 255px,#fee 0 257px,#d9b 0 259px,#ede 0 261px,#ccf 0 263px,#baf 0 267px,#bbf 0 269px,#ccf 0 273px,#99e 0 277px,#dcf 0 279px,#eef 0 281px,#cbf 0 285px,#dce 0 289px,#fdd 0 293px,#fbb 0 295px,#ecd 0 299px,#ede 0 301px,#edf 0 303px,#ebc 0 307px,#fcc 0 309px,#dac 0 313px,#fdd 0 316px,#fcc 0 318px,#fdd 0 322px,#fcc 0 324px,#fee 0 326px,#ede 0 328px,#faa 0 332px,#cbe 0 334px,#dcf 0 336px,#eef 0 340px,#fcc 0 345px,#f88 0 347px,#f99 0 351px,#ebc 0 355px,#edd 0 359px,#ecc 0 362px,#fdd 0 364px,#fbb 0 368px,#ecd 0 370px,#f77 0 373px,#f88 0 376px,#fcc 0 378px,#eab 0 382px,#f55 0 385px,#fbb 0 387px,#fcc 0 391px,#fbb 0 393px,#f99 0 396px,#fbb 0 399px,#fcc 0 401px,#fee 0 404px,#faa 0 407px,#ccf 0 411px,#faa 0 414px,#fcc 0 416px,#fdd 0 419px,#dce 0 422px,#bbf 0 424px,#f55 0 425px,#fff 0 430px,#eef 0 434px,#fff 0 442px,#fbb 0 444px,#f77 0 446px,#fcc 0 449px,#ece 0 451px,#fdd 0 459px,#f99 0 463px,#ddf 0 465px,#f99 0 468px,#fdd 0 476px,#fbb 0 480px,#fcc 0 484px,#f88 0 487px,#fbb 0 489px,#edd 0 491px,#dce 0 495px,#fbb 0 499px,#f99 0 503px,#ecd 0 505px,#fff 0 510px,#dce 0 513px,#dcf 0 516px,#fcc 0 518px,#ebc 0 521px,#faa 0 524px,#f66 0 527px,#ede 0 529px,#ebc 0 533px,#f88 0 538px,#ecd 0 542px,#fef 0 545px,#f88 0 548px,#ebc 0 551px,#fcc 0 555px,#ebd 0 558px,#fbb 0 560px,#f99 0 563px,#faa 0 565px,#fbb 0 567px,#ecd 0 570px,#edd 0 574px,#f88 0 576px,#fcc 0 578px,#f77 0 579px,#fff 0 583px,#f88 0 586px)"></div>
<div class="a" style="left:0;width:587px;top:236.61px;height:14.32px;background:linear-gradient(90deg,#ccf 0 2px,#edf 0 5px,#ccf 0 9px,#eef 0 15px,#cbe 0 22px,#a9e 0 25px,#fee 0 29px,#ddf 0 37px,#dcf 0 39px,#aaf 0 41px,#ebc 0 45px,#bbf 0 48px,#ede 0 51px,#fbb 0 55px,#edf 0 58px,#bbf 0 61px,#ddf 0 63px,#ebc 0 65px,#ccf 0 67px,#fdd 0 69px,#edd 0 72px,#dbd 0 74px,#bbf 0 77px,#fdd 0 80px,#c9c 0 83px,#ebc 0 85px,#cce 0 89px,#ddf 0 93px,#ccf 0 95px,#fcc 0 97px,#ece 0 99px,#fcc 0 102px,#baf 0 106px,#ccf 0 109px,#d9b 0 112px,#cce 0 116px,#ecd 0 119px,#eef 0 123px,#eee 0 125px,#dce 0 129px,#dbd 0 132px,#ede 0 135px,#bbf 0 139px,#dbd 0 143px,#fbb 0 146px,#dbd 0 148px,#ede 0 152px,#fcc 0 154px,#fee 0 156px,#eef 0 158px,#fcc 0 160px,#ebd 0 164px,#ede 0 170px,#88e 0 172px,#dde 0 174px,#ccf 0 177px,#dcf 0 181px,#ddf 0 182px,#fff 0 186px,#fcd 0 188px,#c9c 0 192px,#ecc 0 196px,#bbf 0 198px,#f88 0 202px,#eac 0 204px,#eab 0 208px,#bbf 0 212px,#baf 0 214px,#f99 0 217px,#faa 0 219px,#b9d 0 222px,#faa 0 224px,#ebc 0 227px,#fcc 0 230px,#ecd 0 232px,#fdd 0 239px,#fbb 0 242px,#c9c 0 244px,#ebc 0 248px,#dbc 0 251px,#fdd 0 253px,#ddf 0 255px,#fff 0 257px,#fbb 0 259px,#88e 0 261px,#fee 0 263px,#bbe 0 267px,#fff 0 269px,#98e 0 273px,#cbe 0 277px,#ddf 0 279px,#edd 0 281px,#ddf 0 289px,#fcc 0 293px,#fee 0 295px,#ede 0 299px,#f77 0 301px,#f99 0 303px,#ede 0 307px,#dce 0 309px,#fbc 0 313px,#cbe 0 316px,#faa 0 318px,#ecd 0 322px,#faa 0 324px,#f77 0 326px,#f55 0 328px,#f99 0 330px,#fdd 0 332px,#fee 0 334px,#dce 0 336px,#eee 0 340px,#dac 0 342px,#ede 0 345px,#f77 0 347px,#fbb 0 351px,#ece 0 355px,#ecd 0 359px,#fee 0 362px,#ede 0 364px,#eab 0 368px,#dbc 0 370px,#eef 0 373px,#fdd 0 376px,#fbb 0 378px,#faa 0 385px,#fbb 0 387px,#fdd 0 391px,#dcf 0 393px,#fdd 0 396px,#ebc 0 399px,#fef 0 401px,#fbb 0 404px,#ece 0 407px,#eee 0 411px,#fdd 0 414px,#ecd 0 416px,#dac 0 419px,#bbf 0 422px,#99e 0 424px,#ccf 0 425px,#fff 0 430px,#fee 0 434px,#fff 0 442px,#fbb 0 444px,#ede 0 446px,#dce 0 449px,#ccf 0 451px,#fbb 0 454px,#fff 0 456px,#fcc 0 459px,#fdd 0 463px,#ccf 0 465px,#fbb 0 468px,#fdd 0 472px,#edd 0 476px,#fcc 0 480px,#fdd 0 484px,#e89 0 487px,#f99 0 489px,#ede 0 491px,#ecd 0 495px,#ede 0 503px,#f88 0 505px,#fff 0 510px,#ecd 0 513px,#ddf 0 516px,#eef 0 518px,#fdd 0 521px,#eef 0 524px,#f99 0 527px,#eef 0 529px,#fbb 0 533px,#faa 0 536px,#ede 0 538px,#ebc 0 542px,#ccf 0 545px,#f88 0 548px,#ece 0 551px,#eee 0 555px,#ebc 0 558px,#cbe 0 560px,#dde 0 563px,#bbf 0 565px,#eab 0 567px,#fff 0 570px,#ecd 0 574px,#fbb 0 576px,#fcc 0 578px,#eef 0 579px,#fff 0 583px,#fdd 0 586px)"></div>
<div class="a" style="left:0;width:587px;top:250.52px;height:14.32px;background:linear-gradient(90deg,#ddf 0 2px,#ecd 0 5px,#fee 0 9px,#fcd 0 12px,#f99 0 15px,#edf 0 18px,#ede 0 22px,#eef 0 25px,#fdd 0 29px,#fcc 0 31px,#ecd 0 34px,#ede 0 37px,#eee 0 39px,#bbf 0 41px,#fcc 0 45px,#edf 0 48px,#f88 0 51px,#f99 0 55px,#fdd 0 58px,#bbf 0 61px,#faa 0 63px,#ddf 0 65px,#eef 0 67px,#fcc 0 69px,#f99 0 72px,#fdd 0 74px,#ede 0 77px,#faa 0 80px,#ecd 0 83px,#f99 0 85px,#f88 0 89px,#c9c 0 93px,#dce 0 95px,#ddf 0 97px,#ecd 0 102px,#eef 0 109px,#ecd 0 112px,#ebb 0 116px,#ccf 0 123px,#fee 0 125px,#ecd 0 129px,#fdd 0 132px,#faa 0 135px,#ebc 0 139px,#fef 0 143px,#f99 0 146px,#ebc 0 148px,#eef 0 154px,#ede 0 156px,#bbf 0 158px,#faa 0 160px,#dce 0 164px,#ede 0 170px,#a9e 0 172px,#fbb 0 174px,#ecd 0 177px,#dce 0 181px,#aaf 0 182px,#fff 0 186px,#fbb 0 188px,#ccf 0 192px,#cbf 0 196px,#ddf 0 198px,#f88 0 202px,#ddf 0 204px,#faa 0 208px,#ddf 0 212px,#ccf 0 214px,#fbb 0 217px,#fff 0 219px,#dac 0 222px,#eef 0 224px,#fcc 0 227px,#fff 0 230px,#f77 0 232px,#fbb 0 235px,#ede 0 239px,#ebc 0 242px,#edf 0 244px,#fcc 0 248px,#ede 0 251px,#eee 0 253px,#baf 0 255px,#ebb 0 257px,#cbf 0 259px,#eef 0 261px,#ccf 0 263px,#cbe 0 267px,#ebc 0 269px,#cbe 0 273px,#bbf 0 277px,#faa 0 279px,#ddf 0 281px,#fee 0 285px,#ede 0 289px,#fbb 0 293px,#eef 0 295px,#cbe 0 299px,#aae 0 301px,#dbd 0 303px,#bbf 0 309px,#aaf 0 313px,#ddf 0 318px,#bbf 0 322px,#dbd 0 324px,#ddf 0 326px,#bbf 0 328px,#fef 0 330px,#87e 0 332px,#aae 0 334px,#fbb 0 336px,#bbf 0 340px,#cce 0 342px,#ede 0 345px,#cbf 0 347px,#ebc 0 351px,#ccf 0 359px,#ede 0 362px,#ccf 0 368px,#99e 0 370px,#ccf 0 373px,#ecd 0 376px,#eef 0 378px,#ecd 0 382px,#fdd 0 385px,#aaf 0 387px,#ddf 0 393px,#eef 0 399px,#cbe 0 401px,#ecd 0 404px,#baf 0 407px,#ddf 0 411px,#bbf 0 414px,#ddf 0 416px,#a9e 0 419px,#bbf 0 424px,#eef 0 425px,#fff 0 430px,#fef 0 434px,#fff 0 442px,#fcc 0 444px,#ece 0 446px,#eef 0 449px,#fcc 0 451px,#faa 0 454px,#fcc 0 456px,#ecd 0 459px,#f88 0 463px,#ebd 0 465px,#fdd 0 468px,#eab 0 472px,#f66 0 476px,#faa 0 480px,#f88 0 484px,#fbb 0 487px,#f66 0 489px,#fef 0 491px,#fcc 0 495px,#fbb 0 499px,#f88 0 503px,#fcc 0 505px,#fff 0 510px,#ebb 0 513px,#cbf 0 516px,#fdd 0 518px,#fee 0 521px,#eab 0 524px,#f55 0 527px,#fee 0 529px,#ecd 0 533px,#f99 0 536px,#fbb 0 538px,#fdd 0 542px,#eef 0 545px,#f44 0 548px,#f77 0 551px,#edd 0 558px,#fbb 0 560px,#ede 0 563px,#dab 0 565px,#f99 0 567px,#fcc 0 570px,#fdd 0 574px,#f99 0 576px,#faa 0 578px,#f88 0 579px,#fff 0 583px,#ede 0 586px)"></div>
<div class="a" style="left:0;width:587px;top:264.44px;height:14.32px;background:linear-gradient(90deg,#ccf 0 2px,#eee 0 5px,#cbe 0 9px,#fde 0 12px,#ece 0 15px,#aae 0 18px,#bbf 0 22px,#cbf 0 25px,#fcd 0 29px,#dce 0 31px,#cbf 0 34px,#aaf 0 37px,#ccf 0 39px,#baf 0 41px,#aaf 0 45px,#dce 0 48px,#ebd 0 51px,#fbb 0 55px,#ecd 0 58px,#cbf 0 61px,#ece 0 63px,#fee 0 65px,#99e 0 67px,#ede 0 69px,#fbb 0 72px,#ddf 0 74px,#99e 0 77px,#ede 0 80px,#baf 0 83px,#dce 0 89px,#eee 0 93px,#ccf 0 95px,#fff 0 97px,#f99 0 99px,#fdd 0 102px,#eef 0 106px,#dcf 0 109px,#eef 0 112px,#fcc 0 116px,#dcd 0 119px,#ecd 0 123px,#cbd 0 125px,#dde 0 129px,#dce 0 132px,#faa 0 135px,#ede 0 139px,#f9a 0 143px,#fbb 0 146px,#ebc 0 148px,#ddf 0 152px,#fdd 0 154px,#eef 0 156px,#ddf 0 158px,#fbb 0 160px,#dce 0 164px,#fee 0 166px,#dac 0 170px,#a9e 0 172px,#f88 0 174px,#fef 0 177px,#ddf 0 181px,#fee 0 182px,#fff 0 186px,#ddf 0 188px,#dce 0 192px,#ddf 0 196px,#a9e 0 198px,#faa 0 202px,#eee 0 204px,#fdd 0 208px,#baf 0 212px,#ccf 0 214px,#dce 0 217px,#ccf 0 219px,#dce 0 222px,#eef 0 224px,#fdd 0 227px,#ccf 0 230px,#dce 0 232px,#faa 0 235px,#edf 0 239px,#dac 0 242px,#ccf 0 244px,#cad 0 248px,#ede 0 251px,#ddf 0 253px,#ccf 0 255px,#fee 0 257px,#cbf 0 259px,#eef 0 261px,#99e 0 263px,#bbf 0 267px,#eef 0 269px,#aaf 0 277px,#ddf 0 279px,#ede 0 281px,#ccf 0 285px,#cad 0 289px,#edf 0 293px,#fff 0 295px,#ebc 0 299px,#ccf 0 301px,#fde 0 303px,#b9e 0 307px,#cbf 0 309px,#e9a 0 313px,#ecd 0 316px,#faa 0 318px,#eab 0 324px,#fbb 0 326px,#faa 0 328px,#fbb 0 330px,#ede 0 332px,#bbf 0 334px,#ede 0 336px,#eef 0 340px,#fbb 0 342px,#ece 0 345px,#fcc 0 347px,#fbb 0 351px,#ecd 0 355px,#bbf 0 359px,#fdd 0 362px,#ebc 0 364px,#ecc 0 368px,#f66 0 370px,#dcf 0 373px,#dac 0 376px,#faa 0 378px,#ede 0 382px,#fcc 0 385px,#eef 0 387px,#fee 0 391px,#bbf 0 393px,#dbd 0 396px,#ecc 0 399px,#fdd 0 401px,#ecc 0 404px,#fcc 0 407px,#ccf 0 411px,#dcd 0 414px,#fdd 0 416px,#bbf 0 419px,#ddf 0 422px,#cbf 0 424px,#fbb 0 425px,#fff 0 430px,#eef 0 434px,#fff 0 442px,#f88 0 444px,#f77 0 446px,#fbb 0 449px,#ddf 0 451px,#f99 0 454px,#fcc 0 456px,#faa 0 459px,#f88 0 463px,#ddf 0 465px,#f99 0 468px,#ebb 0 472px,#faa 0 476px,#f88 0 480px,#eab 0 484px,#f88 0 487px,#f77 0 489px,#fcc 0 491px,#faa 0 495px,#f77 0 503px,#faa 0 505px,#fff 0 510px,#ebb 0 513px,#eee 0 516px,#faa 0 518px,#ecd 0 521px,#fdd 0 524px,#f99 0 527px,#faa 0 529px,#fbb 0 533px,#f55 0 536px,#fdd 0 538px,#ecd 0 542px,#fcc 0 545px,#f77 0 548px,#fcc 0 551px,#fbb 0 555px,#faa 0 558px,#fff 0 560px,#f99 0 563px,#fbb 0 565px,#f66 0 567px,#f99 0 570px,#edf 0 574px,#fee 0 576px,#faa 0 578px,#f88 0 579px,#fff 0 583px,#fdd 0 586px)"></div>
<div class="a" style="left:0;width:587px;top:278.36px;height:14.32px;background:linear-gradient(90deg,#bbf 0 2px,#ccf 0 5px,#dce 0 9px,#faa 0 12px,#dde 0 15px,#ddf 0 18px,#cad 0 22px,#cce 0 25px,#ecd 0 29px,#fcd 0 31px,#dbe 0 34px,#a9e 0 37px,#ddf 0 39px,#ccf 0 45px,#bbf 0 48px,#ede 0 51px,#fcc 0 55px,#dce 0 58px,#bbf 0 61px,#dcf 0 63px,#ddf 0 65px,#ccf 0 67px,#ebc 0 69px,#edd 0 72px,#ede 0 74px,#baf 0 77px,#ede 0 80px,#ddf 0 83px,#eef 0 85px,#cbe 0 89px,#dcf 0 93px,#fdd 0 97px,#ede 0 99px,#fdd 0 102px,#dce 0 106px,#ecd 0 109px,#cbf 0 112px,#fcc 0 116px,#ede 0 123px,#fbb 0 125px,#ede 0 129px,#ecc 0 132px,#faa 0 135px,#fdd 0 139px,#fcc 0 143px,#faa 0 146px,#98e 0 148px,#dce 0 152px,#fbb 0 154px,#eef 0 158px,#f99 0 160px,#fdd 0 164px,#dce 0 166px,#fcd 0 170px,#87e 0 172px,#faa 0 174px,#fcd 0 177px,#ece 0 181px,#a9f 0 182px,#fff 0 186px,#fdd 0 188px,#ecd 0 192px,#bbf 0 196px,#eef 0 198px,#faa 0 202px,#ebc 0 204px,#dad 0 208px,#dcf 0 212px,#bbf 0 214px,#ecd 0 217px,#dcf 0 219px,#fde 0 222px,#ddf 0 224px,#cbe 0 227px,#dde 0 230px,#edf 0 232px,#ebc 0 235px,#fee 0 242px,#bbf 0 244px,#ddf 0 248px,#ccf 0 251px,#dce 0 253px,#aaf 0 255px,#bbf 0 257px,#ccf 0 259px,#ddf 0 261px,#eef 0 263px,#ccf 0 267px,#fee 0 269px,#cbf 0 273px,#99e 0 277px,#eef 0 279px,#edf 0 281px,#ddf 0 285px,#ede 0 293px,#f99 0 295px,#eab 0 299px,#ecd 0 301px,#fbb 0 303px,#ebc 0 307px,#ddf 0 309px,#dbd 0 313px,#ecc 0 316px,#f88 0 318px,#fdd 0 322px,#f99 0 324px,#fcc 0 328px,#edd 0 330px,#ebc 0 332px,#ccf 0 334px,#cce 0 336px,#dce 0 340px,#dac 0 342px,#fee 0 345px,#faa 0 347px,#ebc 0 351px,#ddf 0 355px,#dde 0 359px,#fcc 0 362px,#fee 0 364px,#ecd 0 368px,#fdd 0 370px,#dbd 0 373px,#ccf 0 376px,#dcf 0 378px,#eef 0 382px,#fcc 0 385px,#f99 0 387px,#ede 0 391px,#ccf 0 393px,#dab 0 396px,#fcc 0 399px,#fdd 0 401px,#fbb 0 404px,#dcf 0 407px,#cbe 0 411px,#ede 0 414px,#ebc 0 416px,#eef 0 422px,#ccf 0 424px,#fee 0 425px,#fff 0 430px,#ede 0 434px,#fff 0 442px,#f99 0 444px,#fdd 0 446px,#fee 0 449px,#fcd 0 451px,#faa 0 454px,#fee 0 456px,#fbb 0 459px,#fbc 0 463px,#faa 0 465px,#ede 0 468px,#fcc 0 472px,#faa 0 476px,#f88 0 480px,#eaa 0 484px,#faa 0 487px,#f99 0 489px,#fbb 0 491px,#ddf 0 495px,#ebc 0 499px,#faa 0 503px,#fee 0 505px,#fff 0 510px,#f55 0 513px,#baf 0 516px,#fcc 0 518px,#ebc 0 521px,#fcc 0 524px,#f66 0 527px,#ddf 0 529px,#eef 0 533px,#f99 0 536px,#faa 0 538px,#ebc 0 542px,#dce 0 545px,#f99 0 548px,#fdd 0 551px,#faa 0 555px,#fcc 0 563px,#dbd 0 565px,#f88 0 567px,#ebc 0 570px,#ece 0 574px,#fcc 0 578px,#ddf 0 579px,#fff 0 583px,#faa 0 586px)"></div>
<div class="a" style="left:0;width:587px;top:292.28px;height:14.32px;background:linear-gradient(90deg,#dcf 0 2px,#ccf 0 5px,#c9c 0 9px,#faa 0 12px,#fee 0 15px,#ccf 0 22px,#edf 0 25px,#ede 0 29px,#eee 0 31px,#ede 0 34px,#ccf 0 37px,#a9e 0 39px,#aaf 0 41px,#dbe 0 45px,#ddf 0 48px,#eef 0 51px,#fcc 0 55px,#ede 0 58px,#ccf 0 61px,#fdd 0 63px,#98e 0 65px,#ebc 0 67px,#f88 0 69px,#ebd 0 72px,#ebc 0 74px,#dcf 0 77px,#ebc 0 80px,#edd 0 83px,#fdd 0 85px,#dce 0 89px,#aaf 0 93px,#dce 0 95px,#ddf 0 97px,#eaa 0 99px,#ccf 0 102px,#bbf 0 106px,#ccf 0 109px,#eef 0 112px,#edd 0 116px,#fdd 0 119px,#edf 0 123px,#ede 0 125px,#dce 0 132px,#fbb 0 135px,#dce 0 139px,#ebb 0 143px,#ede 0 146px,#fee 0 148px,#cad 0 152px,#cbe 0 154px,#ccf 0 156px,#dce 0 158px,#d89 0 160px,#dce 0 164px,#eab 0 166px,#ccf 0 170px,#88e 0 172px,#ece 0 174px,#cce 0 177px,#ddf 0 181px,#ccf 0 182px,#fff 0 186px,#fdd 0 188px,#dac 0 192px,#cae 0 196px,#bae 0 198px,#fbb 0 204px,#dcf 0 208px,#bbf 0 212px,#99e 0 214px,#fbb 0 217px,#baf 0 219px,#fde 0 222px,#fcc 0 224px,#ede 0 227px,#dde 0 230px,#baf 0 232px,#fee 0 235px,#dce 0 239px,#ecd 0 242px,#cbe 0 244px,#ccf 0 248px,#fef 0 251px,#eef 0 253px,#ede 0 255px,#c9c 0 257px,#bbe 0 259px,#bbf 0 261px,#fff 0 263px,#dce 0 267px,#ccf 0 269px,#aaf 0 273px,#98e 0 277px,#eef 0 279px,#dcf 0 281px,#bbf 0 285px,#ede 0 289px,#edd 0 293px,#fbb 0 295px,#ede 0 299px,#ccf 0 301px,#eef 0 303px,#bad 0 307px,#dcd 0 309px,#fee 0 313px,#dcf 0 316px,#fcd 0 318px,#ede 0 322px,#f77 0 324px,#fbb 0 326px,#ebc 0 328px,#fbb 0 330px,#ddf 0 332px,#dcf 0 334px,#bbf 0 336px,#ddf 0 340px,#fcc 0 342px,#ece 0 345px,#f99 0 347px,#fbb 0 351px,#fef 0 355px,#fcc 0 359px,#ede 0 362px,#eef 0 364px,#ede 0 368px,#bbf 0 370px,#fbb 0 373px,#dce 0 376px,#eef 0 382px,#faa 0 385px,#fcc 0 387px,#ecc 0 391px,#ece 0 393px,#f99 0 396px,#fcc 0 399px,#edf 0 401px,#ecd 0 404px,#fee 0 407px,#cce 0 411px,#dcf 0 414px,#fff 0 416px,#cce 0 419px,#cbf 0 422px,#fdd 0 424px,#fff 0 425px,#fff 0 430px,#fee 0 434px,#fff 0 442px,#f88 0 444px,#dce 0 446px,#ebc 0 449px,#fcc 0 451px,#f88 0 454px,#fbb 0 456px,#ebd 0 459px,#f88 0 463px,#eac 0 465px,#faa 0 468px,#fcc 0 472px,#faa 0 476px,#f99 0 480px,#f77 0 484px,#f88 0 487px,#f77 0 489px,#fdd 0 491px,#ede 0 495px,#fdd 0 499px,#e9a 0 503px,#fdd 0 505px,#fff 0 510px,#f99 0 513px,#dcf 0 516px,#faa 0 518px,#fdd 0 521px,#f55 0 524px,#f88 0 527px,#ddf 0 529px,#fbb 0 533px,#f66 0 536px,#faa 0 538px,#dac 0 542px,#fbb 0 545px,#f66 0 548px,#eab 0 551px,#fbb 0 555px,#faa 0 560px,#ecc 0 563px,#f77 0 565px,#faa 0 567px,#f99 0 570px,#ede 0 574px,#ebb 0 576px,#eab 0 578px,#fee 0 579px,#fff 0 583px,#f55 0 586px)"></div>
<div class="a" style="left:0;width:587px;top:306.20px;height:14.32px;background:linear-gradient(90deg,#ddf 0 2px,#fcc 0 5px,#dcf 0 9px,#fcc 0 12px,#edf 0 15px,#dce 0 22px,#cce 0 25px,#fbb 0 29px,#ebb 0 31px,#eef 0 34px,#ddf 0 37px,#eef 0 39px,#fee 0 41px,#dcd 0 45px,#eef 0 48px,#fbb 0 55px,#fcc 0 58px,#bbf 0 61px,#cbe 0 63px,#ccf 0 65px,#ecd 0 67px,#f99 0 69px,#ecd 0 72px,#c8a 0 74px,#ddf 0 80px,#ecd 0 83px,#eef 0 85px,#cad 0 89px,#ede 0 93px,#faa 0 95px,#fdd 0 97px,#ebc 0 99px,#dcd 0 102px,#dce 0 106px,#ddf 0 109px,#fbb 0 112px,#fee 0 116px,#ecd 0 119px,#ccf 0 123px,#ede 0 125px,#dce 0 129px,#dab 0 132px,#faa 0 135px,#ccf 0 139px,#fee 0 143px,#fbb 0 146px,#ccf 0 148px,#cbd 0 152px,#fbb 0 154px,#fdd 0 156px,#ccf 0 158px,#f55 0 160px,#ede 0 164px,#ecd 0 166px,#dbd 0 170px,#baf 0 172px,#ebc 0 174px,#fcc 0 181px,#fee 0 182px,#fff 0 186px,#f88 0 188px,#fcc 0 192px,#cbe 0 196px,#baf 0 198px,#fbb 0 202px,#dbd 0 204px,#dcf 0 208px,#a8c 0 212px,#cbf 0 214px,#ecd 0 217px,#bbf 0 219px,#ccf 0 224px,#ede 0 227px,#eef 0 230px,#dbe 0 232px,#faa 0 235px,#ebc 0 239px,#ecd 0 242px,#a9e 0 244px,#ddf 0 248px,#dbd 0 251px,#edd 0 253px,#cbf 0 255px,#edf 0 257px,#ede 0 259px,#edf 0 261px,#aaf 0 263px,#dce 0 267px,#dde 0 269px,#baf 0 277px,#88e 0 279px,#dce 0 281px,#cbf 0 285px,#ccf 0 289px,#dce 0 293px,#b9d 0 295px,#edf 0 299px,#ede 0 301px,#faa 0 303px,#bbf 0 307px,#aae 0 309px,#dce 0 313px,#dbd 0 316px,#edd 0 318px,#edf 0 322px,#dab 0 324px,#ecd 0 326px,#eef 0 328px,#fee 0 330px,#dce 0 332px,#ccf 0 334px,#dce 0 336px,#dcd 0 340px,#eef 0 342px,#fcd 0 345px,#ece 0 347px,#fdd 0 351px,#ecd 0 355px,#cbf 0 359px,#fbb 0 362px,#fcc 0 364px,#ecd 0 368px,#fcc 0 370px,#ecc 0 373px,#ecd 0 376px,#cbe 0 378px,#ebc 0 382px,#fbb 0 385px,#fee 0 387px,#ccf 0 393px,#dac 0 396px,#dab 0 399px,#ecd 0 401px,#ede 0 404px,#fee 0 407px,#dce 0 411px,#d9b 0 414px,#ddf 0 416px,#aaf 0 419px,#cbf 0 422px,#ddf 0 425px,#fff 0 430px,#fee 0 434px,#fff 0 442px,#f99 0 444px,#f88 0 446px,#ede 0 451px,#faa 0 454px,#fbb 0 456px,#fcc 0 459px,#f88 0 463px,#ebd 0 465px,#eaa 0 468px,#fbb 0 472px,#fdd 0 476px,#faa 0 480px,#fcc 0 484px,#f88 0 487px,#f66 0 489px,#faa 0 491px,#fcc 0 495px,#dcd 0 499px,#f88 0 503px,#fbb 0 505px,#fff 0 510px,#faa 0 513px,#eef 0 516px,#faa 0 521px,#fdd 0 524px,#f88 0 527px,#fee 0 529px,#fcc 0 533px,#e89 0 536px,#f99 0 538px,#fdd 0 542px,#eef 0 545px,#f66 0 548px,#ebc 0 551px,#f99 0 555px,#ebc 0 558px,#ecd 0 560px,#fee 0 563px,#fdd 0 565px,#e78 0 567px,#faa 0 570px,#ccf 0 574px,#fee 0 576px,#fcd 0 578px,#fdd 0 579px,#fff 0 583px,#fcc 0 586px)"></div>
<div class="a" style="left:0;width:587px;top:320.11px;height:14.32px;background:linear-gradient(90deg,#baf 0 2px,#fdd 0 5px,#dcf 0 9px,#fee 0 12px,#fbb 0 15px,#fef 0 18px,#ecd 0 22px,#fcc 0 25px,#f55 0 29px,#eef 0 31px,#fee 0 34px,#ecd 0 37px,#dcd 0 39px,#fdd 0 41px,#ede 0 45px,#fdd 0 48px,#fcc 0 51px,#f66 0 55px,#dcd 0 58px,#ddf 0 61px,#fbb 0 63px,#ddf 0 67px,#fdd 0 69px,#fbb 0 72px,#faa 0 74px,#bbf 0 77px,#fbb 0 80px,#ede 0 83px,#faa 0 85px,#fcc 0 89px,#ebc 0 93px,#ddf 0 95px,#eef 0 97px,#ccf 0 99px,#ede 0 102px,#98e 0 106px,#edf 0 109px,#dce 0 112px,#dbe 0 116px,#dce 0 119px,#ede 0 123px,#fbb 0 125px,#cbe 0 129px,#dce 0 132px,#fee 0 135px,#dce 0 139px,#fdd 0 143px,#f88 0 146px,#eef 0 148px,#ece 0 152px,#dbd 0 154px,#ccf 0 158px,#f99 0 160px,#ecd 0 164px,#c9c 0 166px,#ecd 0 170px,#aae 0 172px,#ddf 0 174px,#fdd 0 177px,#ccf 0 181px,#a9f 0 182px,#fff 0 186px,#dde 0 188px,#ede 0 192px,#eef 0 196px,#dce 0 198px,#f99 0 202px,#ecd 0 208px,#dde 0 212px,#fcc 0 214px,#f88 0 217px,#ddf 0 219px,#fcc 0 222px,#eef 0 224px,#eab 0 227px,#eef 0 230px,#faa 0 235px,#eef 0 239px,#faa 0 242px,#eef 0 244px,#ecc 0 248px,#ede 0 251px,#f88 0 253px,#fcc 0 255px,#ccf 0 257px,#99e 0 259px,#ddf 0 261px,#ecd 0 263px,#ece 0 267px,#fbb 0 269px,#dce 0 273px,#baf 0 277px,#cbe 0 279px,#ecd 0 281px,#ccf 0 285px,#dce 0 289px,#fbb 0 293px,#cbf 0 295px,#ecd 0 299px,#fdd 0 301px,#fbb 0 303px,#cce 0 307px,#ddf 0 309px,#cbe 0 313px,#dcd 0 316px,#ddf 0 318px,#cbf 0 322px,#eab 0 324px,#ede 0 326px,#ccf 0 328px,#ddf 0 330px,#bbf 0 332px,#ccf 0 334px,#ddf 0 336px,#bbf 0 340px,#ccf 0 342px,#bbf 0 345px,#dce 0 347px,#eef 0 351px,#dcf 0 355px,#cbe 0 359px,#ccf 0 362px,#eef 0 364px,#cae 0 368px,#dce 0 370px,#ddf 0 376px,#ccf 0 378px,#cbf 0 382px,#ebd 0 385px,#ccf 0 387px,#cbf 0 391px,#aaf 0 393px,#cce 0 396px,#fee 0 399px,#ede 0 401px,#aaf 0 404px,#fdd 0 407px,#bbf 0 411px,#a9e 0 414px,#ccf 0 419px,#aaf 0 422px,#99e 0 424px,#aaf 0 425px,#fff 0 430px,#fdd 0 434px,#fff 0 442px,#fbb 0 444px,#fcd 0 446px,#fbb 0 449px,#fcc 0 451px,#dac 0 454px,#f55 0 456px,#fcc 0 459px,#ecc 0 463px,#ecd 0 465px,#faa 0 468px,#dac 0 472px,#f99 0 476px,#fbb 0 484px,#f66 0 487px,#f88 0 489px,#f99 0 491px,#e9a 0 495px,#ede 0 499px,#fbb 0 503px,#f99 0 505px,#fff 0 510px,#f99 0 513px,#ecd 0 516px,#fbb 0 518px,#fee 0 521px,#faa 0 524px,#f99 0 527px,#ccf 0 529px,#ebb 0 533px,#f66 0 536px,#ecd 0 538px,#faa 0 542px,#ddf 0 545px,#f77 0 548px,#e9a 0 551px,#fcc 0 555px,#ecd 0 558px,#fee 0 560px,#ecd 0 563px,#fbb 0 565px,#fcc 0 567px,#f99 0 570px,#ebc 0 574px,#f77 0 576px,#ede 0 578px,#dcf 0 579px,#fff 0 583px,#fbb 0 586px)"></div>
<div class="a" style="left:0;width:587px;top:334.03px;height:14.32px;background:linear-gradient(90deg,#99e 0 2px,#cce 0 5px,#dcd 0 9px,#ebc 0 12px,#dde 0 15px,#ede 0 22px,#ddf 0 25px,#eaa 0 29px,#eef 0 31px,#fee 0 34px,#cce 0 37px,#ddf 0 39px,#dce 0 41px,#ece 0 45px,#cbf 0 48px,#ddf 0 51px,#fcc 0 55px,#f99 0 58px,#ccf 0 61px,#ddf 0 63px,#dbd 0 65px,#fde 0 67px,#fdd 0 69px,#f88 0 72px,#fde 0 74px,#baf 0 77px,#fee 0 80px,#ccf 0 83px,#f66 0 85px,#dbd 0 89px,#ede 0 93px,#eef 0 95px,#bae 0 97px,#dce 0 99px,#dbd 0 102px,#ddf 0 106px,#edd 0 109px,#fcc 0 112px,#faa 0 116px,#ecd 0 119px,#ebd 0 123px,#fdd 0 125px,#ddf 0 129px,#dce 0 132px,#ecd 0 135px,#ddf 0 139px,#fdd 0 143px,#faa 0 146px,#fcc 0 148px,#fdd 0 152px,#fee 0 154px,#fcc 0 156px,#bbf 0 158px,#f44 0 160px,#fdd 0 164px,#dce 0 170px,#88e 0 172px,#fdd 0 174px,#fcc 0 177px,#fee 0 181px,#99e 0 182px,#fff 0 186px,#fdd 0 188px,#eef 0 192px,#ccf 0 196px,#98e 0 198px,#f99 0 204px,#dbd 0 208px,#ddf 0 214px,#fbb 0 217px,#ccf 0 219px,#dde 0 222px,#faa 0 224px,#fcc 0 227px,#dce 0 230px,#fcd 0 232px,#fbb 0 235px,#dbd 0 239px,#faa 0 242px,#dce 0 244px,#fcc 0 248px,#fee 0 251px,#ccf 0 253px,#ddf 0 257px,#eee 0 259px,#eef 0 261px,#ddf 0 263px,#cbe 0 267px,#f88 0 269px,#bbf 0 273px,#ede 0 277px,#dce 0 279px,#fee 0 281px,#ddf 0 285px,#dce 0 289px,#fdd 0 293px,#fcd 0 295px,#edd 0 299px,#dce 0 301px,#ede 0 303px,#dcd 0 307px,#ccf 0 313px,#cac 0 316px,#fdd 0 318px,#bae 0 322px,#dac 0 324px,#eef 0 328px,#dcf 0 330px,#ccf 0 332px,#bbf 0 334px,#baf 0 336px,#ccf 0 340px,#fee 0 342px,#cbf 0 345px,#fbb 0 347px,#fdd 0 351px,#dce 0 355px,#cbf 0 359px,#fdd 0 362px,#ddf 0 364px,#ccf 0 368px,#fcc 0 370px,#ede 0 373px,#fee 0 376px,#ccf 0 378px,#ede 0 382px,#fdd 0 385px,#ccf 0 387px,#ecd 0 391px,#bbf 0 393px,#dcf 0 396px,#fff 0 399px,#ccf 0 404px,#ddf 0 407px,#ede 0 411px,#cce 0 414px,#f99 0 416px,#aaf 0 419px,#ccf 0 422px,#ddf 0 424px,#eef 0 425px,#fff 0 430px,#fee 0 434px,#fff 0 442px,#dbd 0 444px,#fee 0 446px,#ccf 0 449px,#edf 0 451px,#ebc 0 454px,#ede 0 456px,#ebc 0 459px,#fbb 0 463px,#eef 0 465px,#eee 0 468px,#fcc 0 476px,#faa 0 480px,#fcc 0 484px,#faa 0 487px,#f99 0 489px,#eee 0 491px,#ede 0 499px,#faa 0 503px,#eef 0 505px,#fff 0 510px,#faa 0 513px,#ccf 0 516px,#faa 0 518px,#fdd 0 521px,#ebc 0 524px,#fbb 0 527px,#dac 0 529px,#fcc 0 533px,#faa 0 536px,#ecd 0 538px,#fcd 0 542px,#dcd 0 545px,#f88 0 548px,#faa 0 551px,#ddf 0 555px,#dbd 0 558px,#faa 0 560px,#f99 0 563px,#eef 0 565px,#fbb 0 567px,#fcc 0 570px,#edf 0 574px,#f66 0 576px,#fcc 0 578px,#fbb 0 579px,#fff 0 583px,#fcd 0 586px)"></div>
<div class="a" style="left:0;width:587px;top:347.95px;height:14.32px;background:linear-gradient(90deg,#fee 0 2px,#b8b 0 5px,#ede 0 9px,#faa 0 12px,#ede 0 15px,#fde 0 18px,#ecd 0 22px,#cbf 0 25px,#ecd 0 29px,#ede 0 31px,#ddf 0 34px,#cad 0 37px,#ccf 0 39px,#c9c 0 41px,#dce 0 45px,#dcf 0 48px,#fdd 0 51px,#f88 0 55px,#faa 0 58px,#ddf 0 61px,#fee 0 63px,#baf 0 65px,#bae 0 67px,#faa 0 69px,#fbc 0 72px,#b9d 0 74px,#cac 0 77px,#ede 0 80px,#dce 0 83px,#e9a 0 85px,#bbe 0 89px,#ede 0 93px,#fcc 0 97px,#dbc 0 99px,#fbb 0 102px,#ddf 0 106px,#ecd 0 109px,#fbb 0 112px,#fbc 0 116px,#fdd 0 119px,#edf 0 123px,#fff 0 125px,#ddf 0 129px,#ecc 0 132px,#fbb 0 135px,#dce 0 139px,#ede 0 143px,#fbb 0 146px,#ddf 0 154px,#dbd 0 156px,#dce 0 158px,#faa 0 164px,#cbe 0 166px,#faa 0 170px,#cbf 0 172px,#ede 0 174px,#cad 0 177px,#eef 0 182px,#fff 0 186px,#ebc 0 188px,#bbf 0 196px,#ccf 0 198px,#fbb 0 202px,#f99 0 204px,#cbe 0 208px,#baf 0 212px,#88e 0 214px,#ecd 0 217px,#dce 0 219px,#ccf 0 222px,#ddf 0 224px,#fee 0 227px,#a9e 0 230px,#ede 0 232px,#eee 0 235px,#dce 0 239px,#f99 0 242px,#99e 0 244px,#ebd 0 248px,#ccf 0 253px,#bbf 0 255px,#dbd 0 257px,#b9d 0 259px,#98e 0 261px,#77e 0 263px,#dde 0 267px,#ddf 0 269px,#bae 0 273px,#88e 0 277px,#fee 0 279px,#cbf 0 281px,#dde 0 289px,#ebc 0 293px,#fee 0 295px,#ddf 0 299px,#cbf 0 301px,#fbb 0 303px,#dbd 0 307px,#ede 0 309px,#ebc 0 313px,#ecd 0 316px,#ccf 0 318px,#eef 0 324px,#ddf 0 326px,#fee 0 328px,#fbb 0 330px,#ede 0 332px,#ccf 0 336px,#cbe 0 340px,#eee 0 342px,#dce 0 345px,#f77 0 347px,#eee 0 351px,#edf 0 355px,#dce 0 359px,#ede 0 362px,#ece 0 364px,#ccf 0 368px,#fcc 0 370px,#ecd 0 373px,#ede 0 376px,#f99 0 378px,#ede 0 382px,#ddf 0 385px,#ede 0 387px,#ebc 0 391px,#ddf 0 393px,#fdd 0 396px,#ede 0 401px,#fee 0 404px,#eef 0 407px,#cbd 0 411px,#ccf 0 414px,#eac 0 416px,#dce 0 419px,#ddf 0 424px,#fbb 0 425px,#fff 0 430px,#eef 0 434px,#fff 0 442px,#f77 0 444px,#fcc 0 446px,#fdd 0 449px,#ecd 0 451px,#fdd 0 454px,#c7a 0 456px,#f99 0 459px,#f88 0 463px,#bbf 0 465px,#ecc 0 468px,#f99 0 472px,#f88 0 480px,#fbb 0 484px,#f77 0 487px,#f66 0 489px,#ede 0 491px,#faa 0 495px,#fdd 0 499px,#f88 0 505px,#fff 0 510px,#fcc 0 513px,#ccf 0 516px,#fcc 0 518px,#ece 0 521px,#faa 0 527px,#ede 0 533px,#f66 0 536px,#ddf 0 538px,#dac 0 542px,#ddf 0 545px,#fbb 0 548px,#edd 0 551px,#eab 0 555px,#fee 0 558px,#fcc 0 560px,#e88 0 563px,#ccf 0 565px,#fcc 0 567px,#f99 0 570px,#ece 0 574px,#ede 0 576px,#fbb 0 578px,#ccf 0 579px,#fff 0 583px,#ede 0 586px)"></div>
<div class="a" style="left:0;width:587px;top:361.87px;height:14.32px;background:linear-gradient(90deg,#ddf 0 2px,#dde 0 5px,#ccf 0 9px,#ecc 0 12px,#ecd 0 15px,#ddf 0 22px,#bbf 0 25px,#faa 0 31px,#cbe 0 34px,#ecd 0 37px,#baf 0 39px,#ddf 0 41px,#fdd 0 45px,#ddf 0 48px,#ede 0 51px,#f99 0 55px,#fbb 0 58px,#a8e 0 61px,#ccf 0 63px,#cbf 0 65px,#eef 0 67px,#fcc 0 72px,#bbf 0 74px,#fdd 0 77px,#ecd 0 80px,#ddf 0 83px,#faa 0 85px,#dcf 0 89px,#fcc 0 93px,#edd 0 95px,#fee 0 97px,#f99 0 99px,#cad 0 102px,#ccf 0 106px,#cbf 0 109px,#edf 0 112px,#fcd 0 116px,#fee 0 119px,#ddf 0 123px,#eef 0 125px,#dbd 0 129px,#ddf 0 132px,#fbb 0 135px,#dbd 0 139px,#ede 0 143px,#fdd 0 146px,#ece 0 148px,#dbe 0 152px,#fdd 0 154px,#dce 0 156px,#ccf 0 158px,#fcc 0 160px,#cbf 0 164px,#ccf 0 166px,#fde 0 170px,#bbf 0 172px,#dce 0 174px,#ecd 0 177px,#cbe 0 181px,#ddf 0 182px,#fff 0 188px,#fee 0 192px,#bbf 0 196px,#fee 0 198px,#f77 0 202px,#ecd 0 204px,#fdd 0 208px,#dcf 0 212px,#cbe 0 214px,#e9a 0 217px,#fbb 0 219px,#edf 0 222px,#fee 0 224px,#faa 0 227px,#ccf 0 230px,#ddf 0 232px,#fbb 0 235px,#ede 0 239px,#fdd 0 242px,#cbf 0 244px,#dbd 0 248px,#fdd 0 251px,#dbc 0 253px,#bad 0 255px,#ecd 0 257px,#bbf 0 259px,#dce 0 261px,#ccf 0 263px,#aaf 0 267px,#faa 0 269px,#ede 0 273px,#cbf 0 277px,#dad 0 279px,#ede 0 281px,#dce 0 289px,#fee 0 293px,#cce 0 295px,#ede 0 299px,#baf 0 301px,#ecc 0 303px,#dcd 0 307px,#dce 0 309px,#dac 0 313px,#dce 0 316px,#eef 0 318px,#ecd 0 322px,#fff 0 324px,#eee 0 326px,#ddf 0 328px,#fdd 0 330px,#bbf 0 332px,#cbf 0 334px,#edf 0 336px,#ebc 0 340px,#fff 0 342px,#bbf 0 345px,#fcc 0 347px,#ecc 0 351px,#ddf 0 355px,#bbf 0 359px,#ccf 0 362px,#cbe 0 364px,#ecd 0 368px,#fcc 0 370px,#ecd 0 373px,#ede 0 376px,#ccf 0 378px,#fcc 0 382px,#ebc 0 385px,#bbf 0 387px,#cce 0 391px,#eee 0 393px,#fee 0 396px,#dcf 0 399px,#fdd 0 401px,#cbf 0 404px,#b9d 0 407px,#dde 0 411px,#ddf 0 414px,#eee 0 416px,#baf 0 422px,#bbf 0 424px,#fcc 0 425px,#fff 0 430px,#ede 0 434px,#fff 0 442px,#f77 0 444px,#fdd 0 446px,#fcd 0 449px,#fbb 0 451px,#faa 0 454px,#fcc 0 456px,#f88 0 459px,#f99 0 463px,#fdd 0 465px,#faa 0 468px,#ecd 0 472px,#fbb 0 476px,#faa 0 480px,#f99 0 484px,#faa 0 487px,#f99 0 489px,#ede 0 491px,#fcc 0 495px,#eaa 0 499px,#f88 0 503px,#f66 0 505px,#fff 0 510px,#ecd 0 513px,#bbf 0 516px,#ecd 0 518px,#faa 0 521px,#f99 0 524px,#ecc 0 527px,#fbb 0 529px,#eaa 0 533px,#f77 0 536px,#eef 0 538px,#eab 0 542px,#ddf 0 545px,#f55 0 548px,#fbb 0 551px,#faa 0 555px,#fbb 0 558px,#fff 0 560px,#fde 0 563px,#eaa 0 565px,#dac 0 567px,#fcc 0 570px,#fdd 0 574px,#e9a 0 576px,#fbb 0 578px,#f77 0 579px,#fff 0 583px,#fdd 0 586px)"></div>
<div class="a" style="left:0;width:587px;top:375.79px;height:14.32px;background:linear-gradient(90deg,#ccf 0 2px,#f99 0 5px,#dce 0 9px,#ebc 0 12px,#ede 0 15px,#dce 0 22px,#edf 0 25px,#e89 0 29px,#eaa 0 31px,#ece 0 34px,#fff 0 37px,#eef 0 39px,#dcf 0 41px,#ece 0 45px,#ccf 0 48px,#ece 0 51px,#eab 0 55px,#faa 0 58px,#ecd 0 61px,#dab 0 63px,#dce 0 65px,#ddf 0 67px,#fdd 0 69px,#fbb 0 72px,#fdd 0 74px,#ddf 0 77px,#fdd 0 80px,#ede 0 83px,#eef 0 85px,#faa 0 89px,#ecd 0 93px,#f99 0 95px,#ddf 0 97px,#ede 0 99px,#ccf 0 102px,#aaf 0 106px,#a9e 0 109px,#dce 0 112px,#ede 0 116px,#ddf 0 119px,#baf 0 123px,#fdd 0 125px,#b9d 0 129px,#eef 0 132px,#fdd 0 135px,#cbe 0 139px,#ecd 0 146px,#eef 0 148px,#edf 0 152px,#99e 0 154px,#ede 0 156px,#aaf 0 158px,#faa 0 160px,#dce 0 164px,#dcf 0 166px,#bbf 0 170px,#a9e 0 172px,#ecc 0 174px,#ccf 0 177px,#eef 0 181px,#87e 0 182px,#fff 0 186px,#e9a 0 188px,#fbb 0 192px,#edf 0 196px,#ddf 0 198px,#f55 0 202px,#eab 0 204px,#faa 0 208px,#dde 0 212px,#bbf 0 214px,#fbb 0 217px,#fcc 0 219px,#dac 0 222px,#fcc 0 224px,#fee 0 227px,#ede 0 230px,#fef 0 232px,#edd 0 235px,#eef 0 239px,#ebc 0 242px,#aae 0 244px,#f88 0 248px,#fdd 0 251px,#ecd 0 253px,#ccf 0 255px,#faa 0 257px,#eef 0 259px,#dde 0 261px,#ccf 0 263px,#ecc 0 267px,#eef 0 269px,#bbf 0 273px,#ccf 0 277px,#ecc 0 279px,#ede 0 281px,#bbf 0 285px,#ede 0 293px,#ecd 0 295px,#ede 0 299px,#eef 0 301px,#ddf 0 303px,#fee 0 307px,#eee 0 309px,#bbf 0 313px,#ccf 0 316px,#fbb 0 318px,#ecd 0 322px,#dbd 0 324px,#c7a 0 326px,#ddf 0 328px,#c9b 0 330px,#ddf 0 332px,#aae 0 334px,#ccf 0 336px,#cbf 0 340px,#eef 0 342px,#bbf 0 345px,#fbb 0 347px,#ecd 0 351px,#dbc 0 355px,#99e 0 359px,#ede 0 362px,#ddf 0 364px,#ecd 0 368px,#fee 0 370px,#ecd 0 376px,#ede 0 378px,#ebb 0 382px,#fee 0 385px,#ddf 0 387px,#ecd 0 391px,#ddf 0 393px,#eab 0 396px,#fcd 0 399px,#eef 0 401px,#fff 0 404px,#fee 0 407px,#ddf 0 411px,#bae 0 414px,#c9c 0 416px,#edd 0 419px,#ddf 0 422px,#bbf 0 424px,#88e 0 425px,#fff 0 430px,#fee 0 434px,#fff 0 442px,#f88 0 444px,#fdd 0 446px,#bbf 0 449px,#faa 0 451px,#ecd 0 456px,#ede 0 459px,#ecc 0 463px,#fff 0 465px,#dde 0 468px,#ecc 0 472px,#fbb 0 476px,#edd 0 480px,#eab 0 484px,#fcc 0 487px,#f66 0 489px,#ddf 0 491px,#faa 0 495px,#dce 0 499px,#ece 0 503px,#d68 0 505px,#fff 0 510px,#e89 0 513px,#cbf 0 516px,#fee 0 518px,#ebc 0 521px,#fbb 0 524px,#fcc 0 527px,#fbb 0 529px,#edf 0 533px,#faa 0 538px,#dce 0 542px,#ccf 0 545px,#f99 0 548px,#dcd 0 551px,#dce 0 555px,#ede 0 560px,#ecc 0 563px,#dce 0 565px,#faa 0 567px,#fcc 0 570px,#edf 0 574px,#fcc 0 576px,#fdd 0 578px,#fcc 0 579px,#fff 0 583px,#fde 0 586px)"></div>
<div class="a" style="left:0;width:587px;top:389.70px;height:14.32px;background:linear-gradient(90deg,#dcf 0 2px,#fcc 0 5px,#ccf 0 9px,#fee 0 12px,#dde 0 15px,#ddf 0 18px,#dcd 0 22px,#cbe 0 25px,#fcc 0 29px,#fdd 0 31px,#99e 0 34px,#dbd 0 37px,#ccf 0 39px,#dcd 0 41px,#cbe 0 45px,#eee 0 48px,#ddf 0 51px,#fdd 0 55px,#eaa 0 58px,#bbe 0 61px,#fdd 0 63px,#a9e 0 65px,#eef 0 67px,#fbb 0 72px,#dcf 0 74px,#ccf 0 77px,#fee 0 80px,#cac 0 83px,#ede 0 85px,#faa 0 89px,#ddf 0 93px,#ecc 0 95px,#ebc 0 97px,#f77 0 99px,#eef 0 102px,#ddf 0 106px,#fee 0 109px,#fdd 0 112px,#ebb 0 116px,#ecd 0 119px,#fcc 0 123px,#dbe 0 125px,#ddf 0 129px,#dbc 0 132px,#fdd 0 135px,#ede 0 139px,#fbb 0 143px,#f77 0 146px,#fcc 0 148px,#ece 0 152px,#fcc 0 154px,#dce 0 156px,#bbf 0 158px,#fbb 0 160px,#e99 0 164px,#eef 0 166px,#ede 0 170px,#cbf 0 172px,#f88 0 174px,#ccf 0 177px,#dde 0 181px,#fdd 0 182px,#fff 0 186px,#ece 0 188px,#fbb 0 192px,#edf 0 196px,#a9e 0 198px,#e9a 0 202px,#f99 0 204px,#ddf 0 208px,#ccf 0 212px,#aaf 0 214px,#eaa 0 217px,#dce 0 219px,#dcf 0 222px,#fdd 0 224px,#dad 0 227px,#ddf 0 230px,#dce 0 232px,#ecd 0 235px,#ddf 0 239px,#faa 0 242px,#ccf 0 244px,#ebd 0 248px,#ede 0 251px,#ddf 0 253px,#baf 0 255px,#dab 0 257px,#ddf 0 259px,#bbf 0 261px,#edf 0 263px,#ccf 0 267px,#ddf 0 269px,#baf 0 273px,#a9e 0 277px,#baf 0 279px,#ede 0 281px,#ccf 0 289px,#cbe 0 293px,#edd 0 295px,#ecd 0 299px,#eef 0 301px,#ebc 0 303px,#cbf 0 307px,#dbd 0 309px,#dcd 0 313px,#fcc 0 316px,#cbf 0 318px,#fdd 0 322px,#dce 0 324px,#ccf 0 326px,#fcc 0 328px,#eef 0 330px,#ddf 0 332px,#cbe 0 334px,#ece 0 336px,#dce 0 340px,#ede 0 342px,#ddf 0 345px,#f88 0 347px,#faa 0 351px,#dcf 0 355px,#ebc 0 359px,#fdd 0 364px,#fee 0 370px,#fcc 0 376px,#cbf 0 378px,#fdd 0 382px,#f99 0 385px,#ddf 0 387px,#fcd 0 391px,#eee 0 393px,#ecd 0 396px,#eab 0 399px,#fdd 0 401px,#edf 0 404px,#fcc 0 407px,#fcd 0 411px,#fcc 0 414px,#eef 0 416px,#ccf 0 419px,#eef 0 422px,#ddf 0 424px,#eef 0 425px,#fff 0 430px,#fee 0 434px,#fff 0 442px,#f88 0 444px,#f99 0 446px,#ebc 0 449px,#fbb 0 451px,#fcc 0 456px,#ebc 0 459px,#f9a 0 463px,#a9e 0 465px,#faa 0 468px,#f77 0 472px,#faa 0 480px,#fab 0 484px,#f88 0 487px,#f99 0 489px,#fcc 0 491px,#dac 0 495px,#ede 0 499px,#f66 0 503px,#fcc 0 505px,#fff 0 510px,#ebb 0 513px,#ccf 0 516px,#edd 0 518px,#f77 0 521px,#fbb 0 524px,#f77 0 527px,#fee 0 529px,#edd 0 533px,#fbb 0 536px,#fcc 0 538px,#ecd 0 542px,#dce 0 545px,#fbb 0 551px,#fdd 0 555px,#eee 0 558px,#bbf 0 560px,#ede 0 563px,#fee 0 565px,#f99 0 567px,#fee 0 570px,#edf 0 574px,#f66 0 576px,#ebb 0 578px,#ddf 0 579px,#fff 0 583px,#fdd 0 586px)"></div>
<div class="a" style="left:0;width:587px;top:403.62px;height:14.32px;background:linear-gradient(90deg,#cbe 0 2px,#dbd 0 5px,#dde 0 9px,#d89 0 12px,#dde 0 15px,#ecd 0 18px,#cbe 0 22px,#bbf 0 25px,#fcd 0 29px,#ebb 0 31px,#ddf 0 34px,#dce 0 37px,#fcc 0 39px,#ddf 0 41px,#cbd 0 45px,#ddf 0 48px,#fdd 0 51px,#f99 0 55px,#eab 0 58px,#dce 0 61px,#cad 0 63px,#ccf 0 65px,#eef 0 67px,#fcc 0 69px,#fbb 0 72px,#ccf 0 74px,#dcd 0 77px,#ecd 0 80px,#fcc 0 83px,#ecc 0 85px,#ede 0 89px,#f99 0 93px,#dce 0 95px,#fee 0 97px,#eee 0 99px,#fab 0 102px,#eef 0 106px,#ecd 0 109px,#fcc 0 112px,#ebc 0 116px,#ede 0 119px,#ebc 0 123px,#faa 0 125px,#dde 0 129px,#ecd 0 132px,#faa 0 135px,#bbf 0 139px,#fdd 0 143px,#faa 0 146px,#ecd 0 148px,#ede 0 152px,#dcd 0 154px,#ecd 0 156px,#ddf 0 158px,#fbb 0 160px,#fcc 0 164px,#ddf 0 166px,#eef 0 170px,#bbf 0 172px,#fcc 0 181px,#ccf 0 182px,#fff 0 186px,#eef 0 192px,#ccf 0 196px,#fee 0 198px,#f99 0 202px,#edf 0 204px,#aaf 0 208px,#ccf 0 212px,#bbf 0 214px,#fcc 0 217px,#ccf 0 219px,#ede 0 222px,#fff 0 224px,#fbb 0 227px,#ebd 0 230px,#fdd 0 232px,#fbb 0 235px,#ebb 0 239px,#ebc 0 242px,#ccf 0 244px,#ede 0 251px,#eef 0 253px,#ddf 0 257px,#bbf 0 259px,#fee 0 261px,#ccf 0 263px,#dde 0 267px,#dcf 0 269px,#ccf 0 273px,#bae 0 277px,#ccf 0 279px,#cae 0 281px,#dce 0 285px,#ccf 0 289px,#dbd 0 293px,#fee 0 295px,#ecd 0 299px,#ccf 0 301px,#fbb 0 303px,#cbf 0 307px,#aae 0 309px,#ede 0 313px,#ecd 0 316px,#edd 0 318px,#ddf 0 322px,#fcc 0 324px,#eef 0 326px,#faa 0 328px,#ece 0 330px,#edd 0 332px,#a9f 0 334px,#eef 0 336px,#dbd 0 340px,#ddf 0 342px,#cbe 0 345px,#fcc 0 347px,#ecd 0 351px,#baf 0 355px,#cbe 0 359px,#faa 0 362px,#fdd 0 364px,#ede 0 368px,#dbd 0 370px,#eef 0 373px,#dce 0 376px,#ecd 0 378px,#edd 0 382px,#fbb 0 385px,#fdd 0 387px,#fee 0 391px,#ccf 0 393px,#f99 0 396px,#eab 0 399px,#bbf 0 401px,#fdd 0 404px,#ddf 0 407px,#bbf 0 411px,#dde 0 414px,#ede 0 416px,#bbf 0 419px,#aaf 0 422px,#eef 0 424px,#fdd 0 425px,#fff 0 434px,#fff 0 442px,#ecd 0 444px,#fbb 0 446px,#dce 0 449px,#dbd 0 451px,#f88 0 454px,#dbd 0 456px,#fbb 0 459px,#faa 0 463px,#dce 0 465px,#faa 0 472px,#f88 0 476px,#eab 0 480px,#dad 0 484px,#fbb 0 487px,#faa 0 491px,#f88 0 495px,#dce 0 499px,#fcc 0 503px,#eee 0 505px,#fff 0 510px,#fcc 0 513px,#bbf 0 516px,#faa 0 518px,#fee 0 521px,#f88 0 524px,#f55 0 527px,#fdd 0 529px,#dbd 0 533px,#f99 0 536px,#fbb 0 538px,#ede 0 542px,#ddf 0 545px,#e99 0 548px,#fee 0 551px,#faa 0 555px,#eab 0 558px,#dce 0 560px,#f99 0 563px,#ccf 0 565px,#f55 0 567px,#faa 0 570px,#ede 0 574px,#f88 0 576px,#faa 0 578px,#fee 0 579px,#fff 0 583px,#ecd 0 586px)"></div>
<div class="a" style="left:0;width:587px;top:417.54px;height:14.32px;background:linear-gradient(90deg,#bbf 0 2px,#fcc 0 5px,#ddf 0 9px,#eee 0 12px,#fcc 0 15px,#ede 0 22px,#bbf 0 25px,#ecd 0 29px,#fee 0 31px,#eef 0 34px,#ddf 0 37px,#fdd 0 39px,#eef 0 41px,#ecd 0 45px,#cbd 0 48px,#fcc 0 51px,#fcd 0 55px,#fbb 0 58px,#aaf 0 61px,#fdd 0 63px,#eef 0 65px,#baf 0 67px,#fbb 0 69px,#fdd 0 72px,#ece 0 74px,#baf 0 77px,#ddf 0 80px,#ede 0 83px,#ebb 0 85px,#fbb 0 89px,#ecc 0 93px,#ccf 0 97px,#fcc 0 102px,#ddf 0 109px,#ecd 0 112px,#dde 0 116px,#ebc 0 119px,#ddf 0 123px,#edf 0 125px,#ddf 0 129px,#dbd 0 132px,#fdd 0 135px,#ede 0 143px,#ecc 0 146px,#fee 0 148px,#cbe 0 152px,#bbf 0 154px,#fbb 0 156px,#ccf 0 158px,#f99 0 160px,#dbd 0 164px,#edf 0 166px,#ecd 0 170px,#aaf 0 172px,#fee 0 174px,#fbb 0 177px,#eef 0 181px,#baf 0 182px,#fff 0 186px,#fcc 0 188px,#dce 0 192px,#dde 0 196px,#ccf 0 198px,#faa 0 202px,#edd 0 204px,#dbd 0 208px,#ccf 0 212px,#edf 0 214px,#fdd 0 217px,#fbb 0 219px,#fcc 0 222px,#ede 0 224px,#dce 0 227px,#bbf 0 230px,#ddf 0 232px,#f88 0 235px,#fde 0 239px,#eab 0 242px,#ddf 0 244px,#e9a 0 248px,#fee 0 251px,#fde 0 253px,#baf 0 255px,#fee 0 257px,#ddf 0 259px,#fff 0 261px,#eef 0 263px,#cbf 0 267px,#ccf 0 269px,#bbf 0 273px,#aaf 0 277px,#99e 0 279px,#fbb 0 281px,#cbe 0 285px,#eef 0 289px,#dcd 0 293px,#dac 0 295px,#ecd 0 299px,#eef 0 301px,#fdd 0 303px,#eef 0 307px,#ddf 0 309px,#fee 0 313px,#ede 0 316px,#ecd 0 318px,#fcc 0 322px,#fbb 0 324px,#fee 0 326px,#ede 0 328px,#faa 0 330px,#ddf 0 332px,#bbf 0 334px,#eee 0 336px,#dde 0 340px,#edf 0 342px,#ecd 0 345px,#fee 0 347px,#ebc 0 351px,#ece 0 355px,#cbe 0 359px,#fcc 0 362px,#fdd 0 364px,#ede 0 368px,#fbb 0 370px,#fee 0 373px,#ede 0 376px,#fff 0 378px,#ede 0 382px,#faa 0 387px,#fdd 0 391px,#ddf 0 393px,#fcc 0 396px,#faa 0 401px,#fbb 0 404px,#dbd 0 407px,#cbd 0 411px,#ebc 0 414px,#ede 0 419px,#ccf 0 422px,#fcc 0 424px,#dcf 0 425px,#fff 0 430px,#fee 0 434px,#fff 0 442px,#fee 0 446px,#cbe 0 449px,#eef 0 451px,#fcc 0 454px,#fdd 0 456px,#edd 0 459px,#fbb 0 463px,#edd 0 465px,#fcc 0 468px,#ede 0 472px,#faa 0 476px,#fdd 0 480px,#ebb 0 484px,#f88 0 489px,#dbc 0 491px,#faa 0 495px,#ede 0 499px,#faa 0 503px,#ebb 0 505px,#fff 0 510px,#ecd 0 513px,#ccf 0 516px,#eef 0 518px,#ecd 0 521px,#ebc 0 524px,#fcc 0 527px,#d9a 0 529px,#ede 0 533px,#f88 0 536px,#ede 0 538px,#dbd 0 542px,#baf 0 545px,#f77 0 548px,#ede 0 551px,#faa 0 555px,#fbb 0 558px,#ecd 0 560px,#f9a 0 563px,#fee 0 565px,#fbb 0 567px,#eee 0 570px,#dce 0 574px,#eef 0 576px,#faa 0 578px,#f99 0 579px,#fff 0 583px,#fdd 0 586px)"></div>
<div class="a" style="left:0;width:587px;top:431.46px;height:14.32px;background:linear-gradient(90deg,#dce 0 5px,#cce 0 9px,#ebc 0 12px,#ede 0 15px,#dcf 0 18px,#bbf 0 22px,#dbd 0 25px,#dde 0 29px,#fcc 0 31px,#ccf 0 34px,#ede 0 37px,#ddf 0 39px,#bbf 0 41px,#dce 0 45px,#bbe 0 48px,#fdd 0 51px,#ecd 0 55px,#fcc 0 58px,#bbf 0 61px,#ede 0 63px,#bbf 0 65px,#fdd 0 67px,#ede 0 72px,#fdd 0 74px,#dbd 0 77px,#bbf 0 80px,#dbd 0 83px,#eef 0 85px,#cce 0 89px,#ccf 0 93px,#fee 0 95px,#fcc 0 97px,#fdd 0 99px,#ecd 0 102px,#bbf 0 106px,#ede 0 109px,#dbc 0 112px,#ecd 0 116px,#ddf 0 119px,#dce 0 123px,#bbf 0 125px,#cad 0 129px,#faa 0 132px,#fcc 0 135px,#eef 0 139px,#ede 0 143px,#faa 0 146px,#dde 0 148px,#ede 0 152px,#dcf 0 154px,#fdd 0 156px,#ccf 0 158px,#f99 0 160px,#fdd 0 164px,#dce 0 166px,#ccf 0 170px,#98e 0 172px,#fbb 0 174px,#ddf 0 177px,#ede 0 181px,#cbf 0 182px,#fff 0 186px,#eef 0 188px,#ebc 0 192px,#dcf 0 196px,#aae 0 198px,#fbb 0 202px,#dcf 0 204px,#eef 0 208px,#dcf 0 212px,#ccf 0 214px,#eef 0 217px,#cbf 0 219px,#ccf 0 224px,#ddf 0 227px,#dde 0 230px,#fbb 0 235px,#ede 0 239px,#ecd 0 242px,#87e 0 244px,#ede 0 248px,#ddf 0 253px,#ccf 0 259px,#eef 0 261px,#99e 0 263px,#ebd 0 267px,#fcd 0 269px,#a9e 0 273px,#bae 0 277px,#eef 0 279px,#eee 0 281px,#bbe 0 285px,#dce 0 289px,#ddf 0 293px,#edf 0 295px,#dbd 0 299px,#eee 0 301px,#fff 0 303px,#dce 0 307px,#fcc 0 309px,#ede 0 313px,#eef 0 316px,#eac 0 318px,#fcc 0 322px,#fdd 0 324px,#ebb 0 326px,#faa 0 330px,#cad 0 332px,#dab 0 334px,#ccf 0 336px,#baf 0 340px,#f99 0 342px,#ccf 0 345px,#fee 0 347px,#fbc 0 351px,#cbd 0 355px,#99e 0 359px,#fee 0 362px,#eee 0 364px,#faa 0 368px,#fee 0 370px,#edd 0 373px,#ebc 0 376px,#eef 0 378px,#dac 0 382px,#fee 0 385px,#ecd 0 387px,#dbd 0 391px,#fee 0 393px,#fdd 0 396px,#ecd 0 399px,#eef 0 401px,#ede 0 404px,#ecd 0 407px,#ede 0 411px,#ddf 0 414px,#dbd 0 419px,#ccf 0 422px,#cbe 0 424px,#ddf 0 425px,#fff 0 430px,#fee 0 434px,#fff 0 442px,#f55 0 444px,#dcd 0 446px,#ccf 0 449px,#fbb 0 451px,#e88 0 454px,#fdd 0 456px,#f89 0 459px,#f88 0 463px,#fee 0 465px,#ebb 0 468px,#faa 0 476px,#f99 0 480px,#f88 0 484px,#fcc 0 487px,#f22 0 489px,#fdd 0 491px,#fde 0 495px,#edd 0 499px,#fee 0 503px,#f88 0 505px,#fff 0 510px,#fcc 0 513px,#ddf 0 516px,#fcc 0 521px,#f88 0 524px,#f55 0 527px,#f99 0 529px,#ecd 0 533px,#f77 0 536px,#f99 0 538px,#fcc 0 542px,#ede 0 545px,#f88 0 548px,#ebc 0 551px,#f77 0 555px,#ebb 0 558px,#ddf 0 560px,#fee 0 563px,#eab 0 565px,#f99 0 567px,#fcc 0 570px,#edd 0 574px,#fcc 0 576px,#fdd 0 578px,#fff 0 579px,#fff 0 583px,#ede 0 586px)"></div>
<div class="a" style="left:0;width:587px;top:445.38px;height:13.92px;background:linear-gradient(90deg,#cbf 0 2px,#cbe 0 5px,#bbe 0 9px,#edd 0 12px,#fcd 0 15px,#ddf 0 18px,#cbd 0 22px,#cbe 0 25px,#fcc 0 29px,#fbb 0 31px,#ddf 0 34px,#dce 0 37px,#ddf 0 39px,#ede 0 41px,#cbe 0 45px,#ccf 0 48px,#ede 0 51px,#fcc 0 55px,#dde 0 58px,#cbe 0 61px,#cbf 0 63px,#88e 0 65px,#aaf 0 67px,#fee 0 69px,#f99 0 72px,#aaf 0 74px,#ddf 0 77px,#cbe 0 80px,#eef 0 83px,#dce 0 85px,#edd 0 89px,#cbe 0 93px,#fee 0 95px,#fef 0 97px,#faa 0 102px,#dde 0 106px,#ddf 0 109px,#fef 0 112px,#f99 0 116px,#eef 0 119px,#eee 0 123px,#ecd 0 125px,#cad 0 129px,#fcc 0 132px,#faa 0 135px,#ebc 0 139px,#fbb 0 143px,#f88 0 146px,#fee 0 148px,#fdd 0 154px,#fee 0 156px,#dce 0 158px,#f88 0 160px,#ebc 0 166px,#ede 0 170px,#cbf 0 172px,#ecd 0 174px,#ede 0 177px,#ebb 0 181px,#fee 0 182px,#fff 0 186px,#fbb 0 188px,#bbf 0 192px,#ebc 0 196px,#edf 0 198px,#f99 0 202px,#ebb 0 204px,#ede 0 208px,#dcf 0 212px,#ddf 0 214px,#fbb 0 217px,#ede 0 219px,#ebc 0 222px,#dbd 0 224px,#fdd 0 227px,#ddf 0 230px,#ecc 0 232px,#ebb 0 235px,#dac 0 239px,#f99 0 242px,#bbf 0 244px,#faa 0 248px,#ede 0 251px,#fbb 0 253px,#ccf 0 255px,#dde 0 257px,#dce 0 259px,#fee 0 261px,#aaf 0 263px,#dde 0 267px,#fbb 0 269px,#bbf 0 277px,#fdd 0 279px,#dcf 0 281px,#dad 0 285px,#eef 0 289px,#fcc 0 293px,#fdd 0 295px,#ecd 0 299px,#eef 0 301px,#bbf 0 303px,#cbe 0 307px,#cbf 0 309px,#edf 0 313px,#fee 0 316px,#fbb 0 318px,#dce 0 322px,#fcc 0 324px,#fff 0 326px,#fcc 0 328px,#fbb 0 330px,#eef 0 332px,#ccf 0 334px,#baf 0 336px,#ddf 0 340px,#fdd 0 347px,#fcc 0 351px,#ede 0 355px,#cbf 0 359px,#edd 0 362px,#ecc 0 364px,#eef 0 368px,#fdd 0 370px,#ede 0 373px,#ecd 0 376px,#fee 0 378px,#edd 0 382px,#e9a 0 385px,#ecd 0 387px,#dbd 0 391px,#ede 0 396px,#fcc 0 399px,#ddf 0 401px,#eef 0 404px,#ccf 0 407px,#ddf 0 411px,#dce 0 414px,#fee 0 416px,#dcf 0 419px,#eef 0 422px,#ddf 0 424px,#eef 0 425px,#fff 0 430px,#fef 0 434px,#fff 0 442px,#fdd 0 444px,#eef 0 446px,#ddf 0 451px,#fbb 0 454px,#f77 0 456px,#fcc 0 463px,#eef 0 465px,#fee 0 468px,#fef 0 472px,#fdd 0 476px,#faa 0 487px,#f88 0 489px,#fff 0 491px,#fdd 0 495px,#dad 0 499px,#f99 0 503px,#f22 0 505px,#fff 0 510px,#fbc 0 513px,#bbf 0 516px,#f77 0 518px,#ecd 0 521px,#fdd 0 524px,#f77 0 527px,#bbf 0 529px,#ebc 0 533px,#f66 0 536px,#fcc 0 538px,#ebc 0 542px,#cbe 0 545px,#f66 0 548px,#fbb 0 551px,#faa 0 555px,#fbb 0 558px,#dce 0 560px,#ede 0 563px,#ccf 0 565px,#ece 0 567px,#faa 0 570px,#cad 0 574px,#fdd 0 576px,#f88 0 578px,#f44 0 579px,#fff 0 583px,#fdd 0 586px)"></div>
</div>
<div class="a" style="left:27.4px;top:1166.30px;width:14.3px;height:14.22px;background:#8ecfd0"></div>
<div class="a" style="left:44.5px;top:1166.30px;width:14.4px;height:14.22px;background:#ff2020"></div>
<div class="a" style="left:61.8px;top:1166.30px;width:14.5px;height:14.22px;background:#1010f0"></div>
<div class="t r" style="left:670.3px;top:1167.06px">KEGG<s>_</s>PYRUVATE<s>_</s>METABOLISM **</div>
<div class="a" style="left:27.4px;top:1180.22px;width:14.3px;height:14.22px;background:#8ecfd0"></div>
<div class="a" style="left:44.5px;top:1180.22px;width:14.4px;height:14.22px;background:#ffb0b0"></div>
<div class="a" style="left:61.8px;top:1180.22px;width:14.5px;height:14.22px;background:#a8a8ff"></div>
<div class="t r" style="left:670.3px;top:1180.98px">KEGG<s>_</s>TRYPTOPHAN<s>_</s>METABOLISM **</div>
<div class="a" style="left:27.4px;top:1194.14px;width:14.3px;height:14.22px;background:#8ecfd0"></div>
<div class="a" style="left:44.5px;top:1194.14px;width:14.4px;height:14.22px;background:#ffb0b0"></div>
<div class="a" style="left:61.8px;top:1194.14px;width:14.5px;height:14.22px;background:#8080ff"></div>
<div class="t r" style="left:670.3px;top:1194.89px">KEGG<s>_</s>LINOLEIC<s>_</s>ACID<s>_</s>METABOLISM **</div>
<div class="a" style="left:27.4px;top:1208.05px;width:14.3px;height:14.22px;background:#8ecfd0"></div>
<div class="a" style="left:44.5px;top:1208.05px;width:14.4px;height:14.22px;background:#ffc0c0"></div>
<div class="a" style="left:61.8px;top:1208.05px;width:14.5px;height:14.22px;background:#a8a8ff"></div>
<div class="t r" style="left:670.3px;top:1208.81px">KEGG<s>_</s>DRUG<s>_</s>METABOLISM<s>_</s>CYTOCHROME<s>_</s>P450 **</div>
<div class="a" style="left:27.4px;top:1221.97px;width:14.3px;height:14.22px;background:#8ecfd0"></div>
<div class="a" style="left:44.5px;top:1221.97px;width:14.4px;height:14.22px;background:#ff7070"></div>
<div class="a" style="left:61.8px;top:1221.97px;width:14.5px;height:14.22px;background:#7070ff"></div>
<div class="t r" style="left:670.3px;top:1222.73px">KEGG<s>_</s>RETINOL<s>_</s>METABOLISM **</div>
<div class="a" style="left:27.4px;top:1235.89px;width:14.3px;height:14.22px;background:#8ecfd0"></div>
<div class="a" style="left:44.5px;top:1235.89px;width:14.4px;height:14.22px;background:#ff3838"></div>
<div class="a" style="left:61.8px;top:1235.89px;width:14.5px;height:14.22px;background:#2020ff"></div>
<div class="t r" style="left:670.3px;top:1236.65px">KEGG<s>_</s>TERPENOID<s>_</s>BACKBONE<s>_</s>BIOSYNTHESIS **</div>
<div class="a" style="left:27.4px;top:1249.81px;width:14.3px;height:14.22px;background:#8ecfd0"></div>
<div class="a" style="left:44.5px;top:1249.81px;width:14.4px;height:14.22px;background:#ffb4b4"></div>
<div class="a" style="left:61.8px;top:1249.81px;width:14.5px;height:14.22px;background:#9898ff"></div>
<div class="t r" style="left:670.3px;top:1250.57px">KEGG<s>_</s>OXIDATIVE<s>_</s>PHOSPHORYLATION **</div>
<div class="a" style="left:27.4px;top:1263.73px;width:14.3px;height:14.22px;background:#8ecfd0"></div>
<div class="a" style="left:44.5px;top:1263.73px;width:14.4px;height:14.22px;background:#ff2c2c"></div>
<div class="a" style="left:61.8px;top:1263.73px;width:14.5px;height:14.22px;background:#0000f0"></div>
<div class="t r" style="left:670.3px;top:1264.48px">KEGG<s>_</s>LIMONENE<s>_</s>AND<s>_</s>PINENE<s>_</s>DEGRADATION **</div>
<div class="a" style="left:27.4px;top:1277.64px;width:14.3px;height:14.22px;background:#8ecfd0"></div>
<div class="a" style="left:44.5px;top:1277.64px;width:14.4px;height:14.22px;background:#ffb0b0"></div>
<div class="a" style="left:61.8px;top:1277.64px;width:14.5px;height:14.22px;background:#a0a0ff"></div>
<div class="t r" style="left:670.3px;top:1278.40px">KEGG<s>_</s>HUNTINGTONS<s>_</s>DISEASE **</div>
<div class="a" style="left:27.4px;top:1291.56px;width:14.3px;height:14.22px;background:#8ecfd0"></div>
<div class="a" style="left:44.5px;top:1291.56px;width:14.4px;height:14.22px;background:#ffc8c8"></div>
<div class="a" style="left:61.8px;top:1291.56px;width:14.5px;height:14.22px;background:#6868ff"></div>
<div class="t" style="left:670.3px;top:1292.32px">KEGG<s>_</s>AMINOACYL<s>_</s>TRNA<s>_</s>BIOSYNTHESIS</div>
<div class="a" style="left:27.4px;top:1305.48px;width:14.3px;height:14.22px;background:#8ecfd0"></div>
<div class="a" style="left:44.5px;top:1305.48px;width:14.4px;height:14.22px;background:#ffa8a8"></div>
<div class="a" style="left:61.8px;top:1305.48px;width:14.5px;height:14.22px;background:#b0b0ff"></div>
<div class="t" style="left:670.3px;top:1306.24px">KEGG<s>_</s>ARGININE<s>_</s>AND<s>_</s>PROLINE<s>_</s>METABOLISM</div>
<div class="a" style="left:27.4px;top:1319.40px;width:14.3px;height:14.22px;background:#8ecfd0"></div>
<div class="a" style="left:44.5px;top:1319.40px;width:14.4px;height:14.22px;background:#ff2c2c"></div>
<div class="a" style="left:61.8px;top:1319.40px;width:14.5px;height:14.22px;background:#0000f0"></div>
<div class="t" style="left:670.3px;top:1320.16px">KEGG<s>_</s>ASCORBATE<s>_</s>AND<s>_</s>ALDARATE<s>_</s>METABOLISM</div>
<div class="a" style="left:27.4px;top:1333.32px;width:14.3px;height:14.22px;background:#8ecfd0"></div>
<div class="a" style="left:44.5px;top:1333.32px;width:14.4px;height:14.22px;background:#ffcccc"></div>
<div class="a" style="left:61.8px;top:1333.32px;width:14.5px;height:14.22px;background:#a0a0ff"></div>
<div class="t" style="left:670.3px;top:1334.08px">KEGG<s>_</s>BETA<s>_</s>ALANINE<s>_</s>METABOLISM</div>
<div class="a" style="left:27.4px;top:1347.23px;width:14.3px;height:14.22px;background:#8ecfd0"></div>
<div class="a" style="left:44.5px;top:1347.23px;width:14.4px;height:14.22px;background:#fff4f4"></div>
<div class="a" style="left:61.8px;top:1347.23px;width:14.5px;height:14.22px;background:#a8a8ff"></div>
<div class="t" style="left:670.3px;top:1347.99px">KEGG<s>_</s>GLYOXYLATE<s>_</s>AND<s>_</s>DICARBOXYLATE<s>_</s>METABOLISM</div>
<div class="a" style="left:27.4px;top:1361.15px;width:14.3px;height:14.22px;background:#8ecfd0"></div>
<div class="a" style="left:44.5px;top:1361.15px;width:14.4px;height:14.22px;background:#ffd8d8"></div>
<div class="a" style="left:61.8px;top:1361.15px;width:14.5px;height:14.22px;background:#a8a8ff"></div>
<div class="t" style="left:670.3px;top:1361.91px">KEGG<s>_</s>BUTANOATE<s>_</s>METABOLISM</div>
<div class="a" style="left:27.4px;top:1375.07px;width:14.3px;height:14.22px;background:#8ecfd0"></div>
<div class="a" style="left:44.5px;top:1375.07px;width:14.4px;height:14.22px;background:#ffb8b8"></div>
<div class="a" style="left:61.8px;top:1375.07px;width:14.5px;height:14.22px;background:#a8a8ff"></div>
<div class="t" style="left:670.3px;top:1375.83px">KEGG<s>_</s>CARDIAC<s>_</s>MUSCLE<s>_</s>CONTRACTION</div>
<div class="a" style="left:27.4px;top:1388.99px;width:14.3px;height:14.22px;background:#8ecfd0"></div>
<div class="a" style="left:44.5px;top:1388.99px;width:14.4px;height:14.22px;background:#ff8888"></div>
<div class="a" style="left:61.8px;top:1388.99px;width:14.5px;height:14.22px;background:#7878ff"></div>
<div class="t" style="left:670.3px;top:1389.75px">KEGG<s>_</s>ONE<s>_</s>CARBON<s>_</s>POOL<s>_</s>BY<s>_</s>FOLATE</div>
<div class="a" style="left:27.4px;top:1402.91px;width:14.3px;height:14.22px;background:#8ecfd0"></div>
<div class="a" style="left:44.5px;top:1402.91px;width:14.4px;height:14.22px;background:#fffafa"></div>
<div class="a" style="left:61.8px;top:1402.91px;width:14.5px;height:14.22px;background:#b0b0ff"></div>
<div class="t" style="left:670.3px;top:1403.66px">KEGG<s>_</s>CYSTEINE<s>_</s>AND<s>_</s>METHIONINE<s>_</s>METABOLISM</div>
<div class="a" style="left:27.4px;top:1416.82px;width:14.3px;height:14.22px;background:#8ecfd0"></div>
<div class="a" style="left:44.5px;top:1416.82px;width:14.4px;height:14.22px;background:#ff8080"></div>
<div class="a" style="left:61.8px;top:1416.82px;width:14.5px;height:14.22px;background:#4848ff"></div>
<div class="t" style="left:670.3px;top:1417.58px">KEGG<s>_</s>DORSO<s>_</s>VENTRAL<s>_</s>AXIS<s>_</s>FORMATION</div>
<div class="a" style="left:27.4px;top:1430.74px;width:14.3px;height:14.22px;background:#8ecfd0"></div>
<div class="a" style="left:44.5px;top:1430.74px;width:14.4px;height:14.22px;background:#ff0000"></div>
<div class="a" style="left:61.8px;top:1430.74px;width:14.5px;height:14.22px;background:#0000f0"></div>
<div class="t" style="left:670.3px;top:1431.50px">KEGG<s>_</s>PROPANOATE<s>_</s>METABOLISM</div>
<div class="a" style="left:27.4px;top:1444.66px;width:14.3px;height:14.22px;background:#8ecfd0"></div>
<div class="a" style="left:44.5px;top:1444.66px;width:14.4px;height:14.22px;background:#ffe0e0"></div>
<div class="a" style="left:61.8px;top:1444.66px;width:14.5px;height:14.22px;background:#b0b0ff"></div>
<div class="t" style="left:670.3px;top:1445.42px">KEGG<s>_</s>FATTY<s>_</s>ACID<s>_</s>METABOLISM</div>
<div class="a" style="left:27.4px;top:1458.58px;width:14.3px;height:14.22px;background:#8ecfd0"></div>
<div class="a" style="left:44.5px;top:1458.58px;width:14.4px;height:14.22px;background:#ff2828"></div>
<div class="a" style="left:61.8px;top:1458.58px;width:14.5px;height:14.22px;background:#0000f0"></div>
<div class="t" style="left:670.3px;top:1459.34px">KEGG<s>_</s>GLYCOLYSIS<s>_</s>GLUCONEOGENESIS</div>
<div class="a" style="left:27.4px;top:1472.50px;width:14.3px;height:14.22px;background:#8ecfd0"></div>
<div class="a" style="left:44.5px;top:1472.50px;width:14.4px;height:14.22px;background:#ff6060"></div>
<div class="a" style="left:61.8px;top:1472.50px;width:14.5px;height:14.22px;background:#2828ff"></div>
<div class="t" style="left:670.3px;top:1473.25px">KEGG<s>_</s>NOTCH<s>_</s>SIGNALING<s>_</s>PATHWAY</div>
<div class="a" style="left:27.4px;top:1486.41px;width:14.3px;height:14.22px;background:#8ecfd0"></div>
<div class="a" style="left:44.5px;top:1486.41px;width:14.4px;height:14.22px;background:#ff8888"></div>
<div class="a" style="left:61.8px;top:1486.41px;width:14.5px;height:14.22px;background:#2020f8"></div>
<div class="t" style="left:670.3px;top:1487.17px">KEGG<s>_</s>O<s>_</s>GLYCAN<s>_</s>BIOSYNTHESIS</div>
<div class="a" style="left:27.4px;top:1500.33px;width:14.3px;height:14.22px;background:#8ecfd0"></div>
<div class="a" style="left:44.5px;top:1500.33px;width:14.4px;height:14.22px;background:#ffe4e4"></div>
<div class="a" style="left:61.8px;top:1500.33px;width:14.5px;height:14.22px;background:#9898ff"></div>
<div class="t" style="left:670.3px;top:1501.09px">KEGG<s>_</s>PROTEASOME</div>
<div class="a" style="left:27.4px;top:1514.25px;width:14.3px;height:14.22px;background:#8ecfd0"></div>
<div class="a" style="left:44.5px;top:1514.25px;width:14.4px;height:14.22px;background:#ff6464"></div>
<div class="a" style="left:61.8px;top:1514.25px;width:14.5px;height:14.22px;background:#4848ff"></div>
<div class="t" style="left:670.3px;top:1515.01px">KEGG<s>_</s>LYSINE<s>_</s>DEGRADATION</div>
<div class="a" style="left:27.4px;top:1528.17px;width:14.3px;height:14.22px;background:#8ecfd0"></div>
<div class="a" style="left:44.5px;top:1528.17px;width:14.4px;height:14.22px;background:#ff9090"></div>
<div class="a" style="left:61.8px;top:1528.17px;width:14.5px;height:14.22px;background:#8080ff"></div>
<div class="t" style="left:670.3px;top:1528.93px">KEGG<s>_</s>UBIQUITIN<s>_</s>MEDIATED<s>_</s>PROTEOLYSIS</div>
<div class="a" style="left:27.4px;top:1542.09px;width:14.3px;height:14.22px;background:#8ecfd0"></div>
<div class="a" style="left:44.5px;top:1542.09px;width:14.4px;height:14.22px;background:#fff8f8"></div>
<div class="a" style="left:61.8px;top:1542.09px;width:14.5px;height:14.22px;background:#8888ff"></div>
<div class="t" style="left:670.3px;top:1542.85px">KEGG<s>_</s>NITROGEN<s>_</s>METABOLISM</div>
<div class="a" style="left:27.4px;top:1556.00px;width:14.3px;height:14.22px;background:#8ecfd0"></div>
<div class="a" style="left:44.5px;top:1556.00px;width:14.4px;height:14.22px;background:#ffb0b0"></div>
<div class="a" style="left:61.8px;top:1556.00px;width:14.5px;height:14.22px;background:#7070ff"></div>
<div class="t" style="left:670.3px;top:1556.76px">KEGG<s>_</s>VALINE<s>_</s>LEUCINE<s>_</s>AND<s>_</s>ISOLEUCINE<s>_</s>DEGRADATION</div>
<div class="a" style="left:27.4px;top:1569.92px;width:14.3px;height:14.22px;background:#8ecfd0"></div>
<div class="a" style="left:44.5px;top:1569.92px;width:14.4px;height:14.22px;background:#fffafa"></div>
<div class="a" style="left:61.8px;top:1569.92px;width:14.5px;height:14.22px;background:#a0a0ff"></div>
<div class="t" style="left:670.3px;top:1570.68px">KEGG<s>_</s>NUCLEOTIDE<s>_</s>EXCISION<s>_</s>REPAIR</div>
<div class="a" style="left:27.4px;top:1583.84px;width:14.3px;height:14.22px;background:#8ecfd0"></div>
<div class="a" style="left:44.5px;top:1583.84px;width:14.4px;height:14.22px;background:#ffe0e0"></div>
<div class="a" style="left:61.8px;top:1583.84px;width:14.5px;height:14.22px;background:#7878ff"></div>
<div class="t" style="left:670.3px;top:1584.60px">KEGG<s>_</s>RNA<s>_</s>DEGRADATION</div>
<div class="a" style="left:27.4px;top:1597.76px;width:14.3px;height:14.22px;background:#8ecfd0"></div>
<div class="a" style="left:44.5px;top:1597.76px;width:14.4px;height:14.22px;background:#ff9090"></div>
<div class="a" style="left:61.8px;top:1597.76px;width:14.5px;height:14.22px;background:#a0a0ff"></div>
<div class="t" style="left:670.3px;top:1598.52px">KEGG<s>_</s>WNT<s>_</s>SIGNALING<s>_</s>PATHWAY</div>
<div class="a" style="left:27.4px;top:1611.68px;width:14.3px;height:13.92px;background:#8ecfd0"></div>
<div class="a" style="left:44.5px;top:1611.68px;width:14.4px;height:13.92px;background:#ffe4e4"></div>
<div class="a" style="left:61.8px;top:1611.68px;width:14.5px;height:13.92px;background:#8888ff"></div>
<div class="t" style="left:670.3px;top:1612.43px">KEGG<s>_</s>RIBOFLAVIN<s>_</s>METABOLISM</div>
<div class="a" style="left:80.3px;top:1634.90px;width:587px;height:417.60px;filter:blur(1.00px)">
<div class="a" style="left:0;width:587px;top:0.00px;height:14.32px;background:linear-gradient(90deg,#faa 0 3px,#fcc 0 6px,#bae 0 10px,#ede 0 13px,#f77 0 17px,#ccf 0 20px,#fee 0 23px,#eef 0 26px,#fbb 0 29px,#f88 0 31px,#fbb 0 36px,#f88 0 39px,#ede 0 43px,#ecd 0 46px,#f99 0 48px,#eef 0 52px,#ebb 0 56px,#ccf 0 58px,#ebc 0 60px,#ddf 0 62px,#fcc 0 65px,#dde 0 69px,#ebd 0 71px,#f99 0 75px,#ecd 0 77px,#eab 0 81px,#fde 0 83px,#fdd 0 86px,#faa 0 88px,#fcd 0 91px,#fcc 0 94px,#ccf 0 97px,#fde 0 100px,#f77 0 103px,#dcf 0 105px,#fdd 0 109px,#cce 0 113px,#f99 0 117px,#fdd 0 120px,#eef 0 122px,#ecd 0 124px,#ddf 0 128px,#baf 0 130px,#ede 0 133px,#fbb 0 139px,#ece 0 143px,#dce 0 147px,#faa 0 149px,#ece 0 153px,#dcf 0 156px,#fbb 0 159px,#fdd 0 161px,#ede 0 165px,#f99 0 167px,#faa 0 171px,#dce 0 173px,#dac 0 176px,#fdd 0 178px,#ddf 0 181px,#fff 0 182px,#fff 0 186px,#f88 0 189px,#fcd 0 197px,#eef 0 201px,#fcc 0 205px,#d9b 0 207px,#eab 0 211px,#f55 0 215px,#faa 0 217px,#edd 0 220px,#f77 0 223px,#fbb 0 226px,#ccf 0 228px,#fcc 0 231px,#fbb 0 236px,#dce 0 239px,#eab 0 243px,#f99 0 245px,#fbb 0 248px,#edd 0 252px,#f99 0 254px,#faa 0 258px,#fbb 0 264px,#f9a 0 268px,#fdd 0 271px,#dce 0 274px,#eef 0 278px,#ebc 0 281px,#f88 0 283px,#fdd 0 287px,#fbb 0 289px,#fdd 0 292px,#f66 0 295px,#fdd 0 299px,#fbb 0 304px,#fee 0 306px,#fdd 0 309px,#dad 0 311px,#ebc 0 313px,#ddf 0 315px,#bbf 0 317px,#baf 0 323px,#eef 0 326px,#ecd 0 330px,#f99 0 333px,#eee 0 336px,#f99 0 338px,#88e 0 340px,#ddf 0 344px,#ebc 0 348px,#ede 0 351px,#dbd 0 354px,#ccf 0 357px,#fde 0 359px,#fbb 0 361px,#ddf 0 364px,#ede 0 371px,#ebc 0 373px,#fcc 0 376px,#ccf 0 378px,#f66 0 380px,#fdd 0 382px,#bbf 0 384px,#ede 0 388px,#f99 0 391px,#faa 0 394px,#cbe 0 396px,#eab 0 400px,#f66 0 402px,#fdd 0 404px,#fde 0 406px,#99e 0 410px,#dbd 0 413px,#fdd 0 416px,#cbe 0 419px,#fdd 0 422px,#bbf 0 425px,#fff 0 430px,#eee 0 434px,#fff 0 442px,#bbf 0 445px,#edf 0 449px,#bbf 0 454px,#ddf 0 457px,#aaf 0 459px,#ecd 0 461px,#99e 0 463px,#bbf 0 470px,#aaf 0 476px,#ddf 0 480px,#76e 0 482px,#99e 0 486px,#aaf 0 488px,#baf 0 492px,#99e 0 495px,#ccf 0 497px,#dcf 0 499px,#a9f 0 502px,#ccf 0 504px,#ddf 0 505px,#fff 0 510px,#ccf 0 519px,#ecd 0 521px,#ebc 0 523px,#aaf 0 527px,#ddf 0 529px,#ede 0 533px,#baf 0 536px,#bae 0 538px,#a9e 0 541px,#66e 0 543px,#fdd 0 545px,#88e 0 549px,#dcf 0 555px,#ede 0 558px,#a9e 0 560px,#eef 0 562px,#87e 0 565px,#ede 0 569px,#aae 0 571px,#ccf 0 573px,#ede 0 575px,#bbf 0 579px,#fff 0 583px,#bbf 0 586px)"></div>
<div class="a" style="left:0;width:587px;top:13.92px;height:14.32px;background:linear-gradient(90deg,#fdd 0 3px,#fcc 0 6px,#cce 0 10px,#ebc 0 13px,#faa 0 17px,#eef 0 20px,#dcd 0 23px,#fef 0 26px,#fbb 0 31px,#ecd 0 34px,#fee 0 36px,#faa 0 39px,#ede 0 43px,#dcd 0 46px,#fbb 0 48px,#ecd 0 52px,#fcc 0 58px,#fdd 0 60px,#ecc 0 65px,#ede 0 69px,#faa 0 71px,#eef 0 75px,#ddf 0 77px,#dac 0 81px,#fbb 0 83px,#eef 0 86px,#fbb 0 88px,#ebb 0 91px,#faa 0 94px,#ddf 0 97px,#edf 0 100px,#fee 0 103px,#dce 0 105px,#f88 0 109px,#dbe 0 113px,#fcc 0 117px,#eef 0 120px,#dcf 0 122px,#ddf 0 124px,#fcc 0 128px,#eef 0 130px,#ebc 0 133px,#fbb 0 137px,#ebc 0 139px,#cce 0 143px,#ddf 0 149px,#cce 0 153px,#ede 0 156px,#dac 0 159px,#fdd 0 161px,#ede 0 165px,#ecd 0 167px,#e9a 0 171px,#fdd 0 173px,#eef 0 176px,#fef 0 178px,#aae 0 181px,#fee 0 182px,#fff 0 186px,#f88 0 189px,#fcc 0 193px,#eab 0 197px,#faa 0 199px,#dbd 0 201px,#fbb 0 205px,#f88 0 207px,#f99 0 211px,#f55 0 215px,#f99 0 217px,#fff 0 220px,#f77 0 223px,#e89 0 226px,#ddf 0 228px,#f88 0 231px,#ede 0 233px,#f77 0 236px,#cce 0 239px,#ebc 0 243px,#cbf 0 245px,#fbb 0 248px,#fdd 0 252px,#f99 0 258px,#f77 0 260px,#fdd 0 264px,#fcc 0 271px,#ede 0 278px,#f77 0 281px,#f99 0 283px,#fee 0 287px,#f88 0 289px,#ecd 0 292px,#dbc 0 295px,#fbb 0 297px,#dcf 0 299px,#ecd 0 302px,#f88 0 304px,#ebc 0 306px,#ddf 0 309px,#ccf 0 311px,#ebc 0 313px,#fee 0 315px,#dcf 0 317px,#ddf 0 319px,#baf 0 323px,#dde 0 326px,#edd 0 330px,#eee 0 333px,#ecd 0 336px,#fbb 0 338px,#ccf 0 340px,#dce 0 344px,#ede 0 348px,#eee 0 351px,#ebc 0 354px,#ede 0 357px,#faa 0 359px,#eab 0 361px,#dcf 0 364px,#ede 0 368px,#fcd 0 371px,#f66 0 373px,#faa 0 376px,#ccf 0 378px,#f88 0 380px,#dbc 0 382px,#cbf 0 384px,#ede 0 388px,#fcd 0 391px,#ecd 0 394px,#ccf 0 396px,#ebc 0 400px,#f55 0 402px,#ccf 0 404px,#eef 0 406px,#eee 0 410px,#eac 0 413px,#dcf 0 416px,#cbe 0 419px,#fdd 0 422px,#bbf 0 425px,#fff 0 430px,#fef 0 434px,#fff 0 442px,#ccf 0 445px,#bbf 0 449px,#bae 0 451px,#98e 0 454px,#dac 0 457px,#bbf 0 459px,#ccf 0 461px,#ddf 0 463px,#bae 0 467px,#dbe 0 470px,#aaf 0 472px,#99e 0 476px,#eef 0 480px,#ddf 0 482px,#a9e 0 486px,#dcd 0 488px,#a9e 0 492px,#a9f 0 495px,#ddf 0 497px,#fef 0 499px,#aaf 0 502px,#ccf 0 505px,#fff 0 510px,#aaf 0 513px,#dce 0 517px,#d9b 0 519px,#bbf 0 521px,#eee 0 523px,#dce 0 527px,#f77 0 529px,#cbe 0 533px,#dce 0 536px,#eef 0 538px,#bbf 0 541px,#87e 0 543px,#edf 0 545px,#aaf 0 549px,#ccf 0 552px,#dcf 0 555px,#aaf 0 558px,#bae 0 560px,#ccf 0 562px,#aaf 0 565px,#dce 0 569px,#dcd 0 571px,#cbf 0 573px,#dce 0 575px,#ccf 0 579px,#fff 0 583px,#ddf 0 586px)"></div>
<div class="a" style="left:0;width:587px;top:27.84px;height:14.32px;background:linear-gradient(90deg,#ebc 0 3px,#eab 0 6px,#bbf 0 10px,#fcc 0 13px,#ecd 0 17px,#dbd 0 20px,#ccf 0 23px,#ebc 0 26px,#f77 0 29px,#fcc 0 31px,#faa 0 34px,#fdd 0 36px,#ede 0 39px,#fde 0 43px,#dde 0 46px,#ebc 0 48px,#eef 0 52px,#faa 0 56px,#ccf 0 58px,#bbf 0 60px,#fbb 0 62px,#d9a 0 65px,#ecc 0 69px,#f22 0 71px,#ede 0 75px,#fcc 0 77px,#faa 0 81px,#fdd 0 86px,#fcc 0 88px,#faa 0 91px,#f77 0 94px,#ecd 0 97px,#dcf 0 100px,#ebb 0 103px,#eee 0 105px,#f99 0 109px,#dde 0 113px,#ecd 0 117px,#ebc 0 120px,#cbf 0 122px,#fcc 0 124px,#fdd 0 128px,#ddf 0 130px,#fdd 0 133px,#f99 0 137px,#eab 0 139px,#ece 0 143px,#ddf 0 147px,#fdd 0 149px,#dbd 0 153px,#cbf 0 156px,#f99 0 159px,#fde 0 161px,#ecd 0 165px,#ddf 0 167px,#f99 0 171px,#f88 0 173px,#ecd 0 176px,#fbb 0 178px,#bbe 0 181px,#fee 0 182px,#fff 0 186px,#f99 0 189px,#fcc 0 193px,#fbb 0 199px,#ecd 0 201px,#dce 0 205px,#fbb 0 207px,#ebb 0 211px,#f66 0 215px,#f88 0 220px,#f44 0 223px,#faa 0 226px,#f99 0 228px,#ede 0 231px,#fbb 0 233px,#fab 0 236px,#fee 0 239px,#ede 0 243px,#fbb 0 245px,#fdd 0 248px,#e9a 0 252px,#fcc 0 254px,#faa 0 258px,#f99 0 260px,#faa 0 264px,#e99 0 268px,#eef 0 271px,#ebc 0 274px,#eef 0 278px,#e99 0 281px,#f88 0 283px,#fbc 0 287px,#fcc 0 289px,#ede 0 292px,#fdd 0 295px,#faa 0 297px,#ccf 0 299px,#fcc 0 302px,#f88 0 304px,#fbb 0 306px,#fef 0 309px,#fcc 0 311px,#fee 0 313px,#ddf 0 315px,#dde 0 317px,#eef 0 319px,#bae 0 323px,#dcf 0 326px,#fcd 0 330px,#fcc 0 333px,#dce 0 336px,#fcc 0 338px,#fee 0 340px,#ddf 0 344px,#ebc 0 348px,#fde 0 351px,#dac 0 354px,#ccf 0 357px,#eef 0 359px,#fdd 0 361px,#dbe 0 364px,#fcc 0 368px,#ede 0 371px,#eef 0 373px,#faa 0 376px,#cce 0 378px,#f44 0 380px,#ecc 0 382px,#eef 0 384px,#ede 0 391px,#ecc 0 394px,#fcc 0 400px,#f99 0 402px,#ede 0 404px,#fcc 0 406px,#bbf 0 410px,#ede 0 413px,#ecd 0 416px,#aaf 0 419px,#fee 0 422px,#87e 0 425px,#fff 0 430px,#eee 0 434px,#fff 0 442px,#a9e 0 449px,#ddf 0 454px,#ede 0 457px,#ccf 0 459px,#dce 0 461px,#bbf 0 463px,#dce 0 467px,#bae 0 472px,#88e 0 476px,#dce 0 482px,#87e 0 488px,#bbf 0 492px,#99e 0 497px,#fff 0 499px,#baf 0 502px,#ccf 0 504px,#bbf 0 505px,#fff 0 510px,#cbf 0 513px,#cbe 0 517px,#fee 0 519px,#fdd 0 521px,#fee 0 523px,#ddf 0 527px,#fee 0 529px,#cce 0 533px,#bbf 0 536px,#ddf 0 538px,#99e 0 541px,#ccf 0 543px,#ddf 0 545px,#98e 0 549px,#ddf 0 552px,#fee 0 555px,#ccf 0 558px,#dbe 0 560px,#ede 0 562px,#a9e 0 565px,#ecd 0 569px,#99e 0 571px,#88e 0 573px,#baf 0 575px,#ddf 0 579px,#fff 0 583px,#ccf 0 586px)"></div>
<div class="a" style="left:0;width:587px;top:41.76px;height:14.32px;background:linear-gradient(90deg,#ddf 0 3px,#ede 0 6px,#cad 0 10px,#ddf 0 13px,#dac 0 17px,#baf 0 20px,#bbf 0 23px,#eef 0 26px,#fcc 0 29px,#ccf 0 31px,#aaf 0 34px,#ecc 0 36px,#ede 0 39px,#dce 0 43px,#bbf 0 46px,#eab 0 48px,#dce 0 52px,#fbb 0 56px,#dce 0 58px,#dac 0 60px,#bbf 0 62px,#eef 0 65px,#dce 0 69px,#fcc 0 71px,#dce 0 75px,#ddf 0 77px,#dce 0 81px,#fbb 0 83px,#ddf 0 86px,#fdd 0 91px,#faa 0 94px,#eef 0 97px,#dab 0 100px,#fab 0 103px,#fcc 0 105px,#faa 0 109px,#a9e 0 113px,#fcc 0 117px,#fcd 0 120px,#ccf 0 122px,#fcc 0 124px,#dac 0 128px,#fcc 0 130px,#eef 0 133px,#eaa 0 137px,#faa 0 139px,#fcc 0 143px,#ccf 0 147px,#fcc 0 149px,#edf 0 153px,#cbf 0 156px,#dcd 0 159px,#fbb 0 165px,#eef 0 167px,#f99 0 171px,#fcc 0 173px,#edd 0 176px,#ede 0 178px,#ddf 0 181px,#fdd 0 182px,#fff 0 186px,#fcc 0 189px,#fee 0 193px,#ebc 0 197px,#fbb 0 199px,#ddf 0 201px,#dcf 0 205px,#fbc 0 207px,#fcc 0 211px,#f77 0 215px,#eab 0 217px,#ecd 0 220px,#f55 0 223px,#eab 0 226px,#ddf 0 228px,#ecd 0 231px,#eef 0 233px,#fcc 0 236px,#edf 0 239px,#ecd 0 243px,#faa 0 245px,#fee 0 248px,#ddf 0 252px,#dcf 0 254px,#fcc 0 258px,#fdd 0 260px,#fbc 0 264px,#fcc 0 268px,#e9a 0 271px,#ece 0 274px,#cbe 0 278px,#faa 0 283px,#fbb 0 287px,#f88 0 289px,#fcc 0 292px,#eef 0 295px,#fbb 0 299px,#f88 0 302px,#f55 0 304px,#fbb 0 306px,#ede 0 309px,#fbb 0 311px,#f88 0 313px,#fcc 0 315px,#dbd 0 317px,#ebc 0 319px,#ccf 0 323px,#edf 0 326px,#e9a 0 330px,#fbb 0 333px,#faa 0 338px,#fcc 0 340px,#eef 0 344px,#f88 0 348px,#dce 0 351px,#fde 0 354px,#fcc 0 357px,#fee 0 359px,#faa 0 361px,#fbb 0 368px,#fdd 0 371px,#f77 0 373px,#e9a 0 376px,#eef 0 378px,#f55 0 380px,#f99 0 382px,#fdd 0 388px,#fbb 0 391px,#faa 0 394px,#f88 0 400px,#faa 0 402px,#fcc 0 404px,#fdd 0 413px,#dce 0 416px,#fcc 0 419px,#fdd 0 422px,#eef 0 425px,#fff 0 430px,#fee 0 434px,#fff 0 442px,#bbe 0 445px,#aaf 0 449px,#88e 0 451px,#ede 0 454px,#fcc 0 457px,#edd 0 459px,#fff 0 461px,#bbf 0 463px,#99e 0 467px,#ccf 0 470px,#98e 0 472px,#baf 0 476px,#eef 0 480px,#99e 0 482px,#aaf 0 486px,#98e 0 488px,#aaf 0 492px,#bbf 0 495px,#ddf 0 497px,#dcf 0 499px,#ccf 0 502px,#bbf 0 504px,#dcf 0 505px,#fff 0 510px,#dbd 0 513px,#a9e 0 517px,#ddf 0 519px,#ecd 0 521px,#ccf 0 523px,#bbf 0 527px,#eef 0 529px,#ddf 0 536px,#dac 0 538px,#a9e 0 541px,#98e 0 543px,#fef 0 545px,#99e 0 549px,#bbf 0 552px,#ebc 0 555px,#bbf 0 558px,#ccf 0 560px,#fff 0 562px,#baf 0 565px,#cbe 0 569px,#eef 0 571px,#aaf 0 573px,#ede 0 575px,#ece 0 579px,#fff 0 583px,#ddf 0 586px)"></div>
<div class="a" style="left:0;width:587px;top:55.68px;height:14.32px;background:linear-gradient(90deg,#eab 0 3px,#fcc 0 6px,#bad 0 10px,#f77 0 13px,#faa 0 17px,#eee 0 20px,#eef 0 23px,#fff 0 26px,#d79 0 29px,#fdd 0 31px,#fcc 0 34px,#fee 0 36px,#f88 0 39px,#dce 0 43px,#bbf 0 46px,#fee 0 48px,#ecc 0 52px,#f88 0 56px,#fcc 0 58px,#cbf 0 60px,#fbb 0 65px,#cbd 0 69px,#fdd 0 71px,#dce 0 75px,#edd 0 77px,#fcc 0 81px,#ddf 0 83px,#fcc 0 86px,#faa 0 88px,#fcc 0 94px,#dbd 0 97px,#fdd 0 100px,#fde 0 105px,#faa 0 109px,#eef 0 113px,#eac 0 117px,#f99 0 120px,#98e 0 122px,#edf 0 124px,#eef 0 128px,#fff 0 130px,#ede 0 133px,#fbb 0 137px,#e9a 0 139px,#dde 0 143px,#dcf 0 147px,#fbb 0 149px,#eef 0 153px,#ede 0 156px,#eef 0 159px,#dce 0 161px,#eab 0 165px,#fee 0 167px,#faa 0 171px,#fcd 0 173px,#ebc 0 176px,#ccf 0 178px,#baf 0 181px,#f99 0 182px,#fff 0 186px,#fdd 0 189px,#faa 0 193px,#fcc 0 197px,#edd 0 199px,#ddf 0 201px,#ece 0 205px,#eef 0 211px,#f66 0 215px,#ddf 0 217px,#fee 0 220px,#f55 0 223px,#edd 0 226px,#faa 0 228px,#eef 0 231px,#ddf 0 233px,#ecd 0 236px,#dce 0 239px,#bbf 0 243px,#fee 0 245px,#fbb 0 248px,#fcc 0 252px,#fdd 0 254px,#faa 0 258px,#fcc 0 260px,#ecc 0 264px,#dce 0 268px,#faa 0 271px,#ddf 0 274px,#dce 0 278px,#fbb 0 281px,#f44 0 283px,#eab 0 287px,#eef 0 289px,#fcc 0 295px,#f77 0 297px,#fde 0 299px,#ddf 0 302px,#faa 0 304px,#ddf 0 306px,#ccf 0 309px,#fbb 0 311px,#e99 0 313px,#fee 0 315px,#fcd 0 317px,#aaf 0 319px,#baf 0 326px,#fdd 0 330px,#dde 0 333px,#fff 0 338px,#fcc 0 340px,#fee 0 344px,#fbb 0 348px,#eee 0 351px,#edd 0 354px,#ede 0 357px,#fcc 0 359px,#fee 0 361px,#ebc 0 364px,#fee 0 368px,#fdd 0 371px,#f88 0 373px,#fcc 0 376px,#edf 0 378px,#e99 0 380px,#f88 0 382px,#cbf 0 384px,#dcf 0 388px,#eab 0 391px,#fbb 0 394px,#c8b 0 396px,#fbb 0 400px,#fcc 0 402px,#fdd 0 404px,#fcc 0 406px,#dbd 0 410px,#eab 0 413px,#ddf 0 416px,#aaf 0 419px,#ddf 0 425px,#fff 0 430px,#fee 0 434px,#fff 0 442px,#dde 0 445px,#ccf 0 451px,#dbd 0 454px,#fdd 0 457px,#bbf 0 459px,#ddf 0 461px,#bbf 0 463px,#baf 0 467px,#ddf 0 470px,#fee 0 472px,#98e 0 476px,#fee 0 480px,#ccf 0 482px,#cbf 0 486px,#99e 0 492px,#bbf 0 495px,#cbf 0 497px,#ccf 0 502px,#aaf 0 504px,#ccf 0 505px,#fff 0 510px,#eac 0 513px,#ccf 0 517px,#fdd 0 519px,#ede 0 521px,#eef 0 523px,#baf 0 527px,#f99 0 529px,#ede 0 533px,#bbf 0 536px,#ebc 0 538px,#ede 0 541px,#77e 0 543px,#fdd 0 545px,#aaf 0 549px,#a9e 0 552px,#fdd 0 555px,#eef 0 558px,#ecd 0 560px,#ddf 0 562px,#bbf 0 565px,#ede 0 569px,#ddf 0 571px,#edd 0 573px,#eef 0 575px,#cbf 0 579px,#fff 0 583px,#ddf 0 586px)"></div>
<div class="a" style="left:0;width:587px;top:69.60px;height:14.32px;background:linear-gradient(90deg,#ecd 0 3px,#fef 0 6px,#baf 0 10px,#dbc 0 13px,#fcc 0 17px,#cbf 0 20px,#aaf 0 23px,#ccf 0 26px,#f88 0 29px,#fde 0 31px,#faa 0 34px,#ede 0 36px,#fee 0 39px,#ccf 0 43px,#eef 0 46px,#fdd 0 48px,#dbd 0 52px,#fcc 0 56px,#faa 0 58px,#bbf 0 60px,#ddf 0 62px,#edd 0 65px,#ccf 0 69px,#fee 0 71px,#dde 0 75px,#eef 0 77px,#ede 0 81px,#faa 0 83px,#fee 0 86px,#fff 0 88px,#fee 0 91px,#fdd 0 94px,#fee 0 97px,#cbf 0 100px,#dce 0 103px,#ede 0 105px,#fcc 0 109px,#aaf 0 113px,#ddf 0 117px,#faa 0 120px,#a9e 0 122px,#eef 0 124px,#ebc 0 128px,#eef 0 130px,#fcc 0 133px,#faa 0 137px,#fbb 0 139px,#ede 0 143px,#dde 0 147px,#fbb 0 149px,#ede 0 153px,#bbf 0 156px,#ddf 0 159px,#dac 0 161px,#fdd 0 165px,#ccf 0 167px,#fcc 0 173px,#faa 0 176px,#eef 0 178px,#baf 0 181px,#fcc 0 182px,#fff 0 186px,#fcc 0 189px,#cad 0 193px,#fcc 0 197px,#dce 0 199px,#bbf 0 201px,#ebc 0 205px,#fdd 0 207px,#ede 0 211px,#ebc 0 215px,#cbd 0 217px,#fcc 0 220px,#faa 0 223px,#fbb 0 226px,#ecd 0 228px,#ede 0 231px,#dab 0 233px,#eee 0 236px,#ede 0 239px,#cbe 0 243px,#eef 0 245px,#edf 0 248px,#dbd 0 252px,#edd 0 254px,#faa 0 258px,#ebb 0 260px,#fcc 0 264px,#cce 0 268px,#fdd 0 271px,#a9e 0 274px,#cce 0 278px,#dbd 0 281px,#f99 0 283px,#dac 0 287px,#ccf 0 289px,#fdd 0 292px,#fbb 0 295px,#fcc 0 299px,#faa 0 302px,#f55 0 304px,#fab 0 306px,#ecc 0 309px,#dce 0 311px,#faa 0 313px,#fcc 0 315px,#faa 0 317px,#ede 0 319px,#dce 0 323px,#fcc 0 326px,#f99 0 330px,#f77 0 333px,#f88 0 336px,#f77 0 338px,#fdd 0 340px,#ecd 0 344px,#faa 0 348px,#ede 0 351px,#fee 0 357px,#f55 0 359px,#f99 0 361px,#fbb 0 364px,#eab 0 368px,#eef 0 371px,#fbb 0 373px,#fcc 0 376px,#ebc 0 378px,#f44 0 380px,#f99 0 382px,#faa 0 384px,#ebc 0 388px,#faa 0 391px,#f88 0 394px,#fcc 0 396px,#f77 0 400px,#f88 0 402px,#ede 0 404px,#f44 0 406px,#dbd 0 410px,#ecd 0 413px,#ecc 0 416px,#eef 0 419px,#dbd 0 422px,#edd 0 425px,#fff 0 430px,#fef 0 434px,#fff 0 442px,#baf 0 445px,#ddf 0 449px,#aaf 0 451px,#bbf 0 454px,#ede 0 457px,#bbf 0 459px,#edf 0 461px,#ddf 0 463px,#dce 0 467px,#dde 0 470px,#98e 0 472px,#ccf 0 476px,#ede 0 480px,#aaf 0 482px,#99e 0 486px,#dcf 0 488px,#ccf 0 492px,#bbf 0 495px,#ecd 0 497px,#fbb 0 499px,#ebc 0 502px,#aaf 0 504px,#99e 0 505px,#fff 0 510px,#ddf 0 513px,#ccf 0 517px,#fbb 0 519px,#ede 0 521px,#ddf 0 523px,#ede 0 527px,#f99 0 529px,#ddf 0 533px,#dbd 0 536px,#eef 0 538px,#bae 0 541px,#88e 0 543px,#ebc 0 545px,#bbf 0 549px,#cad 0 552px,#ede 0 558px,#fef 0 560px,#baf 0 562px,#aaf 0 565px,#eac 0 569px,#fcd 0 571px,#ccf 0 573px,#eee 0 575px,#dde 0 579px,#fff 0 583px,#ccf 0 586px)"></div>
<div class="a" style="left:0;width:587px;top:83.52px;height:14.32px;background:linear-gradient(90deg,#f99 0 3px,#fdd 0 6px,#99e 0 10px,#fcc 0 13px,#ede 0 17px,#eef 0 20px,#ccf 0 23px,#fcc 0 26px,#dbc 0 29px,#fee 0 31px,#fbb 0 34px,#fdd 0 36px,#f99 0 39px,#ecd 0 43px,#ddf 0 46px,#f77 0 48px,#eef 0 52px,#fcc 0 58px,#dde 0 60px,#dbc 0 62px,#fdd 0 65px,#cce 0 69px,#fee 0 71px,#dcf 0 75px,#fcc 0 81px,#fdd 0 83px,#ecd 0 86px,#fbb 0 88px,#faa 0 94px,#dac 0 97px,#ecd 0 100px,#fdd 0 103px,#dbd 0 105px,#fbb 0 109px,#ddf 0 113px,#f99 0 117px,#fbb 0 120px,#eee 0 122px,#fdd 0 124px,#ebc 0 128px,#ecc 0 130px,#fdd 0 133px,#fbb 0 137px,#f88 0 139px,#fcc 0 143px,#dce 0 147px,#fee 0 149px,#bae 0 153px,#ddf 0 156px,#faa 0 159px,#ede 0 161px,#fdd 0 167px,#ebc 0 171px,#f77 0 173px,#faa 0 176px,#ece 0 178px,#ccf 0 181px,#fdd 0 182px,#fff 0 186px,#fcc 0 189px,#edf 0 193px,#fbb 0 197px,#eef 0 199px,#ddf 0 205px,#fcc 0 207px,#eef 0 211px,#f88 0 215px,#ede 0 217px,#edd 0 220px,#f55 0 223px,#ddf 0 226px,#fff 0 228px,#ede 0 231px,#aaf 0 233px,#eef 0 236px,#dce 0 243px,#fdd 0 245px,#fbc 0 248px,#ede 0 252px,#ccf 0 254px,#cad 0 258px,#fdd 0 260px,#ede 0 264px,#ebc 0 268px,#dce 0 271px,#dcf 0 274px,#a9e 0 278px,#fcd 0 281px,#fee 0 283px,#fde 0 287px,#fbb 0 289px,#dce 0 292px,#edf 0 295px,#dbc 0 297px,#e9a 0 299px,#c7a 0 302px,#fcc 0 304px,#f55 0 306px,#fcc 0 309px,#faa 0 311px,#f22 0 313px,#ede 0 315px,#faa 0 317px,#fcc 0 319px,#ddf 0 323px,#dab 0 326px,#f99 0 330px,#e9a 0 333px,#fcc 0 336px,#f77 0 338px,#ecd 0 340px,#dbc 0 344px,#fbc 0 348px,#fbb 0 351px,#fcc 0 354px,#fbb 0 357px,#faa 0 359px,#f99 0 361px,#ebc 0 364px,#fcc 0 368px,#f88 0 371px,#f99 0 373px,#faa 0 376px,#fee 0 378px,#f88 0 380px,#ecd 0 382px,#fcc 0 384px,#fbb 0 394px,#fcc 0 396px,#f77 0 400px,#f66 0 402px,#dce 0 404px,#dac 0 406px,#ecd 0 410px,#fbb 0 413px,#fdd 0 416px,#dce 0 419px,#fcc 0 422px,#edf 0 425px,#fff 0 430px,#eef 0 434px,#fff 0 442px,#aaf 0 445px,#b9d 0 449px,#dcf 0 451px,#ccf 0 454px,#ede 0 457px,#98e 0 459px,#bbf 0 461px,#baf 0 463px,#cbe 0 467px,#dce 0 470px,#a9e 0 472px,#ccf 0 480px,#cbf 0 482px,#a9e 0 488px,#dcf 0 492px,#ccf 0 495px,#eef 0 497px,#edf 0 499px,#baf 0 502px,#ddf 0 504px,#98e 0 505px,#fff 0 510px,#bbf 0 513px,#cbe 0 517px,#eef 0 519px,#ddf 0 523px,#ede 0 527px,#f99 0 529px,#ccf 0 533px,#aaf 0 536px,#ede 0 538px,#bbf 0 541px,#98e 0 543px,#fcc 0 545px,#aaf 0 549px,#cbf 0 552px,#dde 0 555px,#dce 0 558px,#ede 0 560px,#cbf 0 562px,#aae 0 565px,#cbd 0 569px,#99e 0 571px,#bbf 0 573px,#fff 0 575px,#dcf 0 579px,#fff 0 583px,#eef 0 586px)"></div>
<div class="a" style="left:0;width:587px;top:97.44px;height:14.32px;background:linear-gradient(90deg,#fbb 0 3px,#fef 0 6px,#99e 0 10px,#ede 0 13px,#f99 0 17px,#ede 0 20px,#edf 0 23px,#b9d 0 26px,#faa 0 29px,#fef 0 31px,#eef 0 34px,#dac 0 36px,#dab 0 39px,#ecd 0 43px,#ccf 0 46px,#e9a 0 48px,#ccf 0 52px,#f99 0 56px,#ddf 0 58px,#aaf 0 60px,#ecd 0 65px,#ccf 0 69px,#eef 0 71px,#dce 0 75px,#eee 0 77px,#ece 0 81px,#fbb 0 83px,#eef 0 86px,#fbb 0 88px,#f99 0 91px,#fbb 0 94px,#ddf 0 100px,#bbf 0 103px,#eef 0 105px,#e99 0 109px,#ccf 0 113px,#ecd 0 117px,#ecc 0 120px,#eef 0 122px,#ede 0 124px,#cbe 0 128px,#dce 0 130px,#fcc 0 133px,#fbb 0 137px,#f99 0 143px,#ddf 0 147px,#faa 0 149px,#cbe 0 153px,#ccf 0 156px,#dbd 0 159px,#ede 0 161px,#ecd 0 165px,#ddf 0 167px,#eab 0 171px,#fdd 0 173px,#ccf 0 178px,#bbf 0 181px,#fee 0 182px,#fff 0 186px,#fcc 0 189px,#ebc 0 197px,#fbb 0 199px,#ccf 0 201px,#edd 0 205px,#fee 0 207px,#ebb 0 211px,#f66 0 215px,#fdd 0 217px,#fee 0 220px,#f99 0 223px,#edf 0 226px,#ddf 0 228px,#eef 0 231px,#fee 0 236px,#eef 0 239px,#ebc 0 243px,#ccf 0 245px,#ddf 0 248px,#ebc 0 252px,#eef 0 254px,#ebc 0 258px,#fee 0 260px,#faa 0 264px,#eef 0 268px,#ecd 0 271px,#bbf 0 274px,#ccf 0 278px,#faa 0 283px,#dce 0 287px,#f77 0 289px,#ecd 0 292px,#fcc 0 295px,#f66 0 297px,#f99 0 302px,#f88 0 304px,#ecd 0 306px,#edf 0 309px,#eef 0 311px,#f77 0 313px,#faa 0 315px,#ede 0 317px,#cbf 0 319px,#bbf 0 323px,#eef 0 326px,#fcc 0 330px,#fbb 0 333px,#faa 0 336px,#f99 0 338px,#fcc 0 340px,#fdd 0 344px,#fbb 0 348px,#ece 0 351px,#fbb 0 354px,#fcc 0 357px,#f99 0 359px,#faa 0 361px,#fbc 0 364px,#eab 0 368px,#fbb 0 371px,#f99 0 373px,#eaa 0 376px,#cad 0 378px,#f99 0 380px,#fbb 0 382px,#ede 0 384px,#edf 0 388px,#fbb 0 391px,#f99 0 394px,#fbb 0 396px,#e9b 0 400px,#faa 0 402px,#fee 0 404px,#f99 0 406px,#ecd 0 410px,#eaa 0 413px,#ddf 0 416px,#ede 0 419px,#dce 0 425px,#fff 0 430px,#eef 0 434px,#fff 0 442px,#bbf 0 445px,#cbf 0 449px,#bbe 0 451px,#fdd 0 454px,#fee 0 457px,#fdd 0 459px,#d9b 0 461px,#dbd 0 463px,#ddf 0 467px,#bbf 0 470px,#ddf 0 472px,#98e 0 476px,#ede 0 480px,#ccf 0 482px,#aaf 0 488px,#88e 0 492px,#b9d 0 495px,#edf 0 497px,#cbf 0 499px,#cce 0 502px,#eef 0 504px,#fee 0 505px,#fff 0 510px,#edd 0 513px,#ddf 0 517px,#fcc 0 519px,#fee 0 521px,#eef 0 523px,#cad 0 527px,#bbf 0 529px,#ddf 0 533px,#98e 0 536px,#bbf 0 543px,#faa 0 545px,#87e 0 549px,#aaf 0 552px,#ccf 0 555px,#dbd 0 558px,#eef 0 560px,#aaf 0 562px,#99e 0 565px,#ecd 0 569px,#dcf 0 571px,#ede 0 573px,#f77 0 575px,#ccf 0 579px,#fff 0 583px,#ccf 0 586px)"></div>
<div class="a" style="left:0;width:587px;top:111.36px;height:14.32px;background:linear-gradient(90deg,#eef 0 3px,#e9a 0 6px,#aaf 0 10px,#eab 0 17px,#baf 0 20px,#dde 0 23px,#cce 0 26px,#faa 0 29px,#dac 0 31px,#eac 0 34px,#fcc 0 36px,#fee 0 39px,#eef 0 43px,#fcc 0 46px,#fcd 0 48px,#ecd 0 56px,#ccf 0 58px,#98e 0 60px,#ddf 0 62px,#ebc 0 65px,#ccf 0 69px,#fcc 0 71px,#ede 0 75px,#fee 0 77px,#eab 0 81px,#fcc 0 86px,#ecc 0 88px,#fdd 0 91px,#f99 0 94px,#ccf 0 97px,#ddf 0 100px,#faa 0 103px,#fcc 0 105px,#faa 0 109px,#ccf 0 113px,#fcc 0 117px,#faa 0 120px,#cbf 0 122px,#fcc 0 124px,#fbc 0 128px,#c7a 0 130px,#ede 0 133px,#f66 0 137px,#fcc 0 139px,#f99 0 143px,#fdd 0 147px,#eef 0 153px,#dcf 0 156px,#f99 0 159px,#ebb 0 161px,#eab 0 165px,#cbe 0 167px,#fbb 0 171px,#eee 0 173px,#fbb 0 176px,#fcc 0 178px,#dce 0 181px,#fee 0 182px,#fff 0 186px,#fbb 0 189px,#dde 0 193px,#fdd 0 197px,#fcc 0 199px,#aaf 0 201px,#ecd 0 205px,#dad 0 207px,#ecd 0 211px,#faa 0 215px,#b9c 0 217px,#ede 0 220px,#fcc 0 223px,#fbb 0 226px,#aaf 0 228px,#ccf 0 231px,#f99 0 233px,#dac 0 236px,#ebc 0 243px,#cbf 0 245px,#dde 0 248px,#fcc 0 252px,#bbf 0 254px,#ecd 0 258px,#fbb 0 260px,#ede 0 264px,#ddf 0 268px,#fcc 0 271px,#ccf 0 274px,#dce 0 278px,#ecd 0 281px,#fbb 0 283px,#ecd 0 287px,#faa 0 289px,#dce 0 292px,#fbb 0 295px,#ecd 0 297px,#f99 0 299px,#faa 0 302px,#f77 0 304px,#f99 0 306px,#fcd 0 309px,#ddf 0 311px,#f99 0 313px,#f88 0 315px,#fcc 0 317px,#dde 0 319px,#bbf 0 323px,#fdd 0 326px,#fbb 0 330px,#fdd 0 333px,#dcd 0 336px,#ecd 0 338px,#ecc 0 340px,#fee 0 344px,#f9a 0 348px,#c9c 0 354px,#dbc 0 357px,#ccf 0 359px,#e89 0 361px,#f88 0 364px,#ebb 0 368px,#f77 0 371px,#fbb 0 373px,#fcc 0 376px,#cbe 0 378px,#f55 0 380px,#f66 0 382px,#dac 0 384px,#ede 0 388px,#fbb 0 391px,#f77 0 394px,#fee 0 396px,#f99 0 402px,#dbd 0 404px,#fee 0 406px,#dbd 0 410px,#ede 0 413px,#fdd 0 416px,#ddf 0 419px,#dbd 0 422px,#ede 0 425px,#fff 0 430px,#fee 0 434px,#fff 0 442px,#bbf 0 445px,#cce 0 449px,#ede 0 451px,#baf 0 454px,#edd 0 457px,#ccf 0 459px,#eef 0 461px,#baf 0 463px,#bbf 0 467px,#dbd 0 470px,#aaf 0 472px,#77e 0 476px,#bbf 0 488px,#baf 0 495px,#ccf 0 497px,#eef 0 499px,#ccf 0 502px,#cad 0 504px,#a9e 0 505px,#fff 0 510px,#dbd 0 513px,#dce 0 517px,#eab 0 519px,#faa 0 521px,#ede 0 523px,#bbf 0 527px,#eab 0 529px,#ebc 0 533px,#ece 0 536px,#dce 0 538px,#aaf 0 541px,#cbf 0 543px,#fbb 0 545px,#ccf 0 549px,#eee 0 552px,#fdd 0 555px,#ede 0 558px,#ccf 0 560px,#bbf 0 562px,#99e 0 565px,#ecd 0 569px,#dbd 0 571px,#cbe 0 573px,#fcc 0 575px,#ede 0 579px,#fff 0 583px,#ddf 0 586px)"></div>
<div class="a" style="left:0;width:587px;top:125.28px;height:14.32px;background:linear-gradient(90deg,#fde 0 3px,#ebb 0 6px,#aaf 0 10px,#ede 0 13px,#fdd 0 17px,#bbf 0 20px,#dbd 0 23px,#ecc 0 26px,#fbc 0 29px,#ebc 0 31px,#edf 0 34px,#fbb 0 36px,#fdd 0 39px,#ede 0 43px,#cbe 0 46px,#dac 0 48px,#ecd 0 52px,#fcc 0 56px,#ccf 0 58px,#edf 0 60px,#fbb 0 62px,#dbc 0 65px,#dbd 0 69px,#eef 0 71px,#ede 0 75px,#ddf 0 77px,#dce 0 81px,#fcc 0 83px,#aaf 0 86px,#fee 0 88px,#fbb 0 91px,#f99 0 94px,#edd 0 100px,#fdd 0 103px,#fcc 0 105px,#f66 0 109px,#bbf 0 113px,#f99 0 117px,#fbb 0 120px,#ddf 0 122px,#fbb 0 124px,#faa 0 128px,#f77 0 130px,#ecd 0 133px,#ecc 0 137px,#f88 0 139px,#fcc 0 143px,#ede 0 147px,#fcc 0 149px,#ede 0 153px,#ebc 0 156px,#d9b 0 159px,#eab 0 161px,#ecd 0 165px,#ede 0 167px,#fcc 0 173px,#ebc 0 176px,#f88 0 178px,#fff 0 181px,#ccf 0 182px,#fff 0 186px,#fcd 0 189px,#eef 0 193px,#dce 0 197px,#cbe 0 199px,#baf 0 201px,#eef 0 205px,#eab 0 207px,#ede 0 211px,#edd 0 215px,#fff 0 217px,#dce 0 220px,#ebc 0 223px,#fcc 0 226px,#88e 0 228px,#ccf 0 231px,#fcc 0 233px,#eef 0 236px,#cce 0 239px,#dce 0 243px,#ccf 0 245px,#fcc 0 248px,#ccf 0 252px,#eef 0 254px,#ebc 0 258px,#eef 0 260px,#ece 0 264px,#dcf 0 268px,#ebc 0 271px,#aaf 0 274px,#bbf 0 278px,#fee 0 281px,#fcc 0 283px,#ece 0 287px,#fbb 0 289px,#bbf 0 292px,#ecd 0 295px,#f44 0 297px,#c79 0 299px,#e89 0 302px,#f99 0 304px,#f44 0 306px,#fdd 0 309px,#fbb 0 311px,#ecd 0 313px,#fcc 0 315px,#f99 0 317px,#fff 0 319px,#ccf 0 323px,#ede 0 326px,#faa 0 330px,#f99 0 333px,#fdd 0 336px,#fcc 0 338px,#ede 0 340px,#fbb 0 344px,#faa 0 348px,#fdd 0 351px,#fbb 0 354px,#faa 0 357px,#f88 0 359px,#faa 0 361px,#fee 0 364px,#fbb 0 368px,#eaa 0 371px,#dab 0 373px,#fcc 0 376px,#fff 0 378px,#f44 0 380px,#eaa 0 382px,#fff 0 384px,#eab 0 388px,#f99 0 391px,#fcc 0 394px,#fbb 0 396px,#faa 0 400px,#f66 0 402px,#cce 0 404px,#fbb 0 406px,#ebc 0 410px,#ecd 0 413px,#e9a 0 416px,#fcc 0 419px,#ede 0 422px,#ecd 0 425px,#fff 0 430px,#fee 0 434px,#fff 0 442px,#bae 0 445px,#ccf 0 449px,#99e 0 451px,#b9d 0 454px,#fee 0 457px,#ccf 0 459px,#cbf 0 461px,#baf 0 463px,#bbf 0 467px,#fdd 0 470px,#a9e 0 472px,#99e 0 476px,#edf 0 480px,#bbf 0 482px,#a9e 0 486px,#87e 0 488px,#99e 0 492px,#a9e 0 495px,#eef 0 497px,#fee 0 499px,#ddf 0 502px,#bbf 0 504px,#cbf 0 505px,#fff 0 510px,#cbe 0 513px,#aaf 0 517px,#fbb 0 519px,#ccf 0 521px,#ddf 0 523px,#b9e 0 527px,#dde 0 529px,#a9e 0 533px,#ccf 0 538px,#bbf 0 541px,#99e 0 543px,#dcf 0 545px,#aae 0 549px,#a9f 0 552px,#fdd 0 555px,#dcf 0 558px,#ccf 0 560px,#aaf 0 562px,#bbf 0 565px,#edf 0 569px,#ddf 0 571px,#edf 0 575px,#ddf 0 579px,#fff 0 583px,#ddf 0 586px)"></div>
<div class="a" style="left:0;width:587px;top:139.20px;height:14.32px;background:linear-gradient(90deg,#f99 0 3px,#faa 0 6px,#dce 0 10px,#f88 0 13px,#f55 0 17px,#ede 0 23px,#fbb 0 26px,#faa 0 29px,#f55 0 31px,#f99 0 34px,#faa 0 36px,#fcd 0 39px,#fbb 0 43px,#ecd 0 46px,#f88 0 48px,#fbc 0 52px,#f99 0 56px,#fbb 0 58px,#dcf 0 60px,#dce 0 62px,#fbb 0 65px,#dbd 0 69px,#fbb 0 71px,#fcc 0 75px,#fff 0 77px,#faa 0 81px,#f99 0 83px,#eab 0 86px,#f99 0 91px,#fcc 0 94px,#ddf 0 97px,#aaf 0 100px,#ebb 0 103px,#fdd 0 105px,#f55 0 109px,#bbf 0 113px,#f99 0 117px,#f77 0 120px,#cbf 0 122px,#eef 0 124px,#ede 0 128px,#eef 0 130px,#ecc 0 133px,#fbb 0 137px,#faa 0 139px,#ede 0 143px,#ddf 0 147px,#ebc 0 149px,#dcf 0 153px,#dbd 0 156px,#cbe 0 159px,#bbf 0 161px,#edf 0 165px,#ddf 0 167px,#faa 0 171px,#fcc 0 173px,#ecd 0 176px,#fee 0 178px,#dcd 0 181px,#faa 0 182px,#fff 0 186px,#ebc 0 189px,#fbb 0 193px,#faa 0 197px,#fde 0 199px,#ccf 0 201px,#dcd 0 205px,#d9b 0 207px,#fcc 0 211px,#f66 0 215px,#f88 0 217px,#eef 0 220px,#f55 0 223px,#fcc 0 226px,#ecc 0 228px,#f99 0 231px,#fbb 0 236px,#fcc 0 239px,#ede 0 243px,#e89 0 245px,#fdd 0 248px,#fbb 0 252px,#fee 0 254px,#f88 0 258px,#fbb 0 260px,#ebc 0 264px,#eab 0 271px,#ccf 0 274px,#ddf 0 278px,#f88 0 281px,#f77 0 283px,#fcc 0 287px,#faa 0 289px,#fcc 0 295px,#ddf 0 297px,#ecc 0 299px,#bbf 0 302px,#faa 0 304px,#fdd 0 306px,#98e 0 309px,#baf 0 311px,#edd 0 313px,#ddf 0 315px,#fde 0 317px,#c9c 0 319px,#baf 0 323px,#bbf 0 326px,#ece 0 330px,#ede 0 333px,#edf 0 336px,#ccf 0 338px,#a9e 0 340px,#ddf 0 344px,#fbb 0 348px,#ccf 0 351px,#dde 0 354px,#aaf 0 357px,#ede 0 359px,#fbb 0 361px,#ebc 0 364px,#bbf 0 368px,#dbd 0 371px,#dcd 0 373px,#dbd 0 376px,#bbf 0 378px,#fcc 0 380px,#edf 0 382px,#bbf 0 384px,#aaf 0 388px,#fbb 0 391px,#dde 0 394px,#edf 0 396px,#ebc 0 400px,#fef 0 402px,#ddf 0 404px,#fee 0 406px,#cbf 0 410px,#ccf 0 413px,#eef 0 416px,#ddf 0 419px,#ccf 0 422px,#99e 0 425px,#fff 0 430px,#fee 0 434px,#fff 0 442px,#ccf 0 445px,#bbf 0 451px,#ccf 0 454px,#ede 0 457px,#ccf 0 459px,#ecd 0 461px,#cbf 0 463px,#ccf 0 467px,#ecd 0 470px,#baf 0 472px,#a9e 0 476px,#dce 0 480px,#baf 0 482px,#bbf 0 486px,#ccf 0 488px,#cce 0 492px,#dde 0 495px,#baf 0 497px,#ccf 0 499px,#ddf 0 502px,#ccf 0 504px,#ddf 0 505px,#fff 0 510px,#ccf 0 513px,#aaf 0 517px,#fdd 0 519px,#fcc 0 521px,#dcd 0 523px,#ede 0 527px,#fbb 0 529px,#ede 0 536px,#dce 0 538px,#baf 0 541px,#cbf 0 543px,#ede 0 545px,#88e 0 549px,#dcf 0 552px,#eef 0 555px,#b9c 0 558px,#bae 0 560px,#bbf 0 562px,#cbe 0 565px,#dcf 0 569px,#98e 0 571px,#bbf 0 573px,#ccf 0 575px,#cad 0 579px,#fff 0 583px,#fee 0 586px)"></div>
<div class="a" style="left:0;width:587px;top:153.12px;height:14.32px;background:linear-gradient(90deg,#f88 0 3px,#fcc 0 6px,#baf 0 10px,#faa 0 13px,#e9a 0 17px,#ccf 0 20px,#faa 0 23px,#ebd 0 26px,#e88 0 29px,#f66 0 31px,#faa 0 34px,#f99 0 39px,#fbb 0 43px,#ede 0 46px,#f77 0 48px,#faa 0 52px,#fcc 0 56px,#cbd 0 58px,#fcc 0 65px,#ccf 0 69px,#faa 0 71px,#ecd 0 75px,#fdd 0 77px,#ecd 0 81px,#f99 0 83px,#ebb 0 86px,#f88 0 88px,#f99 0 91px,#fdd 0 94px,#faa 0 97px,#ccf 0 100px,#f88 0 103px,#fbb 0 105px,#faa 0 109px,#cbe 0 113px,#ddf 0 117px,#faa 0 120px,#baf 0 122px,#eee 0 124px,#ecd 0 128px,#eef 0 130px,#fcc 0 133px,#f88 0 137px,#faa 0 139px,#fcc 0 143px,#fcd 0 147px,#ede 0 149px,#ecd 0 153px,#dce 0 156px,#ecd 0 159px,#fcc 0 161px,#d9b 0 165px,#ddf 0 167px,#faa 0 173px,#fdd 0 176px,#faa 0 178px,#ddf 0 181px,#fff 0 182px,#fff 0 186px,#fdd 0 189px,#fcd 0 193px,#eaa 0 197px,#fbb 0 199px,#fff 0 201px,#ede 0 205px,#f99 0 207px,#fbb 0 211px,#f44 0 215px,#fcc 0 220px,#f77 0 226px,#eef 0 228px,#fcc 0 231px,#eef 0 233px,#fbb 0 236px,#dde 0 239px,#dbd 0 243px,#ddf 0 245px,#faa 0 248px,#fdd 0 252px,#cbf 0 254px,#faa 0 258px,#fdd 0 260px,#fcc 0 264px,#ecd 0 268px,#fbb 0 271px,#edf 0 274px,#ddf 0 278px,#faa 0 281px,#fcc 0 287px,#fbc 0 289px,#ecd 0 292px,#eab 0 295px,#f99 0 297px,#ccf 0 299px,#fcc 0 302px,#f77 0 304px,#ede 0 306px,#dcf 0 309px,#fcc 0 311px,#dbe 0 313px,#f99 0 315px,#dce 0 317px,#ecd 0 319px,#87e 0 323px,#dce 0 326px,#ecd 0 330px,#fcd 0 336px,#edd 0 338px,#eee 0 340px,#dde 0 344px,#dbc 0 348px,#dcf 0 351px,#ccf 0 357px,#ddf 0 359px,#eab 0 361px,#ede 0 364px,#dbd 0 368px,#fee 0 371px,#fbb 0 376px,#aaf 0 378px,#ecd 0 380px,#fef 0 382px,#ddf 0 384px,#dac 0 388px,#ccf 0 391px,#ede 0 394px,#eef 0 396px,#ecd 0 400px,#ebb 0 402px,#a9e 0 404px,#eef 0 406px,#baf 0 410px,#ccf 0 413px,#bbf 0 416px,#a9e 0 419px,#dbd 0 422px,#ccf 0 425px,#fff 0 430px,#ede 0 434px,#fff 0 442px,#ccf 0 445px,#edf 0 449px,#a9e 0 451px,#ddf 0 457px,#baf 0 459px,#ccf 0 461px,#cbe 0 463px,#aaf 0 467px,#ece 0 470px,#ccf 0 472px,#aaf 0 476px,#ede 0 480px,#ccf 0 482px,#aaf 0 486px,#cbf 0 488px,#a9e 0 495px,#bbf 0 497px,#ccf 0 502px,#ddf 0 504px,#99e 0 505px,#fff 0 510px,#ccf 0 513px,#bbe 0 517px,#edd 0 521px,#fcc 0 523px,#cbe 0 527px,#fcc 0 529px,#ddf 0 533px,#cbf 0 536px,#ccf 0 538px,#99e 0 541px,#88e 0 543px,#fee 0 545px,#aaf 0 549px,#baf 0 552px,#dcf 0 555px,#cbe 0 558px,#fef 0 560px,#cae 0 562px,#a9f 0 565px,#ccf 0 569px,#bbf 0 571px,#ccf 0 573px,#ede 0 575px,#ddf 0 579px,#fff 0 583px,#ddf 0 586px)"></div>
<div class="a" style="left:0;width:587px;top:167.04px;height:14.32px;background:linear-gradient(90deg,#f88 0 3px,#fbb 0 6px,#dce 0 10px,#faa 0 13px,#fbb 0 17px,#ccf 0 20px,#ecd 0 23px,#fdd 0 26px,#f88 0 29px,#fdd 0 31px,#f99 0 34px,#eef 0 36px,#fde 0 39px,#dac 0 43px,#dde 0 46px,#fbb 0 48px,#edd 0 52px,#fbc 0 56px,#fee 0 58px,#fdd 0 60px,#faa 0 62px,#fcc 0 65px,#fdd 0 69px,#f88 0 71px,#fdd 0 75px,#f77 0 77px,#fcc 0 81px,#f66 0 83px,#eef 0 86px,#eab 0 88px,#faa 0 91px,#f88 0 94px,#ede 0 97px,#ccf 0 100px,#ddf 0 103px,#ecd 0 105px,#faa 0 109px,#aaf 0 113px,#ede 0 117px,#faa 0 120px,#dcf 0 122px,#ccf 0 124px,#ebc 0 128px,#ddf 0 130px,#fbb 0 133px,#faa 0 137px,#fcc 0 139px,#fbb 0 143px,#edf 0 147px,#faa 0 149px,#dde 0 153px,#ede 0 156px,#d9b 0 159px,#fef 0 161px,#edf 0 165px,#fdd 0 167px,#f77 0 171px,#eef 0 173px,#ecc 0 176px,#fbb 0 178px,#ccf 0 181px,#fee 0 182px,#fff 0 186px,#faa 0 189px,#f88 0 193px,#faa 0 197px,#f99 0 199px,#dce 0 201px,#dbd 0 205px,#f77 0 207px,#e89 0 211px,#f44 0 215px,#fde 0 217px,#eab 0 220px,#f44 0 223px,#eaa 0 226px,#ccf 0 228px,#ecd 0 231px,#f99 0 233px,#fbb 0 236px,#f99 0 243px,#eef 0 245px,#faa 0 248px,#f99 0 252px,#fdd 0 254px,#f77 0 258px,#faa 0 260px,#f88 0 264px,#ecd 0 268px,#f66 0 271px,#fee 0 274px,#dce 0 278px,#faa 0 281px,#f88 0 283px,#edd 0 287px,#fee 0 289px,#faa 0 292px,#fcc 0 295px,#ebc 0 297px,#ecd 0 299px,#dcd 0 302px,#f99 0 304px,#fdd 0 306px,#baf 0 309px,#cbe 0 311px,#ecd 0 313px,#fcc 0 315px,#dcd 0 317px,#a9e 0 319px,#bbf 0 323px,#dce 0 326px,#ebc 0 330px,#ecd 0 333px,#eee 0 336px,#fcc 0 338px,#ede 0 340px,#cbf 0 344px,#ecd 0 348px,#ede 0 351px,#ddf 0 354px,#eef 0 357px,#edf 0 359px,#d8a 0 361px,#fdd 0 364px,#ecd 0 371px,#ddf 0 373px,#fbb 0 376px,#bbf 0 378px,#d9a 0 380px,#fcc 0 382px,#edf 0 384px,#ddf 0 388px,#fee 0 391px,#ecd 0 394px,#fee 0 396px,#ede 0 400px,#fef 0 402px,#ede 0 406px,#bbf 0 410px,#fef 0 413px,#eef 0 416px,#ede 0 419px,#cbf 0 422px,#ccf 0 425px,#fff 0 430px,#fee 0 434px,#fff 0 442px,#dcf 0 445px,#b9c 0 449px,#ccf 0 451px,#dce 0 454px,#ede 0 457px,#ccf 0 459px,#baf 0 461px,#ddf 0 467px,#dbd 0 470px,#ccf 0 472px,#a9f 0 476px,#fee 0 480px,#dcf 0 482px,#aaf 0 486px,#65e 0 488px,#cbf 0 492px,#aaf 0 495px,#eef 0 497px,#ede 0 499px,#ddf 0 502px,#dcf 0 504px,#bbf 0 505px,#fff 0 510px,#cbf 0 513px,#dce 0 517px,#ddf 0 519px,#eef 0 521px,#dcd 0 523px,#aaf 0 527px,#eef 0 529px,#dce 0 533px,#bbf 0 536px,#cbf 0 538px,#baf 0 541px,#a9e 0 543px,#eaa 0 545px,#98e 0 549px,#bae 0 555px,#ecd 0 558px,#baf 0 565px,#dce 0 569px,#ddf 0 571px,#baf 0 573px,#ece 0 575px,#ccf 0 579px,#fff 0 583px,#dcf 0 586px)"></div>
<div class="a" style="left:0;width:587px;top:180.96px;height:14.32px;background:linear-gradient(90deg,#f99 0 6px,#ccf 0 10px,#faa 0 17px,#ccf 0 20px,#ddf 0 23px,#fee 0 26px,#f55 0 29px,#faa 0 31px,#f88 0 34px,#dcd 0 36px,#f99 0 39px,#faa 0 46px,#fee 0 48px,#ebc 0 52px,#f66 0 56px,#fdd 0 58px,#fcc 0 60px,#e89 0 62px,#fdd 0 65px,#dce 0 69px,#f99 0 71px,#ede 0 75px,#fbb 0 77px,#ede 0 81px,#fcc 0 83px,#ebb 0 86px,#f55 0 88px,#fcc 0 91px,#faa 0 94px,#cbf 0 97px,#baf 0 100px,#f77 0 103px,#e9a 0 105px,#f88 0 109px,#dce 0 113px,#faa 0 117px,#fdd 0 120px,#dad 0 122px,#ede 0 124px,#fcc 0 128px,#fbb 0 130px,#fdd 0 133px,#f88 0 137px,#fcc 0 139px,#eef 0 143px,#baf 0 147px,#fcc 0 149px,#ddf 0 153px,#ede 0 156px,#ebc 0 159px,#fee 0 161px,#eef 0 165px,#dcf 0 167px,#faa 0 171px,#eef 0 173px,#ccf 0 176px,#fcc 0 178px,#aaf 0 181px,#eef 0 182px,#fff 0 186px,#fcc 0 189px,#f99 0 193px,#e9a 0 197px,#fcc 0 199px,#ddf 0 201px,#ebc 0 205px,#eef 0 207px,#fdd 0 211px,#f33 0 215px,#faa 0 217px,#fee 0 220px,#faa 0 223px,#fdd 0 226px,#ecd 0 228px,#fbb 0 231px,#fcc 0 233px,#f77 0 236px,#eef 0 239px,#fcc 0 243px,#ecc 0 245px,#ebc 0 248px,#fbb 0 252px,#dbd 0 254px,#e99 0 258px,#fee 0 260px,#ecc 0 264px,#faa 0 274px,#fdd 0 278px,#f99 0 281px,#dad 0 283px,#fbb 0 292px,#f99 0 295px,#fcc 0 297px,#cbd 0 299px,#eef 0 302px,#fbb 0 304px,#fdd 0 306px,#ccf 0 309px,#fee 0 311px,#fcc 0 313px,#fdd 0 315px,#ddf 0 317px,#a9e 0 319px,#aaf 0 323px,#cce 0 326px,#edd 0 330px,#dab 0 333px,#ede 0 336px,#c58 0 338px,#bbf 0 340px,#ccf 0 344px,#fcc 0 348px,#ddf 0 351px,#edf 0 354px,#ccf 0 357px,#ede 0 359px,#fbb 0 361px,#eee 0 364px,#ddf 0 368px,#ede 0 371px,#fbb 0 373px,#ecd 0 376px,#aaf 0 378px,#fcc 0 380px,#ecd 0 382px,#dbd 0 384px,#ddf 0 388px,#fcc 0 391px,#ebb 0 394px,#edf 0 396px,#ecd 0 400px,#fbb 0 402px,#ccf 0 404px,#cce 0 410px,#dde 0 413px,#dcf 0 416px,#baf 0 419px,#dcf 0 422px,#aaf 0 425px,#fff 0 430px,#fee 0 434px,#fff 0 442px,#dce 0 445px,#bbf 0 449px,#cbf 0 451px,#bbf 0 454px,#fdd 0 457px,#dce 0 459px,#dbd 0 461px,#dce 0 463px,#cce 0 467px,#ddf 0 470px,#98e 0 472px,#76e 0 476px,#ecd 0 480px,#edf 0 482px,#a9e 0 486px,#98e 0 488px,#bbf 0 492px,#88e 0 495px,#98e 0 497px,#ede 0 499px,#ddf 0 502px,#aaf 0 504px,#fff 0 505px,#fff 0 510px,#ccf 0 513px,#bbf 0 517px,#c9c 0 519px,#fcc 0 521px,#ccf 0 523px,#cbd 0 527px,#eef 0 529px,#cbf 0 536px,#aae 0 538px,#76e 0 541px,#98e 0 543px,#ede 0 545px,#87e 0 549px,#dcf 0 552px,#ecd 0 555px,#ccf 0 558px,#a9e 0 560px,#bbf 0 562px,#cbe 0 565px,#ede 0 569px,#eef 0 571px,#ddf 0 573px,#dce 0 575px,#cbd 0 579px,#fff 0 583px,#ccf 0 586px)"></div>
<div class="a" style="left:0;width:587px;top:194.88px;height:14.32px;background:linear-gradient(90deg,#fee 0 3px,#eef 0 6px,#aaf 0 10px,#fcc 0 13px,#ecd 0 17px,#a8e 0 20px,#baf 0 23px,#ccf 0 26px,#fdd 0 29px,#ddf 0 36px,#eef 0 39px,#ddf 0 43px,#bbe 0 46px,#ede 0 48px,#ddf 0 52px,#faa 0 56px,#dcd 0 58px,#ccf 0 60px,#ece 0 62px,#ebd 0 65px,#bae 0 69px,#fcc 0 71px,#ede 0 75px,#cbe 0 77px,#ede 0 81px,#dbd 0 83px,#edd 0 86px,#fcc 0 91px,#fcd 0 94px,#dde 0 97px,#ddf 0 100px,#ebc 0 103px,#fee 0 105px,#faa 0 109px,#bbf 0 113px,#f99 0 117px,#faa 0 120px,#fde 0 122px,#cce 0 124px,#ddf 0 128px,#cbe 0 130px,#fbb 0 133px,#edd 0 137px,#fcd 0 139px,#fcc 0 143px,#bbf 0 147px,#fff 0 149px,#cbe 0 153px,#ddf 0 156px,#fcc 0 159px,#ebc 0 161px,#ecd 0 165px,#fdd 0 167px,#fcc 0 171px,#eef 0 173px,#dbd 0 176px,#fee 0 178px,#bbf 0 181px,#fff 0 182px,#fff 0 186px,#fcc 0 189px,#fbb 0 193px,#ecc 0 197px,#ddf 0 199px,#ccf 0 201px,#ecc 0 205px,#fcd 0 207px,#faa 0 211px,#f77 0 215px,#fbb 0 217px,#f99 0 220px,#f55 0 223px,#fdd 0 226px,#ede 0 228px,#fcc 0 231px,#ecd 0 233px,#ecc 0 236px,#cbf 0 239px,#dbd 0 243px,#ddf 0 245px,#fdd 0 248px,#ede 0 252px,#eef 0 254px,#fdd 0 258px,#cbf 0 260px,#dbc 0 264px,#fdd 0 268px,#fcc 0 271px,#ddf 0 274px,#baf 0 278px,#ecc 0 281px,#faa 0 283px,#fee 0 287px,#cbe 0 289px,#fcc 0 292px,#fbc 0 295px,#faa 0 297px,#fcc 0 299px,#faa 0 302px,#f66 0 304px,#f88 0 306px,#fcd 0 309px,#fee 0 311px,#f44 0 313px,#fcc 0 315px,#fab 0 317px,#faa 0 319px,#dde 0 323px,#faa 0 330px,#f66 0 333px,#ece 0 336px,#f55 0 338px,#fef 0 340px,#fcc 0 344px,#f66 0 348px,#fdd 0 351px,#fbb 0 354px,#ecd 0 357px,#faa 0 359px,#ebc 0 361px,#eaa 0 364px,#f99 0 368px,#e9a 0 371px,#f77 0 373px,#f44 0 376px,#ddf 0 378px,#f77 0 382px,#dce 0 384px,#fcc 0 391px,#faa 0 394px,#f99 0 396px,#fdd 0 400px,#f66 0 402px,#eee 0 404px,#f22 0 406px,#f9a 0 410px,#e99 0 413px,#fbb 0 416px,#fcc 0 419px,#ede 0 422px,#dce 0 425px,#fff 0 430px,#fee 0 434px,#fff 0 442px,#ddf 0 451px,#bbf 0 454px,#fee 0 457px,#ddf 0 459px,#a9e 0 461px,#cad 0 463px,#cbe 0 467px,#dce 0 470px,#aaf 0 476px,#ddf 0 482px,#aaf 0 486px,#cbe 0 488px,#a9e 0 492px,#ddf 0 495px,#cbf 0 497px,#ddf 0 499px,#99e 0 502px,#bbf 0 505px,#fff 0 510px,#edd 0 513px,#bbf 0 517px,#eef 0 519px,#fdd 0 521px,#fbb 0 523px,#edf 0 527px,#ccf 0 529px,#dde 0 533px,#88e 0 536px,#baf 0 538px,#aaf 0 541px,#ddf 0 543px,#fcc 0 545px,#aaf 0 549px,#bbf 0 552px,#dbd 0 555px,#ece 0 558px,#b9c 0 560px,#fee 0 562px,#ccf 0 565px,#ece 0 569px,#bbf 0 571px,#ccf 0 573px,#fee 0 575px,#ddf 0 579px,#fff 0 583px,#dcf 0 586px)"></div>
<div class="a" style="left:0;width:587px;top:208.80px;height:14.32px;background:linear-gradient(90deg,#fcc 0 3px,#f88 0 6px,#bae 0 10px,#fdd 0 13px,#faa 0 17px,#dbd 0 20px,#ddf 0 23px,#fcc 0 26px,#f77 0 29px,#fcc 0 31px,#f88 0 34px,#fbb 0 39px,#dce 0 43px,#fdd 0 46px,#faa 0 48px,#fbb 0 52px,#f66 0 56px,#fbb 0 58px,#fee 0 60px,#faa 0 62px,#fee 0 65px,#ccf 0 69px,#f99 0 71px,#eef 0 75px,#ddf 0 77px,#dde 0 81px,#fbb 0 83px,#aaf 0 86px,#f99 0 88px,#fcc 0 91px,#fbc 0 94px,#ccf 0 97px,#dcf 0 100px,#fcc 0 103px,#eef 0 105px,#e9b 0 109px,#eef 0 113px,#f78 0 117px,#eef 0 120px,#baf 0 122px,#faa 0 124px,#dce 0 128px,#edf 0 130px,#eef 0 133px,#faa 0 137px,#eef 0 139px,#ebc 0 143px,#ddf 0 147px,#faa 0 149px,#aaf 0 153px,#dcd 0 156px,#eef 0 159px,#ede 0 161px,#ebc 0 165px,#dcf 0 167px,#ede 0 171px,#fee 0 173px,#ecc 0 176px,#eef 0 178px,#baf 0 181px,#fee 0 182px,#fff 0 186px,#faa 0 189px,#fdd 0 193px,#f99 0 197px,#dbd 0 199px,#ccf 0 201px,#ecd 0 205px,#f88 0 207px,#fbb 0 211px,#f66 0 215px,#f22 0 217px,#edd 0 220px,#f88 0 223px,#dde 0 226px,#faa 0 228px,#eab 0 231px,#edf 0 233px,#f99 0 236px,#eab 0 239px,#dce 0 243px,#fbb 0 245px,#fcc 0 248px,#ddf 0 252px,#fef 0 254px,#fbb 0 258px,#f99 0 260px,#fcc 0 264px,#eab 0 268px,#fbb 0 271px,#eef 0 274px,#cbf 0 278px,#fbb 0 281px,#f66 0 283px,#fbb 0 289px,#ecd 0 292px,#fcc 0 295px,#fdd 0 297px,#eef 0 299px,#fbb 0 302px,#faa 0 304px,#eab 0 306px,#ccf 0 309px,#fff 0 311px,#faa 0 313px,#fcc 0 315px,#cbf 0 317px,#fde 0 319px,#baf 0 323px,#ecd 0 326px,#fde 0 330px,#ede 0 333px,#ecd 0 336px,#fcc 0 338px,#dcf 0 340px,#bbf 0 344px,#f99 0 348px,#ecd 0 351px,#eab 0 357px,#fee 0 359px,#f88 0 361px,#dde 0 364px,#eab 0 368px,#fdd 0 371px,#fbb 0 373px,#dbd 0 376px,#ddf 0 378px,#ecd 0 380px,#fbb 0 382px,#bbf 0 384px,#ccf 0 388px,#eab 0 391px,#eaa 0 394px,#cbf 0 396px,#e89 0 400px,#f88 0 402px,#fee 0 406px,#ede 0 410px,#dac 0 413px,#ddf 0 419px,#ede 0 422px,#aaf 0 425px,#fff 0 430px,#eef 0 434px,#fff 0 442px,#a9e 0 445px,#dcf 0 449px,#87e 0 451px,#ede 0 454px,#fcc 0 457px,#baf 0 459px,#eee 0 461px,#ddf 0 463px,#baf 0 467px,#eee 0 470px,#ccf 0 472px,#99e 0 476px,#ede 0 480px,#aaf 0 482px,#88e 0 486px,#99e 0 492px,#ccf 0 495px,#88e 0 497px,#eef 0 499px,#dce 0 502px,#99e 0 504px,#eef 0 505px,#fff 0 510px,#bbf 0 513px,#ccf 0 517px,#eef 0 519px,#fcc 0 521px,#d9b 0 523px,#ddf 0 527px,#fdd 0 529px,#cce 0 533px,#dcf 0 536px,#ecd 0 538px,#baf 0 541px,#bbf 0 543px,#ede 0 545px,#ccf 0 552px,#fef 0 555px,#ccf 0 558px,#bbf 0 560px,#eef 0 562px,#dcf 0 565px,#ddf 0 569px,#aaf 0 571px,#fdd 0 573px,#ede 0 575px,#eef 0 579px,#fff 0 583px,#ccf 0 586px)"></div>
<div class="a" style="left:0;width:587px;top:222.72px;height:14.32px;background:linear-gradient(90deg,#ede 0 3px,#fbb 0 6px,#bbf 0 10px,#fbb 0 13px,#ebc 0 17px,#ddf 0 20px,#eef 0 23px,#ddf 0 26px,#fbb 0 29px,#f88 0 31px,#ede 0 34px,#ddf 0 36px,#edf 0 39px,#ede 0 43px,#dbd 0 46px,#faa 0 48px,#ede 0 56px,#faa 0 58px,#cbe 0 60px,#eab 0 62px,#eef 0 65px,#dbd 0 69px,#eef 0 71px,#fbb 0 75px,#eef 0 77px,#ede 0 81px,#ecd 0 83px,#eef 0 86px,#f99 0 88px,#ebc 0 91px,#fbb 0 94px,#fef 0 97px,#dcf 0 100px,#eab 0 103px,#bbf 0 105px,#ebc 0 109px,#ccf 0 113px,#fdd 0 117px,#fbb 0 120px,#dce 0 122px,#fdd 0 124px,#edf 0 128px,#fdd 0 130px,#ede 0 133px,#fbb 0 137px,#f99 0 139px,#fbb 0 143px,#ddf 0 147px,#eef 0 149px,#dce 0 153px,#ddf 0 156px,#fcc 0 159px,#ede 0 161px,#fdd 0 165px,#cad 0 167px,#fbb 0 171px,#fee 0 173px,#fbb 0 176px,#faa 0 178px,#dce 0 181px,#ddf 0 182px,#fff 0 186px,#fbb 0 189px,#ebc 0 193px,#fee 0 197px,#faa 0 199px,#ddf 0 201px,#ecd 0 205px,#ede 0 207px,#fbc 0 211px,#f77 0 215px,#fef 0 217px,#ebd 0 220px,#fbb 0 223px,#faa 0 226px,#ccf 0 228px,#dce 0 231px,#ddf 0 233px,#fee 0 236px,#edd 0 239px,#eef 0 243px,#fbb 0 245px,#ebc 0 248px,#edd 0 252px,#ccf 0 254px,#faa 0 258px,#fbb 0 260px,#fcd 0 264px,#baf 0 268px,#ecd 0 271px,#ccf 0 274px,#dbd 0 278px,#f66 0 281px,#fbb 0 283px,#fdd 0 287px,#fbb 0 289px,#fee 0 292px,#fdd 0 295px,#fbb 0 302px,#f77 0 304px,#fcc 0 306px,#dde 0 309px,#eef 0 311px,#f66 0 313px,#f88 0 315px,#fdd 0 317px,#f88 0 319px,#dce 0 323px,#fdd 0 326px,#fbb 0 336px,#f77 0 338px,#ede 0 340px,#eaa 0 344px,#f88 0 348px,#fcc 0 351px,#ede 0 354px,#faa 0 357px,#fcc 0 359px,#f99 0 361px,#ecd 0 364px,#fbb 0 371px,#f55 0 373px,#dac 0 376px,#fee 0 378px,#f33 0 380px,#fcc 0 382px,#ccf 0 384px,#dce 0 388px,#ebb 0 391px,#ecd 0 394px,#fdd 0 396px,#faa 0 400px,#fcc 0 402px,#fbb 0 404px,#f88 0 406px,#ece 0 410px,#fbb 0 413px,#f99 0 416px,#fee 0 419px,#cac 0 422px,#fef 0 425px,#fff 0 430px,#fee 0 434px,#fff 0 442px,#a9e 0 445px,#ccf 0 449px,#ede 0 451px,#ccf 0 454px,#ede 0 457px,#aaf 0 459px,#cad 0 461px,#ddf 0 463px,#aaf 0 467px,#bbf 0 472px,#88e 0 476px,#edd 0 480px,#99e 0 482px,#aae 0 486px,#88e 0 488px,#ccf 0 492px,#cbf 0 495px,#baf 0 497px,#ddf 0 499px,#eef 0 504px,#88e 0 505px,#fff 0 510px,#ecd 0 513px,#fef 0 517px,#cbf 0 519px,#fee 0 521px,#cbf 0 523px,#cbe 0 527px,#ecd 0 529px,#ede 0 533px,#bbf 0 536px,#ede 0 538px,#aaf 0 541px,#99e 0 543px,#fef 0 545px,#aaf 0 552px,#dce 0 555px,#eef 0 558px,#baf 0 560px,#ccf 0 562px,#bbf 0 565px,#ccf 0 569px,#99e 0 571px,#ddf 0 573px,#cbd 0 575px,#cbf 0 579px,#fff 0 583px,#bbf 0 586px)"></div>
<div class="a" style="left:0;width:587px;top:236.64px;height:14.32px;background:linear-gradient(90deg,#fde 0 3px,#fcc 0 6px,#bbf 0 10px,#ebc 0 13px,#eef 0 17px,#ddf 0 23px,#eef 0 26px,#f77 0 29px,#dcf 0 31px,#fdd 0 34px,#fcc 0 36px,#fdd 0 39px,#dce 0 43px,#bae 0 46px,#fbb 0 48px,#dce 0 52px,#eaa 0 56px,#ccf 0 58px,#dcf 0 60px,#eef 0 62px,#ede 0 65px,#ddf 0 71px,#ecd 0 75px,#fcc 0 77px,#fdd 0 81px,#f88 0 83px,#ddf 0 86px,#ebc 0 91px,#ede 0 94px,#ecd 0 97px,#eef 0 100px,#fbb 0 103px,#fdd 0 105px,#f99 0 109px,#ccf 0 113px,#ede 0 117px,#fcc 0 120px,#dbe 0 122px,#ecd 0 124px,#fcd 0 128px,#eef 0 130px,#ecd 0 133px,#f99 0 137px,#dcd 0 139px,#ecd 0 143px,#dce 0 147px,#fbb 0 149px,#bbf 0 153px,#cbe 0 156px,#ecc 0 159px,#fdd 0 161px,#fcc 0 165px,#fdd 0 167px,#faa 0 171px,#fdd 0 173px,#edf 0 176px,#fcc 0 178px,#aaf 0 181px,#fdd 0 182px,#fff 0 186px,#fbb 0 189px,#ebc 0 193px,#fdd 0 197px,#edf 0 199px,#bbf 0 201px,#cbe 0 205px,#ecd 0 207px,#fbc 0 211px,#f77 0 215px,#cbf 0 217px,#ddf 0 220px,#f66 0 223px,#ddf 0 226px,#ccf 0 228px,#eef 0 231px,#ddf 0 233px,#eef 0 236px,#fdd 0 239px,#dce 0 243px,#bbf 0 245px,#ede 0 248px,#fcc 0 252px,#eef 0 254px,#ccf 0 258px,#fee 0 260px,#dde 0 264px,#dce 0 268px,#fdd 0 271px,#ddf 0 274px,#bae 0 278px,#eaa 0 281px,#faa 0 283px,#ede 0 289px,#dac 0 292px,#fcc 0 295px,#f99 0 297px,#fcd 0 299px,#e9a 0 302px,#f66 0 304px,#f99 0 306px,#dbd 0 309px,#ebc 0 311px,#f77 0 313px,#fbb 0 315px,#faa 0 317px,#fdd 0 319px,#dbd 0 323px,#fcd 0 326px,#faa 0 330px,#fbb 0 333px,#fcc 0 336px,#fbb 0 338px,#fee 0 340px,#fde 0 344px,#f66 0 348px,#fee 0 351px,#fbb 0 354px,#fcc 0 357px,#f77 0 359px,#faa 0 361px,#ecd 0 368px,#e78 0 371px,#f77 0 373px,#f99 0 376px,#faa 0 378px,#f88 0 380px,#f66 0 382px,#fdd 0 384px,#ecd 0 388px,#faa 0 391px,#f88 0 394px,#eab 0 396px,#f66 0 402px,#ede 0 404px,#f77 0 406px,#fdd 0 410px,#fcc 0 413px,#cbe 0 416px,#ede 0 422px,#ecd 0 425px,#fff 0 430px,#eee 0 434px,#fff 0 442px,#eef 0 445px,#dde 0 449px,#aaf 0 451px,#cbe 0 454px,#ede 0 457px,#dcf 0 459px,#ecd 0 461px,#fcc 0 463px,#ddf 0 467px,#ede 0 470px,#aaf 0 472px,#ddf 0 476px,#ede 0 480px,#ccf 0 482px,#ece 0 486px,#aaf 0 488px,#baf 0 492px,#bbf 0 495px,#ddf 0 497px,#dce 0 499px,#ccf 0 502px,#bbf 0 504px,#a9e 0 505px,#fff 0 510px,#ecd 0 513px,#cbe 0 517px,#dcf 0 519px,#ecc 0 521px,#ecd 0 523px,#ede 0 527px,#ebd 0 529px,#dce 0 533px,#ecd 0 536px,#dbd 0 538px,#ccf 0 541px,#99e 0 543px,#eac 0 545px,#99e 0 549px,#dce 0 552px,#ede 0 555px,#fee 0 558px,#88e 0 560px,#aaf 0 562px,#ccf 0 565px,#ede 0 569px,#bbf 0 571px,#dac 0 573px,#fcc 0 575px,#ccf 0 579px,#fff 0 586px)"></div>
<div class="a" style="left:0;width:587px;top:250.56px;height:14.32px;background:linear-gradient(90deg,#dce 0 3px,#ecc 0 6px,#aaf 0 10px,#d8a 0 13px,#dce 0 17px,#aaf 0 20px,#ecd 0 23px,#fdd 0 26px,#faa 0 29px,#eab 0 31px,#eef 0 34px,#fdd 0 36px,#fcc 0 43px,#ecd 0 46px,#f88 0 48px,#fcc 0 52px,#f77 0 56px,#fcc 0 58px,#d9b 0 60px,#ecd 0 62px,#faa 0 65px,#cce 0 69px,#fbb 0 71px,#faa 0 75px,#fcc 0 77px,#fbb 0 81px,#f66 0 83px,#cbe 0 86px,#faa 0 88px,#fcc 0 91px,#f99 0 94px,#ddf 0 97px,#bae 0 100px,#d9b 0 103px,#fcc 0 109px,#dce 0 113px,#ecd 0 117px,#dac 0 120px,#ddf 0 122px,#fee 0 124px,#ecd 0 128px,#ccf 0 130px,#ebc 0 133px,#fbb 0 137px,#fff 0 139px,#fbc 0 143px,#dce 0 147px,#faa 0 149px,#ede 0 156px,#fcc 0 159px,#eef 0 161px,#edd 0 165px,#fbb 0 167px,#fcc 0 171px,#fbb 0 173px,#ede 0 176px,#fdd 0 178px,#bbf 0 181px,#ddf 0 182px,#fff 0 186px,#fcc 0 189px,#faa 0 193px,#f99 0 197px,#fcc 0 199px,#fee 0 201px,#dbd 0 205px,#ebc 0 207px,#f99 0 211px,#f66 0 215px,#f88 0 217px,#fee 0 220px,#f66 0 223px,#edd 0 226px,#fbb 0 228px,#eab 0 231px,#ebc 0 233px,#eaa 0 236px,#ede 0 239px,#ebc 0 243px,#fbb 0 245px,#faa 0 248px,#ebc 0 252px,#ecc 0 254px,#ecd 0 260px,#faa 0 264px,#ecd 0 268px,#fbb 0 271px,#dce 0 274px,#fee 0 278px,#ede 0 281px,#eab 0 283px,#fdd 0 287px,#fcc 0 289px,#faa 0 292px,#fcc 0 295px,#fdd 0 297px,#c8b 0 299px,#cbe 0 302px,#fcc 0 304px,#f88 0 306px,#ccf 0 311px,#f99 0 313px,#eef 0 315px,#ddf 0 317px,#aae 0 319px,#bbe 0 323px,#edd 0 326px,#dcd 0 330px,#ede 0 333px,#fee 0 336px,#fcc 0 338px,#dce 0 340px,#cbf 0 344px,#faa 0 348px,#eef 0 351px,#ddf 0 354px,#dce 0 357px,#fee 0 361px,#ecd 0 364px,#dcf 0 368px,#ecd 0 371px,#faa 0 373px,#ede 0 376px,#eee 0 378px,#fee 0 382px,#ddf 0 384px,#dce 0 388px,#fee 0 391px,#dac 0 394px,#fee 0 396px,#fdd 0 400px,#fee 0 402px,#bbf 0 404px,#ede 0 406px,#eee 0 410px,#ede 0 413px,#cbf 0 416px,#bbf 0 419px,#cbf 0 422px,#aaf 0 425px,#fff 0 430px,#fee 0 434px,#fff 0 442px,#baf 0 445px,#dce 0 449px,#bbf 0 451px,#ccf 0 454px,#fee 0 457px,#ddf 0 459px,#ccf 0 463px,#dce 0 467px,#ddf 0 470px,#ede 0 472px,#98e 0 476px,#ebc 0 480px,#ecd 0 482px,#aaf 0 488px,#cce 0 492px,#bbf 0 495px,#b9c 0 497px,#ece 0 499px,#ccf 0 502px,#ebc 0 504px,#fff 0 505px,#fff 0 510px,#cbe 0 513px,#baf 0 517px,#fcc 0 521px,#eef 0 523px,#ccf 0 527px,#fde 0 529px,#ede 0 533px,#bbf 0 536px,#ede 0 538px,#bbf 0 541px,#88e 0 543px,#fcc 0 545px,#98e 0 552px,#ede 0 555px,#edf 0 558px,#ccf 0 560px,#aaf 0 562px,#ccf 0 565px,#dce 0 569px,#eef 0 571px,#cbe 0 573px,#ddf 0 575px,#edf 0 579px,#fff 0 583px,#ede 0 586px)"></div>
<div class="a" style="left:0;width:587px;top:264.48px;height:14.32px;background:linear-gradient(90deg,#fdd 0 6px,#baf 0 10px,#ebb 0 13px,#ecd 0 17px,#ccf 0 20px,#ddf 0 23px,#fcc 0 26px,#f88 0 29px,#fee 0 31px,#faa 0 34px,#eef 0 36px,#d9b 0 39px,#fcc 0 43px,#bbf 0 46px,#faa 0 48px,#eef 0 52px,#fbb 0 56px,#faa 0 58px,#aae 0 60px,#fbc 0 62px,#fcc 0 65px,#dde 0 69px,#eef 0 71px,#ece 0 75px,#eef 0 77px,#ede 0 81px,#faa 0 83px,#eab 0 86px,#f99 0 88px,#e9a 0 91px,#eab 0 94px,#ddf 0 97px,#bbf 0 100px,#edd 0 103px,#fbb 0 105px,#faa 0 109px,#ddf 0 113px,#fcc 0 117px,#fbb 0 120px,#dbc 0 122px,#fee 0 124px,#ecc 0 128px,#ccf 0 130px,#ede 0 133px,#fbb 0 137px,#ddf 0 139px,#fdd 0 143px,#edf 0 147px,#fdd 0 149px,#ddf 0 153px,#ccf 0 156px,#cbe 0 159px,#fcc 0 161px,#dbc 0 165px,#dac 0 167px,#fdd 0 171px,#eef 0 173px,#fde 0 176px,#ede 0 178px,#aaf 0 181px,#ccf 0 182px,#fff 0 186px,#faa 0 193px,#fcd 0 197px,#fcc 0 199px,#cbf 0 201px,#ede 0 205px,#ddf 0 207px,#ecc 0 211px,#f44 0 215px,#ede 0 217px,#ebc 0 220px,#f88 0 226px,#fee 0 228px,#fbb 0 233px,#fcc 0 236px,#ede 0 239px,#eef 0 243px,#fff 0 245px,#fdd 0 248px,#fcc 0 252px,#eef 0 254px,#f99 0 258px,#fff 0 260px,#cbe 0 264px,#fcc 0 268px,#faa 0 271px,#ecc 0 274px,#dde 0 278px,#ecd 0 281px,#fbb 0 283px,#f99 0 287px,#fee 0 289px,#ecd 0 292px,#fcc 0 295px,#d8a 0 297px,#ebc 0 302px,#f77 0 304px,#fbb 0 306px,#ecc 0 309px,#faa 0 311px,#f88 0 313px,#faa 0 315px,#fcc 0 317px,#eef 0 319px,#baf 0 323px,#a9e 0 326px,#fdd 0 330px,#f99 0 333px,#fef 0 336px,#f99 0 338px,#dde 0 340px,#cbf 0 344px,#ede 0 348px,#ebd 0 351px,#ccf 0 354px,#ede 0 357px,#faa 0 359px,#f99 0 361px,#eef 0 364px,#ebc 0 368px,#fcc 0 371px,#faa 0 373px,#f88 0 376px,#dbc 0 378px,#f88 0 380px,#f99 0 382px,#ddf 0 384px,#dcf 0 388px,#fdd 0 391px,#fcc 0 394px,#dce 0 396px,#ecd 0 400px,#f44 0 402px,#baf 0 404px,#fcc 0 406px,#ddf 0 410px,#ede 0 413px,#dce 0 416px,#ddf 0 419px,#dce 0 422px,#a9e 0 425px,#fff 0 430px,#fde 0 434px,#fff 0 442px,#dcd 0 445px,#dbe 0 449px,#ccf 0 451px,#fee 0 454px,#fbc 0 457px,#bbf 0 459px,#fdd 0 461px,#eef 0 463px,#cce 0 467px,#ede 0 470px,#baf 0 472px,#99e 0 476px,#ece 0 480px,#ccf 0 482px,#cbf 0 486px,#76e 0 488px,#bbf 0 497px,#fdd 0 499px,#ddf 0 504px,#ccf 0 505px,#fff 0 510px,#cbe 0 513px,#fbb 0 519px,#dce 0 521px,#ede 0 523px,#ddf 0 527px,#faa 0 529px,#dce 0 533px,#ede 0 536px,#ebc 0 538px,#ccf 0 543px,#eef 0 545px,#a9e 0 549px,#dbd 0 552px,#fbb 0 555px,#ddf 0 558px,#dce 0 560px,#c8b 0 562px,#ccf 0 565px,#fcd 0 569px,#ddf 0 571px,#ccf 0 573px,#fee 0 575px,#eef 0 579px,#fff 0 583px,#ccf 0 586px)"></div>
<div class="a" style="left:0;width:587px;top:278.40px;height:14.32px;background:linear-gradient(90deg,#fef 0 3px,#fcd 0 6px,#a9e 0 10px,#fbc 0 13px,#dbd 0 17px,#bbf 0 20px,#baf 0 23px,#cac 0 26px,#fbb 0 29px,#fdd 0 31px,#cce 0 34px,#d9b 0 36px,#fdd 0 39px,#ece 0 43px,#ede 0 46px,#dce 0 52px,#eab 0 56px,#ddf 0 58px,#a9e 0 60px,#cbe 0 62px,#ddf 0 65px,#eef 0 69px,#f99 0 71px,#ecd 0 75px,#eef 0 77px,#ddf 0 81px,#fcc 0 83px,#fee 0 86px,#dcf 0 88px,#edf 0 91px,#fcc 0 94px,#ecd 0 100px,#ede 0 103px,#ecd 0 105px,#faa 0 109px,#dce 0 113px,#edd 0 117px,#f88 0 120px,#fef 0 122px,#ede 0 124px,#fcc 0 128px,#edf 0 130px,#fdd 0 133px,#f88 0 137px,#fcc 0 139px,#fdd 0 143px,#ede 0 147px,#ecd 0 153px,#ede 0 156px,#faa 0 159px,#fee 0 161px,#fbb 0 165px,#eef 0 167px,#faa 0 171px,#cbf 0 173px,#fcc 0 176px,#fdd 0 178px,#bbf 0 181px,#fcc 0 182px,#fff 0 186px,#fcc 0 189px,#fdd 0 193px,#fcc 0 197px,#ccf 0 199px,#cbe 0 201px,#ccf 0 205px,#eef 0 207px,#ecc 0 211px,#f77 0 215px,#dce 0 217px,#fbc 0 220px,#f55 0 223px,#dcf 0 226px,#ede 0 228px,#fcd 0 231px,#edf 0 233px,#dbd 0 236px,#ecd 0 239px,#bbf 0 243px,#dcf 0 245px,#fbb 0 248px,#ccf 0 252px,#eef 0 254px,#e9a 0 258px,#ebc 0 260px,#ecd 0 268px,#fcc 0 271px,#dcd 0 278px,#fee 0 281px,#fbb 0 283px,#dcd 0 287px,#fdd 0 289px,#ecd 0 292px,#ddf 0 295px,#f77 0 297px,#fbb 0 299px,#fdd 0 302px,#f88 0 306px,#dbc 0 309px,#fdd 0 311px,#faa 0 313px,#fcc 0 315px,#f99 0 317px,#dad 0 319px,#dcf 0 323px,#fdd 0 326px,#fbb 0 330px,#f88 0 333px,#f77 0 336px,#ede 0 338px,#dab 0 340px,#ecd 0 344px,#e78 0 348px,#faa 0 351px,#fbb 0 354px,#eab 0 357px,#fbb 0 359px,#f88 0 361px,#faa 0 364px,#ddf 0 368px,#faa 0 371px,#f88 0 373px,#fcc 0 376px,#fbb 0 378px,#f44 0 380px,#c7a 0 382px,#ddf 0 384px,#edd 0 388px,#f99 0 391px,#fee 0 394px,#fdd 0 396px,#f66 0 400px,#fcc 0 402px,#fde 0 404px,#f66 0 406px,#dbd 0 410px,#faa 0 413px,#fdd 0 416px,#dce 0 419px,#fcc 0 422px,#fdd 0 425px,#fff 0 430px,#ede 0 434px,#fff 0 442px,#ccf 0 451px,#aaf 0 454px,#ede 0 457px,#baf 0 459px,#ccf 0 461px,#ddf 0 463px,#baf 0 467px,#ede 0 470px,#edf 0 472px,#99e 0 476px,#ddf 0 480px,#fee 0 482px,#99e 0 486px,#bbf 0 488px,#aaf 0 492px,#dce 0 495px,#ccf 0 497px,#ede 0 499px,#ddf 0 502px,#baf 0 504px,#ccf 0 505px,#fff 0 510px,#eef 0 513px,#bbf 0 517px,#eef 0 521px,#ecc 0 523px,#dbe 0 527px,#edf 0 529px,#dbd 0 533px,#bbf 0 538px,#99e 0 541px,#bbf 0 543px,#dce 0 545px,#aaf 0 549px,#baf 0 552px,#fcd 0 555px,#bbf 0 558px,#ddf 0 562px,#99e 0 565px,#ddf 0 569px,#ccf 0 573px,#ecc 0 575px,#cbf 0 579px,#fff 0 583px,#ddf 0 586px)"></div>
<div class="a" style="left:0;width:587px;top:292.32px;height:14.32px;background:linear-gradient(90deg,#ecd 0 3px,#eab 0 6px,#bbf 0 10px,#ebd 0 13px,#faa 0 17px,#ddf 0 20px,#dce 0 26px,#fbb 0 29px,#ecc 0 31px,#f88 0 34px,#ddf 0 36px,#fee 0 39px,#ecd 0 43px,#edd 0 46px,#fdd 0 48px,#ccf 0 52px,#fbb 0 56px,#fee 0 58px,#dcf 0 60px,#dbd 0 62px,#dcf 0 65px,#dce 0 69px,#fcc 0 71px,#dbd 0 75px,#eef 0 77px,#dcd 0 81px,#fcc 0 83px,#aaf 0 86px,#f77 0 88px,#fcc 0 91px,#faa 0 94px,#ddf 0 97px,#bbf 0 100px,#ede 0 103px,#fdd 0 105px,#faa 0 109px,#dbd 0 113px,#fee 0 117px,#f88 0 120px,#eef 0 122px,#ecd 0 124px,#faa 0 128px,#eef 0 130px,#f99 0 137px,#f88 0 139px,#dce 0 143px,#ddf 0 147px,#fcc 0 149px,#bae 0 153px,#ddf 0 156px,#fbb 0 159px,#fcc 0 161px,#ecd 0 165px,#eef 0 167px,#fcc 0 171px,#eef 0 173px,#ecd 0 176px,#f44 0 178px,#cbe 0 181px,#ccf 0 182px,#fff 0 186px,#ecc 0 189px,#e9a 0 193px,#eaa 0 197px,#ecd 0 199px,#ccf 0 201px,#fbb 0 205px,#fdd 0 207px,#ede 0 211px,#f55 0 215px,#faa 0 217px,#dbd 0 220px,#f99 0 223px,#eab 0 226px,#fcc 0 228px,#ecd 0 231px,#ccf 0 233px,#eef 0 236px,#ddf 0 239px,#eee 0 243px,#cad 0 245px,#fdd 0 248px,#dde 0 252px,#fee 0 254px,#fbb 0 258px,#fdd 0 264px,#fcd 0 268px,#edd 0 271px,#cbd 0 274px,#cbe 0 278px,#fcc 0 281px,#eef 0 283px,#eee 0 287px,#ede 0 292px,#fdd 0 295px,#faa 0 297px,#fbb 0 302px,#f66 0 304px,#fee 0 309px,#f99 0 311px,#faa 0 313px,#fcc 0 315px,#eef 0 317px,#fff 0 319px,#ecd 0 323px,#ede 0 326px,#f99 0 330px,#f66 0 333px,#fbb 0 336px,#f77 0 338px,#cad 0 340px,#ebc 0 344px,#eab 0 348px,#ede 0 351px,#fcc 0 357px,#faa 0 361px,#fcc 0 364px,#ebb 0 368px,#faa 0 371px,#f88 0 373px,#f9a 0 376px,#ede 0 378px,#f44 0 380px,#f66 0 382px,#fcc 0 384px,#dce 0 388px,#fcd 0 391px,#fdd 0 394px,#ddf 0 396px,#f77 0 402px,#eef 0 404px,#faa 0 406px,#eef 0 410px,#fcc 0 413px,#c8b 0 416px,#dce 0 419px,#ebc 0 422px,#eef 0 425px,#fff 0 430px,#fee 0 434px,#fff 0 442px,#cad 0 445px,#bbf 0 449px,#99e 0 451px,#bbf 0 454px,#ccf 0 457px,#aaf 0 459px,#98e 0 461px,#a9e 0 463px,#ccf 0 467px,#dce 0 470px,#99e 0 476px,#cad 0 480px,#ddf 0 482px,#99e 0 486px,#aae 0 488px,#dce 0 492px,#a9e 0 495px,#ccf 0 497px,#eef 0 499px,#ccf 0 502px,#baf 0 504px,#ccf 0 505px,#fff 0 510px,#ecd 0 513px,#bbf 0 517px,#ddf 0 519px,#ccf 0 521px,#ecd 0 523px,#dce 0 527px,#fee 0 529px,#cbf 0 533px,#dce 0 536px,#eef 0 538px,#aaf 0 541px,#65e 0 543px,#ece 0 545px,#a9e 0 549px,#cbe 0 552px,#fcc 0 555px,#ebc 0 558px,#eef 0 560px,#bbf 0 562px,#88e 0 565px,#dce 0 569px,#bbf 0 571px,#aaf 0 573px,#eee 0 575px,#fee 0 579px,#fff 0 583px,#ddf 0 586px)"></div>
<div class="a" style="left:0;width:587px;top:306.24px;height:14.32px;background:linear-gradient(90deg,#ecd 0 6px,#cbe 0 10px,#ecd 0 13px,#ebc 0 17px,#ccf 0 20px,#eef 0 23px,#ccf 0 26px,#fcc 0 29px,#fdd 0 31px,#ecd 0 34px,#fde 0 36px,#f9a 0 39px,#dce 0 43px,#aaf 0 46px,#dbd 0 48px,#ecc 0 52px,#fcc 0 56px,#fdd 0 58px,#ede 0 60px,#cbd 0 62px,#eee 0 65px,#aaf 0 69px,#fdd 0 71px,#edf 0 75px,#dab 0 77px,#ecd 0 81px,#dcd 0 83px,#dbd 0 86px,#faa 0 88px,#ede 0 91px,#fbb 0 94px,#ede 0 97px,#cce 0 100px,#ebb 0 103px,#ede 0 105px,#faa 0 109px,#cce 0 113px,#fde 0 117px,#f9a 0 120px,#cbe 0 122px,#dde 0 124px,#faa 0 128px,#fde 0 130px,#fee 0 133px,#f77 0 137px,#bbf 0 139px,#ece 0 143px,#dbe 0 147px,#fdd 0 149px,#ddf 0 156px,#fbc 0 159px,#dbd 0 161px,#edd 0 165px,#ddf 0 167px,#fbb 0 171px,#f99 0 173px,#fab 0 176px,#fee 0 178px,#ddf 0 181px,#fee 0 182px,#fff 0 186px,#fbb 0 189px,#eab 0 193px,#ecd 0 197px,#eee 0 199px,#baf 0 201px,#dde 0 205px,#faa 0 207px,#fcc 0 211px,#f88 0 215px,#ddf 0 217px,#cae 0 220px,#f77 0 223px,#fbb 0 226px,#e89 0 228px,#ccf 0 231px,#ddf 0 233px,#ebd 0 236px,#edf 0 239px,#ecd 0 243px,#faa 0 245px,#fcc 0 248px,#ccf 0 252px,#fee 0 254px,#edd 0 258px,#ccf 0 260px,#eef 0 264px,#dbe 0 268px,#f99 0 271px,#ede 0 274px,#dde 0 278px,#f88 0 281px,#fcc 0 283px,#eee 0 287px,#fbb 0 289px,#dcf 0 292px,#faa 0 295px,#fcc 0 297px,#eab 0 299px,#edd 0 302px,#faa 0 304px,#eab 0 306px,#dde 0 309px,#cbf 0 311px,#f77 0 313px,#eab 0 315px,#faa 0 317px,#eef 0 319px,#dce 0 323px,#fbb 0 326px,#f88 0 330px,#cad 0 333px,#eab 0 336px,#f99 0 338px,#faa 0 340px,#eef 0 344px,#f66 0 348px,#dbd 0 351px,#fcc 0 354px,#ecc 0 357px,#f88 0 361px,#dce 0 364px,#ebd 0 368px,#f99 0 371px,#ebc 0 373px,#e9a 0 376px,#fbb 0 378px,#f55 0 380px,#ebc 0 382px,#edd 0 384px,#fbb 0 391px,#ebb 0 394px,#eef 0 396px,#f77 0 400px,#fee 0 402px,#ddf 0 404px,#ede 0 410px,#fcc 0 413px,#bbf 0 416px,#ddf 0 419px,#fcc 0 422px,#ddf 0 425px,#fff 0 430px,#fee 0 434px,#fff 0 442px,#ccf 0 445px,#ddf 0 449px,#cbf 0 451px,#cce 0 454px,#eab 0 457px,#ddf 0 459px,#ccf 0 463px,#cbe 0 467px,#ccf 0 470px,#fee 0 472px,#a9e 0 476px,#eef 0 480px,#dcf 0 482px,#aaf 0 486px,#ccf 0 488px,#aaf 0 492px,#87e 0 495px,#dbd 0 497px,#ede 0 499px,#dce 0 502px,#99e 0 504px,#aaf 0 505px,#fff 0 510px,#ccf 0 513px,#dcf 0 517px,#fdd 0 519px,#ccf 0 521px,#cbe 0 523px,#eef 0 527px,#e99 0 529px,#dbd 0 533px,#cbf 0 538px,#bbf 0 541px,#ccf 0 543px,#ecc 0 545px,#99e 0 549px,#cbf 0 552px,#dbd 0 555px,#fde 0 558px,#edf 0 560px,#ccf 0 562px,#98e 0 565px,#eef 0 569px,#ddf 0 571px,#ccf 0 573px,#fdd 0 575px,#dce 0 579px,#fff 0 583px,#dcf 0 586px)"></div>
<div class="a" style="left:0;width:587px;top:320.16px;height:14.32px;background:linear-gradient(90deg,#fcd 0 3px,#fbb 0 6px,#ccf 0 10px,#f88 0 13px,#dce 0 17px,#99e 0 20px,#ccf 0 23px,#cbe 0 26px,#fde 0 29px,#ecd 0 31px,#eef 0 34px,#ede 0 36px,#ddf 0 39px,#eee 0 43px,#cad 0 46px,#f99 0 48px,#fdd 0 52px,#eaa 0 56px,#dce 0 58px,#fee 0 60px,#ddf 0 62px,#fde 0 65px,#bae 0 69px,#fdd 0 71px,#eee 0 75px,#f88 0 77px,#dce 0 81px,#fee 0 83px,#ede 0 86px,#faa 0 88px,#ecd 0 91px,#fcc 0 94px,#ecd 0 97px,#bbe 0 100px,#eef 0 103px,#e78 0 105px,#fcc 0 109px,#dbe 0 113px,#fcc 0 117px,#f99 0 120px,#fef 0 122px,#ecd 0 124px,#ede 0 128px,#ccf 0 130px,#fbb 0 133px,#faa 0 137px,#fbb 0 139px,#ebb 0 143px,#cbf 0 147px,#eee 0 149px,#ecd 0 153px,#fcc 0 156px,#fee 0 161px,#ecc 0 165px,#dce 0 167px,#fab 0 171px,#fcc 0 173px,#ede 0 176px,#fdd 0 178px,#ccf 0 181px,#eef 0 182px,#fff 0 186px,#f99 0 189px,#fbc 0 193px,#ede 0 197px,#a9e 0 199px,#ccf 0 205px,#ddf 0 207px,#fbb 0 211px,#f44 0 215px,#fcc 0 217px,#fcd 0 220px,#f55 0 223px,#fbb 0 226px,#ede 0 228px,#ebc 0 231px,#ddf 0 233px,#fbb 0 236px,#dce 0 239px,#ede 0 243px,#dbd 0 245px,#ebc 0 248px,#ecd 0 252px,#edd 0 254px,#faa 0 258px,#fcc 0 260px,#faa 0 264px,#ddf 0 268px,#eab 0 271px,#dce 0 274px,#ede 0 278px,#faa 0 281px,#f77 0 283px,#ddf 0 287px,#ecd 0 289px,#dcd 0 292px,#ede 0 295px,#fbb 0 297px,#fcc 0 299px,#eaa 0 302px,#f22 0 304px,#dcd 0 306px,#dce 0 309px,#fee 0 311px,#f99 0 313px,#faa 0 315px,#fbb 0 317px,#fdd 0 319px,#eef 0 323px,#ddf 0 326px,#f99 0 333px,#fcd 0 336px,#fcc 0 338px,#ddf 0 340px,#cbd 0 344px,#f77 0 348px,#fdd 0 351px,#faa 0 354px,#fdd 0 357px,#fbb 0 359px,#f99 0 361px,#edd 0 364px,#f99 0 368px,#fcc 0 371px,#f99 0 373px,#fbc 0 376px,#ccf 0 378px,#fbb 0 380px,#f77 0 382px,#cbd 0 384px,#fcd 0 388px,#eab 0 391px,#f88 0 394px,#edf 0 396px,#f99 0 400px,#f33 0 402px,#ede 0 404px,#faa 0 406px,#fcc 0 410px,#dbd 0 413px,#dac 0 416px,#edd 0 425px,#fff 0 430px,#fee 0 434px,#fff 0 442px,#dce 0 445px,#edf 0 449px,#76e 0 451px,#ddf 0 459px,#98e 0 461px,#dac 0 463px,#aaf 0 467px,#edd 0 470px,#cbf 0 472px,#87e 0 476px,#ede 0 480px,#dce 0 482px,#98e 0 486px,#ccf 0 488px,#aaf 0 492px,#bbe 0 495px,#bbf 0 497px,#ddf 0 499px,#dce 0 502px,#fdd 0 504px,#ccf 0 505px,#fff 0 510px,#dce 0 513px,#dbd 0 517px,#ecd 0 519px,#fee 0 521px,#dde 0 523px,#bbf 0 527px,#fff 0 529px,#ccf 0 533px,#dde 0 536px,#98e 0 541px,#dcf 0 543px,#ecc 0 545px,#98e 0 549px,#baf 0 552px,#fdd 0 555px,#baf 0 558px,#ccf 0 562px,#bbf 0 565px,#eef 0 569px,#ddf 0 571px,#a9e 0 573px,#ede 0 575px,#ecd 0 579px,#fff 0 583px,#ddf 0 586px)"></div>
<div class="a" style="left:0;width:587px;top:334.08px;height:14.32px;background:linear-gradient(90deg,#fee 0 3px,#fcc 0 6px,#bae 0 10px,#fdd 0 13px,#ecd 0 17px,#fcc 0 20px,#ddf 0 23px,#ecd 0 26px,#f99 0 29px,#dde 0 31px,#fcc 0 34px,#fdd 0 36px,#f99 0 39px,#ede 0 43px,#dce 0 46px,#fcc 0 48px,#fde 0 52px,#faa 0 56px,#fcc 0 58px,#dbd 0 60px,#fee 0 62px,#faa 0 65px,#ddf 0 69px,#f99 0 71px,#dac 0 75px,#dbd 0 77px,#dce 0 81px,#fbb 0 83px,#fdd 0 86px,#f77 0 88px,#f99 0 91px,#eab 0 94px,#ddf 0 97px,#ccf 0 100px,#fcc 0 103px,#eef 0 105px,#fbb 0 109px,#dce 0 113px,#ecc 0 117px,#faa 0 120px,#bbf 0 122px,#ecd 0 124px,#fbb 0 128px,#fee 0 130px,#ede 0 133px,#fbb 0 137px,#eef 0 139px,#faa 0 143px,#cbe 0 147px,#ede 0 149px,#dce 0 153px,#eef 0 156px,#fcc 0 159px,#fee 0 161px,#fdd 0 165px,#fee 0 167px,#f77 0 171px,#faa 0 173px,#dbd 0 176px,#bbf 0 178px,#ddf 0 181px,#eef 0 182px,#fff 0 186px,#fcc 0 189px,#ebc 0 193px,#fcc 0 197px,#fbb 0 199px,#ddf 0 201px,#eab 0 205px,#fee 0 207px,#fdd 0 211px,#f99 0 215px,#fcc 0 220px,#f66 0 223px,#fcc 0 226px,#ddf 0 228px,#ecd 0 231px,#fee 0 233px,#ecd 0 236px,#dce 0 239px,#ecd 0 243px,#fdd 0 245px,#f99 0 248px,#cac 0 252px,#edd 0 254px,#fcc 0 258px,#eef 0 260px,#ebc 0 264px,#fde 0 268px,#f88 0 271px,#baf 0 274px,#dce 0 278px,#fcc 0 281px,#faa 0 283px,#ebc 0 287px,#f99 0 289px,#faa 0 292px,#fcc 0 295px,#fbb 0 297px,#ede 0 299px,#ebc 0 302px,#eaa 0 304px,#fbb 0 306px,#ece 0 309px,#ebc 0 311px,#f99 0 313px,#fdd 0 315px,#ddf 0 317px,#cbf 0 319px,#a9e 0 323px,#ddf 0 326px,#ecc 0 330px,#fcc 0 333px,#fff 0 336px,#fbb 0 338px,#ccf 0 340px,#ddf 0 344px,#fcc 0 348px,#eee 0 351px,#ddf 0 354px,#eef 0 357px,#eab 0 359px,#fcc 0 361px,#ede 0 364px,#cbe 0 368px,#fee 0 373px,#ebb 0 376px,#bbf 0 378px,#f66 0 380px,#dbd 0 382px,#aaf 0 384px,#ddf 0 388px,#fdd 0 391px,#ecd 0 394px,#cce 0 396px,#ebc 0 400px,#eef 0 402px,#ccf 0 404px,#fcc 0 406px,#cbe 0 410px,#dce 0 413px,#ddf 0 419px,#ece 0 422px,#fee 0 425px,#fff 0 430px,#eef 0 434px,#fff 0 442px,#ddf 0 445px,#dce 0 449px,#dcd 0 451px,#dce 0 454px,#ecd 0 457px,#ccf 0 459px,#fcc 0 461px,#ccf 0 463px,#ede 0 467px,#dcf 0 470px,#dde 0 472px,#77e 0 476px,#ecd 0 480px,#ddf 0 482px,#cbf 0 486px,#99e 0 488px,#bbf 0 495px,#eef 0 497px,#f99 0 499px,#edf 0 502px,#baf 0 504px,#ddf 0 505px,#fff 0 510px,#bbf 0 513px,#cbe 0 517px,#fbb 0 519px,#ebb 0 521px,#b59 0 523px,#ede 0 527px,#fcc 0 529px,#dbd 0 533px,#ecd 0 536px,#ddf 0 538px,#cbe 0 541px,#87e 0 543px,#fbb 0 545px,#99e 0 549px,#aaf 0 552px,#dce 0 555px,#ddf 0 560px,#c9c 0 562px,#bbf 0 565px,#ecd 0 569px,#aaf 0 571px,#cce 0 573px,#ddf 0 575px,#fee 0 579px,#fff 0 583px,#ddf 0 586px)"></div>
<div class="a" style="left:0;width:587px;top:348.00px;height:14.32px;background:linear-gradient(90deg,#ecd 0 3px,#fbb 0 6px,#cce 0 10px,#fee 0 13px,#ebc 0 17px,#ccf 0 20px,#cbf 0 23px,#ecd 0 26px,#fcc 0 29px,#eab 0 31px,#fcc 0 34px,#ecd 0 36px,#edd 0 39px,#ecd 0 43px,#fee 0 46px,#fff 0 48px,#ddf 0 52px,#ecc 0 56px,#fee 0 58px,#dcf 0 60px,#dce 0 62px,#dcf 0 65px,#eef 0 69px,#d9b 0 71px,#ebc 0 75px,#faa 0 77px,#ede 0 81px,#fcc 0 83px,#ecd 0 86px,#f99 0 88px,#fdd 0 91px,#d8a 0 94px,#bbf 0 97px,#ede 0 105px,#faa 0 109px,#dce 0 113px,#fbb 0 117px,#ecd 0 120px,#fee 0 122px,#dce 0 124px,#ecd 0 128px,#fee 0 130px,#fdd 0 137px,#fcc 0 139px,#ecc 0 143px,#ecd 0 147px,#fcc 0 149px,#eef 0 153px,#edd 0 156px,#ede 0 161px,#faa 0 165px,#eee 0 167px,#f88 0 173px,#edd 0 176px,#fdd 0 178px,#bae 0 181px,#fbb 0 182px,#fff 0 186px,#ecd 0 189px,#edd 0 193px,#ede 0 197px,#edf 0 199px,#ddf 0 205px,#fff 0 207px,#eab 0 211px,#f33 0 215px,#fbb 0 217px,#dce 0 220px,#f66 0 223px,#fcc 0 226px,#ede 0 228px,#dbd 0 231px,#dcd 0 233px,#fcc 0 236px,#dcf 0 239px,#ede 0 243px,#baf 0 245px,#fff 0 248px,#fdd 0 252px,#ecd 0 254px,#fcc 0 258px,#fee 0 260px,#ede 0 264px,#dce 0 268px,#ebb 0 271px,#ddf 0 274px,#bbf 0 278px,#ede 0 281px,#d9b 0 283px,#eef 0 287px,#f99 0 289px,#ccf 0 292px,#ebc 0 295px,#ecc 0 297px,#dcd 0 299px,#fbb 0 302px,#f22 0 304px,#eef 0 306px,#fcc 0 309px,#ecd 0 311px,#f44 0 313px,#faa 0 315px,#ece 0 317px,#e9a 0 319px,#cbf 0 323px,#fcc 0 326px,#fbb 0 330px,#f99 0 333px,#f77 0 336px,#faa 0 338px,#fef 0 340px,#ebc 0 344px,#f77 0 348px,#ede 0 351px,#fab 0 354px,#fbb 0 357px,#ebc 0 359px,#f99 0 361px,#dac 0 364px,#ecc 0 368px,#eab 0 371px,#fbb 0 373px,#f66 0 376px,#dac 0 378px,#f55 0 382px,#99e 0 384px,#fbb 0 388px,#f88 0 391px,#f77 0 394px,#fcc 0 396px,#f99 0 400px,#faa 0 402px,#fcc 0 404px,#fdd 0 406px,#fbb 0 410px,#faa 0 413px,#fee 0 416px,#ebc 0 419px,#eef 0 422px,#cad 0 425px,#fff 0 430px,#fee 0 434px,#fff 0 442px,#cce 0 445px,#dcf 0 449px,#99e 0 451px,#cbe 0 454px,#fff 0 457px,#eef 0 459px,#ccf 0 461px,#cbf 0 463px,#dcf 0 467px,#baf 0 470px,#a9e 0 472px,#98e 0 476px,#ede 0 480px,#ccf 0 482px,#99e 0 486px,#87e 0 488px,#dcf 0 492px,#bbf 0 495px,#eef 0 497px,#fee 0 499px,#cce 0 502px,#fdd 0 504px,#fee 0 505px,#fff 0 510px,#ccf 0 513px,#cbe 0 517px,#bad 0 519px,#dbc 0 521px,#faa 0 523px,#cbe 0 527px,#fbb 0 529px,#ddf 0 533px,#bae 0 536px,#cbf 0 538px,#bbf 0 541px,#a9e 0 543px,#fef 0 545px,#99e 0 549px,#76e 0 552px,#ddf 0 555px,#cce 0 558px,#dce 0 560px,#baf 0 562px,#99e 0 565px,#ccf 0 569px,#cbf 0 571px,#88e 0 573px,#fcc 0 575px,#ddf 0 579px,#fff 0 583px,#cbf 0 586px)"></div>
<div class="a" style="left:0;width:587px;top:361.92px;height:14.32px;background:linear-gradient(90deg,#ecd 0 3px,#fee 0 6px,#bbf 0 10px,#ecd 0 13px,#faa 0 17px,#aaf 0 20px,#dcf 0 23px,#eee 0 26px,#fbb 0 29px,#fdd 0 31px,#dbd 0 34px,#fdd 0 36px,#eef 0 39px,#eee 0 43px,#bbf 0 46px,#dcd 0 48px,#edd 0 52px,#ecd 0 56px,#bbf 0 58px,#dce 0 60px,#bbf 0 62px,#ccf 0 69px,#fbb 0 71px,#dce 0 75px,#dcd 0 77px,#ebc 0 81px,#ccf 0 83px,#dbd 0 86px,#fcc 0 88px,#fdd 0 91px,#fbb 0 94px,#bbf 0 97px,#ccf 0 100px,#fdd 0 103px,#ede 0 105px,#f99 0 109px,#ccf 0 113px,#fde 0 117px,#fcc 0 120px,#dce 0 122px,#fcc 0 124px,#ecc 0 128px,#fee 0 130px,#fbb 0 133px,#faa 0 137px,#fee 0 139px,#dce 0 143px,#ddf 0 149px,#ecd 0 153px,#edf 0 156px,#fdd 0 159px,#fcc 0 161px,#ede 0 165px,#fee 0 167px,#f99 0 171px,#fcc 0 173px,#ede 0 176px,#fee 0 178px,#99e 0 181px,#fbb 0 182px,#fff 0 186px,#fcc 0 193px,#ebc 0 197px,#ede 0 199px,#baf 0 201px,#edf 0 205px,#fdd 0 207px,#ebc 0 211px,#f77 0 215px,#b9d 0 217px,#dde 0 220px,#f55 0 223px,#fee 0 226px,#fdd 0 228px,#ecd 0 231px,#cbe 0 233px,#dac 0 236px,#99e 0 239px,#ede 0 243px,#ccf 0 245px,#fde 0 248px,#fdd 0 254px,#fbb 0 258px,#fcc 0 260px,#ebc 0 264px,#fdd 0 268px,#fcc 0 271px,#ddf 0 274px,#dce 0 278px,#faa 0 281px,#edd 0 287px,#faa 0 289px,#fbb 0 292px,#dde 0 295px,#f77 0 297px,#fdd 0 299px,#faa 0 302px,#e9a 0 304px,#f99 0 306px,#fcc 0 309px,#eab 0 311px,#faa 0 315px,#eee 0 317px,#ede 0 319px,#dbd 0 323px,#ede 0 326px,#f99 0 336px,#faa 0 338px,#f99 0 340px,#ebc 0 344px,#f99 0 348px,#e9b 0 351px,#fbb 0 357px,#fcc 0 359px,#f88 0 361px,#edf 0 364px,#edd 0 368px,#f9a 0 371px,#f66 0 373px,#fdd 0 376px,#fcc 0 378px,#f44 0 380px,#faa 0 382px,#eef 0 384px,#eee 0 388px,#edd 0 391px,#f88 0 394px,#faa 0 396px,#eef 0 400px,#fcc 0 402px,#fbb 0 404px,#f99 0 406px,#ecc 0 410px,#fcc 0 413px,#fbb 0 416px,#ede 0 419px,#edd 0 422px,#ccf 0 425px,#fff 0 430px,#fde 0 434px,#fff 0 442px,#dce 0 445px,#ddf 0 449px,#baf 0 451px,#dce 0 454px,#ecd 0 457px,#aaf 0 459px,#ede 0 461px,#ccf 0 463px,#dce 0 470px,#bbf 0 472px,#aae 0 476px,#ccf 0 480px,#dcf 0 482px,#a9e 0 486px,#aaf 0 488px,#ddf 0 492px,#99e 0 495px,#dcf 0 497px,#ede 0 499px,#a8d 0 502px,#ccf 0 504px,#cbf 0 505px,#fff 0 510px,#ebc 0 513px,#dce 0 517px,#fdd 0 519px,#ddf 0 521px,#ccf 0 523px,#bae 0 527px,#f77 0 529px,#bbf 0 533px,#dcf 0 536px,#dde 0 538px,#bbf 0 541px,#98e 0 543px,#dcd 0 545px,#aae 0 549px,#a8d 0 552px,#dac 0 555px,#faa 0 558px,#ebd 0 560px,#ccf 0 562px,#baf 0 565px,#dce 0 569px,#ddf 0 571px,#dde 0 573px,#fbb 0 575px,#cbe 0 579px,#fff 0 583px,#ddf 0 586px)"></div>
<div class="a" style="left:0;width:587px;top:375.84px;height:14.32px;background:linear-gradient(90deg,#ede 0 3px,#ecd 0 6px,#baf 0 10px,#dce 0 13px,#ebc 0 17px,#dce 0 20px,#ddf 0 23px,#eef 0 26px,#fdd 0 29px,#eee 0 31px,#fde 0 34px,#ccf 0 36px,#ecc 0 39px,#ccf 0 43px,#bbf 0 46px,#faa 0 48px,#ecd 0 52px,#dab 0 56px,#fee 0 58px,#fdd 0 60px,#ecc 0 62px,#dce 0 65px,#ede 0 69px,#fbb 0 71px,#eef 0 75px,#ddf 0 77px,#dbe 0 81px,#fbc 0 83px,#ede 0 86px,#fcc 0 88px,#ecc 0 91px,#fbb 0 94px,#dce 0 97px,#cbf 0 100px,#fcc 0 103px,#ede 0 105px,#fcc 0 109px,#ddf 0 113px,#ecd 0 117px,#fbb 0 120px,#baf 0 122px,#fff 0 124px,#edd 0 128px,#fdd 0 130px,#fcc 0 133px,#ecc 0 137px,#fbb 0 139px,#ecd 0 143px,#ddf 0 147px,#fee 0 149px,#edd 0 153px,#cbf 0 156px,#ecc 0 159px,#aae 0 161px,#ebb 0 165px,#aaf 0 167px,#f77 0 171px,#ebc 0 173px,#dce 0 176px,#ecd 0 178px,#bbf 0 181px,#f88 0 182px,#fff 0 186px,#faa 0 193px,#f99 0 197px,#fee 0 199px,#98e 0 201px,#ebc 0 205px,#fee 0 207px,#fcc 0 211px,#f55 0 215px,#fee 0 217px,#dde 0 220px,#f99 0 223px,#fde 0 226px,#fee 0 228px,#ede 0 231px,#eef 0 233px,#f99 0 236px,#dcf 0 239px,#eef 0 243px,#edf 0 245px,#fdd 0 252px,#bbf 0 254px,#fcc 0 258px,#fff 0 260px,#ede 0 264px,#dcd 0 268px,#ede 0 274px,#dce 0 278px,#fdd 0 281px,#f66 0 283px,#e9b 0 287px,#f88 0 289px,#dac 0 292px,#fcc 0 295px,#faa 0 297px,#fdd 0 299px,#e9a 0 302px,#f88 0 304px,#ddf 0 306px,#edf 0 309px,#e8a 0 311px,#eef 0 313px,#e9a 0 315px,#fdd 0 319px,#aaf 0 323px,#fbb 0 326px,#faa 0 330px,#fbb 0 333px,#ebc 0 336px,#fcc 0 338px,#fbb 0 340px,#cbd 0 344px,#f99 0 348px,#fcc 0 354px,#bbf 0 357px,#ddf 0 359px,#fcc 0 361px,#eaa 0 364px,#faa 0 368px,#fbb 0 371px,#f44 0 373px,#faa 0 376px,#eef 0 378px,#f88 0 380px,#f99 0 382px,#fdd 0 384px,#cbe 0 388px,#fcc 0 391px,#faa 0 394px,#fbb 0 396px,#faa 0 400px,#fdd 0 402px,#f88 0 404px,#ebc 0 406px,#e9b 0 410px,#fcc 0 413px,#edf 0 416px,#cbf 0 419px,#fee 0 422px,#fdd 0 425px,#fff 0 430px,#fee 0 434px,#fff 0 442px,#cce 0 445px,#cbf 0 449px,#fdd 0 451px,#ddf 0 454px,#fcc 0 457px,#ddf 0 459px,#cbe 0 461px,#bbf 0 463px,#cad 0 467px,#ddf 0 470px,#ccf 0 472px,#aaf 0 476px,#ede 0 480px,#dcf 0 482px,#bbf 0 486px,#87e 0 488px,#ccf 0 492px,#99e 0 495px,#aaf 0 497px,#dce 0 499px,#ccf 0 502px,#fee 0 504px,#cbf 0 505px,#fff 0 510px,#bbf 0 513px,#dac 0 517px,#faa 0 519px,#ddf 0 521px,#fcc 0 523px,#ccf 0 527px,#fbb 0 529px,#eee 0 533px,#a8c 0 536px,#edf 0 538px,#ddf 0 541px,#98e 0 543px,#fcc 0 545px,#99e 0 549px,#ccf 0 552px,#bae 0 555px,#b8c 0 558px,#edf 0 560px,#fcc 0 562px,#ddf 0 565px,#dcd 0 569px,#ddf 0 573px,#dce 0 575px,#bae 0 579px,#fff 0 583px,#ccf 0 586px)"></div>
<div class="a" style="left:0;width:587px;top:389.76px;height:14.32px;background:linear-gradient(90deg,#f99 0 3px,#ecc 0 6px,#dde 0 10px,#eab 0 13px,#e89 0 17px,#dbd 0 20px,#ccf 0 23px,#dbd 0 26px,#f55 0 29px,#f99 0 31px,#fcc 0 34px,#fdd 0 36px,#f88 0 39px,#fdd 0 43px,#ecd 0 46px,#fbb 0 48px,#ecc 0 52px,#fbb 0 56px,#f99 0 58px,#fcc 0 60px,#ede 0 62px,#ecc 0 65px,#cbf 0 69px,#f88 0 71px,#edd 0 75px,#dce 0 77px,#ecd 0 81px,#fdd 0 83px,#ebc 0 86px,#fdd 0 88px,#edd 0 91px,#fbb 0 94px,#cce 0 97px,#edf 0 100px,#fbb 0 103px,#fcd 0 105px,#fbb 0 109px,#aaf 0 113px,#ede 0 117px,#fbb 0 120px,#ccf 0 122px,#fcc 0 124px,#dcd 0 128px,#fef 0 130px,#fee 0 133px,#fbb 0 137px,#faa 0 139px,#edd 0 143px,#aaf 0 147px,#fde 0 149px,#ede 0 153px,#eef 0 156px,#dbd 0 159px,#fcd 0 165px,#ddf 0 167px,#faa 0 171px,#f88 0 173px,#fde 0 176px,#ddf 0 178px,#87e 0 181px,#ccf 0 182px,#fff 0 186px,#f88 0 189px,#faa 0 193px,#fcc 0 197px,#eee 0 199px,#ccf 0 201px,#dcd 0 205px,#f99 0 207px,#faa 0 211px,#f77 0 215px,#fcc 0 217px,#faa 0 220px,#f66 0 223px,#fee 0 226px,#dce 0 228px,#fee 0 231px,#eef 0 233px,#fde 0 236px,#ccf 0 239px,#faa 0 243px,#f77 0 245px,#ecd 0 248px,#edd 0 252px,#fbb 0 254px,#edd 0 258px,#f99 0 260px,#fdd 0 268px,#fcc 0 271px,#fee 0 274px,#dce 0 278px,#f88 0 281px,#faa 0 283px,#ede 0 287px,#fee 0 289px,#fdd 0 292px,#fbb 0 295px,#ecd 0 297px,#ccf 0 299px,#e9a 0 302px,#faa 0 304px,#99e 0 306px,#dce 0 309px,#ebc 0 311px,#fcc 0 313px,#eee 0 315px,#ccf 0 317px,#fff 0 319px,#a9e 0 323px,#ccf 0 326px,#ddf 0 330px,#bbf 0 333px,#dce 0 336px,#ecd 0 338px,#bbf 0 340px,#ede 0 344px,#ecd 0 348px,#bbf 0 351px,#ccf 0 354px,#eef 0 357px,#f88 0 359px,#cbf 0 361px,#ede 0 364px,#dde 0 368px,#ddf 0 371px,#ecd 0 373px,#fcc 0 376px,#eef 0 378px,#fcc 0 380px,#ccf 0 382px,#bbf 0 384px,#dce 0 388px,#cbf 0 391px,#ddf 0 394px,#cbf 0 396px,#faa 0 400px,#fee 0 402px,#ccf 0 404px,#ddf 0 406px,#dce 0 410px,#bbe 0 413px,#cbf 0 416px,#b9d 0 419px,#ccf 0 422px,#88e 0 425px,#fff 0 430px,#fee 0 434px,#fff 0 442px,#ccf 0 445px,#ede 0 449px,#fdd 0 451px,#eef 0 454px,#dcd 0 457px,#fbb 0 459px,#dbd 0 461px,#fcc 0 463px,#dcd 0 467px,#fde 0 470px,#baf 0 472px,#dce 0 476px,#eab 0 480px,#c9c 0 482px,#ccf 0 486px,#bbf 0 488px,#dcd 0 492px,#cbe 0 495px,#ccf 0 497px,#ecd 0 499px,#eef 0 502px,#dce 0 504px,#faa 0 505px,#fff 0 510px,#ede 0 513px,#ecd 0 517px,#faa 0 519px,#eab 0 521px,#fff 0 523px,#dde 0 527px,#f88 0 529px,#dce 0 533px,#ddf 0 536px,#ede 0 538px,#cad 0 541px,#eef 0 543px,#f88 0 545px,#cbe 0 549px,#edf 0 552px,#f77 0 555px,#eef 0 558px,#ddf 0 560px,#fef 0 562px,#dce 0 565px,#fbb 0 569px,#fcc 0 571px,#eef 0 573px,#fcc 0 575px,#dce 0 579px,#fff 0 583px,#ddf 0 586px)"></div>
<div class="a" style="left:0;width:587px;top:403.68px;height:13.92px;background:linear-gradient(90deg,#fcc 0 3px,#ede 0 6px,#dcf 0 10px,#ebc 0 13px,#faa 0 17px,#eef 0 20px,#ccf 0 23px,#fbb 0 26px,#f88 0 29px,#eab 0 31px,#f88 0 34px,#ede 0 36px,#fbb 0 39px,#ecc 0 46px,#fbb 0 48px,#ebc 0 52px,#eaa 0 56px,#f99 0 58px,#eee 0 60px,#ede 0 65px,#dce 0 69px,#f99 0 71px,#ecd 0 75px,#fbb 0 77px,#ecd 0 81px,#eab 0 83px,#fbb 0 86px,#f88 0 91px,#f99 0 94px,#eef 0 97px,#bbf 0 100px,#fdd 0 103px,#fcd 0 105px,#e89 0 109px,#ebd 0 113px,#fcc 0 117px,#faa 0 120px,#eef 0 122px,#fee 0 124px,#dbc 0 128px,#ede 0 130px,#ebc 0 133px,#f99 0 137px,#ebd 0 139px,#cbe 0 143px,#dcf 0 147px,#f88 0 149px,#dce 0 153px,#aaf 0 156px,#ede 0 159px,#fee 0 161px,#edd 0 165px,#ccf 0 167px,#fbb 0 171px,#fee 0 173px,#ecc 0 176px,#eef 0 178px,#ccf 0 181px,#fcc 0 182px,#fff 0 186px,#fcc 0 189px,#faa 0 193px,#e99 0 197px,#fbb 0 199px,#dce 0 201px,#fcd 0 205px,#fbb 0 211px,#f66 0 215px,#fdd 0 217px,#ebc 0 220px,#f66 0 223px,#d9b 0 226px,#fcc 0 228px,#f77 0 231px,#ecd 0 233px,#fdd 0 236px,#eef 0 239px,#edd 0 243px,#faa 0 245px,#eab 0 248px,#ecd 0 252px,#faa 0 254px,#fbb 0 258px,#edd 0 260px,#e9a 0 264px,#ecd 0 268px,#fde 0 271px,#dde 0 274px,#ecd 0 278px,#fcc 0 281px,#ede 0 283px,#ecc 0 287px,#faa 0 289px,#ddf 0 292px,#ecd 0 295px,#eee 0 297px,#ddf 0 299px,#ede 0 302px,#fdd 0 304px,#fcc 0 306px,#a9e 0 309px,#eef 0 313px,#baf 0 315px,#ccf 0 317px,#dcd 0 319px,#98e 0 323px,#ddf 0 326px,#fdd 0 330px,#fcc 0 336px,#eab 0 338px,#ccf 0 340px,#cbf 0 344px,#fdd 0 348px,#fbc 0 351px,#dcf 0 354px,#bbf 0 357px,#fde 0 359px,#faa 0 361px,#fcd 0 364px,#ece 0 368px,#f88 0 371px,#eee 0 373px,#fbb 0 376px,#bbf 0 378px,#ebc 0 380px,#dce 0 382px,#eef 0 384px,#bbf 0 388px,#fcc 0 391px,#ede 0 394px,#ddf 0 396px,#ebc 0 400px,#ccf 0 402px,#b9d 0 404px,#ebc 0 406px,#ecd 0 410px,#eee 0 413px,#cce 0 416px,#a9d 0 419px,#edd 0 422px,#aaf 0 425px,#fff 0 430px,#fef 0 434px,#fff 0 442px,#cbe 0 445px,#dce 0 449px,#eef 0 451px,#ede 0 454px,#ccf 0 457px,#eef 0 459px,#ccf 0 461px,#aaf 0 463px,#ccf 0 467px,#dcf 0 470px,#ccf 0 472px,#a9e 0 476px,#ede 0 480px,#ccf 0 482px,#99e 0 486px,#ddf 0 488px,#bbf 0 492px,#ccf 0 495px,#ddf 0 497px,#ccf 0 499px,#edf 0 502px,#ccf 0 504px,#98e 0 505px,#fff 0 510px,#dde 0 513px,#dcf 0 517px,#ede 0 519px,#e89 0 521px,#f99 0 523px,#cce 0 527px,#fbb 0 529px,#ddf 0 533px,#ede 0 536px,#ccf 0 538px,#ecd 0 541px,#66e 0 543px,#ddf 0 545px,#88e 0 549px,#bae 0 552px,#dce 0 555px,#baf 0 558px,#edf 0 560px,#ddf 0 565px,#cad 0 569px,#eef 0 571px,#ddf 0 573px,#f99 0 575px,#bbf 0 579px,#fff 0 583px,#ddf 0 586px)"></div>
</div>
<div class="a" style="left:27.4px;top:1634.90px;width:14.3px;height:14.22px;background:#fa88f8"></div>
<div class="a" style="left:44.5px;top:1634.90px;width:14.4px;height:14.22px;background:#ff1010"></div>
<div class="a" style="left:61.8px;top:1634.90px;width:14.5px;height:14.22px;background:#ff3838"></div>
<div class="t r" style="left:670.3px;top:1635.66px">KEGG<s>_</s>CELL<s>_</s>ADHESION<s>_</s>MOLECULES<s>_</s>CAMS **</div>
<div class="a" style="left:27.4px;top:1648.82px;width:14.3px;height:14.22px;background:#fa88f8"></div>
<div class="a" style="left:44.5px;top:1648.82px;width:14.4px;height:14.22px;background:#ff4848"></div>
<div class="a" style="left:61.8px;top:1648.82px;width:14.5px;height:14.22px;background:#ff5858"></div>
<div class="t r" style="left:670.3px;top:1649.58px">KEGG<s>_</s>SYSTEMIC<s>_</s>LUPUS<s>_</s>ERYTHEMATOSUS **</div>
<div class="a" style="left:27.4px;top:1662.74px;width:14.3px;height:14.22px;background:#fa88f8"></div>
<div class="a" style="left:44.5px;top:1662.74px;width:14.4px;height:14.22px;background:#ff1818"></div>
<div class="a" style="left:61.8px;top:1662.74px;width:14.5px;height:14.22px;background:#ff4040"></div>
<div class="t r" style="left:670.3px;top:1663.50px">KEGG<s>_</s>INTESTINAL<s>_</s>IMMUNE<s>_</s>NETWORK<s>_</s>FOR<s>_</s>IGA<s>_</s>PRODUCTION **</div>
<div class="a" style="left:27.4px;top:1676.66px;width:14.3px;height:14.22px;background:#fa88f8"></div>
<div class="a" style="left:44.5px;top:1676.66px;width:14.4px;height:14.22px;background:#ff0808"></div>
<div class="a" style="left:61.8px;top:1676.66px;width:14.5px;height:14.22px;background:#ff4848"></div>
<div class="t r" style="left:670.3px;top:1677.42px">KEGG<s>_</s>HEMATOPOIETIC<s>_</s>CELL<s>_</s>LINEAGE **</div>
<div class="a" style="left:27.4px;top:1690.58px;width:14.3px;height:14.22px;background:#fa88f8"></div>
<div class="a" style="left:44.5px;top:1690.58px;width:14.4px;height:14.22px;background:#ffd8d8"></div>
<div class="a" style="left:61.8px;top:1690.58px;width:14.5px;height:14.22px;background:#ff6464"></div>
<div class="t r" style="left:670.3px;top:1691.34px">KEGG<s>_</s>PYRIMIDINE<s>_</s>METABOLISM **</div>
<div class="a" style="left:27.4px;top:1704.50px;width:14.3px;height:14.22px;background:#fa88f8"></div>
<div class="a" style="left:44.5px;top:1704.50px;width:14.4px;height:14.22px;background:#ffd0d0"></div>
<div class="a" style="left:61.8px;top:1704.50px;width:14.5px;height:14.22px;background:#ff3030"></div>
<div class="t r" style="left:670.3px;top:1705.26px">KEGG<s>_</s>N<s>_</s>GLYCAN<s>_</s>BIOSYNTHESIS **</div>
<div class="a" style="left:27.4px;top:1718.42px;width:14.3px;height:14.22px;background:#fa88f8"></div>
<div class="a" style="left:44.5px;top:1718.42px;width:14.4px;height:14.22px;background:#ffe0e0"></div>
<div class="a" style="left:61.8px;top:1718.42px;width:14.5px;height:14.22px;background:#ff6060"></div>
<div class="t r" style="left:670.3px;top:1719.18px">KEGG<s>_</s>INOSITOL<s>_</s>PHOSPHATE<s>_</s>METABOLISM **</div>
<div class="a" style="left:27.4px;top:1732.34px;width:14.3px;height:14.22px;background:#fa88f8"></div>
<div class="a" style="left:44.5px;top:1732.34px;width:14.4px;height:14.22px;background:#ff9090"></div>
<div class="a" style="left:61.8px;top:1732.34px;width:14.5px;height:14.22px;background:#ff6060"></div>
<div class="t r" style="left:670.3px;top:1733.10px">KEGG<s>_</s>VIRAL<s>_</s>MYOCARDITIS **</div>
<div class="a" style="left:27.4px;top:1746.26px;width:14.3px;height:14.22px;background:#fa88f8"></div>
<div class="a" style="left:44.5px;top:1746.26px;width:14.4px;height:14.22px;background:#ff9090"></div>
<div class="a" style="left:61.8px;top:1746.26px;width:14.5px;height:14.22px;background:#ff4040"></div>
<div class="t r" style="left:670.3px;top:1747.02px">KEGG<s>_</s>SPHINGOLIPID<s>_</s>METABOLISM **</div>
<div class="a" style="left:27.4px;top:1760.18px;width:14.3px;height:14.22px;background:#fa88f8"></div>
<div class="a" style="left:44.5px;top:1760.18px;width:14.4px;height:14.22px;background:#ff3030"></div>
<div class="a" style="left:61.8px;top:1760.18px;width:14.5px;height:14.22px;background:#ff0808"></div>
<div class="t r" style="left:670.3px;top:1760.94px">KEGG<s>_</s>BIOSYNTHESIS<s>_</s>OF<s>_</s>UNSATURATED<s>_</s>FATTY<s>_</s>ACIDS **</div>
<div class="a" style="left:27.4px;top:1774.10px;width:14.3px;height:14.22px;background:#fa88f8"></div>
<div class="a" style="left:44.5px;top:1774.10px;width:14.4px;height:14.22px;background:#ffa0a0"></div>
<div class="a" style="left:61.8px;top:1774.10px;width:14.5px;height:14.22px;background:#ff5858"></div>
<div class="t" style="left:670.3px;top:1774.86px">KEGG<s>_</s>ALLOGRAFT<s>_</s>REJECTION</div>
<div class="a" style="left:27.4px;top:1788.02px;width:14.3px;height:14.22px;background:#fa88f8"></div>
<div class="a" style="left:44.5px;top:1788.02px;width:14.4px;height:14.22px;background:#ffa0a0"></div>
<div class="a" style="left:61.8px;top:1788.02px;width:14.5px;height:14.22px;background:#ff5c5c"></div>
<div class="t" style="left:670.3px;top:1788.78px">KEGG<s>_</s>ANTIGEN<s>_</s>PROCESSING<s>_</s>AND<s>_</s>PRESENTATION</div>
<div class="a" style="left:27.4px;top:1801.94px;width:14.3px;height:14.22px;background:#fa88f8"></div>
<div class="a" style="left:44.5px;top:1801.94px;width:14.4px;height:14.22px;background:#ffd8d8"></div>
<div class="a" style="left:61.8px;top:1801.94px;width:14.5px;height:14.22px;background:#ff6060"></div>
<div class="t" style="left:670.3px;top:1802.70px">KEGG<s>_</s>ASTHMA</div>
<div class="a" style="left:27.4px;top:1815.86px;width:14.3px;height:14.22px;background:#fa88f8"></div>
<div class="a" style="left:44.5px;top:1815.86px;width:14.4px;height:14.22px;background:#ff7070"></div>
<div class="a" style="left:61.8px;top:1815.86px;width:14.5px;height:14.22px;background:#ff4040"></div>
<div class="t" style="left:670.3px;top:1816.62px">KEGG<s>_</s>AUTOIMMUNE<s>_</s>THYROID<s>_</s>DISEASE</div>
<div class="a" style="left:27.4px;top:1829.78px;width:14.3px;height:14.22px;background:#fa88f8"></div>
<div class="a" style="left:44.5px;top:1829.78px;width:14.4px;height:14.22px;background:#ff7878"></div>
<div class="a" style="left:61.8px;top:1829.78px;width:14.5px;height:14.22px;background:#ff6868"></div>
<div class="t" style="left:670.3px;top:1830.54px">KEGG<s>_</s>CHEMOKINE<s>_</s>SIGNALING<s>_</s>PATHWAY</div>
<div class="a" style="left:27.4px;top:1843.70px;width:14.3px;height:14.22px;background:#fa88f8"></div>
<div class="a" style="left:44.5px;top:1843.70px;width:14.4px;height:14.22px;background:#ff0000"></div>
<div class="a" style="left:61.8px;top:1843.70px;width:14.5px;height:14.22px;background:#ff6060"></div>
<div class="t" style="left:670.3px;top:1844.46px">KEGG<s>_</s>CYTOKINE<s>_</s>CYTOKINE<s>_</s>RECEPTOR<s>_</s>INTERACTION</div>
<div class="a" style="left:27.4px;top:1857.62px;width:14.3px;height:14.22px;background:#fa88f8"></div>
<div class="a" style="left:44.5px;top:1857.62px;width:14.4px;height:14.22px;background:#ff1818"></div>
<div class="a" style="left:61.8px;top:1857.62px;width:14.5px;height:14.22px;background:#ff5858"></div>
<div class="t" style="left:670.3px;top:1858.38px">KEGG<s>_</s>ECM<s>_</s>RECEPTOR<s>_</s>INTERACTION</div>
<div class="a" style="left:27.4px;top:1871.54px;width:14.3px;height:14.22px;background:#fa88f8"></div>
<div class="a" style="left:44.5px;top:1871.54px;width:14.4px;height:14.22px;background:#ffd0d0"></div>
<div class="a" style="left:61.8px;top:1871.54px;width:14.5px;height:14.22px;background:#ff3838"></div>
<div class="t" style="left:670.3px;top:1872.30px">KEGG<s>_</s>GLYCOSPHINGOLIPID<s>_</s>BIOSYNTHESIS<s>_</s>GANGLIO<s>_</s>SERIES</div>
<div class="a" style="left:27.4px;top:1885.46px;width:14.3px;height:14.22px;background:#fa88f8"></div>
<div class="a" style="left:44.5px;top:1885.46px;width:14.4px;height:14.22px;background:#ff8080"></div>
<div class="a" style="left:61.8px;top:1885.46px;width:14.5px;height:14.22px;background:#ff6060"></div>
<div class="t" style="left:670.3px;top:1886.22px">KEGG<s>_</s>GRAFT<s>_</s>VERSUS<s>_</s>HOST<s>_</s>DISEASE</div>
<div class="a" style="left:27.4px;top:1899.38px;width:14.3px;height:14.22px;background:#fa88f8"></div>
<div class="a" style="left:44.5px;top:1899.38px;width:14.4px;height:14.22px;background:#ffe8e8"></div>
<div class="a" style="left:61.8px;top:1899.38px;width:14.5px;height:14.22px;background:#ff6060"></div>
<div class="t" style="left:670.3px;top:1900.14px">KEGG<s>_</s>SELENOAMINO<s>_</s>ACID<s>_</s>METABOLISM</div>
<div class="a" style="left:27.4px;top:1913.30px;width:14.3px;height:14.22px;background:#fa88f8"></div>
<div class="a" style="left:44.5px;top:1913.30px;width:14.4px;height:14.22px;background:#ff9090"></div>
<div class="a" style="left:61.8px;top:1913.30px;width:14.5px;height:14.22px;background:#ff1818"></div>
<div class="t" style="left:670.3px;top:1914.06px">KEGG<s>_</s>OTHER<s>_</s>GLYCAN<s>_</s>DEGRADATION</div>
<div class="a" style="left:27.4px;top:1927.22px;width:14.3px;height:14.22px;background:#fa88f8"></div>
<div class="a" style="left:44.5px;top:1927.22px;width:14.4px;height:14.22px;background:#ff5050"></div>
<div class="a" style="left:61.8px;top:1927.22px;width:14.5px;height:14.22px;background:#ff5050"></div>
<div class="t" style="left:670.3px;top:1927.98px">KEGG<s>_</s>LEISHMANIA<s>_</s>INFECTION</div>
<div class="a" style="left:27.4px;top:1941.14px;width:14.3px;height:14.22px;background:#fa88f8"></div>
<div class="a" style="left:44.5px;top:1941.14px;width:14.4px;height:14.22px;background:#ff6060"></div>
<div class="a" style="left:61.8px;top:1941.14px;width:14.5px;height:14.22px;background:#ff6464"></div>
<div class="t" style="left:670.3px;top:1941.90px">KEGG<s>_</s>LEUKOCYTE<s>_</s>TRANSENDOTHELIAL<s>_</s>MIGRATION</div>
<div class="a" style="left:27.4px;top:1955.06px;width:14.3px;height:14.22px;background:#fa88f8"></div>
<div class="a" style="left:44.5px;top:1955.06px;width:14.4px;height:14.22px;background:#ffb0b0"></div>
<div class="a" style="left:61.8px;top:1955.06px;width:14.5px;height:14.22px;background:#ff6464"></div>
<div class="t" style="left:670.3px;top:1955.82px">KEGG<s>_</s>TOLL<s>_</s>LIKE<s>_</s>RECEPTOR<s>_</s>SIGNALING<s>_</s>PATHWAY</div>
<div class="a" style="left:27.4px;top:1968.98px;width:14.3px;height:14.22px;background:#fa88f8"></div>
<div class="a" style="left:44.5px;top:1968.98px;width:14.4px;height:14.22px;background:#ffb0b0"></div>
<div class="a" style="left:61.8px;top:1968.98px;width:14.5px;height:14.22px;background:#ff4848"></div>
<div class="t" style="left:670.3px;top:1969.74px">KEGG<s>_</s>VIBRIO<s>_</s>CHOLERAE<s>_</s>INFECTION</div>
<div class="a" style="left:27.4px;top:1982.90px;width:14.3px;height:14.22px;background:#fa88f8"></div>
<div class="a" style="left:44.5px;top:1982.90px;width:14.4px;height:14.22px;background:#ff1818"></div>
<div class="a" style="left:61.8px;top:1982.90px;width:14.5px;height:14.22px;background:#ff1010"></div>
<div class="t" style="left:670.3px;top:1983.66px">KEGG<s>_</s>PRIMARY<s>_</s>IMMUNODEFICIENCY</div>
<div class="a" style="left:27.4px;top:1996.82px;width:14.3px;height:14.22px;background:#fa88f8"></div>
<div class="a" style="left:44.5px;top:1996.82px;width:14.4px;height:14.22px;background:#ffc8c8"></div>
<div class="a" style="left:61.8px;top:1996.82px;width:14.5px;height:14.22px;background:#ff6868"></div>
<div class="t" style="left:670.3px;top:1997.58px">KEGG<s>_</s>PHOSPHATIDYLINOSITOL<s>_</s>SIGNALING<s>_</s>SYSTEM</div>
<div class="a" style="left:27.4px;top:2010.74px;width:14.3px;height:14.22px;background:#fa88f8"></div>
<div class="a" style="left:44.5px;top:2010.74px;width:14.4px;height:14.22px;background:#ff9090"></div>
<div class="a" style="left:61.8px;top:2010.74px;width:14.5px;height:14.22px;background:#ff6868"></div>
<div class="t" style="left:670.3px;top:2011.50px">KEGG<s>_</s>PURINE<s>_</s>METABOLISM</div>
<div class="a" style="left:27.4px;top:2024.66px;width:14.3px;height:14.22px;background:#fa88f8"></div>
<div class="a" style="left:44.5px;top:2024.66px;width:14.4px;height:14.22px;background:#fff0f0"></div>
<div class="a" style="left:61.8px;top:2024.66px;width:14.5px;height:14.22px;background:#ff6c6c"></div>
<div class="t" style="left:670.3px;top:2025.42px">KEGG<s>_</s>TAURINE<s>_</s>AND<s>_</s>HYPOTAURINE<s>_</s>METABOLISM</div>
<div class="a" style="left:27.4px;top:2038.58px;width:14.3px;height:13.92px;background:#fa88f8"></div>
<div class="a" style="left:44.5px;top:2038.58px;width:14.4px;height:13.92px;background:#ff4848"></div>
<div class="a" style="left:61.8px;top:2038.58px;width:14.5px;height:13.92px;background:#ff4c4c"></div>
<div class="t" style="left:670.3px;top:2039.34px">KEGG<s>_</s>TYPE<s>_</s>I<s>_</s>DIABETES<s>_</s>MELLITUS</div>
<div class="t b" style="left:42.5px;top:2055.6px;transform-origin:0 0;transform:rotate(90deg)">Regulate</div>
<div class="t b" style="left:59.7px;top:2055.6px;transform-origin:0 0;transform:rotate(90deg)">−log10(FDR)</div>
<div class="t b" style="left:77.0px;top:2055.6px;transform-origin:0 0;transform:rotate(90deg)">logFC</div>
<div class="a" style="left:1170.7px;top:1147.1px;width:10.8px;height:160.9px;background:linear-gradient(180deg,#ff0a0a 0%,#ffffff 50%,#6a58f0 100%)"></div>
<div class="t" style="left:1188.5px;top:1157.5px">2</div>
<div class="t" style="left:1188.5px;top:1189.9px">1</div>
<div class="t" style="left:1188.5px;top:1220.5px">0</div>
<div class="t" style="left:1184.5px;top:1252.8px">−1</div>
<div class="t" style="left:1184.5px;top:1285.2px">−2</div>
<div class="t b" style="left:1213.8px;top:1145.3px">Sample</div>
<div class="a" style="left:1213.8px;top:1163.6px;width:21.6px;height:21.4px;background:#ff3030"></div>
<div class="t" style="left:1239.9px;top:1168.6px">GSE10334_Case(183)</div>
<div class="a" style="left:1213.8px;top:1184.9px;width:21.6px;height:21.4px;background:#ffff30"></div>
<div class="t" style="left:1239.9px;top:1189.9px">GSE16134_Case(241)</div>
<div class="a" style="left:1213.8px;top:1206.2px;width:21.6px;height:21.4px;background:#30e830"></div>
<div class="t" style="left:1239.9px;top:1211.2px">GSE23586_Case(3)</div>
<div class="a" style="left:1213.8px;top:1227.5px;width:21.6px;height:21.4px;background:#30ffff"></div>
<div class="t" style="left:1239.9px;top:1232.5px">GSE10334_Control(64)</div>
<div class="a" style="left:1213.8px;top:1248.8px;width:21.6px;height:21.4px;background:#3030ff"></div>
<div class="t" style="left:1239.9px;top:1253.8px">GSE16134_Control(69)</div>
<div class="a" style="left:1213.8px;top:1270.1px;width:21.6px;height:21.4px;background:#ff30ff"></div>
<div class="t" style="left:1239.9px;top:1275.1px">GSE23586_Control(3)</div>
<div class="t b" style="left:1213.8px;top:1307.5px">Regulate</div>
<div class="a" style="left:1213.8px;top:1325.9px;width:21.6px;height:21.4px;background:#fa88f8"></div>
<div class="t" style="left:1239.9px;top:1330.9px">DE−Pathway up</div>
<div class="a" style="left:1213.8px;top:1347.1px;width:21.6px;height:21.4px;background:#8ecfd0"></div>
<div class="t" style="left:1239.9px;top:1352.1px">DE−Pathway down</div>
<div class="t b" style="left:1213.8px;top:1382.9px"><span class="m">−</span>log10(FDR)</div>
<div class="a" style="left:1213.8px;top:1401.9px;width:21.6px;height:21.4px;background:#ff0000"></div>
<div class="a" style="left:1213.8px;top:1423.2px;width:21.6px;height:21.4px;background:#ff5555"></div>
<div class="a" style="left:1213.8px;top:1444.5px;width:21.6px;height:21.4px;background:#ffaaaa"></div>
<div class="t" style="left:1239.9px;top:1405.5px">35</div>
<div class="t" style="left:1239.9px;top:1470.2px">10</div>
<div class="t b" style="left:1213.8px;top:1502.4px">logFC</div>
<div class="a" style="left:1213.8px;top:1520.9px;width:21.6px;height:21.6px;background:#ff0000"></div>
<div class="a" style="left:1213.8px;top:1542.3px;width:21.6px;height:21.6px;background:#ffa0a0"></div>
<div class="a" style="left:1213.8px;top:1563.7px;width:21.6px;height:21.6px;background:#a8a8ff"></div>
<div class="a" style="left:1213.8px;top:1585.1px;width:21.6px;height:21.6px;background:#0000ff"></div>
<div class="t" style="left:1239.9px;top:1524.2px">0.4</div>
<div class="t" style="left:1239.9px;top:1588.9px">−0.6</div>
</body></html>
